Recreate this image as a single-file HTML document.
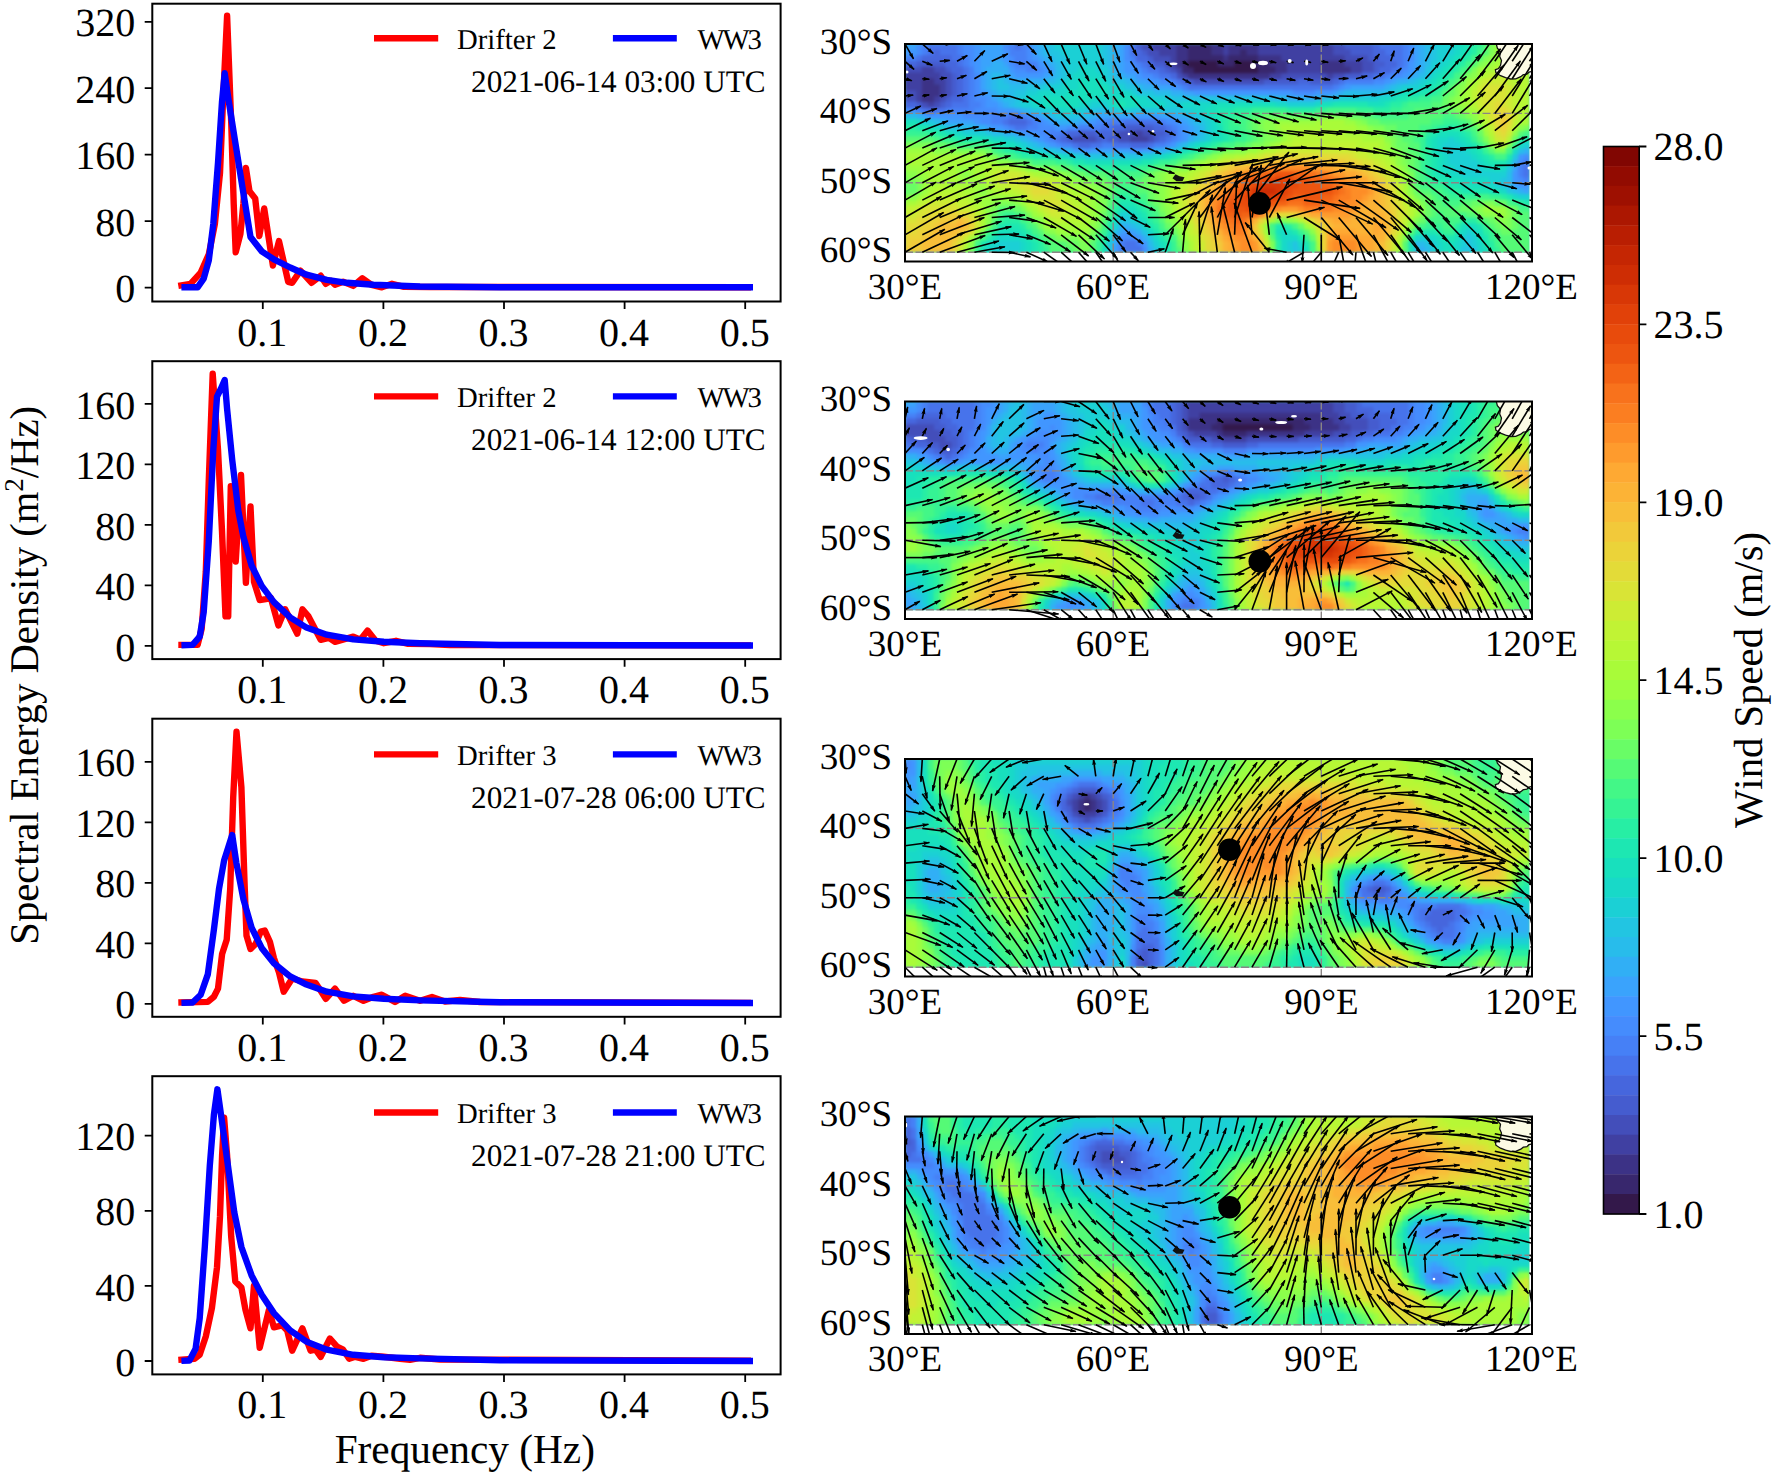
<!DOCTYPE html>
<html lang="en"><head><meta charset="utf-8"><title>Spectral energy density and wind speed</title>
<style>html,body{margin:0;padding:0;background:#fff}svg{display:block}text{font-family:"Liberation Serif", "DejaVu Serif", serif;fill:#000;font-kerning:none;text-rendering:geometricPrecision}.t40{font-size:40px}.tm{font-size:37px}.tl{font-size:28.7px}.td{font-size:31.2px}.sp{fill:none;stroke:#000;stroke-width:2}.tk{stroke:#000;stroke-width:1.8;fill:none}.r{fill:none;stroke:#f00;stroke-width:6.4;stroke-linejoin:round;stroke-linecap:butt}.b{fill:none;stroke:#00f;stroke-width:6.4;stroke-linejoin:round;stroke-linecap:butt}.q path{stroke:#000;stroke-width:1.6;fill:none;marker-end:url(#ah)}.gl{stroke:#8a8585;stroke-width:1.4;fill:none;stroke-dasharray:8 2.5}</style></head><body>
<svg width="1772" height="1475" viewBox="0 0 1772 1475">
<defs><marker id="ah" markerUnits="userSpaceOnUse" markerWidth="8" markerHeight="5" refX="6" refY="2" orient="auto"><path d="M0 0L6.8 2L0 4L0.9 2Z" fill="#000" stroke="none"/></marker>
<filter id="bl" x="-5%" y="-10%" width="110%" height="120%" color-interpolation-filters="sRGB"><feGaussianBlur stdDeviation="1.4"/></filter>
<clipPath id="cd0"><rect x="905" y="44" width="624.5" height="208.7"/></clipPath>
<clipPath id="ca0"><rect x="905" y="44" width="627" height="217.5"/></clipPath>
<clipPath id="cd1"><rect x="905" y="401.5" width="624.5" height="208.7"/></clipPath>
<clipPath id="ca1"><rect x="905" y="401.5" width="627" height="217.5"/></clipPath>
<clipPath id="cd2"><rect x="905" y="759" width="624.5" height="208.7"/></clipPath>
<clipPath id="ca2"><rect x="905" y="759" width="627" height="217.5"/></clipPath>
<clipPath id="cd3"><rect x="905" y="1116.5" width="624.5" height="208.7"/></clipPath>
<clipPath id="ca3"><rect x="905" y="1116.5" width="627" height="217.5"/></clipPath>
</defs>
<rect width="1772" height="1475" fill="#fff"/>
<g>
<clipPath id="cp0"><rect x="152.3" y="3.7" width="628.3" height="297.8"/></clipPath>
<g clip-path="url(#cp0)">
<polyline class="r" points="178.3,285.9 190.5,283.8 200.7,272.6 208.8,254.3 214.9,223.8 220,172.9 223,101.7 227.1,15.8 231.2,122 233.7,203.5 235.7,252.3 240.4,234 243.4,203.5 245.9,167.9 249.5,191.3 255.2,198.4 259.3,236 264.2,208.5 272.9,265.5 279,241.1 288.2,281.8 292.2,282.8 300.4,270.6 311.6,282.8 320.7,275.7 325.8,283.8 330.9,280.8 335,284.8 343.1,281.8 353.3,285.9 362.4,278.3 371.6,284.8 381.8,287.3 392,283.8 404,286.9 430,287 751,287.2"/>
<polyline class="b" points="181.4,287.3 197.6,287.3 203.7,278.7 208.8,260.4 213.3,223.8 218,162.8 222,101.7 224.7,73.2 228.2,97.7 235.3,142.4 243.4,193.3 250.5,237 261.7,251.3 273.9,259.4 290.2,267.5 306.5,274.7 326.8,279.8 347.2,282.8 373.6,284.8 420,286.5 500,287.2 753,287.3"/>
</g>
<rect class="sp" x="152.3" y="3.7" width="628.3" height="297.8"/>
<path class="tk" d="M262.8 301.5v7.6M383.4 301.5v7.6M504 301.5v7.6M624.6 301.5v7.6M745.2 301.5v7.6M152.3 287.6h-7.6M152.3 221.2h-7.6M152.3 154.7h-7.6M152.3 88.2h-7.6M152.3 21.8h-7.6"/>
<text class="t40" x="262.3" y="345.5" text-anchor="middle">0.1</text>
<text class="t40" x="382.9" y="345.5" text-anchor="middle">0.2</text>
<text class="t40" x="503.5" y="345.5" text-anchor="middle">0.3</text>
<text class="t40" x="624.1" y="345.5" text-anchor="middle">0.4</text>
<text class="t40" x="744.7" y="345.5" text-anchor="middle">0.5</text>
<text class="t40" x="135.3" y="302.2" text-anchor="end">0</text>
<text class="t40" x="135.3" y="235.8" text-anchor="end">80</text>
<text class="t40" x="135.3" y="169.3" text-anchor="end">160</text>
<text class="t40" x="135.3" y="102.8" text-anchor="end">240</text>
<text class="t40" x="135.3" y="36.4" text-anchor="end">320</text>
<path d="M374 38.3H438.2" stroke="#f00" stroke-width="6.4" fill="none"/>
<path d="M612.9 38.3H676.8" stroke="#00f" stroke-width="6.4" fill="none"/>
<text class="tl" x="457" y="48.9">Drifter 2</text>
<text class="tl" x="697.4" y="48.9" letter-spacing="-2">WW3</text>
<text class="td" x="765.6" y="91.5" text-anchor="end">2021-06-14 03:00 UTC</text>
</g>
<g>
<clipPath id="cp1"><rect x="152.3" y="361.2" width="628.3" height="297.9"/></clipPath>
<g clip-path="url(#cp1)">
<polyline class="r" points="178.3,644.9 197.6,644.9 201.7,628.6 205.8,571.6 208.8,480.1 212.7,373.8 218,449.6 222,531 225.5,616.4 228.2,616.4 230.8,486.2 235.7,561.5 241,475 245.9,582.8 250.5,506.5 254,581.8 259.7,600.1 265.8,599.1 270.9,598.1 278.4,625.5 285.1,609.3 297.3,633.7 302.4,609.3 308.5,616.4 320.7,639.8 328.9,637.8 335,641.8 353.3,636.7 360.4,639.8 367.5,630.6 375.7,640.8 383.8,643.2 396,640.8 408.2,643.9 430,644 450,645 751,645.4"/>
<polyline class="b" points="181.4,645.3 192.6,644.9 199.7,636.7 203.7,612.3 208.8,541.1 213.3,449.6 217,396.7 221,388.5 224.7,380 227.1,408.9 232.2,459.7 238.3,510.6 243.4,537 251.6,565.5 261.7,585.9 273.9,602.1 290.2,617.4 306.5,627.6 326.8,634.7 353.3,639.4 383.8,641.8 420,643.2 500,645 753,645.5"/>
</g>
<rect class="sp" x="152.3" y="361.2" width="628.3" height="297.9"/>
<path class="tk" d="M262.8 659.1v7.6M383.4 659.1v7.6M504 659.1v7.6M624.6 659.1v7.6M745.2 659.1v7.6M152.3 645.9h-7.6M152.3 585.4h-7.6M152.3 524.9h-7.6M152.3 464.4h-7.6M152.3 403.9h-7.6"/>
<text class="t40" x="262.3" y="703.1" text-anchor="middle">0.1</text>
<text class="t40" x="382.9" y="703.1" text-anchor="middle">0.2</text>
<text class="t40" x="503.5" y="703.1" text-anchor="middle">0.3</text>
<text class="t40" x="624.1" y="703.1" text-anchor="middle">0.4</text>
<text class="t40" x="744.7" y="703.1" text-anchor="middle">0.5</text>
<text class="t40" x="135.3" y="660.5" text-anchor="end">0</text>
<text class="t40" x="135.3" y="600" text-anchor="end">40</text>
<text class="t40" x="135.3" y="539.5" text-anchor="end">80</text>
<text class="t40" x="135.3" y="479" text-anchor="end">120</text>
<text class="t40" x="135.3" y="418.5" text-anchor="end">160</text>
<path d="M374 396.4H438.2" stroke="#f00" stroke-width="6.4" fill="none"/>
<path d="M612.9 396.4H676.8" stroke="#00f" stroke-width="6.4" fill="none"/>
<text class="tl" x="457" y="406.9">Drifter 2</text>
<text class="tl" x="697.4" y="406.9" letter-spacing="-2">WW3</text>
<text class="td" x="765.6" y="449.6" text-anchor="end">2021-06-14 12:00 UTC</text>
</g>
<g>
<clipPath id="cp2"><rect x="152.3" y="718.7" width="628.3" height="298.1"/></clipPath>
<g clip-path="url(#cp2)">
<polyline class="r" points="178.3,1002.5 207.8,1001.9 213.9,996.8 218,988.6 222.1,954 226.7,939.8 230.2,889 233.2,797.4 236.5,731.8 241.4,787.2 244.4,878.8 246.5,935.7 250.5,949 255.6,943.9 260.7,931.7 264.8,930.6 269.9,941.8 273.9,958.1 279,972.4 283.7,991.7 292.2,978.5 302.4,981.5 315.6,983 320.7,990.7 325.8,998.8 335,988.6 344.1,1000.8 353.3,995.8 363.5,1000.8 373.6,996.8 381.8,994.7 395,1001.9 405.2,995.8 420,1000.8 432,997 445,1001.5 460,1000 480,1002 751,1002.9"/>
<polyline class="b" points="181.4,1002.9 192.6,1002.5 200.7,994.7 207.8,974.4 213.9,929.6 219,888.9 224.1,860.5 232.2,835 236.3,862.5 243.4,899.1 251.6,927.6 261.7,947.9 273.9,963.2 290.2,976.4 306.5,984.6 326.8,991.7 353.3,996.4 383.8,998.8 420,1000.4 500,1002.3 753,1003"/>
</g>
<rect class="sp" x="152.3" y="718.7" width="628.3" height="298.1"/>
<path class="tk" d="M262.8 1016.8v7.6M383.4 1016.8v7.6M504 1016.8v7.6M624.6 1016.8v7.6M745.2 1016.8v7.6M152.3 1003.8h-7.6M152.3 943.3h-7.6M152.3 882.8h-7.6M152.3 822.3h-7.6M152.3 761.8h-7.6"/>
<text class="t40" x="262.3" y="1060.8" text-anchor="middle">0.1</text>
<text class="t40" x="382.9" y="1060.8" text-anchor="middle">0.2</text>
<text class="t40" x="503.5" y="1060.8" text-anchor="middle">0.3</text>
<text class="t40" x="624.1" y="1060.8" text-anchor="middle">0.4</text>
<text class="t40" x="744.7" y="1060.8" text-anchor="middle">0.5</text>
<text class="t40" x="135.3" y="1018.4" text-anchor="end">0</text>
<text class="t40" x="135.3" y="957.9" text-anchor="end">40</text>
<text class="t40" x="135.3" y="897.4" text-anchor="end">80</text>
<text class="t40" x="135.3" y="836.9" text-anchor="end">120</text>
<text class="t40" x="135.3" y="776.4" text-anchor="end">160</text>
<path d="M374 754.4H438.2" stroke="#f00" stroke-width="6.4" fill="none"/>
<path d="M612.9 754.4H676.8" stroke="#00f" stroke-width="6.4" fill="none"/>
<text class="tl" x="457" y="765">Drifter 3</text>
<text class="tl" x="697.4" y="765" letter-spacing="-2">WW3</text>
<text class="td" x="765.6" y="807.6" text-anchor="end">2021-07-28 06:00 UTC</text>
</g>
<g>
<clipPath id="cp3"><rect x="152.3" y="1076.2" width="628.3" height="298.2"/></clipPath>
<g clip-path="url(#cp3)">
<polyline class="r" points="178.3,1359.9 194.6,1358.8 199.7,1354.8 205.8,1336.5 211.9,1308 217,1267.3 220,1216.4 222.1,1155.4 224.1,1117.7 227.1,1155.4 231.2,1236.8 235.3,1281.5 241.4,1287.6 245.5,1310 250.5,1328.3 254,1285.6 259.7,1347.7 268.9,1310 273.9,1327.3 282.1,1325.3 287.2,1330.4 292.2,1350.7 302.4,1328.3 310.6,1350.7 315.6,1349.7 320.7,1356.8 329.9,1338.5 337,1346.6 343.1,1349.7 349.2,1358.8 355.3,1356.8 363.5,1358.8 371.6,1355.8 383.8,1356.8 400,1358.8 410,1359.8 420,1357.8 440,1359.5 751,1360.6"/>
<polyline class="b" points="181.4,1360.9 189.5,1360.5 195.6,1348.7 199.7,1318.2 204.8,1247 209.8,1165.6 213.9,1114.7 217.4,1089.3 221,1114.7 227.1,1159.5 234.3,1212.4 241.4,1247 251.6,1275.4 261.7,1294.8 273.9,1313.1 290.2,1330.4 306.5,1341.6 326.8,1349.7 353.3,1354.8 383.8,1357.2 420,1358.4 500,1360.3 753,1361"/>
</g>
<rect class="sp" x="152.3" y="1076.2" width="628.3" height="298.2"/>
<path class="tk" d="M262.8 1374.4v7.6M383.4 1374.4v7.6M504 1374.4v7.6M624.6 1374.4v7.6M745.2 1374.4v7.6M152.3 1361h-7.6M152.3 1285.9h-7.6M152.3 1210.8h-7.6M152.3 1135.7h-7.6"/>
<text class="t40" x="262.3" y="1418.4" text-anchor="middle">0.1</text>
<text class="t40" x="382.9" y="1418.4" text-anchor="middle">0.2</text>
<text class="t40" x="503.5" y="1418.4" text-anchor="middle">0.3</text>
<text class="t40" x="624.1" y="1418.4" text-anchor="middle">0.4</text>
<text class="t40" x="744.7" y="1418.4" text-anchor="middle">0.5</text>
<text class="t40" x="135.3" y="1375.6" text-anchor="end">0</text>
<text class="t40" x="135.3" y="1300.5" text-anchor="end">40</text>
<text class="t40" x="135.3" y="1225.4" text-anchor="end">80</text>
<text class="t40" x="135.3" y="1150.3" text-anchor="end">120</text>
<path d="M374 1112.5H438.2" stroke="#f00" stroke-width="6.4" fill="none"/>
<path d="M612.9 1112.5H676.8" stroke="#00f" stroke-width="6.4" fill="none"/>
<text class="tl" x="457" y="1123.1">Drifter 3</text>
<text class="tl" x="697.4" y="1123.1" letter-spacing="-2">WW3</text>
<text class="td" x="765.6" y="1165.7" text-anchor="end">2021-07-28 21:00 UTC</text>
</g>
<text class="t40" style="font-size:40.7px" transform="translate(37.6 675.3) rotate(-90)" text-anchor="middle">Spectral Energy Density (m<tspan font-size="27" dy="-15">2</tspan><tspan dy="15">/Hz)</tspan></text>
<text class="t40" style="font-size:41.3px" x="464.8" y="1463.3" text-anchor="middle">Frequency (Hz)</text>
<g clip-path="url(#cd0)"><g filter="url(#bl)">
<rect x="885" y="24" width="664.5" height="248.2" fill="#3fd6a8"/>
<path fill="#3aa3fc" d="M904.7 43.7h12.2v6.4h-12.2zM979.9 43.7h23.7v6.4h-23.7zM1031.9 43.7h6.4v6.4h-6.4zM1118.7 43.7h6.4v6.4h-6.4zM1413.6 43.7h6.4v6.4h-6.4zM979.9 49.5h23.7v6.4h-23.7zM1031.9 49.5h6.4v6.4h-6.4zM1118.7 49.5h6.4v6.4h-6.4zM1413.6 49.5h6.4v6.4h-6.4zM979.9 55.3h23.7v6.4h-23.7zM1037.7 55.3h6.4v6.4h-6.4zM1118.7 55.3h6.4v6.4h-6.4zM1413.6 55.3h6.4v6.4h-6.4zM979.9 61h12.2v6.4h-12.2zM1003 61h6.4v6.4h-6.4zM1043.5 61h6.4v6.4h-6.4zM1118.7 61h6.4v6.4h-6.4zM1413.6 61h6.4v6.4h-6.4zM979.9 66.8h6.4v6.4h-6.4zM1049.3 66.8h6.4v6.4h-6.4zM1118.7 66.8h6.4v6.4h-6.4zM1413.6 66.8h6.4v6.4h-6.4zM979.9 72.6h6.4v6.4h-6.4zM1008.8 72.6h6.4v6.4h-6.4zM1043.5 72.6h6.4v6.4h-6.4zM1124.4 72.6h12.2v6.4h-12.2zM1407.8 72.6h6.4v6.4h-6.4zM979.9 78.4h6.4v6.4h-6.4zM1136 78.4h12.2v6.4h-12.2zM1390.4 78.4h6.4v6.4h-6.4zM979.9 84.2h6.4v6.4h-6.4zM1153.3 84.2h17.9v6.4h-17.9zM1350 84.2h35.3v6.4h-35.3zM985.7 90h6.4v6.4h-6.4zM1182.3 90h12.2v6.4h-12.2zM1332.6 90h6.4v6.4h-6.4zM991.4 95.7h6.4v6.4h-6.4zM997.2 101.5h6.4v6.4h-6.4zM1014.6 107.3h6.4v6.4h-6.4zM922 113.1h6.4v6.4h-6.4zM1037.7 113.1h6.4v6.4h-6.4zM1095.5 113.1h41.1v6.4h-41.1zM1159.1 113.1h17.9v6.4h-17.9zM945.2 118.9h29.5v6.4h-29.5zM1049.3 118.9h6.4v6.4h-6.4zM1078.2 118.9h12.2v6.4h-12.2zM1182.3 118.9h6.4v6.4h-6.4zM985.7 124.7h6.4v6.4h-6.4zM1188 124.7h6.4v6.4h-6.4zM1014.6 130.4h6.4v6.4h-6.4zM1188 130.4h6.4v6.4h-6.4zM1031.9 136.2h6.4v6.4h-6.4zM1043.5 142h6.4v6.4h-6.4zM1072.4 147.8h12.2v6.4h-12.2zM1089.7 147.8h41.1v6.4h-41.1zM1141.8 147.8h12.2v6.4h-12.2zM1511.9 165.1h6.4v6.4h-6.4zM1511.9 182.5h6.4v6.4h-6.4zM1523.4 188.3h6.4v6.4h-6.4zM1118.7 228.7h6.4v6.4h-6.4zM1130.2 228.7h6.4v6.4h-6.4zM1112.9 240.3h6.4v6.4h-6.4z"/>
<path fill="#458cfd" d="M916.3 43.7h6.4v6.4h-6.4zM962.5 43.7h12.2v6.4h-12.2zM1003 43.7h6.4v6.4h-6.4zM1026.1 43.7h6.4v6.4h-6.4zM1124.4 43.7h6.4v6.4h-6.4zM1407.8 43.7h6.4v6.4h-6.4zM916.3 49.5h6.4v6.4h-6.4zM962.5 49.5h12.2v6.4h-12.2zM1026.1 49.5h6.4v6.4h-6.4zM1124.4 49.5h6.4v6.4h-6.4zM1407.8 49.5h6.4v6.4h-6.4zM968.3 55.3h6.4v6.4h-6.4zM1008.8 55.3h6.4v6.4h-6.4zM1026.1 55.3h6.4v6.4h-6.4zM1124.4 55.3h6.4v6.4h-6.4zM1407.8 55.3h6.4v6.4h-6.4zM968.3 61h6.4v6.4h-6.4zM1008.8 61h6.4v6.4h-6.4zM1130.2 61h6.4v6.4h-6.4zM1014.6 66.8h12.2v6.4h-12.2zM1037.7 66.8h6.4v6.4h-6.4zM1136 66.8h6.4v6.4h-6.4zM1402 66.8h6.4v6.4h-6.4zM974.1 72.6h6.4v6.4h-6.4zM1141.8 72.6h12.2v6.4h-12.2zM1390.4 72.6h12.2v6.4h-12.2zM974.1 78.4h6.4v6.4h-6.4zM1159.1 78.4h12.2v6.4h-12.2zM1373.1 78.4h12.2v6.4h-12.2zM974.1 84.2h6.4v6.4h-6.4zM1176.5 84.2h6.4v6.4h-6.4zM1338.4 84.2h6.4v6.4h-6.4zM974.1 90h6.4v6.4h-6.4zM1292.1 90h23.7v6.4h-23.7zM974.1 95.7h12.2v6.4h-12.2zM979.9 101.5h6.4v6.4h-6.4zM904.7 107.3h12.2v6.4h-12.2zM974.1 107.3h23.7v6.4h-23.7zM962.5 113.1h29.5v6.4h-29.5zM1026.1 113.1h6.4v6.4h-6.4zM979.9 118.9h12.2v6.4h-12.2zM1037.7 118.9h6.4v6.4h-6.4zM1095.5 118.9h12.2v6.4h-12.2zM1164.9 118.9h12.2v6.4h-12.2zM1003 124.7h6.4v6.4h-6.4zM1037.7 124.7h17.9v6.4h-17.9zM1066.6 124.7h12.2v6.4h-12.2zM1176.5 124.7h6.4v6.4h-6.4zM1037.7 130.4h12.2v6.4h-12.2zM1176.5 130.4h6.4v6.4h-6.4zM1043.5 136.2h6.4v6.4h-6.4zM1176.5 136.2h6.4v6.4h-6.4zM1055 142h6.4v6.4h-6.4zM1164.9 142h6.4v6.4h-6.4zM1523.4 153.6h6.4v6.4h-6.4zM1517.6 159.3h6.4v6.4h-6.4zM1517.6 176.7h6.4v6.4h-6.4zM1118.7 234.5h17.9v6.4h-17.9zM1141.8 246.1h6.4v6.4h-6.4z"/>
<path fill="#4680f6" d="M922 43.7h6.4v6.4h-6.4zM956.7 43.7h6.4v6.4h-6.4zM1008.8 43.7h6.4v6.4h-6.4zM1020.4 43.7h6.4v6.4h-6.4zM1402 43.7h6.4v6.4h-6.4zM922 49.5h6.4v6.4h-6.4zM956.7 49.5h6.4v6.4h-6.4zM1008.8 49.5h17.9v6.4h-17.9zM1402 49.5h6.4v6.4h-6.4zM904.7 55.3h12.2v6.4h-12.2zM962.5 55.3h6.4v6.4h-6.4zM1014.6 55.3h12.2v6.4h-12.2zM1130.2 55.3h6.4v6.4h-6.4zM1402 55.3h6.4v6.4h-6.4zM962.5 61h6.4v6.4h-6.4zM1014.6 61h23.7v6.4h-23.7zM1136 61h6.4v6.4h-6.4zM1402 61h6.4v6.4h-6.4zM968.3 66.8h6.4v6.4h-6.4zM1026.1 66.8h12.2v6.4h-12.2zM1141.8 66.8h6.4v6.4h-6.4zM1396.2 66.8h6.4v6.4h-6.4zM968.3 72.6h6.4v6.4h-6.4zM1153.3 72.6h6.4v6.4h-6.4zM1384.6 72.6h6.4v6.4h-6.4zM968.3 78.4h6.4v6.4h-6.4zM1170.7 78.4h6.4v6.4h-6.4zM1344.2 78.4h29.5v6.4h-29.5zM968.3 84.2h6.4v6.4h-6.4zM1182.3 84.2h6.4v6.4h-6.4zM1332.6 84.2h6.4v6.4h-6.4zM968.3 90h6.4v6.4h-6.4zM968.3 95.7h6.4v6.4h-6.4zM968.3 101.5h12.2v6.4h-12.2zM916.3 107.3h6.4v6.4h-6.4zM945.2 107.3h29.5v6.4h-29.5zM991.4 113.1h17.9v6.4h-17.9zM1020.4 113.1h6.4v6.4h-6.4zM991.4 118.9h12.2v6.4h-12.2zM1031.9 118.9h6.4v6.4h-6.4zM1107.1 118.9h17.9v6.4h-17.9zM1159.1 118.9h6.4v6.4h-6.4zM1008.8 124.7h6.4v6.4h-6.4zM1026.1 124.7h12.2v6.4h-12.2zM1078.2 124.7h23.7v6.4h-23.7zM1170.7 124.7h6.4v6.4h-6.4zM1049.3 130.4h12.2v6.4h-12.2zM1049.3 136.2h6.4v6.4h-6.4zM1170.7 136.2h6.4v6.4h-6.4zM1060.8 142h12.2v6.4h-12.2zM1101.3 142h12.2v6.4h-12.2zM1153.3 142h12.2v6.4h-12.2zM1523.4 159.3h6.4v6.4h-6.4zM1517.6 165.1h6.4v6.4h-6.4zM1517.6 170.9h6.4v6.4h-6.4zM1523.4 176.7h6.4v6.4h-6.4zM1118.7 240.3h6.4v6.4h-6.4zM1136 240.3h6.4v6.4h-6.4zM1118.7 246.1h6.4v6.4h-6.4z"/>
<path fill="#4773eb" d="M927.8 43.7h29.5v6.4h-29.5zM1014.6 43.7h6.4v6.4h-6.4zM1130.2 43.7h6.4v6.4h-6.4zM1378.9 43.7h23.7v6.4h-23.7zM927.8 49.5h6.4v6.4h-6.4zM939.4 49.5h17.9v6.4h-17.9zM1130.2 49.5h6.4v6.4h-6.4zM1384.6 49.5h17.9v6.4h-17.9zM916.3 55.3h6.4v6.4h-6.4zM951 55.3h12.2v6.4h-12.2zM1390.4 55.3h12.2v6.4h-12.2zM956.7 61h6.4v6.4h-6.4zM1141.8 61h6.4v6.4h-6.4zM1396.2 61h6.4v6.4h-6.4zM962.5 66.8h6.4v6.4h-6.4zM1147.6 66.8h12.2v6.4h-12.2zM1390.4 66.8h6.4v6.4h-6.4zM962.5 72.6h6.4v6.4h-6.4zM1159.1 72.6h12.2v6.4h-12.2zM1373.1 72.6h12.2v6.4h-12.2zM962.5 78.4h6.4v6.4h-6.4zM1176.5 78.4h6.4v6.4h-6.4zM1338.4 78.4h6.4v6.4h-6.4zM962.5 84.2h6.4v6.4h-6.4zM1188 84.2h145.2v6.4h-145.2zM962.5 90h6.4v6.4h-6.4zM962.5 95.7h6.4v6.4h-6.4zM951 101.5h17.9v6.4h-17.9zM922 107.3h6.4v6.4h-6.4zM933.6 107.3h12.2v6.4h-12.2zM1008.8 113.1h12.2v6.4h-12.2zM1003 118.9h6.4v6.4h-6.4zM1026.1 118.9h6.4v6.4h-6.4zM1124.4 118.9h35.3v6.4h-35.3zM1014.6 124.7h12.2v6.4h-12.2zM1101.3 124.7h12.2v6.4h-12.2zM1164.9 124.7h6.4v6.4h-6.4zM1060.8 130.4h6.4v6.4h-6.4zM1170.7 130.4h6.4v6.4h-6.4zM1055 136.2h6.4v6.4h-6.4zM1164.9 136.2h6.4v6.4h-6.4zM1072.4 142h6.4v6.4h-6.4zM1089.7 142h12.2v6.4h-12.2zM1112.9 142h17.9v6.4h-17.9zM1147.6 142h6.4v6.4h-6.4zM1523.4 165.1h6.4v6.4h-6.4zM1523.4 170.9h6.4v6.4h-6.4zM1124.4 240.3h12.2v6.4h-12.2zM1124.4 246.1h17.9v6.4h-17.9z"/>
<path fill="#4196ff" d="M974.1 43.7h6.4v6.4h-6.4zM904.7 49.5h12.2v6.4h-12.2zM974.1 49.5h6.4v6.4h-6.4zM1003 49.5h6.4v6.4h-6.4zM974.1 55.3h6.4v6.4h-6.4zM1003 55.3h6.4v6.4h-6.4zM1031.9 55.3h6.4v6.4h-6.4zM974.1 61h6.4v6.4h-6.4zM1037.7 61h6.4v6.4h-6.4zM1124.4 61h6.4v6.4h-6.4zM1407.8 61h6.4v6.4h-6.4zM974.1 66.8h6.4v6.4h-6.4zM1008.8 66.8h6.4v6.4h-6.4zM1043.5 66.8h6.4v6.4h-6.4zM1124.4 66.8h12.2v6.4h-12.2zM1407.8 66.8h6.4v6.4h-6.4zM1014.6 72.6h29.5v6.4h-29.5zM1136 72.6h6.4v6.4h-6.4zM1402 72.6h6.4v6.4h-6.4zM1147.6 78.4h12.2v6.4h-12.2zM1384.6 78.4h6.4v6.4h-6.4zM1170.7 84.2h6.4v6.4h-6.4zM1344.2 84.2h6.4v6.4h-6.4zM979.9 90h6.4v6.4h-6.4zM1193.8 90h98.9v6.4h-98.9zM1315.3 90h17.9v6.4h-17.9zM985.7 95.7h6.4v6.4h-6.4zM985.7 101.5h12.2v6.4h-12.2zM997.2 107.3h17.9v6.4h-17.9zM927.8 113.1h35.3v6.4h-35.3zM1031.9 113.1h6.4v6.4h-6.4zM1136 113.1h23.7v6.4h-23.7zM974.1 118.9h6.4v6.4h-6.4zM1043.5 118.9h6.4v6.4h-6.4zM1089.7 118.9h6.4v6.4h-6.4zM1176.5 118.9h6.4v6.4h-6.4zM991.4 124.7h12.2v6.4h-12.2zM1055 124.7h12.2v6.4h-12.2zM1182.3 124.7h6.4v6.4h-6.4zM1020.4 130.4h17.9v6.4h-17.9zM1182.3 130.4h6.4v6.4h-6.4zM1037.7 136.2h6.4v6.4h-6.4zM1182.3 136.2h6.4v6.4h-6.4zM1049.3 142h6.4v6.4h-6.4zM1170.7 142h6.4v6.4h-6.4zM1084 147.8h6.4v6.4h-6.4zM1130.2 147.8h12.2v6.4h-12.2zM1517.6 153.6h6.4v6.4h-6.4zM1511.9 170.9h6.4v6.4h-6.4zM1511.9 176.7h6.4v6.4h-6.4zM1517.6 182.5h12.2v6.4h-12.2zM1124.4 228.7h6.4v6.4h-6.4zM1136 234.5h6.4v6.4h-6.4zM1141.8 240.3h6.4v6.4h-6.4zM1112.9 246.1h6.4v6.4h-6.4z"/>
<path fill="#31aff5" d="M1037.7 43.7h6.4v6.4h-6.4zM1112.9 43.7h6.4v6.4h-6.4zM1419.3 43.7h6.4v6.4h-6.4zM1037.7 49.5h6.4v6.4h-6.4zM1112.9 49.5h6.4v6.4h-6.4zM1419.3 49.5h6.4v6.4h-6.4zM1043.5 55.3h6.4v6.4h-6.4zM1112.9 55.3h6.4v6.4h-6.4zM1419.3 55.3h6.4v6.4h-6.4zM991.4 61h12.2v6.4h-12.2zM1049.3 61h6.4v6.4h-6.4zM1112.9 61h6.4v6.4h-6.4zM1419.3 61h6.4v6.4h-6.4zM985.7 66.8h23.7v6.4h-23.7zM1112.9 66.8h6.4v6.4h-6.4zM1419.3 66.8h6.4v6.4h-6.4zM985.7 72.6h6.4v6.4h-6.4zM1003 72.6h6.4v6.4h-6.4zM1049.3 72.6h6.4v6.4h-6.4zM1118.7 72.6h6.4v6.4h-6.4zM1413.6 72.6h6.4v6.4h-6.4zM985.7 78.4h6.4v6.4h-6.4zM1008.8 78.4h35.3v6.4h-35.3zM1130.2 78.4h6.4v6.4h-6.4zM1396.2 78.4h12.2v6.4h-12.2zM985.7 84.2h6.4v6.4h-6.4zM1141.8 84.2h12.2v6.4h-12.2zM1384.6 84.2h6.4v6.4h-6.4zM991.4 90h6.4v6.4h-6.4zM1170.7 90h12.2v6.4h-12.2zM1338.4 90h6.4v6.4h-6.4zM997.2 95.7h6.4v6.4h-6.4zM1286.3 95.7h29.5v6.4h-29.5zM1003 101.5h6.4v6.4h-6.4zM1020.4 107.3h6.4v6.4h-6.4zM916.3 113.1h6.4v6.4h-6.4zM1043.5 113.1h6.4v6.4h-6.4zM1089.7 113.1h6.4v6.4h-6.4zM1176.5 113.1h12.2v6.4h-12.2zM939.4 118.9h6.4v6.4h-6.4zM1055 118.9h23.7v6.4h-23.7zM1188 118.9h6.4v6.4h-6.4zM974.1 124.7h12.2v6.4h-12.2zM1193.8 124.7h6.4v6.4h-6.4zM1003 130.4h12.2v6.4h-12.2zM1193.8 130.4h6.4v6.4h-6.4zM1026.1 136.2h6.4v6.4h-6.4zM1188 136.2h6.4v6.4h-6.4zM1037.7 142h6.4v6.4h-6.4zM1176.5 142h6.4v6.4h-6.4zM1060.8 147.8h12.2v6.4h-12.2zM1153.3 147.8h12.2v6.4h-12.2zM1523.4 147.8h6.4v6.4h-6.4zM1511.9 159.3h6.4v6.4h-6.4zM1517.6 188.3h6.4v6.4h-6.4zM1118.7 223h12.2v6.4h-12.2zM1136 228.7h6.4v6.4h-6.4zM1112.9 234.5h6.4v6.4h-6.4zM1141.8 234.5h6.4v6.4h-6.4zM1147.6 246.1h6.4v6.4h-6.4zM1419.3 246.1h6.4v6.4h-6.4z"/>
<path fill="#28bceb" d="M1043.5 43.7h6.4v6.4h-6.4zM1107.1 43.7h6.4v6.4h-6.4zM1425.1 43.7h6.4v6.4h-6.4zM1043.5 49.5h6.4v6.4h-6.4zM1107.1 49.5h6.4v6.4h-6.4zM1425.1 49.5h6.4v6.4h-6.4zM1049.3 55.3h6.4v6.4h-6.4zM1107.1 55.3h6.4v6.4h-6.4zM1425.1 55.3h6.4v6.4h-6.4zM1055 61h6.4v6.4h-6.4zM1107.1 61h6.4v6.4h-6.4zM1425.1 61h6.4v6.4h-6.4zM1055 66.8h6.4v6.4h-6.4zM991.4 72.6h12.2v6.4h-12.2zM1055 72.6h6.4v6.4h-6.4zM1112.9 72.6h6.4v6.4h-6.4zM1419.3 72.6h6.4v6.4h-6.4zM991.4 78.4h6.4v6.4h-6.4zM1003 78.4h6.4v6.4h-6.4zM1043.5 78.4h12.2v6.4h-12.2zM1124.4 78.4h6.4v6.4h-6.4zM1407.8 78.4h6.4v6.4h-6.4zM991.4 84.2h6.4v6.4h-6.4zM1008.8 84.2h17.9v6.4h-17.9zM1136 84.2h6.4v6.4h-6.4zM1390.4 84.2h6.4v6.4h-6.4zM997.2 90h17.9v6.4h-17.9zM1153.3 90h17.9v6.4h-17.9zM1344.2 90h41.1v6.4h-41.1zM1003 95.7h12.2v6.4h-12.2zM1269 95.7h17.9v6.4h-17.9zM1315.3 95.7h12.2v6.4h-12.2zM1008.8 101.5h6.4v6.4h-6.4zM1026.1 107.3h6.4v6.4h-6.4zM1095.5 107.3h12.2v6.4h-12.2zM904.7 113.1h12.2v6.4h-12.2zM1049.3 113.1h6.4v6.4h-6.4zM1078.2 113.1h12.2v6.4h-12.2zM1188 113.1h6.4v6.4h-6.4zM933.6 118.9h6.4v6.4h-6.4zM1193.8 118.9h6.4v6.4h-6.4zM956.7 124.7h17.9v6.4h-17.9zM1199.6 124.7h6.4v6.4h-6.4zM991.4 130.4h12.2v6.4h-12.2zM1199.6 130.4h6.4v6.4h-6.4zM1020.4 136.2h6.4v6.4h-6.4zM1193.8 136.2h6.4v6.4h-6.4zM1031.9 142h6.4v6.4h-6.4zM1182.3 142h6.4v6.4h-6.4zM1055 147.8h6.4v6.4h-6.4zM1164.9 147.8h6.4v6.4h-6.4zM1517.6 147.8h6.4v6.4h-6.4zM1506.1 170.9h6.4v6.4h-6.4zM1506.1 176.7h6.4v6.4h-6.4zM1506.1 182.5h6.4v6.4h-6.4zM1511.9 188.3h6.4v6.4h-6.4zM1130.2 223h6.4v6.4h-6.4zM1112.9 228.7h6.4v6.4h-6.4zM1147.6 240.3h6.4v6.4h-6.4zM1413.6 240.3h12.2v6.4h-12.2zM1413.6 246.1h6.4v6.4h-6.4zM1425.1 246.1h6.4v6.4h-6.4z"/>
<path fill="#22c5e2" d="M1049.3 43.7h6.4v6.4h-6.4zM1101.3 43.7h6.4v6.4h-6.4zM1430.9 43.7h6.4v6.4h-6.4zM1049.3 49.5h12.2v6.4h-12.2zM1101.3 49.5h6.4v6.4h-6.4zM1430.9 49.5h6.4v6.4h-6.4zM1055 55.3h12.2v6.4h-12.2zM1101.3 55.3h6.4v6.4h-6.4zM1430.9 55.3h6.4v6.4h-6.4zM1060.8 61h6.4v6.4h-6.4zM1101.3 61h6.4v6.4h-6.4zM1060.8 66.8h6.4v6.4h-6.4zM1107.1 66.8h6.4v6.4h-6.4zM1425.1 66.8h6.4v6.4h-6.4zM1060.8 72.6h6.4v6.4h-6.4zM1107.1 72.6h6.4v6.4h-6.4zM1425.1 72.6h6.4v6.4h-6.4zM997.2 78.4h6.4v6.4h-6.4zM1055 78.4h6.4v6.4h-6.4zM1112.9 78.4h12.2v6.4h-12.2zM1413.6 78.4h6.4v6.4h-6.4zM997.2 84.2h12.2v6.4h-12.2zM1026.1 84.2h17.9v6.4h-17.9zM1124.4 84.2h12.2v6.4h-12.2zM1396.2 84.2h6.4v6.4h-6.4zM1014.6 90h12.2v6.4h-12.2zM1136 90h17.9v6.4h-17.9zM1384.6 90h6.4v6.4h-6.4zM1014.6 95.7h6.4v6.4h-6.4zM1170.7 95.7h98.9v6.4h-98.9zM1326.8 95.7h12.2v6.4h-12.2zM1014.6 101.5h6.4v6.4h-6.4zM1031.9 107.3h12.2v6.4h-12.2zM1084 107.3h12.2v6.4h-12.2zM1107.1 107.3h12.2v6.4h-12.2zM1130.2 107.3h52.6v6.4h-52.6zM1055 113.1h23.7v6.4h-23.7zM1193.8 113.1h6.4v6.4h-6.4zM927.8 118.9h6.4v6.4h-6.4zM1199.6 118.9h6.4v6.4h-6.4zM945.2 124.7h12.2v6.4h-12.2zM985.7 130.4h6.4v6.4h-6.4zM1014.6 136.2h6.4v6.4h-6.4zM1199.6 136.2h6.4v6.4h-6.4zM1026.1 142h6.4v6.4h-6.4zM1043.5 147.8h12.2v6.4h-12.2zM1170.7 147.8h6.4v6.4h-6.4zM1084 153.6h58.4v6.4h-58.4zM1511.9 153.6h6.4v6.4h-6.4zM1506.1 165.1h6.4v6.4h-6.4zM1500.3 176.7h6.4v6.4h-6.4zM1500.3 182.5h6.4v6.4h-6.4zM1506.1 188.3h6.4v6.4h-6.4zM1118.7 217.2h12.2v6.4h-12.2zM1136 223h6.4v6.4h-6.4zM1141.8 228.7h6.4v6.4h-6.4zM1147.6 234.5h6.4v6.4h-6.4zM1465.6 234.5h6.4v6.4h-6.4zM1107.1 240.3h6.4v6.4h-6.4zM1292.1 240.3h6.4v6.4h-6.4zM1425.1 240.3h6.4v6.4h-6.4zM1465.6 240.3h6.4v6.4h-6.4zM1107.1 246.1h6.4v6.4h-6.4zM1153.3 246.1h6.4v6.4h-6.4zM1292.1 246.1h6.4v6.4h-6.4zM1459.8 246.1h17.9v6.4h-17.9z"/>
<path fill="#1bd0d5" d="M1055 43.7h46.9v6.4h-46.9zM1436.7 43.7h17.9v6.4h-17.9zM1060.8 49.5h41.1v6.4h-41.1zM1436.7 49.5h17.9v6.4h-17.9zM1066.6 55.3h35.3v6.4h-35.3zM1436.7 55.3h12.2v6.4h-12.2zM1066.6 61h35.3v6.4h-35.3zM1430.9 61h12.2v6.4h-12.2zM1066.6 66.8h12.2v6.4h-12.2zM1095.5 66.8h12.2v6.4h-12.2zM1430.9 66.8h6.4v6.4h-6.4zM1066.6 72.6h6.4v6.4h-6.4zM1101.3 72.6h6.4v6.4h-6.4zM1060.8 78.4h6.4v6.4h-6.4zM1107.1 78.4h6.4v6.4h-6.4zM1419.3 78.4h6.4v6.4h-6.4zM1043.5 84.2h17.9v6.4h-17.9zM1118.7 84.2h6.4v6.4h-6.4zM1402 84.2h17.9v6.4h-17.9zM1026.1 90h12.2v6.4h-12.2zM1130.2 90h6.4v6.4h-6.4zM1390.4 90h6.4v6.4h-6.4zM1020.4 95.7h6.4v6.4h-6.4zM1147.6 95.7h23.7v6.4h-23.7zM1338.4 95.7h41.1v6.4h-41.1zM1020.4 101.5h12.2v6.4h-12.2zM1089.7 101.5h17.9v6.4h-17.9zM1164.9 101.5h17.9v6.4h-17.9zM1286.3 101.5h29.5v6.4h-29.5zM1043.5 107.3h17.9v6.4h-17.9zM1072.4 107.3h12.2v6.4h-12.2zM1118.7 107.3h12.2v6.4h-12.2zM1182.3 107.3h12.2v6.4h-12.2zM1199.6 113.1h6.4v6.4h-6.4zM922 118.9h6.4v6.4h-6.4zM1205.4 118.9h6.4v6.4h-6.4zM939.4 124.7h6.4v6.4h-6.4zM1205.4 124.7h6.4v6.4h-6.4zM962.5 130.4h23.7v6.4h-23.7zM1205.4 130.4h6.4v6.4h-6.4zM1003 136.2h12.2v6.4h-12.2zM1205.4 136.2h6.4v6.4h-6.4zM1448.3 136.2h6.4v6.4h-6.4zM1020.4 142h6.4v6.4h-6.4zM1188 142h6.4v6.4h-6.4zM1442.5 142h17.9v6.4h-17.9zM1523.4 142h6.4v6.4h-6.4zM1031.9 147.8h12.2v6.4h-12.2zM1176.5 147.8h6.4v6.4h-6.4zM1442.5 147.8h23.7v6.4h-23.7zM1072.4 153.6h12.2v6.4h-12.2zM1141.8 153.6h12.2v6.4h-12.2zM1448.3 153.6h23.7v6.4h-23.7zM1448.3 159.3h29.5v6.4h-29.5zM1454 165.1h29.5v6.4h-29.5zM1459.8 170.9h46.9v6.4h-46.9zM1488.7 176.7h12.2v6.4h-12.2zM1494.5 182.5h6.4v6.4h-6.4zM1517.6 194h12.2v6.4h-12.2zM1118.7 211.4h12.2v6.4h-12.2zM1130.2 217.2h6.4v6.4h-6.4zM1112.9 223h6.4v6.4h-6.4zM1465.6 228.7h6.4v6.4h-6.4zM1107.1 234.5h6.4v6.4h-6.4zM1419.3 234.5h6.4v6.4h-6.4zM1459.8 234.5h6.4v6.4h-6.4zM1471.4 234.5h6.4v6.4h-6.4zM997.2 240.3h23.7v6.4h-23.7zM1153.3 240.3h6.4v6.4h-6.4zM1286.3 240.3h6.4v6.4h-6.4zM1430.9 240.3h6.4v6.4h-6.4zM1459.8 240.3h6.4v6.4h-6.4zM1471.4 240.3h6.4v6.4h-6.4zM991.4 246.1h29.5v6.4h-29.5zM1286.3 246.1h6.4v6.4h-6.4zM1297.9 246.1h6.4v6.4h-6.4zM1430.9 246.1h6.4v6.4h-6.4z"/>
<path fill="#455ccf" d="M1136 43.7h6.4v6.4h-6.4zM1344.2 43.7h29.5v6.4h-29.5zM1141.8 49.5h6.4v6.4h-6.4zM1350 49.5h23.7v6.4h-23.7zM1147.6 55.3h6.4v6.4h-6.4zM1367.3 55.3h12.2v6.4h-12.2zM916.3 61h29.5v6.4h-29.5zM1153.3 61h12.2v6.4h-12.2zM1373.1 61h12.2v6.4h-12.2zM945.2 66.8h6.4v6.4h-6.4zM1164.9 66.8h6.4v6.4h-6.4zM1373.1 66.8h6.4v6.4h-6.4zM951 72.6h6.4v6.4h-6.4zM1344.2 72.6h17.9v6.4h-17.9zM951 78.4h6.4v6.4h-6.4zM1188 78.4h6.4v6.4h-6.4zM1263.2 78.4h35.3v6.4h-35.3zM1309.5 78.4h23.7v6.4h-23.7zM951 84.2h6.4v6.4h-6.4zM951 90h6.4v6.4h-6.4zM945.2 95.7h6.4v6.4h-6.4zM916.3 101.5h6.4v6.4h-6.4zM939.4 101.5h6.4v6.4h-6.4zM1124.4 124.7h29.5v6.4h-29.5zM1078.2 130.4h17.9v6.4h-17.9zM1112.9 130.4h6.4v6.4h-6.4zM1153.3 130.4h12.2v6.4h-12.2zM1066.6 136.2h6.4v6.4h-6.4zM1095.5 136.2h6.4v6.4h-6.4zM1107.1 136.2h12.2v6.4h-12.2zM1153.3 136.2h6.4v6.4h-6.4z"/>
<path fill="#434eba" d="M1141.8 43.7h12.2v6.4h-12.2zM1332.6 43.7h12.2v6.4h-12.2zM1147.6 49.5h12.2v6.4h-12.2zM1332.6 49.5h17.9v6.4h-17.9zM1153.3 55.3h17.9v6.4h-17.9zM1344.2 55.3h23.7v6.4h-23.7zM1164.9 61h6.4v6.4h-6.4zM1361.5 61h12.2v6.4h-12.2zM904.7 66.8h17.9v6.4h-17.9zM933.6 66.8h12.2v6.4h-12.2zM1170.7 66.8h6.4v6.4h-6.4zM1361.5 66.8h12.2v6.4h-12.2zM939.4 72.6h12.2v6.4h-12.2zM1176.5 72.6h6.4v6.4h-6.4zM1280.6 72.6h46.9v6.4h-46.9zM1332.6 72.6h12.2v6.4h-12.2zM945.2 78.4h6.4v6.4h-6.4zM1193.8 78.4h70v6.4h-70zM945.2 84.2h6.4v6.4h-6.4zM904.7 90h12.2v6.4h-12.2zM945.2 90h6.4v6.4h-6.4zM904.7 95.7h12.2v6.4h-12.2zM939.4 95.7h6.4v6.4h-6.4zM922 101.5h6.4v6.4h-6.4zM933.6 101.5h6.4v6.4h-6.4zM1118.7 130.4h17.9v6.4h-17.9zM1141.8 130.4h12.2v6.4h-12.2zM1072.4 136.2h23.7v6.4h-23.7zM1118.7 136.2h12.2v6.4h-12.2zM1147.6 136.2h6.4v6.4h-6.4z"/>
<path fill="#4040a2" d="M1153.3 43.7h23.7v6.4h-23.7zM1222.7 43.7h6.4v6.4h-6.4zM1257.4 43.7h75.8v6.4h-75.8zM1159.1 49.5h17.9v6.4h-17.9zM1222.7 49.5h6.4v6.4h-6.4zM1257.4 49.5h75.8v6.4h-75.8zM1170.7 55.3h6.4v6.4h-6.4zM1280.6 55.3h64.2v6.4h-64.2zM1170.7 61h6.4v6.4h-6.4zM1286.3 61h35.3v6.4h-35.3zM1344.2 61h17.9v6.4h-17.9zM922 66.8h12.2v6.4h-12.2zM1176.5 66.8h6.4v6.4h-6.4zM1286.3 66.8h35.3v6.4h-35.3zM1350 66.8h12.2v6.4h-12.2zM904.7 72.6h35.3v6.4h-35.3zM1182.3 72.6h6.4v6.4h-6.4zM1269 72.6h12.2v6.4h-12.2zM1326.8 72.6h6.4v6.4h-6.4zM904.7 78.4h17.9v6.4h-17.9zM933.6 78.4h12.2v6.4h-12.2zM904.7 84.2h17.9v6.4h-17.9zM939.4 84.2h6.4v6.4h-6.4zM916.3 90h6.4v6.4h-6.4zM939.4 90h6.4v6.4h-6.4zM916.3 95.7h6.4v6.4h-6.4zM933.6 95.7h6.4v6.4h-6.4zM927.8 101.5h6.4v6.4h-6.4zM1136 130.4h6.4v6.4h-6.4zM1130.2 136.2h17.9v6.4h-17.9z"/>
<path fill="#3c3286" d="M1176.5 43.7h12.2v6.4h-12.2zM1211.2 43.7h12.2v6.4h-12.2zM1228.5 43.7h29.5v6.4h-29.5zM1176.5 49.5h12.2v6.4h-12.2zM1211.2 49.5h12.2v6.4h-12.2zM1228.5 49.5h12.2v6.4h-12.2zM1245.9 49.5h12.2v6.4h-12.2zM1176.5 55.3h12.2v6.4h-12.2zM1222.7 55.3h6.4v6.4h-6.4zM1257.4 55.3h23.7v6.4h-23.7zM1176.5 61h6.4v6.4h-6.4zM1269 61h17.9v6.4h-17.9zM1321 61h23.7v6.4h-23.7zM1274.8 66.8h12.2v6.4h-12.2zM1321 66.8h29.5v6.4h-29.5zM1188 72.6h81.6v6.4h-81.6zM922 78.4h12.2v6.4h-12.2zM922 84.2h17.9v6.4h-17.9zM922 90h17.9v6.4h-17.9zM922 95.7h12.2v6.4h-12.2z"/>
<path fill="#38276d" d="M1188 43.7h23.7v6.4h-23.7zM1188 49.5h23.7v6.4h-23.7zM1240.1 49.5h6.4v6.4h-6.4zM1188 55.3h35.3v6.4h-35.3zM1228.5 55.3h29.5v6.4h-29.5zM1182.3 61h6.4v6.4h-6.4zM1217 61h17.9v6.4h-17.9zM1251.7 61h17.9v6.4h-17.9zM1182.3 66.8h12.2v6.4h-12.2zM1257.4 66.8h17.9v6.4h-17.9z"/>
<path fill="#4666dd" d="M1373.1 43.7h6.4v6.4h-6.4zM933.6 49.5h6.4v6.4h-6.4zM1136 49.5h6.4v6.4h-6.4zM1373.1 49.5h12.2v6.4h-12.2zM922 55.3h29.5v6.4h-29.5zM1136 55.3h12.2v6.4h-12.2zM1378.9 55.3h12.2v6.4h-12.2zM904.7 61h12.2v6.4h-12.2zM945.2 61h12.2v6.4h-12.2zM1147.6 61h6.4v6.4h-6.4zM1384.6 61h12.2v6.4h-12.2zM951 66.8h12.2v6.4h-12.2zM1159.1 66.8h6.4v6.4h-6.4zM1378.9 66.8h12.2v6.4h-12.2zM956.7 72.6h6.4v6.4h-6.4zM1170.7 72.6h6.4v6.4h-6.4zM1361.5 72.6h12.2v6.4h-12.2zM956.7 78.4h6.4v6.4h-6.4zM1182.3 78.4h6.4v6.4h-6.4zM1297.9 78.4h12.2v6.4h-12.2zM1332.6 78.4h6.4v6.4h-6.4zM956.7 84.2h6.4v6.4h-6.4zM956.7 90h6.4v6.4h-6.4zM951 95.7h12.2v6.4h-12.2zM904.7 101.5h12.2v6.4h-12.2zM945.2 101.5h6.4v6.4h-6.4zM927.8 107.3h6.4v6.4h-6.4zM1008.8 118.9h17.9v6.4h-17.9zM1112.9 124.7h12.2v6.4h-12.2zM1153.3 124.7h12.2v6.4h-12.2zM1066.6 130.4h12.2v6.4h-12.2zM1095.5 130.4h17.9v6.4h-17.9zM1164.9 130.4h6.4v6.4h-6.4zM1060.8 136.2h6.4v6.4h-6.4zM1101.3 136.2h6.4v6.4h-6.4zM1159.1 136.2h6.4v6.4h-6.4zM1078.2 142h12.2v6.4h-12.2zM1130.2 142h17.9v6.4h-17.9z"/>
<path fill="#18d9c8" d="M1454 43.7h6.4v6.4h-6.4zM1454 49.5h6.4v6.4h-6.4zM1448.3 55.3h6.4v6.4h-6.4zM1442.5 61h6.4v6.4h-6.4zM1078.2 66.8h17.9v6.4h-17.9zM1436.7 66.8h6.4v6.4h-6.4zM1072.4 72.6h29.5v6.4h-29.5zM1430.9 72.6h6.4v6.4h-6.4zM1066.6 78.4h12.2v6.4h-12.2zM1101.3 78.4h6.4v6.4h-6.4zM1425.1 78.4h6.4v6.4h-6.4zM1060.8 84.2h17.9v6.4h-17.9zM1107.1 84.2h12.2v6.4h-12.2zM1419.3 84.2h6.4v6.4h-6.4zM1037.7 90h29.5v6.4h-29.5zM1107.1 90h23.7v6.4h-23.7zM1396.2 90h6.4v6.4h-6.4zM1026.1 95.7h17.9v6.4h-17.9zM1089.7 95.7h23.7v6.4h-23.7zM1136 95.7h12.2v6.4h-12.2zM1378.9 95.7h12.2v6.4h-12.2zM1031.9 101.5h12.2v6.4h-12.2zM1078.2 101.5h12.2v6.4h-12.2zM1107.1 101.5h6.4v6.4h-6.4zM1136 101.5h29.5v6.4h-29.5zM1182.3 101.5h29.5v6.4h-29.5zM1274.8 101.5h12.2v6.4h-12.2zM1315.3 101.5h6.4v6.4h-6.4zM1060.8 107.3h12.2v6.4h-12.2zM1193.8 107.3h12.2v6.4h-12.2zM1205.4 113.1h6.4v6.4h-6.4zM916.3 118.9h6.4v6.4h-6.4zM1211.2 118.9h6.4v6.4h-6.4zM933.6 124.7h6.4v6.4h-6.4zM1211.2 124.7h6.4v6.4h-6.4zM951 130.4h12.2v6.4h-12.2zM1211.2 130.4h6.4v6.4h-6.4zM991.4 136.2h12.2v6.4h-12.2zM1436.7 136.2h12.2v6.4h-12.2zM1454 136.2h6.4v6.4h-6.4zM1014.6 142h6.4v6.4h-6.4zM1193.8 142h6.4v6.4h-6.4zM1436.7 142h6.4v6.4h-6.4zM1459.8 142h6.4v6.4h-6.4zM1517.6 142h6.4v6.4h-6.4zM1026.1 147.8h6.4v6.4h-6.4zM1436.7 147.8h6.4v6.4h-6.4zM1465.6 147.8h6.4v6.4h-6.4zM1511.9 147.8h6.4v6.4h-6.4zM1060.8 153.6h12.2v6.4h-12.2zM1153.3 153.6h12.2v6.4h-12.2zM1442.5 153.6h6.4v6.4h-6.4zM1471.4 153.6h6.4v6.4h-6.4zM1442.5 159.3h6.4v6.4h-6.4zM1477.2 159.3h6.4v6.4h-6.4zM1506.1 159.3h6.4v6.4h-6.4zM1442.5 165.1h12.2v6.4h-12.2zM1483 165.1h12.2v6.4h-12.2zM1500.3 165.1h6.4v6.4h-6.4zM1448.3 170.9h12.2v6.4h-12.2zM1459.8 176.7h29.5v6.4h-29.5zM1483 182.5h12.2v6.4h-12.2zM1500.3 188.3h6.4v6.4h-6.4zM1511.9 194h6.4v6.4h-6.4zM1130.2 211.4h6.4v6.4h-6.4zM1112.9 217.2h6.4v6.4h-6.4zM1136 217.2h6.4v6.4h-6.4zM1141.8 223h6.4v6.4h-6.4zM1465.6 223h6.4v6.4h-6.4zM1147.6 228.7h6.4v6.4h-6.4zM1280.6 228.7h6.4v6.4h-6.4zM1459.8 228.7h6.4v6.4h-6.4zM1471.4 228.7h6.4v6.4h-6.4zM997.2 234.5h23.7v6.4h-23.7zM1153.3 234.5h6.4v6.4h-6.4zM1280.6 234.5h17.9v6.4h-17.9zM1413.6 234.5h6.4v6.4h-6.4zM1425.1 234.5h12.2v6.4h-12.2zM985.7 240.3h12.2v6.4h-12.2zM1020.4 240.3h6.4v6.4h-6.4zM1280.6 240.3h6.4v6.4h-6.4zM1297.9 240.3h6.4v6.4h-6.4zM1436.7 240.3h6.4v6.4h-6.4zM1454 240.3h6.4v6.4h-6.4zM1477.2 240.3h6.4v6.4h-6.4zM985.7 246.1h6.4v6.4h-6.4zM1020.4 246.1h6.4v6.4h-6.4zM1159.1 246.1h6.4v6.4h-6.4zM1280.6 246.1h6.4v6.4h-6.4zM1436.7 246.1h6.4v6.4h-6.4zM1454 246.1h6.4v6.4h-6.4zM1477.2 246.1h6.4v6.4h-6.4z"/>
<path fill="#18e0bd" d="M1459.8 43.7h6.4v6.4h-6.4zM1459.8 49.5h6.4v6.4h-6.4zM1454 55.3h6.4v6.4h-6.4zM1448.3 61h6.4v6.4h-6.4zM1442.5 66.8h6.4v6.4h-6.4zM1436.7 72.6h6.4v6.4h-6.4zM1078.2 78.4h23.7v6.4h-23.7zM1430.9 78.4h6.4v6.4h-6.4zM1078.2 84.2h29.5v6.4h-29.5zM1425.1 84.2h6.4v6.4h-6.4zM1066.6 90h41.1v6.4h-41.1zM1402 90h17.9v6.4h-17.9zM1043.5 95.7h46.9v6.4h-46.9zM1112.9 95.7h23.7v6.4h-23.7zM1390.4 95.7h6.4v6.4h-6.4zM1043.5 101.5h35.3v6.4h-35.3zM1112.9 101.5h6.4v6.4h-6.4zM1124.4 101.5h12.2v6.4h-12.2zM1211.2 101.5h64.2v6.4h-64.2zM1321 101.5h12.2v6.4h-12.2zM1367.3 101.5h17.9v6.4h-17.9zM1205.4 107.3h12.2v6.4h-12.2zM1211.2 113.1h6.4v6.4h-6.4zM904.7 118.9h12.2v6.4h-12.2zM927.8 124.7h6.4v6.4h-6.4zM1217 124.7h6.4v6.4h-6.4zM945.2 130.4h6.4v6.4h-6.4zM1217 130.4h6.4v6.4h-6.4zM1436.7 130.4h23.7v6.4h-23.7zM979.9 136.2h12.2v6.4h-12.2zM1211.2 136.2h12.2v6.4h-12.2zM1430.9 136.2h6.4v6.4h-6.4zM1459.8 136.2h6.4v6.4h-6.4zM1003 142h12.2v6.4h-12.2zM1199.6 142h6.4v6.4h-6.4zM1430.9 142h6.4v6.4h-6.4zM1465.6 142h6.4v6.4h-6.4zM1020.4 147.8h6.4v6.4h-6.4zM1182.3 147.8h6.4v6.4h-6.4zM1430.9 147.8h6.4v6.4h-6.4zM1471.4 147.8h6.4v6.4h-6.4zM1049.3 153.6h12.2v6.4h-12.2zM1164.9 153.6h6.4v6.4h-6.4zM1436.7 153.6h6.4v6.4h-6.4zM1477.2 153.6h6.4v6.4h-6.4zM1084 159.3h58.4v6.4h-58.4zM1436.7 159.3h6.4v6.4h-6.4zM1483 159.3h6.4v6.4h-6.4zM1436.7 165.1h6.4v6.4h-6.4zM1494.5 165.1h6.4v6.4h-6.4zM1436.7 170.9h12.2v6.4h-12.2zM1448.3 176.7h12.2v6.4h-12.2zM1459.8 182.5h23.7v6.4h-23.7zM1488.7 188.3h12.2v6.4h-12.2zM1118.7 205.6h17.9v6.4h-17.9zM1136 211.4h6.4v6.4h-6.4zM1141.8 217.2h6.4v6.4h-6.4zM1459.8 223h6.4v6.4h-6.4zM1471.4 223h6.4v6.4h-6.4zM997.2 228.7h23.7v6.4h-23.7zM1107.1 228.7h6.4v6.4h-6.4zM1274.8 228.7h6.4v6.4h-6.4zM1286.3 228.7h6.4v6.4h-6.4zM1477.2 228.7h6.4v6.4h-6.4zM991.4 234.5h6.4v6.4h-6.4zM1020.4 234.5h6.4v6.4h-6.4zM1436.7 234.5h6.4v6.4h-6.4zM1454 234.5h6.4v6.4h-6.4zM1477.2 234.5h6.4v6.4h-6.4zM1026.1 240.3h6.4v6.4h-6.4zM1159.1 240.3h6.4v6.4h-6.4zM1407.8 240.3h6.4v6.4h-6.4zM1442.5 240.3h12.2v6.4h-12.2zM979.9 246.1h6.4v6.4h-6.4zM1026.1 246.1h6.4v6.4h-6.4zM1101.3 246.1h6.4v6.4h-6.4zM1303.7 246.1h6.4v6.4h-6.4zM1407.8 246.1h6.4v6.4h-6.4zM1442.5 246.1h12.2v6.4h-12.2zM1483 246.1h6.4v6.4h-6.4z"/>
<path fill="#1de7b2" d="M1465.6 43.7h6.4v6.4h-6.4zM1465.6 49.5h6.4v6.4h-6.4zM1459.8 55.3h6.4v6.4h-6.4zM1454 61h6.4v6.4h-6.4zM1448.3 66.8h6.4v6.4h-6.4zM1442.5 72.6h6.4v6.4h-6.4zM1436.7 78.4h6.4v6.4h-6.4zM1430.9 84.2h6.4v6.4h-6.4zM1419.3 90h12.2v6.4h-12.2zM1396.2 95.7h12.2v6.4h-12.2zM1118.7 101.5h6.4v6.4h-6.4zM1332.6 101.5h35.3v6.4h-35.3zM1384.6 101.5h6.4v6.4h-6.4zM1217 107.3h17.9v6.4h-17.9zM1217 113.1h6.4v6.4h-6.4zM1217 118.9h6.4v6.4h-6.4zM916.3 124.7h12.2v6.4h-12.2zM1448.3 124.7h6.4v6.4h-6.4zM939.4 130.4h6.4v6.4h-6.4zM1222.7 130.4h6.4v6.4h-6.4zM1430.9 130.4h6.4v6.4h-6.4zM1459.8 130.4h6.4v6.4h-6.4zM956.7 136.2h23.7v6.4h-23.7zM1222.7 136.2h6.4v6.4h-6.4zM1425.1 136.2h6.4v6.4h-6.4zM1465.6 136.2h6.4v6.4h-6.4zM1523.4 136.2h6.4v6.4h-6.4zM997.2 142h6.4v6.4h-6.4zM1205.4 142h6.4v6.4h-6.4zM1425.1 142h6.4v6.4h-6.4zM1471.4 142h6.4v6.4h-6.4zM1014.6 147.8h6.4v6.4h-6.4zM1188 147.8h6.4v6.4h-6.4zM1477.2 147.8h6.4v6.4h-6.4zM1031.9 153.6h17.9v6.4h-17.9zM1170.7 153.6h6.4v6.4h-6.4zM1430.9 153.6h6.4v6.4h-6.4zM1483 153.6h6.4v6.4h-6.4zM1506.1 153.6h6.4v6.4h-6.4zM1072.4 159.3h12.2v6.4h-12.2zM1141.8 159.3h12.2v6.4h-12.2zM1430.9 159.3h6.4v6.4h-6.4zM1488.7 159.3h17.9v6.4h-17.9zM1430.9 165.1h6.4v6.4h-6.4zM1430.9 170.9h6.4v6.4h-6.4zM1436.7 176.7h12.2v6.4h-12.2zM1448.3 182.5h12.2v6.4h-12.2zM1459.8 188.3h29.5v6.4h-29.5zM1506.1 194h6.4v6.4h-6.4zM1118.7 199.8h17.9v6.4h-17.9zM1523.4 199.8h6.4v6.4h-6.4zM1136 205.6h6.4v6.4h-6.4zM1112.9 211.4h6.4v6.4h-6.4zM1141.8 211.4h6.4v6.4h-6.4zM997.2 223h23.7v6.4h-23.7zM1107.1 223h6.4v6.4h-6.4zM1147.6 223h6.4v6.4h-6.4zM1274.8 223h12.2v6.4h-12.2zM1477.2 223h6.4v6.4h-6.4zM1020.4 228.7h6.4v6.4h-6.4zM1153.3 228.7h6.4v6.4h-6.4zM1292.1 228.7h6.4v6.4h-6.4zM1419.3 228.7h17.9v6.4h-17.9zM1454 228.7h6.4v6.4h-6.4zM1026.1 234.5h6.4v6.4h-6.4zM1159.1 234.5h6.4v6.4h-6.4zM1274.8 234.5h6.4v6.4h-6.4zM1297.9 234.5h6.4v6.4h-6.4zM1442.5 234.5h12.2v6.4h-12.2zM1483 234.5h6.4v6.4h-6.4zM979.9 240.3h6.4v6.4h-6.4zM1031.9 240.3h6.4v6.4h-6.4zM1101.3 240.3h6.4v6.4h-6.4zM1164.9 240.3h6.4v6.4h-6.4zM1303.7 240.3h6.4v6.4h-6.4zM1483 240.3h6.4v6.4h-6.4zM1031.9 246.1h6.4v6.4h-6.4zM1164.9 246.1h6.4v6.4h-6.4z"/>
<path fill="#27eea4" d="M1471.4 43.7h6.4v6.4h-6.4zM1471.4 49.5h6.4v6.4h-6.4zM1465.6 55.3h6.4v6.4h-6.4zM1459.8 61h6.4v6.4h-6.4zM1454 66.8h6.4v6.4h-6.4zM1448.3 72.6h6.4v6.4h-6.4zM1442.5 78.4h6.4v6.4h-6.4zM1436.7 84.2h6.4v6.4h-6.4zM1430.9 90h6.4v6.4h-6.4zM1407.8 95.7h12.2v6.4h-12.2zM1390.4 101.5h12.2v6.4h-12.2zM1234.3 107.3h17.9v6.4h-17.9zM1286.3 107.3h29.5v6.4h-29.5zM1373.1 107.3h17.9v6.4h-17.9zM1222.7 113.1h12.2v6.4h-12.2zM1222.7 118.9h6.4v6.4h-6.4zM904.7 124.7h12.2v6.4h-12.2zM1222.7 124.7h6.4v6.4h-6.4zM1436.7 124.7h12.2v6.4h-12.2zM1454 124.7h6.4v6.4h-6.4zM927.8 130.4h12.2v6.4h-12.2zM1228.5 130.4h6.4v6.4h-6.4zM1425.1 130.4h6.4v6.4h-6.4zM1465.6 130.4h6.4v6.4h-6.4zM951 136.2h6.4v6.4h-6.4zM1228.5 136.2h6.4v6.4h-6.4zM1517.6 136.2h6.4v6.4h-6.4zM991.4 142h6.4v6.4h-6.4zM1211.2 142h6.4v6.4h-6.4zM1003 147.8h12.2v6.4h-12.2zM1193.8 147.8h6.4v6.4h-6.4zM1425.1 147.8h6.4v6.4h-6.4zM1020.4 153.6h12.2v6.4h-12.2zM1176.5 153.6h6.4v6.4h-6.4zM1425.1 153.6h6.4v6.4h-6.4zM1488.7 153.6h6.4v6.4h-6.4zM1066.6 159.3h6.4v6.4h-6.4zM1153.3 159.3h6.4v6.4h-6.4zM1425.1 159.3h6.4v6.4h-6.4zM1089.7 165.1h46.9v6.4h-46.9zM1425.1 165.1h6.4v6.4h-6.4zM1425.1 170.9h6.4v6.4h-6.4zM1430.9 176.7h6.4v6.4h-6.4zM1442.5 182.5h6.4v6.4h-6.4zM1448.3 188.3h12.2v6.4h-12.2zM1118.7 194h12.2v6.4h-12.2zM1500.3 194h6.4v6.4h-6.4zM1136 199.8h6.4v6.4h-6.4zM1517.6 199.8h6.4v6.4h-6.4zM1112.9 205.6h6.4v6.4h-6.4zM1141.8 205.6h6.4v6.4h-6.4zM1003 217.2h17.9v6.4h-17.9zM1107.1 217.2h6.4v6.4h-6.4zM1147.6 217.2h6.4v6.4h-6.4zM1459.8 217.2h17.9v6.4h-17.9zM1020.4 223h6.4v6.4h-6.4zM1153.3 223h6.4v6.4h-6.4zM1286.3 223h6.4v6.4h-6.4zM1454 223h6.4v6.4h-6.4zM991.4 228.7h6.4v6.4h-6.4zM1026.1 228.7h6.4v6.4h-6.4zM1413.6 228.7h6.4v6.4h-6.4zM1436.7 228.7h6.4v6.4h-6.4zM1483 228.7h6.4v6.4h-6.4zM985.7 234.5h6.4v6.4h-6.4zM1031.9 234.5h6.4v6.4h-6.4zM1101.3 234.5h6.4v6.4h-6.4zM1407.8 234.5h6.4v6.4h-6.4zM1037.7 240.3h6.4v6.4h-6.4zM1274.8 240.3h6.4v6.4h-6.4zM1488.7 240.3h6.4v6.4h-6.4zM1037.7 246.1h6.4v6.4h-6.4zM1274.8 246.1h6.4v6.4h-6.4zM1488.7 246.1h6.4v6.4h-6.4z"/>
<path fill="#35f394" d="M1477.2 43.7h6.4v6.4h-6.4zM1442.5 84.2h6.4v6.4h-6.4zM1436.7 90h6.4v6.4h-6.4zM1419.3 95.7h12.2v6.4h-12.2zM1402 101.5h6.4v6.4h-6.4zM1251.7 107.3h35.3v6.4h-35.3zM1315.3 107.3h12.2v6.4h-12.2zM1355.7 107.3h17.9v6.4h-17.9zM1390.4 107.3h12.2v6.4h-12.2zM1234.3 113.1h12.2v6.4h-12.2zM1228.5 118.9h6.4v6.4h-6.4zM1442.5 118.9h17.9v6.4h-17.9zM1228.5 124.7h12.2v6.4h-12.2zM1430.9 124.7h6.4v6.4h-6.4zM1459.8 124.7h6.4v6.4h-6.4zM904.7 130.4h23.7v6.4h-23.7zM1234.3 130.4h12.2v6.4h-12.2zM939.4 136.2h12.2v6.4h-12.2zM1234.3 136.2h12.2v6.4h-12.2zM1419.3 136.2h6.4v6.4h-6.4zM1471.4 136.2h6.4v6.4h-6.4zM985.7 142h6.4v6.4h-6.4zM1217 142h6.4v6.4h-6.4zM1419.3 142h6.4v6.4h-6.4zM1477.2 142h6.4v6.4h-6.4zM1511.9 142h6.4v6.4h-6.4zM997.2 147.8h6.4v6.4h-6.4zM1199.6 147.8h6.4v6.4h-6.4zM1419.3 147.8h6.4v6.4h-6.4zM1483 147.8h6.4v6.4h-6.4zM1014.6 153.6h6.4v6.4h-6.4zM1182.3 153.6h6.4v6.4h-6.4zM1419.3 153.6h6.4v6.4h-6.4zM1055 159.3h12.2v6.4h-12.2zM1159.1 159.3h12.2v6.4h-12.2zM1419.3 159.3h6.4v6.4h-6.4zM1078.2 165.1h12.2v6.4h-12.2zM1136 165.1h12.2v6.4h-12.2zM1419.3 165.1h6.4v6.4h-6.4zM1425.1 176.7h6.4v6.4h-6.4zM1430.9 182.5h12.2v6.4h-12.2zM1118.7 188.3h12.2v6.4h-12.2zM1442.5 188.3h6.4v6.4h-6.4zM1112.9 194h6.4v6.4h-6.4zM1130.2 194h6.4v6.4h-6.4zM1448.3 194h29.5v6.4h-29.5zM1488.7 194h12.2v6.4h-12.2zM1112.9 199.8h6.4v6.4h-6.4zM1141.8 199.8h6.4v6.4h-6.4zM1511.9 199.8h6.4v6.4h-6.4zM1147.6 205.6h6.4v6.4h-6.4zM1003 211.4h12.2v6.4h-12.2zM1147.6 211.4h6.4v6.4h-6.4zM997.2 217.2h6.4v6.4h-6.4zM1153.3 217.2h6.4v6.4h-6.4zM1425.1 223h17.9v6.4h-17.9zM1483 223h6.4v6.4h-6.4zM1101.3 228.7h6.4v6.4h-6.4zM1159.1 228.7h6.4v6.4h-6.4zM1297.9 228.7h6.4v6.4h-6.4zM1442.5 228.7h12.2v6.4h-12.2zM1488.7 228.7h6.4v6.4h-6.4zM1164.9 234.5h6.4v6.4h-6.4zM1303.7 234.5h6.4v6.4h-6.4zM1488.7 234.5h6.4v6.4h-6.4zM1095.5 240.3h6.4v6.4h-6.4zM1170.7 240.3h6.4v6.4h-6.4zM974.1 246.1h6.4v6.4h-6.4zM1043.5 246.1h6.4v6.4h-6.4zM1095.5 246.1h6.4v6.4h-6.4zM1170.7 246.1h6.4v6.4h-6.4zM1494.5 246.1h6.4v6.4h-6.4z"/>
<path fill="#55fa76" d="M1483 43.7h6.4v6.4h-6.4zM1483 49.5h6.4v6.4h-6.4zM1477.2 55.3h6.4v6.4h-6.4zM1471.4 61h6.4v6.4h-6.4zM1465.6 66.8h6.4v6.4h-6.4zM1459.8 72.6h6.4v6.4h-6.4zM1454 78.4h6.4v6.4h-6.4zM1448.3 84.2h6.4v6.4h-6.4zM1442.5 90h6.4v6.4h-6.4zM1430.9 101.5h12.2v6.4h-12.2zM1413.6 107.3h35.3v6.4h-35.3zM1251.7 113.1h12.2v6.4h-12.2zM1361.5 113.1h12.2v6.4h-12.2zM1407.8 113.1h35.3v6.4h-35.3zM1454 113.1h6.4v6.4h-6.4zM1245.9 118.9h6.4v6.4h-6.4zM1378.9 118.9h52.6v6.4h-52.6zM1465.6 118.9h6.4v6.4h-6.4zM1245.9 124.7h6.4v6.4h-6.4zM1396.2 124.7h23.7v6.4h-23.7zM1471.4 124.7h6.4v6.4h-6.4zM1251.7 130.4h6.4v6.4h-6.4zM1396.2 130.4h23.7v6.4h-23.7zM1517.6 130.4h6.4v6.4h-6.4zM904.7 136.2h29.5v6.4h-29.5zM1251.7 136.2h6.4v6.4h-6.4zM1402 136.2h12.2v6.4h-12.2zM1477.2 136.2h6.4v6.4h-6.4zM945.2 142h12.2v6.4h-12.2zM1234.3 142h12.2v6.4h-12.2zM1407.8 142h12.2v6.4h-12.2zM1483 142h6.4v6.4h-6.4zM1211.2 147.8h6.4v6.4h-6.4zM1407.8 147.8h12.2v6.4h-12.2zM1488.7 147.8h6.4v6.4h-6.4zM997.2 153.6h12.2v6.4h-12.2zM1193.8 153.6h6.4v6.4h-6.4zM1413.6 153.6h6.4v6.4h-6.4zM1026.1 159.3h6.4v6.4h-6.4zM1176.5 159.3h6.4v6.4h-6.4zM1413.6 159.3h6.4v6.4h-6.4zM1060.8 165.1h12.2v6.4h-12.2zM1153.3 165.1h12.2v6.4h-12.2zM1413.6 165.1h6.4v6.4h-6.4zM1084 170.9h23.7v6.4h-23.7zM1141.8 170.9h6.4v6.4h-6.4zM1413.6 170.9h6.4v6.4h-6.4zM1107.1 176.7h12.2v6.4h-12.2zM1130.2 176.7h12.2v6.4h-12.2zM1413.6 176.7h6.4v6.4h-6.4zM1136 182.5h6.4v6.4h-6.4zM1413.6 182.5h6.4v6.4h-6.4zM1136 188.3h12.2v6.4h-12.2zM1419.3 188.3h12.2v6.4h-12.2zM1107.1 194h6.4v6.4h-6.4zM1430.9 194h6.4v6.4h-6.4zM1107.1 199.8h6.4v6.4h-6.4zM1147.6 199.8h6.4v6.4h-6.4zM1430.9 199.8h12.2v6.4h-12.2zM1459.8 199.8h12.2v6.4h-12.2zM997.2 205.6h17.9v6.4h-17.9zM1153.3 205.6h6.4v6.4h-6.4zM1430.9 205.6h29.5v6.4h-29.5zM1020.4 211.4h6.4v6.4h-6.4zM1430.9 211.4h6.4v6.4h-6.4zM1442.5 211.4h17.9v6.4h-17.9zM1465.6 211.4h12.2v6.4h-12.2zM1517.6 211.4h12.2v6.4h-12.2zM991.4 217.2h6.4v6.4h-6.4zM1026.1 217.2h6.4v6.4h-6.4zM1101.3 217.2h6.4v6.4h-6.4zM1159.1 217.2h6.4v6.4h-6.4zM1483 217.2h6.4v6.4h-6.4zM1517.6 217.2h12.2v6.4h-12.2zM1031.9 223h6.4v6.4h-6.4zM1413.6 223h6.4v6.4h-6.4zM1488.7 223h6.4v6.4h-6.4zM1517.6 223h12.2v6.4h-12.2zM1037.7 228.7h6.4v6.4h-6.4zM1095.5 228.7h6.4v6.4h-6.4zM1303.7 228.7h6.4v6.4h-6.4zM1407.8 228.7h6.4v6.4h-6.4zM1494.5 228.7h6.4v6.4h-6.4zM1511.9 228.7h17.9v6.4h-17.9zM1043.5 234.5h6.4v6.4h-6.4zM1269 234.5h6.4v6.4h-6.4zM1500.3 234.5h29.5v6.4h-29.5zM1049.3 240.3h17.9v6.4h-17.9zM1089.7 240.3h6.4v6.4h-6.4zM1402 240.3h6.4v6.4h-6.4zM1500.3 240.3h29.5v6.4h-29.5zM1049.3 246.1h23.7v6.4h-23.7zM1089.7 246.1h6.4v6.4h-6.4zM1176.5 246.1h6.4v6.4h-6.4zM1402 246.1h6.4v6.4h-6.4zM1500.3 246.1h29.5v6.4h-29.5z"/>
<path fill="#7dff56" d="M1488.7 43.7h6.4v6.4h-6.4zM1488.7 49.5h6.4v6.4h-6.4zM1483 55.3h6.4v6.4h-6.4zM1477.2 61h6.4v6.4h-6.4zM1471.4 66.8h6.4v6.4h-6.4zM1465.6 72.6h6.4v6.4h-6.4zM1459.8 78.4h6.4v6.4h-6.4zM1454 84.2h6.4v6.4h-6.4zM1454 90h6.4v6.4h-6.4zM1448.3 95.7h6.4v6.4h-6.4zM1448.3 101.5h6.4v6.4h-6.4zM1454 107.3h6.4v6.4h-6.4zM1321 113.1h29.5v6.4h-29.5zM1465.6 113.1h6.4v6.4h-6.4zM1257.4 118.9h6.4v6.4h-6.4zM1361.5 118.9h6.4v6.4h-6.4zM1471.4 118.9h6.4v6.4h-6.4zM1257.4 124.7h6.4v6.4h-6.4zM1373.1 124.7h12.2v6.4h-12.2zM1477.2 124.7h6.4v6.4h-6.4zM1523.4 124.7h6.4v6.4h-6.4zM1263.2 130.4h6.4v6.4h-6.4zM1384.6 130.4h6.4v6.4h-6.4zM1263.2 136.2h12.2v6.4h-12.2zM1390.4 136.2h6.4v6.4h-6.4zM1483 136.2h6.4v6.4h-6.4zM904.7 142h29.5v6.4h-29.5zM1251.7 142h12.2v6.4h-12.2zM1390.4 142h6.4v6.4h-6.4zM1506.1 142h6.4v6.4h-6.4zM956.7 147.8h29.5v6.4h-29.5zM1222.7 147.8h12.2v6.4h-12.2zM1396.2 147.8h6.4v6.4h-6.4zM1494.5 147.8h12.2v6.4h-12.2zM991.4 153.6h6.4v6.4h-6.4zM1205.4 153.6h6.4v6.4h-6.4zM1402 153.6h6.4v6.4h-6.4zM1008.8 159.3h6.4v6.4h-6.4zM1188 159.3h6.4v6.4h-6.4zM1402 159.3h6.4v6.4h-6.4zM1031.9 165.1h23.7v6.4h-23.7zM1170.7 165.1h6.4v6.4h-6.4zM1066.6 170.9h6.4v6.4h-6.4zM1153.3 170.9h6.4v6.4h-6.4zM1407.8 170.9h6.4v6.4h-6.4zM904.7 176.7h12.2v6.4h-12.2zM1078.2 176.7h12.2v6.4h-12.2zM1147.6 176.7h12.2v6.4h-12.2zM1407.8 176.7h6.4v6.4h-6.4zM916.3 182.5h6.4v6.4h-6.4zM1095.5 182.5h12.2v6.4h-12.2zM1147.6 182.5h6.4v6.4h-6.4zM1407.8 182.5h6.4v6.4h-6.4zM916.3 188.3h6.4v6.4h-6.4zM1101.3 188.3h6.4v6.4h-6.4zM1153.3 188.3h6.4v6.4h-6.4zM1101.3 194h6.4v6.4h-6.4zM1153.3 194h6.4v6.4h-6.4zM1413.6 194h6.4v6.4h-6.4zM997.2 199.8h17.9v6.4h-17.9zM1101.3 199.8h6.4v6.4h-6.4zM1159.1 199.8h6.4v6.4h-6.4zM1419.3 199.8h6.4v6.4h-6.4zM1483 199.8h12.2v6.4h-12.2zM991.4 205.6h6.4v6.4h-6.4zM1020.4 205.6h6.4v6.4h-6.4zM1101.3 205.6h6.4v6.4h-6.4zM1159.1 205.6h6.4v6.4h-6.4zM1471.4 205.6h6.4v6.4h-6.4zM1506.1 205.6h6.4v6.4h-6.4zM1026.1 211.4h6.4v6.4h-6.4zM1419.3 211.4h6.4v6.4h-6.4zM1477.2 211.4h6.4v6.4h-6.4zM1031.9 217.2h6.4v6.4h-6.4zM1095.5 217.2h6.4v6.4h-6.4zM1164.9 217.2h6.4v6.4h-6.4zM1274.8 217.2h12.2v6.4h-12.2zM1413.6 217.2h6.4v6.4h-6.4zM1494.5 217.2h6.4v6.4h-6.4zM1506.1 217.2h6.4v6.4h-6.4zM985.7 223h6.4v6.4h-6.4zM1037.7 223h6.4v6.4h-6.4zM1095.5 223h6.4v6.4h-6.4zM1170.7 223h6.4v6.4h-6.4zM1500.3 223h12.2v6.4h-12.2zM979.9 228.7h6.4v6.4h-6.4zM1043.5 228.7h6.4v6.4h-6.4zM1089.7 228.7h6.4v6.4h-6.4zM974.1 234.5h6.4v6.4h-6.4zM1055 234.5h23.7v6.4h-23.7zM1176.5 234.5h6.4v6.4h-6.4zM1402 234.5h6.4v6.4h-6.4zM1078.2 240.3h12.2v6.4h-12.2zM1269 240.3h6.4v6.4h-6.4zM968.3 246.1h6.4v6.4h-6.4zM1078.2 246.1h12.2v6.4h-12.2zM1269 246.1h6.4v6.4h-6.4z"/>
<path fill="#9cfe40" d="M1494.5 43.7h6.4v6.4h-6.4zM1494.5 49.5h6.4v6.4h-6.4zM1494.5 55.3h6.4v6.4h-6.4zM1488.7 61h6.4v6.4h-6.4zM1477.2 66.8h6.4v6.4h-6.4zM1465.6 78.4h6.4v6.4h-6.4zM1459.8 90h6.4v6.4h-6.4zM1459.8 95.7h6.4v6.4h-6.4zM1459.8 101.5h6.4v6.4h-6.4zM1465.6 107.3h6.4v6.4h-6.4zM1274.8 118.9h41.1v6.4h-41.1zM1344.2 118.9h12.2v6.4h-12.2zM1477.2 118.9h6.4v6.4h-6.4zM1274.8 124.7h6.4v6.4h-6.4zM1355.7 124.7h12.2v6.4h-12.2zM1280.6 130.4h6.4v6.4h-6.4zM1367.3 130.4h12.2v6.4h-12.2zM1483 130.4h6.4v6.4h-6.4zM1280.6 136.2h6.4v6.4h-6.4zM1269 142h6.4v6.4h-6.4zM1384.6 142h6.4v6.4h-6.4zM904.7 147.8h29.5v6.4h-29.5zM1245.9 147.8h12.2v6.4h-12.2zM1384.6 147.8h6.4v6.4h-6.4zM962.5 153.6h6.4v6.4h-6.4zM979.9 153.6h6.4v6.4h-6.4zM1217 153.6h6.4v6.4h-6.4zM1390.4 153.6h6.4v6.4h-6.4zM904.7 159.3h6.4v6.4h-6.4zM991.4 159.3h6.4v6.4h-6.4zM1199.6 159.3h6.4v6.4h-6.4zM904.7 165.1h17.9v6.4h-17.9zM956.7 165.1h17.9v6.4h-17.9zM1020.4 165.1h6.4v6.4h-6.4zM1188 165.1h6.4v6.4h-6.4zM1396.2 165.1h6.4v6.4h-6.4zM916.3 170.9h12.2v6.4h-12.2zM956.7 170.9h6.4v6.4h-6.4zM968.3 170.9h6.4v6.4h-6.4zM1055 170.9h6.4v6.4h-6.4zM1164.9 170.9h12.2v6.4h-12.2zM1402 170.9h6.4v6.4h-6.4zM922 176.7h6.4v6.4h-6.4zM956.7 176.7h23.7v6.4h-23.7zM1066.6 176.7h6.4v6.4h-6.4zM1164.9 176.7h6.4v6.4h-6.4zM1402 176.7h6.4v6.4h-6.4zM922 182.5h6.4v6.4h-6.4zM968.3 182.5h17.9v6.4h-17.9zM1072.4 182.5h17.9v6.4h-17.9zM1164.9 182.5h6.4v6.4h-6.4zM922 188.3h6.4v6.4h-6.4zM974.1 188.3h6.4v6.4h-6.4zM985.7 188.3h6.4v6.4h-6.4zM1089.7 188.3h6.4v6.4h-6.4zM1164.9 188.3h6.4v6.4h-6.4zM916.3 194h6.4v6.4h-6.4zM974.1 194h35.3v6.4h-35.3zM1089.7 194h6.4v6.4h-6.4zM1164.9 194h6.4v6.4h-6.4zM1407.8 194h6.4v6.4h-6.4zM979.9 199.8h12.2v6.4h-12.2zM1020.4 199.8h6.4v6.4h-6.4zM1089.7 199.8h6.4v6.4h-6.4zM1164.9 199.8h6.4v6.4h-6.4zM1413.6 199.8h6.4v6.4h-6.4zM1026.1 205.6h6.4v6.4h-6.4zM1089.7 205.6h6.4v6.4h-6.4zM1483 205.6h23.7v6.4h-23.7zM1031.9 211.4h6.4v6.4h-6.4zM1089.7 211.4h6.4v6.4h-6.4zM1170.7 211.4h6.4v6.4h-6.4zM1413.6 211.4h6.4v6.4h-6.4zM1494.5 211.4h12.2v6.4h-12.2zM1089.7 217.2h6.4v6.4h-6.4zM1292.1 217.2h6.4v6.4h-6.4zM1407.8 217.2h6.4v6.4h-6.4zM1043.5 223h6.4v6.4h-6.4zM1176.5 223h6.4v6.4h-6.4zM1263.2 223h6.4v6.4h-6.4zM1303.7 223h6.4v6.4h-6.4zM1055 228.7h35.3v6.4h-35.3zM1263.2 228.7h6.4v6.4h-6.4zM1402 228.7h6.4v6.4h-6.4zM1182.3 234.5h6.4v6.4h-6.4zM1315.3 246.1h6.4v6.4h-6.4z"/>
<path fill="#a9fb39" d="M1500.3 43.7h17.9v6.4h-17.9zM1500.3 49.5h17.9v6.4h-17.9zM1500.3 55.3h17.9v6.4h-17.9zM1494.5 61h12.2v6.4h-12.2zM1483 66.8h12.2v6.4h-12.2zM1477.2 72.6h6.4v6.4h-6.4zM1471.4 78.4h6.4v6.4h-6.4zM1465.6 84.2h6.4v6.4h-6.4zM1465.6 90h6.4v6.4h-6.4zM1465.6 95.7h6.4v6.4h-6.4zM1465.6 101.5h6.4v6.4h-6.4zM1471.4 107.3h6.4v6.4h-6.4zM1477.2 113.1h6.4v6.4h-6.4zM1523.4 113.1h6.4v6.4h-6.4zM1315.3 118.9h29.5v6.4h-29.5zM1517.6 118.9h12.2v6.4h-12.2zM1280.6 124.7h75.8v6.4h-75.8zM1483 124.7h6.4v6.4h-6.4zM1286.3 130.4h12.2v6.4h-12.2zM1344.2 130.4h23.7v6.4h-23.7zM1286.3 136.2h6.4v6.4h-6.4zM1361.5 136.2h23.7v6.4h-23.7zM1488.7 136.2h6.4v6.4h-6.4zM1274.8 142h6.4v6.4h-6.4zM1378.9 142h6.4v6.4h-6.4zM1494.5 142h6.4v6.4h-6.4zM1257.4 147.8h6.4v6.4h-6.4zM1378.9 147.8h6.4v6.4h-6.4zM904.7 153.6h58.4v6.4h-58.4zM968.3 153.6h12.2v6.4h-12.2zM1222.7 153.6h12.2v6.4h-12.2zM1384.6 153.6h6.4v6.4h-6.4zM910.5 159.3h81.6v6.4h-81.6zM1205.4 159.3h6.4v6.4h-6.4zM1390.4 159.3h6.4v6.4h-6.4zM922 165.1h35.3v6.4h-35.3zM974.1 165.1h12.2v6.4h-12.2zM1014.6 165.1h6.4v6.4h-6.4zM1193.8 165.1h6.4v6.4h-6.4zM927.8 170.9h29.5v6.4h-29.5zM974.1 170.9h12.2v6.4h-12.2zM1031.9 170.9h23.7v6.4h-23.7zM1176.5 170.9h12.2v6.4h-12.2zM1396.2 170.9h6.4v6.4h-6.4zM927.8 176.7h29.5v6.4h-29.5zM979.9 176.7h6.4v6.4h-6.4zM1060.8 176.7h6.4v6.4h-6.4zM1170.7 176.7h6.4v6.4h-6.4zM927.8 182.5h12.2v6.4h-12.2zM945.2 182.5h23.7v6.4h-23.7zM985.7 182.5h6.4v6.4h-6.4zM1066.6 182.5h6.4v6.4h-6.4zM1170.7 182.5h6.4v6.4h-6.4zM1402 182.5h6.4v6.4h-6.4zM927.8 188.3h6.4v6.4h-6.4zM962.5 188.3h12.2v6.4h-12.2zM991.4 188.3h12.2v6.4h-12.2zM1072.4 188.3h17.9v6.4h-17.9zM1402 188.3h6.4v6.4h-6.4zM922 194h6.4v6.4h-6.4zM968.3 194h6.4v6.4h-6.4zM1008.8 194h12.2v6.4h-12.2zM1084 194h6.4v6.4h-6.4zM904.7 199.8h12.2v6.4h-12.2zM974.1 199.8h6.4v6.4h-6.4zM1084 199.8h6.4v6.4h-6.4zM1170.7 199.8h6.4v6.4h-6.4zM1407.8 199.8h6.4v6.4h-6.4zM979.9 205.6h6.4v6.4h-6.4zM1031.9 205.6h6.4v6.4h-6.4zM1084 205.6h6.4v6.4h-6.4zM1170.7 205.6h6.4v6.4h-6.4zM1413.6 205.6h6.4v6.4h-6.4zM979.9 211.4h6.4v6.4h-6.4zM1037.7 211.4h6.4v6.4h-6.4zM1084 211.4h6.4v6.4h-6.4zM979.9 217.2h6.4v6.4h-6.4zM1043.5 217.2h6.4v6.4h-6.4zM1084 217.2h6.4v6.4h-6.4zM1176.5 217.2h6.4v6.4h-6.4zM1269 217.2h6.4v6.4h-6.4zM979.9 223h6.4v6.4h-6.4zM1049.3 223h41.1v6.4h-41.1zM974.1 228.7h6.4v6.4h-6.4zM1182.3 228.7h6.4v6.4h-6.4zM968.3 234.5h6.4v6.4h-6.4zM1188 240.3h6.4v6.4h-6.4zM1315.3 240.3h6.4v6.4h-6.4zM1396.2 240.3h6.4v6.4h-6.4zM962.5 246.1h6.4v6.4h-6.4zM1188 246.1h6.4v6.4h-6.4zM1396.2 246.1h6.4v6.4h-6.4z"/>
<path fill="#b7f735" d="M1517.6 43.7h12.2v6.4h-12.2zM1517.6 49.5h12.2v6.4h-12.2zM1517.6 55.3h12.2v6.4h-12.2zM1506.1 61h23.7v6.4h-23.7zM1494.5 66.8h35.3v6.4h-35.3zM1483 72.6h6.4v6.4h-6.4zM1506.1 72.6h23.7v6.4h-23.7zM1511.9 78.4h17.9v6.4h-17.9zM1471.4 84.2h6.4v6.4h-6.4zM1517.6 84.2h12.2v6.4h-12.2zM1517.6 90h12.2v6.4h-12.2zM1517.6 95.7h12.2v6.4h-12.2zM1471.4 101.5h6.4v6.4h-6.4zM1517.6 101.5h12.2v6.4h-12.2zM1517.6 107.3h12.2v6.4h-12.2zM1517.6 113.1h6.4v6.4h-6.4zM1483 118.9h6.4v6.4h-6.4zM1511.9 124.7h6.4v6.4h-6.4zM1297.9 130.4h46.9v6.4h-46.9zM1488.7 130.4h6.4v6.4h-6.4zM1292.1 136.2h70v6.4h-70zM1506.1 136.2h6.4v6.4h-6.4zM1280.6 142h12.2v6.4h-12.2zM1355.7 142h23.7v6.4h-23.7zM1500.3 142h6.4v6.4h-6.4zM1263.2 147.8h12.2v6.4h-12.2zM1367.3 147.8h12.2v6.4h-12.2zM1234.3 153.6h12.2v6.4h-12.2zM1373.1 153.6h12.2v6.4h-12.2zM1211.2 159.3h6.4v6.4h-6.4zM1384.6 159.3h6.4v6.4h-6.4zM985.7 165.1h29.5v6.4h-29.5zM1199.6 165.1h6.4v6.4h-6.4zM1390.4 165.1h6.4v6.4h-6.4zM985.7 170.9h6.4v6.4h-6.4zM1026.1 170.9h6.4v6.4h-6.4zM1188 170.9h6.4v6.4h-6.4zM985.7 176.7h6.4v6.4h-6.4zM1055 176.7h6.4v6.4h-6.4zM1176.5 176.7h12.2v6.4h-12.2zM1396.2 176.7h6.4v6.4h-6.4zM939.4 182.5h6.4v6.4h-6.4zM991.4 182.5h6.4v6.4h-6.4zM1060.8 182.5h6.4v6.4h-6.4zM1176.5 182.5h6.4v6.4h-6.4zM933.6 188.3h29.5v6.4h-29.5zM1003 188.3h12.2v6.4h-12.2zM1066.6 188.3h6.4v6.4h-6.4zM1170.7 188.3h6.4v6.4h-6.4zM927.8 194h6.4v6.4h-6.4zM956.7 194h12.2v6.4h-12.2zM1020.4 194h6.4v6.4h-6.4zM1066.6 194h17.9v6.4h-17.9zM1170.7 194h6.4v6.4h-6.4zM1402 194h6.4v6.4h-6.4zM916.3 199.8h6.4v6.4h-6.4zM968.3 199.8h6.4v6.4h-6.4zM1026.1 199.8h6.4v6.4h-6.4zM1072.4 199.8h12.2v6.4h-12.2zM974.1 205.6h6.4v6.4h-6.4zM1078.2 205.6h6.4v6.4h-6.4zM1407.8 205.6h6.4v6.4h-6.4zM1072.4 211.4h12.2v6.4h-12.2zM1176.5 211.4h6.4v6.4h-6.4zM1407.8 211.4h6.4v6.4h-6.4zM1049.3 217.2h6.4v6.4h-6.4zM1060.8 217.2h23.7v6.4h-23.7zM1297.9 217.2h6.4v6.4h-6.4zM1182.3 223h6.4v6.4h-6.4zM1309.5 223h6.4v6.4h-6.4zM1402 223h6.4v6.4h-6.4zM1188 234.5h6.4v6.4h-6.4zM1263.2 234.5h6.4v6.4h-6.4zM1315.3 234.5h6.4v6.4h-6.4zM1396.2 234.5h6.4v6.4h-6.4zM962.5 240.3h6.4v6.4h-6.4z"/>
<path fill="#43f787" d="M1477.2 49.5h6.4v6.4h-6.4zM1471.4 55.3h6.4v6.4h-6.4zM1465.6 61h6.4v6.4h-6.4zM1459.8 66.8h6.4v6.4h-6.4zM1454 72.6h6.4v6.4h-6.4zM1448.3 78.4h6.4v6.4h-6.4zM1430.9 95.7h12.2v6.4h-12.2zM1407.8 101.5h23.7v6.4h-23.7zM1326.8 107.3h29.5v6.4h-29.5zM1402 107.3h12.2v6.4h-12.2zM1245.9 113.1h6.4v6.4h-6.4zM1373.1 113.1h35.3v6.4h-35.3zM1442.5 113.1h12.2v6.4h-12.2zM1234.3 118.9h12.2v6.4h-12.2zM1430.9 118.9h12.2v6.4h-12.2zM1459.8 118.9h6.4v6.4h-6.4zM1240.1 124.7h6.4v6.4h-6.4zM1419.3 124.7h12.2v6.4h-12.2zM1465.6 124.7h6.4v6.4h-6.4zM1245.9 130.4h6.4v6.4h-6.4zM1419.3 130.4h6.4v6.4h-6.4zM1471.4 130.4h6.4v6.4h-6.4zM1523.4 130.4h6.4v6.4h-6.4zM933.6 136.2h6.4v6.4h-6.4zM1245.9 136.2h6.4v6.4h-6.4zM1413.6 136.2h6.4v6.4h-6.4zM956.7 142h29.5v6.4h-29.5zM1222.7 142h12.2v6.4h-12.2zM991.4 147.8h6.4v6.4h-6.4zM1205.4 147.8h6.4v6.4h-6.4zM1506.1 147.8h6.4v6.4h-6.4zM1008.8 153.6h6.4v6.4h-6.4zM1188 153.6h6.4v6.4h-6.4zM1494.5 153.6h12.2v6.4h-12.2zM1031.9 159.3h23.7v6.4h-23.7zM1170.7 159.3h6.4v6.4h-6.4zM1072.4 165.1h6.4v6.4h-6.4zM1147.6 165.1h6.4v6.4h-6.4zM1107.1 170.9h35.3v6.4h-35.3zM1419.3 170.9h6.4v6.4h-6.4zM1118.7 176.7h12.2v6.4h-12.2zM1419.3 176.7h6.4v6.4h-6.4zM1112.9 182.5h23.7v6.4h-23.7zM1419.3 182.5h12.2v6.4h-12.2zM1112.9 188.3h6.4v6.4h-6.4zM1130.2 188.3h6.4v6.4h-6.4zM1430.9 188.3h12.2v6.4h-12.2zM1136 194h12.2v6.4h-12.2zM1436.7 194h12.2v6.4h-12.2zM1477.2 194h12.2v6.4h-12.2zM1442.5 199.8h17.9v6.4h-17.9zM1506.1 199.8h6.4v6.4h-6.4zM1107.1 205.6h6.4v6.4h-6.4zM1517.6 205.6h12.2v6.4h-12.2zM997.2 211.4h6.4v6.4h-6.4zM1014.6 211.4h6.4v6.4h-6.4zM1107.1 211.4h6.4v6.4h-6.4zM1153.3 211.4h6.4v6.4h-6.4zM1436.7 211.4h6.4v6.4h-6.4zM1459.8 211.4h6.4v6.4h-6.4zM1020.4 217.2h6.4v6.4h-6.4zM1425.1 217.2h35.3v6.4h-35.3zM1477.2 217.2h6.4v6.4h-6.4zM991.4 223h6.4v6.4h-6.4zM1026.1 223h6.4v6.4h-6.4zM1101.3 223h6.4v6.4h-6.4zM1159.1 223h6.4v6.4h-6.4zM1269 223h6.4v6.4h-6.4zM1292.1 223h6.4v6.4h-6.4zM1419.3 223h6.4v6.4h-6.4zM1442.5 223h12.2v6.4h-12.2zM985.7 228.7h6.4v6.4h-6.4zM1031.9 228.7h6.4v6.4h-6.4zM1164.9 228.7h6.4v6.4h-6.4zM1269 228.7h6.4v6.4h-6.4zM979.9 234.5h6.4v6.4h-6.4zM1037.7 234.5h6.4v6.4h-6.4zM1095.5 234.5h6.4v6.4h-6.4zM1170.7 234.5h6.4v6.4h-6.4zM1494.5 234.5h6.4v6.4h-6.4zM974.1 240.3h6.4v6.4h-6.4zM1043.5 240.3h6.4v6.4h-6.4zM1309.5 240.3h6.4v6.4h-6.4zM1494.5 240.3h6.4v6.4h-6.4zM1309.5 246.1h6.4v6.4h-6.4z"/>
<path fill="#8bff4b" d="M1488.7 55.3h6.4v6.4h-6.4zM1483 61h6.4v6.4h-6.4zM1471.4 72.6h6.4v6.4h-6.4zM1459.8 84.2h6.4v6.4h-6.4zM1454 95.7h6.4v6.4h-6.4zM1454 101.5h6.4v6.4h-6.4zM1459.8 107.3h6.4v6.4h-6.4zM1471.4 113.1h6.4v6.4h-6.4zM1263.2 118.9h12.2v6.4h-12.2zM1355.7 118.9h6.4v6.4h-6.4zM1263.2 124.7h12.2v6.4h-12.2zM1367.3 124.7h6.4v6.4h-6.4zM1517.6 124.7h6.4v6.4h-6.4zM1269 130.4h12.2v6.4h-12.2zM1378.9 130.4h6.4v6.4h-6.4zM1511.9 130.4h6.4v6.4h-6.4zM1274.8 136.2h6.4v6.4h-6.4zM1384.6 136.2h6.4v6.4h-6.4zM1263.2 142h6.4v6.4h-6.4zM1488.7 142h6.4v6.4h-6.4zM933.6 147.8h23.7v6.4h-23.7zM1234.3 147.8h12.2v6.4h-12.2zM1390.4 147.8h6.4v6.4h-6.4zM985.7 153.6h6.4v6.4h-6.4zM1211.2 153.6h6.4v6.4h-6.4zM1396.2 153.6h6.4v6.4h-6.4zM997.2 159.3h12.2v6.4h-12.2zM1193.8 159.3h6.4v6.4h-6.4zM1396.2 159.3h6.4v6.4h-6.4zM1026.1 165.1h6.4v6.4h-6.4zM1176.5 165.1h12.2v6.4h-12.2zM1402 165.1h6.4v6.4h-6.4zM904.7 170.9h12.2v6.4h-12.2zM962.5 170.9h6.4v6.4h-6.4zM1060.8 170.9h6.4v6.4h-6.4zM1159.1 170.9h6.4v6.4h-6.4zM916.3 176.7h6.4v6.4h-6.4zM1072.4 176.7h6.4v6.4h-6.4zM1159.1 176.7h6.4v6.4h-6.4zM1089.7 182.5h6.4v6.4h-6.4zM1153.3 182.5h12.2v6.4h-12.2zM979.9 188.3h6.4v6.4h-6.4zM1095.5 188.3h6.4v6.4h-6.4zM1159.1 188.3h6.4v6.4h-6.4zM1407.8 188.3h6.4v6.4h-6.4zM904.7 194h12.2v6.4h-12.2zM1095.5 194h6.4v6.4h-6.4zM1159.1 194h6.4v6.4h-6.4zM991.4 199.8h6.4v6.4h-6.4zM1014.6 199.8h6.4v6.4h-6.4zM1095.5 199.8h6.4v6.4h-6.4zM985.7 205.6h6.4v6.4h-6.4zM1095.5 205.6h6.4v6.4h-6.4zM1164.9 205.6h6.4v6.4h-6.4zM1419.3 205.6h6.4v6.4h-6.4zM1477.2 205.6h6.4v6.4h-6.4zM985.7 211.4h6.4v6.4h-6.4zM1095.5 211.4h6.4v6.4h-6.4zM1164.9 211.4h6.4v6.4h-6.4zM1483 211.4h12.2v6.4h-12.2zM1506.1 211.4h6.4v6.4h-6.4zM985.7 217.2h6.4v6.4h-6.4zM1037.7 217.2h6.4v6.4h-6.4zM1170.7 217.2h6.4v6.4h-6.4zM1286.3 217.2h6.4v6.4h-6.4zM1500.3 217.2h6.4v6.4h-6.4zM1089.7 223h6.4v6.4h-6.4zM1407.8 223h6.4v6.4h-6.4zM1049.3 228.7h6.4v6.4h-6.4zM1176.5 228.7h6.4v6.4h-6.4zM1309.5 228.7h6.4v6.4h-6.4zM1078.2 234.5h12.2v6.4h-12.2zM968.3 240.3h6.4v6.4h-6.4zM1182.3 240.3h6.4v6.4h-6.4zM1182.3 246.1h6.4v6.4h-6.4z"/>
<path fill="#33184a" d="M1188 61h29.5v6.4h-29.5zM1234.3 61h17.9v6.4h-17.9zM1193.8 66.8h64.2v6.4h-64.2z"/>
<path fill="#c1f334" d="M1488.7 72.6h17.9v6.4h-17.9zM1477.2 78.4h6.4v6.4h-6.4zM1506.1 78.4h6.4v6.4h-6.4zM1511.9 84.2h6.4v6.4h-6.4zM1471.4 90h6.4v6.4h-6.4zM1511.9 90h6.4v6.4h-6.4zM1471.4 95.7h6.4v6.4h-6.4zM1511.9 95.7h6.4v6.4h-6.4zM1511.9 101.5h6.4v6.4h-6.4zM1477.2 107.3h6.4v6.4h-6.4zM1511.9 107.3h6.4v6.4h-6.4zM1483 113.1h6.4v6.4h-6.4zM1511.9 118.9h6.4v6.4h-6.4zM1488.7 124.7h6.4v6.4h-6.4zM1292.1 142h64.2v6.4h-64.2zM1274.8 147.8h6.4v6.4h-6.4zM1355.7 147.8h12.2v6.4h-12.2zM1245.9 153.6h12.2v6.4h-12.2zM1367.3 153.6h6.4v6.4h-6.4zM1217 159.3h6.4v6.4h-6.4zM1378.9 159.3h6.4v6.4h-6.4zM1205.4 165.1h6.4v6.4h-6.4zM1384.6 165.1h6.4v6.4h-6.4zM991.4 170.9h6.4v6.4h-6.4zM1020.4 170.9h6.4v6.4h-6.4zM1193.8 170.9h6.4v6.4h-6.4zM1390.4 170.9h6.4v6.4h-6.4zM991.4 176.7h6.4v6.4h-6.4zM1037.7 176.7h17.9v6.4h-17.9zM1188 176.7h6.4v6.4h-6.4zM997.2 182.5h12.2v6.4h-12.2zM1055 182.5h6.4v6.4h-6.4zM1182.3 182.5h6.4v6.4h-6.4zM1396.2 182.5h6.4v6.4h-6.4zM1014.6 188.3h6.4v6.4h-6.4zM1060.8 188.3h6.4v6.4h-6.4zM1176.5 188.3h6.4v6.4h-6.4zM1396.2 188.3h6.4v6.4h-6.4zM933.6 194h23.7v6.4h-23.7zM1060.8 194h6.4v6.4h-6.4zM1176.5 194h6.4v6.4h-6.4zM922 199.8h6.4v6.4h-6.4zM956.7 199.8h12.2v6.4h-12.2zM1031.9 199.8h6.4v6.4h-6.4zM1066.6 199.8h6.4v6.4h-6.4zM1176.5 199.8h6.4v6.4h-6.4zM1402 199.8h6.4v6.4h-6.4zM904.7 205.6h12.2v6.4h-12.2zM968.3 205.6h6.4v6.4h-6.4zM1037.7 205.6h6.4v6.4h-6.4zM1066.6 205.6h12.2v6.4h-12.2zM1176.5 205.6h6.4v6.4h-6.4zM974.1 211.4h6.4v6.4h-6.4zM1043.5 211.4h6.4v6.4h-6.4zM1060.8 211.4h12.2v6.4h-12.2zM1182.3 211.4h6.4v6.4h-6.4zM1055 217.2h6.4v6.4h-6.4zM1182.3 217.2h6.4v6.4h-6.4zM1402 217.2h6.4v6.4h-6.4zM1188 223h6.4v6.4h-6.4zM1188 228.7h6.4v6.4h-6.4zM1315.3 228.7h6.4v6.4h-6.4zM1193.8 234.5h6.4v6.4h-6.4zM1193.8 240.3h6.4v6.4h-6.4zM1193.8 246.1h6.4v6.4h-6.4z"/>
<path fill="#cdec34" d="M1483 78.4h23.7v6.4h-23.7zM1477.2 84.2h6.4v6.4h-6.4zM1506.1 84.2h6.4v6.4h-6.4zM1477.2 90h6.4v6.4h-6.4zM1506.1 90h6.4v6.4h-6.4zM1477.2 95.7h6.4v6.4h-6.4zM1506.1 95.7h6.4v6.4h-6.4zM1477.2 101.5h6.4v6.4h-6.4zM1506.1 101.5h6.4v6.4h-6.4zM1483 107.3h6.4v6.4h-6.4zM1511.9 113.1h6.4v6.4h-6.4zM1488.7 118.9h6.4v6.4h-6.4zM1506.1 130.4h6.4v6.4h-6.4zM1494.5 136.2h6.4v6.4h-6.4zM1280.6 147.8h75.8v6.4h-75.8zM1257.4 153.6h6.4v6.4h-6.4zM1355.7 153.6h12.2v6.4h-12.2zM1222.7 159.3h6.4v6.4h-6.4zM1373.1 159.3h6.4v6.4h-6.4zM1211.2 165.1h6.4v6.4h-6.4zM1378.9 165.1h6.4v6.4h-6.4zM997.2 170.9h23.7v6.4h-23.7zM1199.6 170.9h6.4v6.4h-6.4zM1384.6 170.9h6.4v6.4h-6.4zM997.2 176.7h12.2v6.4h-12.2zM1020.4 176.7h17.9v6.4h-17.9zM1193.8 176.7h6.4v6.4h-6.4zM1390.4 176.7h6.4v6.4h-6.4zM1008.8 182.5h12.2v6.4h-12.2zM1049.3 182.5h6.4v6.4h-6.4zM1188 182.5h6.4v6.4h-6.4zM1020.4 188.3h6.4v6.4h-6.4zM1055 188.3h6.4v6.4h-6.4zM1182.3 188.3h6.4v6.4h-6.4zM1026.1 194h6.4v6.4h-6.4zM1055 194h6.4v6.4h-6.4zM1182.3 194h6.4v6.4h-6.4zM1396.2 194h6.4v6.4h-6.4zM927.8 199.8h29.5v6.4h-29.5zM1037.7 199.8h6.4v6.4h-6.4zM1060.8 199.8h6.4v6.4h-6.4zM1182.3 199.8h6.4v6.4h-6.4zM916.3 205.6h6.4v6.4h-6.4zM956.7 205.6h12.2v6.4h-12.2zM1043.5 205.6h6.4v6.4h-6.4zM1055 205.6h12.2v6.4h-12.2zM1182.3 205.6h6.4v6.4h-6.4zM1402 205.6h6.4v6.4h-6.4zM904.7 211.4h12.2v6.4h-12.2zM1049.3 211.4h12.2v6.4h-12.2zM1402 211.4h6.4v6.4h-6.4zM974.1 217.2h6.4v6.4h-6.4zM1188 217.2h6.4v6.4h-6.4zM1263.2 217.2h6.4v6.4h-6.4zM1303.7 217.2h6.4v6.4h-6.4zM974.1 223h6.4v6.4h-6.4zM1257.4 223h6.4v6.4h-6.4zM1193.8 228.7h6.4v6.4h-6.4zM1396.2 228.7h6.4v6.4h-6.4zM962.5 234.5h6.4v6.4h-6.4zM1199.6 240.3h6.4v6.4h-6.4zM1263.2 240.3h6.4v6.4h-6.4zM1390.4 240.3h6.4v6.4h-6.4zM956.7 246.1h6.4v6.4h-6.4zM1199.6 246.1h6.4v6.4h-6.4zM1390.4 246.1h6.4v6.4h-6.4z"/>
<path fill="#d9e436" d="M1483 84.2h23.7v6.4h-23.7zM1483 90h23.7v6.4h-23.7zM1483 95.7h23.7v6.4h-23.7zM1483 101.5h12.2v6.4h-12.2zM1500.3 101.5h6.4v6.4h-6.4zM1488.7 107.3h6.4v6.4h-6.4zM1506.1 107.3h6.4v6.4h-6.4zM1488.7 113.1h6.4v6.4h-6.4zM1506.1 124.7h6.4v6.4h-6.4zM1494.5 130.4h6.4v6.4h-6.4zM1500.3 136.2h6.4v6.4h-6.4zM1263.2 153.6h12.2v6.4h-12.2zM1350 153.6h6.4v6.4h-6.4zM1228.5 159.3h12.2v6.4h-12.2zM1361.5 159.3h12.2v6.4h-12.2zM1373.1 165.1h6.4v6.4h-6.4zM1205.4 170.9h6.4v6.4h-6.4zM1378.9 170.9h6.4v6.4h-6.4zM1008.8 176.7h12.2v6.4h-12.2zM1199.6 176.7h6.4v6.4h-6.4zM1384.6 176.7h6.4v6.4h-6.4zM1020.4 182.5h29.5v6.4h-29.5zM1193.8 182.5h6.4v6.4h-6.4zM1390.4 182.5h6.4v6.4h-6.4zM1026.1 188.3h6.4v6.4h-6.4zM1049.3 188.3h6.4v6.4h-6.4zM1188 188.3h6.4v6.4h-6.4zM1390.4 188.3h6.4v6.4h-6.4zM1031.9 194h23.7v6.4h-23.7zM1043.5 199.8h17.9v6.4h-17.9zM1396.2 199.8h6.4v6.4h-6.4zM922 205.6h35.3v6.4h-35.3zM1049.3 205.6h6.4v6.4h-6.4zM1188 205.6h6.4v6.4h-6.4zM1396.2 205.6h6.4v6.4h-6.4zM916.3 211.4h12.2v6.4h-12.2zM968.3 211.4h6.4v6.4h-6.4zM1188 211.4h6.4v6.4h-6.4zM1396.2 211.4h6.4v6.4h-6.4zM904.7 217.2h12.2v6.4h-12.2zM1396.2 217.2h6.4v6.4h-6.4zM1193.8 223h6.4v6.4h-6.4zM1315.3 223h6.4v6.4h-6.4zM1396.2 223h6.4v6.4h-6.4zM968.3 228.7h6.4v6.4h-6.4zM1257.4 228.7h6.4v6.4h-6.4zM1199.6 234.5h6.4v6.4h-6.4zM1390.4 234.5h6.4v6.4h-6.4zM956.7 240.3h6.4v6.4h-6.4zM1263.2 246.1h6.4v6.4h-6.4z"/>
<path fill="#69fd66" d="M1448.3 90h6.4v6.4h-6.4zM1442.5 95.7h6.4v6.4h-6.4zM1442.5 101.5h6.4v6.4h-6.4zM1448.3 107.3h6.4v6.4h-6.4zM1263.2 113.1h58.4v6.4h-58.4zM1350 113.1h12.2v6.4h-12.2zM1459.8 113.1h6.4v6.4h-6.4zM1251.7 118.9h6.4v6.4h-6.4zM1367.3 118.9h12.2v6.4h-12.2zM1251.7 124.7h6.4v6.4h-6.4zM1384.6 124.7h12.2v6.4h-12.2zM1257.4 130.4h6.4v6.4h-6.4zM1390.4 130.4h6.4v6.4h-6.4zM1477.2 130.4h6.4v6.4h-6.4zM1257.4 136.2h6.4v6.4h-6.4zM1396.2 136.2h6.4v6.4h-6.4zM1511.9 136.2h6.4v6.4h-6.4zM933.6 142h12.2v6.4h-12.2zM1245.9 142h6.4v6.4h-6.4zM1396.2 142h12.2v6.4h-12.2zM985.7 147.8h6.4v6.4h-6.4zM1217 147.8h6.4v6.4h-6.4zM1402 147.8h6.4v6.4h-6.4zM1199.6 153.6h6.4v6.4h-6.4zM1407.8 153.6h6.4v6.4h-6.4zM1014.6 159.3h12.2v6.4h-12.2zM1182.3 159.3h6.4v6.4h-6.4zM1407.8 159.3h6.4v6.4h-6.4zM1055 165.1h6.4v6.4h-6.4zM1164.9 165.1h6.4v6.4h-6.4zM1407.8 165.1h6.4v6.4h-6.4zM1072.4 170.9h12.2v6.4h-12.2zM1147.6 170.9h6.4v6.4h-6.4zM1089.7 176.7h17.9v6.4h-17.9zM1141.8 176.7h6.4v6.4h-6.4zM904.7 182.5h12.2v6.4h-12.2zM1107.1 182.5h6.4v6.4h-6.4zM1141.8 182.5h6.4v6.4h-6.4zM904.7 188.3h12.2v6.4h-12.2zM1107.1 188.3h6.4v6.4h-6.4zM1147.6 188.3h6.4v6.4h-6.4zM1413.6 188.3h6.4v6.4h-6.4zM1147.6 194h6.4v6.4h-6.4zM1419.3 194h12.2v6.4h-12.2zM1153.3 199.8h6.4v6.4h-6.4zM1425.1 199.8h6.4v6.4h-6.4zM1471.4 199.8h12.2v6.4h-12.2zM1494.5 199.8h12.2v6.4h-12.2zM1014.6 205.6h6.4v6.4h-6.4zM1425.1 205.6h6.4v6.4h-6.4zM1459.8 205.6h12.2v6.4h-12.2zM1511.9 205.6h6.4v6.4h-6.4zM991.4 211.4h6.4v6.4h-6.4zM1101.3 211.4h6.4v6.4h-6.4zM1159.1 211.4h6.4v6.4h-6.4zM1425.1 211.4h6.4v6.4h-6.4zM1511.9 211.4h6.4v6.4h-6.4zM1419.3 217.2h6.4v6.4h-6.4zM1488.7 217.2h6.4v6.4h-6.4zM1511.9 217.2h6.4v6.4h-6.4zM1164.9 223h6.4v6.4h-6.4zM1297.9 223h6.4v6.4h-6.4zM1494.5 223h6.4v6.4h-6.4zM1511.9 223h6.4v6.4h-6.4zM1170.7 228.7h6.4v6.4h-6.4zM1500.3 228.7h12.2v6.4h-12.2zM1049.3 234.5h6.4v6.4h-6.4zM1089.7 234.5h6.4v6.4h-6.4zM1309.5 234.5h6.4v6.4h-6.4zM1066.6 240.3h12.2v6.4h-12.2zM1176.5 240.3h6.4v6.4h-6.4zM1072.4 246.1h6.4v6.4h-6.4z"/>
<path fill="#e3db38" d="M1494.5 101.5h6.4v6.4h-6.4zM1494.5 107.3h12.2v6.4h-12.2zM1494.5 113.1h6.4v6.4h-6.4zM1506.1 113.1h6.4v6.4h-6.4zM1494.5 118.9h6.4v6.4h-6.4zM1506.1 118.9h6.4v6.4h-6.4zM1494.5 124.7h6.4v6.4h-6.4zM1500.3 130.4h6.4v6.4h-6.4zM1274.8 153.6h75.8v6.4h-75.8zM1240.1 159.3h12.2v6.4h-12.2zM1355.7 159.3h6.4v6.4h-6.4zM1217 165.1h6.4v6.4h-6.4zM1367.3 165.1h6.4v6.4h-6.4zM1384.6 182.5h6.4v6.4h-6.4zM1031.9 188.3h17.9v6.4h-17.9zM1188 194h6.4v6.4h-6.4zM1390.4 194h6.4v6.4h-6.4zM1188 199.8h6.4v6.4h-6.4zM1390.4 199.8h6.4v6.4h-6.4zM927.8 211.4h12.2v6.4h-12.2zM956.7 211.4h12.2v6.4h-12.2zM1274.8 211.4h17.9v6.4h-17.9zM916.3 217.2h12.2v6.4h-12.2zM968.3 217.2h6.4v6.4h-6.4zM1193.8 217.2h6.4v6.4h-6.4zM1309.5 217.2h6.4v6.4h-6.4zM904.7 223h17.9v6.4h-17.9zM1199.6 223h6.4v6.4h-6.4zM904.7 228.7h12.2v6.4h-12.2zM1199.6 228.7h6.4v6.4h-6.4zM1390.4 228.7h6.4v6.4h-6.4zM956.7 234.5h6.4v6.4h-6.4zM1205.4 234.5h6.4v6.4h-6.4zM1205.4 240.3h6.4v6.4h-6.4zM1205.4 246.1h6.4v6.4h-6.4z"/>
<path fill="#ebd339" d="M1500.3 113.1h6.4v6.4h-6.4zM1500.3 124.7h6.4v6.4h-6.4zM1251.7 159.3h6.4v6.4h-6.4zM1344.2 159.3h12.2v6.4h-12.2zM1222.7 165.1h6.4v6.4h-6.4zM1361.5 165.1h6.4v6.4h-6.4zM1211.2 170.9h6.4v6.4h-6.4zM1373.1 170.9h6.4v6.4h-6.4zM1205.4 176.7h6.4v6.4h-6.4zM1378.9 176.7h6.4v6.4h-6.4zM1199.6 182.5h6.4v6.4h-6.4zM1193.8 188.3h6.4v6.4h-6.4zM1384.6 188.3h6.4v6.4h-6.4zM1193.8 194h6.4v6.4h-6.4zM1193.8 199.8h6.4v6.4h-6.4zM1193.8 205.6h6.4v6.4h-6.4zM1390.4 205.6h6.4v6.4h-6.4zM939.4 211.4h17.9v6.4h-17.9zM1193.8 211.4h6.4v6.4h-6.4zM1292.1 211.4h6.4v6.4h-6.4zM1390.4 211.4h6.4v6.4h-6.4zM927.8 217.2h12.2v6.4h-12.2zM1199.6 217.2h6.4v6.4h-6.4zM1257.4 217.2h6.4v6.4h-6.4zM1390.4 217.2h6.4v6.4h-6.4zM922 223h12.2v6.4h-12.2zM968.3 223h6.4v6.4h-6.4zM1321 223h6.4v6.4h-6.4zM1390.4 223h6.4v6.4h-6.4zM916.3 228.7h12.2v6.4h-12.2zM962.5 228.7h6.4v6.4h-6.4zM1205.4 228.7h6.4v6.4h-6.4zM1321 228.7h6.4v6.4h-6.4zM904.7 234.5h17.9v6.4h-17.9zM1257.4 234.5h6.4v6.4h-6.4zM1321 234.5h6.4v6.4h-6.4zM904.7 240.3h6.4v6.4h-6.4zM951 240.3h6.4v6.4h-6.4zM1211.2 240.3h6.4v6.4h-6.4zM1321 240.3h6.4v6.4h-6.4zM1384.6 240.3h6.4v6.4h-6.4zM951 246.1h6.4v6.4h-6.4zM1211.2 246.1h6.4v6.4h-6.4zM1321 246.1h6.4v6.4h-6.4zM1384.6 246.1h6.4v6.4h-6.4z"/>
<path fill="#f2c93a" d="M1500.3 118.9h6.4v6.4h-6.4zM1257.4 159.3h12.2v6.4h-12.2zM1321 159.3h23.7v6.4h-23.7zM1228.5 165.1h6.4v6.4h-6.4zM1355.7 165.1h6.4v6.4h-6.4zM1217 170.9h6.4v6.4h-6.4zM1367.3 170.9h6.4v6.4h-6.4zM1211.2 176.7h6.4v6.4h-6.4zM1373.1 176.7h6.4v6.4h-6.4zM1205.4 182.5h6.4v6.4h-6.4zM1378.9 182.5h6.4v6.4h-6.4zM1199.6 188.3h6.4v6.4h-6.4zM1384.6 194h6.4v6.4h-6.4zM1384.6 199.8h6.4v6.4h-6.4zM1384.6 205.6h6.4v6.4h-6.4zM1199.6 211.4h6.4v6.4h-6.4zM1269 211.4h6.4v6.4h-6.4zM1297.9 211.4h6.4v6.4h-6.4zM939.4 217.2h17.9v6.4h-17.9zM962.5 217.2h6.4v6.4h-6.4zM1315.3 217.2h6.4v6.4h-6.4zM933.6 223h6.4v6.4h-6.4zM1205.4 223h6.4v6.4h-6.4zM1251.7 223h6.4v6.4h-6.4zM927.8 228.7h6.4v6.4h-6.4zM956.7 228.7h6.4v6.4h-6.4zM1251.7 228.7h6.4v6.4h-6.4zM922 234.5h6.4v6.4h-6.4zM951 234.5h6.4v6.4h-6.4zM1211.2 234.5h6.4v6.4h-6.4zM1384.6 234.5h6.4v6.4h-6.4zM910.5 240.3h12.2v6.4h-12.2zM1217 240.3h6.4v6.4h-6.4zM904.7 246.1h17.9v6.4h-17.9zM1217 246.1h6.4v6.4h-6.4z"/>
<path fill="#f8be39" d="M1269 159.3h12.2v6.4h-12.2zM1292.1 159.3h29.5v6.4h-29.5zM1234.3 165.1h12.2v6.4h-12.2zM1344.2 165.1h12.2v6.4h-12.2zM1222.7 170.9h6.4v6.4h-6.4zM1361.5 170.9h6.4v6.4h-6.4zM1217 176.7h6.4v6.4h-6.4zM1367.3 176.7h6.4v6.4h-6.4zM1211.2 182.5h6.4v6.4h-6.4zM1373.1 182.5h6.4v6.4h-6.4zM1205.4 188.3h6.4v6.4h-6.4zM1378.9 188.3h6.4v6.4h-6.4zM1199.6 194h6.4v6.4h-6.4zM1378.9 194h6.4v6.4h-6.4zM1199.6 199.8h6.4v6.4h-6.4zM1378.9 199.8h6.4v6.4h-6.4zM1199.6 205.6h6.4v6.4h-6.4zM1378.9 205.6h6.4v6.4h-6.4zM1303.7 211.4h6.4v6.4h-6.4zM1384.6 211.4h6.4v6.4h-6.4zM956.7 217.2h6.4v6.4h-6.4zM1205.4 217.2h6.4v6.4h-6.4zM1321 217.2h6.4v6.4h-6.4zM1384.6 217.2h6.4v6.4h-6.4zM939.4 223h17.9v6.4h-17.9zM962.5 223h6.4v6.4h-6.4zM1326.8 223h6.4v6.4h-6.4zM1384.6 223h6.4v6.4h-6.4zM933.6 228.7h23.7v6.4h-23.7zM1211.2 228.7h6.4v6.4h-6.4zM1384.6 228.7h6.4v6.4h-6.4zM927.8 234.5h23.7v6.4h-23.7zM1217 234.5h6.4v6.4h-6.4zM922 240.3h29.5v6.4h-29.5zM1257.4 240.3h6.4v6.4h-6.4zM1378.9 240.3h6.4v6.4h-6.4zM922 246.1h29.5v6.4h-29.5zM1378.9 246.1h6.4v6.4h-6.4z"/>
<path fill="#fcb336" d="M1280.6 159.3h12.2v6.4h-12.2zM1245.9 165.1h6.4v6.4h-6.4zM1332.6 165.1h12.2v6.4h-12.2zM1228.5 170.9h6.4v6.4h-6.4zM1355.7 170.9h6.4v6.4h-6.4zM1373.1 188.3h6.4v6.4h-6.4zM1205.4 194h6.4v6.4h-6.4zM1373.1 194h6.4v6.4h-6.4zM1367.3 199.8h12.2v6.4h-12.2zM1361.5 205.6h17.9v6.4h-17.9zM1205.4 211.4h6.4v6.4h-6.4zM1355.7 211.4h29.5v6.4h-29.5zM1251.7 217.2h6.4v6.4h-6.4zM1326.8 217.2h6.4v6.4h-6.4zM1350 217.2h35.3v6.4h-35.3zM956.7 223h6.4v6.4h-6.4zM1211.2 223h6.4v6.4h-6.4zM1332.6 223h41.1v6.4h-41.1zM1217 228.7h6.4v6.4h-6.4zM1326.8 228.7h6.4v6.4h-6.4zM1355.7 228.7h17.9v6.4h-17.9zM1378.9 228.7h6.4v6.4h-6.4zM1251.7 234.5h6.4v6.4h-6.4zM1373.1 234.5h12.2v6.4h-12.2zM1222.7 240.3h6.4v6.4h-6.4zM1373.1 240.3h6.4v6.4h-6.4zM1222.7 246.1h6.4v6.4h-6.4zM1257.4 246.1h6.4v6.4h-6.4zM1373.1 246.1h6.4v6.4h-6.4z"/>
<path fill="#fea933" d="M1251.7 165.1h12.2v6.4h-12.2zM1321 165.1h12.2v6.4h-12.2zM1344.2 170.9h12.2v6.4h-12.2zM1222.7 176.7h6.4v6.4h-6.4zM1355.7 176.7h12.2v6.4h-12.2zM1217 182.5h6.4v6.4h-6.4zM1367.3 182.5h6.4v6.4h-6.4zM1211.2 188.3h6.4v6.4h-6.4zM1367.3 194h6.4v6.4h-6.4zM1205.4 199.8h6.4v6.4h-6.4zM1361.5 199.8h6.4v6.4h-6.4zM1205.4 205.6h6.4v6.4h-6.4zM1355.7 205.6h6.4v6.4h-6.4zM1263.2 211.4h6.4v6.4h-6.4zM1309.5 211.4h12.2v6.4h-12.2zM1350 211.4h6.4v6.4h-6.4zM1211.2 217.2h6.4v6.4h-6.4zM1332.6 217.2h17.9v6.4h-17.9zM1373.1 223h12.2v6.4h-12.2zM1245.9 228.7h6.4v6.4h-6.4zM1332.6 228.7h23.7v6.4h-23.7zM1373.1 228.7h6.4v6.4h-6.4zM1222.7 234.5h6.4v6.4h-6.4zM1326.8 234.5h6.4v6.4h-6.4zM1355.7 234.5h17.9v6.4h-17.9zM1228.5 240.3h6.4v6.4h-6.4zM1361.5 240.3h12.2v6.4h-12.2zM1228.5 246.1h6.4v6.4h-6.4zM1361.5 246.1h12.2v6.4h-12.2z"/>
<path fill="#fe9b2d" d="M1263.2 165.1h6.4v6.4h-6.4zM1309.5 165.1h12.2v6.4h-12.2zM1234.3 170.9h6.4v6.4h-6.4zM1332.6 170.9h12.2v6.4h-12.2zM1228.5 176.7h6.4v6.4h-6.4zM1344.2 176.7h12.2v6.4h-12.2zM1222.7 182.5h6.4v6.4h-6.4zM1355.7 182.5h12.2v6.4h-12.2zM1217 188.3h6.4v6.4h-6.4zM1367.3 188.3h6.4v6.4h-6.4zM1211.2 194h6.4v6.4h-6.4zM1361.5 194h6.4v6.4h-6.4zM1355.7 199.8h6.4v6.4h-6.4zM1280.6 205.6h17.9v6.4h-17.9zM1350 205.6h6.4v6.4h-6.4zM1211.2 211.4h6.4v6.4h-6.4zM1321 211.4h29.5v6.4h-29.5zM1217 223h6.4v6.4h-6.4zM1245.9 223h6.4v6.4h-6.4zM1222.7 228.7h6.4v6.4h-6.4zM1228.5 234.5h6.4v6.4h-6.4zM1245.9 234.5h6.4v6.4h-6.4zM1332.6 234.5h23.7v6.4h-23.7zM1234.3 240.3h6.4v6.4h-6.4zM1251.7 240.3h6.4v6.4h-6.4zM1326.8 240.3h6.4v6.4h-6.4zM1355.7 240.3h6.4v6.4h-6.4zM1234.3 246.1h6.4v6.4h-6.4zM1251.7 246.1h6.4v6.4h-6.4zM1326.8 246.1h6.4v6.4h-6.4zM1355.7 246.1h6.4v6.4h-6.4z"/>
<path fill="#fd8d27" d="M1269 165.1h41.1v6.4h-41.1zM1240.1 170.9h6.4v6.4h-6.4zM1326.8 170.9h6.4v6.4h-6.4zM1234.3 176.7h6.4v6.4h-6.4zM1338.4 176.7h6.4v6.4h-6.4zM1228.5 182.5h6.4v6.4h-6.4zM1344.2 182.5h12.2v6.4h-12.2zM1222.7 188.3h6.4v6.4h-6.4zM1350 188.3h17.9v6.4h-17.9zM1217 194h6.4v6.4h-6.4zM1350 194h12.2v6.4h-12.2zM1211.2 199.8h6.4v6.4h-6.4zM1344.2 199.8h12.2v6.4h-12.2zM1211.2 205.6h6.4v6.4h-6.4zM1274.8 205.6h6.4v6.4h-6.4zM1297.9 205.6h6.4v6.4h-6.4zM1332.6 205.6h17.9v6.4h-17.9zM1257.4 211.4h6.4v6.4h-6.4zM1217 217.2h6.4v6.4h-6.4zM1245.9 217.2h6.4v6.4h-6.4zM1222.7 223h6.4v6.4h-6.4zM1228.5 228.7h6.4v6.4h-6.4zM1234.3 234.5h12.2v6.4h-12.2zM1240.1 240.3h12.2v6.4h-12.2zM1332.6 240.3h23.7v6.4h-23.7zM1240.1 246.1h12.2v6.4h-12.2zM1332.6 246.1h23.7v6.4h-23.7z"/>
<path fill="#fb7e21" d="M1245.9 170.9h12.2v6.4h-12.2zM1315.3 170.9h12.2v6.4h-12.2zM1332.6 176.7h6.4v6.4h-6.4zM1338.4 182.5h6.4v6.4h-6.4zM1344.2 188.3h6.4v6.4h-6.4zM1338.4 194h12.2v6.4h-12.2zM1217 199.8h6.4v6.4h-6.4zM1332.6 199.8h12.2v6.4h-12.2zM1269 205.6h6.4v6.4h-6.4zM1303.7 205.6h29.5v6.4h-29.5zM1217 211.4h6.4v6.4h-6.4zM1222.7 217.2h6.4v6.4h-6.4zM1228.5 223h6.4v6.4h-6.4zM1240.1 223h6.4v6.4h-6.4zM1234.3 228.7h12.2v6.4h-12.2z"/>
<path fill="#f8721c" d="M1257.4 170.9h6.4v6.4h-6.4zM1303.7 170.9h12.2v6.4h-12.2zM1240.1 176.7h6.4v6.4h-6.4zM1321 176.7h12.2v6.4h-12.2zM1234.3 182.5h6.4v6.4h-6.4zM1332.6 182.5h6.4v6.4h-6.4zM1228.5 188.3h6.4v6.4h-6.4zM1338.4 188.3h6.4v6.4h-6.4zM1222.7 194h6.4v6.4h-6.4zM1332.6 194h6.4v6.4h-6.4zM1286.3 199.8h17.9v6.4h-17.9zM1321 199.8h12.2v6.4h-12.2zM1217 205.6h6.4v6.4h-6.4zM1251.7 211.4h6.4v6.4h-6.4zM1228.5 217.2h6.4v6.4h-6.4zM1240.1 217.2h6.4v6.4h-6.4zM1234.3 223h6.4v6.4h-6.4z"/>
<path fill="#f36315" d="M1263.2 170.9h12.2v6.4h-12.2zM1292.1 170.9h12.2v6.4h-12.2zM1245.9 176.7h6.4v6.4h-6.4zM1309.5 176.7h12.2v6.4h-12.2zM1240.1 182.5h6.4v6.4h-6.4zM1321 182.5h12.2v6.4h-12.2zM1234.3 188.3h6.4v6.4h-6.4zM1332.6 188.3h6.4v6.4h-6.4zM1228.5 194h6.4v6.4h-6.4zM1292.1 194h12.2v6.4h-12.2zM1321 194h12.2v6.4h-12.2zM1222.7 199.8h6.4v6.4h-6.4zM1274.8 199.8h12.2v6.4h-12.2zM1303.7 199.8h17.9v6.4h-17.9zM1222.7 205.6h6.4v6.4h-6.4zM1263.2 205.6h6.4v6.4h-6.4zM1222.7 211.4h12.2v6.4h-12.2zM1240.1 211.4h12.2v6.4h-12.2zM1234.3 217.2h6.4v6.4h-6.4z"/>
<path fill="#ed5510" d="M1274.8 170.9h17.9v6.4h-17.9zM1251.7 176.7h12.2v6.4h-12.2zM1292.1 176.7h17.9v6.4h-17.9zM1245.9 182.5h6.4v6.4h-6.4zM1297.9 182.5h23.7v6.4h-23.7zM1240.1 188.3h6.4v6.4h-6.4zM1292.1 188.3h41.1v6.4h-41.1zM1234.3 194h6.4v6.4h-6.4zM1286.3 194h6.4v6.4h-6.4zM1303.7 194h17.9v6.4h-17.9zM1228.5 199.8h12.2v6.4h-12.2zM1269 199.8h6.4v6.4h-6.4zM1228.5 205.6h17.9v6.4h-17.9zM1234.3 211.4h6.4v6.4h-6.4z"/>
<path fill="#e84b0c" d="M1263.2 176.7h12.2v6.4h-12.2zM1280.6 176.7h12.2v6.4h-12.2zM1251.7 182.5h6.4v6.4h-6.4zM1286.3 182.5h12.2v6.4h-12.2zM1245.9 188.3h6.4v6.4h-6.4zM1286.3 188.3h6.4v6.4h-6.4zM1240.1 194h6.4v6.4h-6.4zM1280.6 194h6.4v6.4h-6.4zM1240.1 199.8h12.2v6.4h-12.2zM1245.9 205.6h17.9v6.4h-17.9z"/>
<path fill="#e14109" d="M1274.8 176.7h6.4v6.4h-6.4zM1257.4 182.5h6.4v6.4h-6.4zM1280.6 182.5h6.4v6.4h-6.4zM1280.6 188.3h6.4v6.4h-6.4zM1245.9 194h6.4v6.4h-6.4zM1269 194h12.2v6.4h-12.2zM1251.7 199.8h6.4v6.4h-6.4zM1263.2 199.8h6.4v6.4h-6.4z"/>
<path fill="#d83706" d="M1263.2 182.5h17.9v6.4h-17.9zM1251.7 188.3h6.4v6.4h-6.4zM1274.8 188.3h6.4v6.4h-6.4zM1251.7 194h17.9v6.4h-17.9zM1257.4 199.8h6.4v6.4h-6.4z"/>
<path fill="#ce2d04" d="M1257.4 188.3h17.9v6.4h-17.9z"/>
</g></g>
<path class="gl" d="M905 113.4H1532M905 182.8H1532M905 252.2H1532M1113.2 44V261.5M1321.3 44V261.5"/>
<g clip-path="url(#ca0)"><polygon points="1496.4,44 1496.4,44.5 1497.4,48.3 1500.5,51.8 1499.7,56.4 1501.5,60.5 1500.5,65.6 1498.4,68.6 1495.4,69.6 1495.9,72.7 1500.5,75.7 1505.6,77.7 1510.6,79 1515.7,78.8 1520.8,76.7 1523.3,74.7 1526.9,74.2 1528.9,72.2 1531.2,71.6 1540,71.6 1540,39 1496.4,39" fill="#fcfbe5" stroke="#111" stroke-width="1.3"/></g>
<g class="q" clip-path="url(#ca0)">
<path d="M905 44l8.5 14.8"/>
<path d="M922.3 44l10.9 9.4"/>
<path d="M939.7 44l11.7 -0"/>
<path d="M957 44l9.8 -8.5"/>
<path d="M974.4 44l7.8 -13.6"/>
<path d="M991.7 44l12.8 -11.3"/>
<path d="M1009.1 44l14.4 0.6"/>
<path d="M1026.4 44l9.9 10.4"/>
<path d="M1043.8 44l8.2 17.7"/>
<path d="M1061.1 44l8.8 20.1"/>
<path d="M1078.5 44l8.4 20.3"/>
<path d="M1095.8 44l7.9 20.4"/>
<path d="M1113.2 44l6.7 18.3"/>
<path d="M1130.5 44l6.3 11.6"/>
<path d="M1147.9 44l5 6.6"/>
<path d="M1165.2 44l5.2 4.9"/>
<path d="M1182.6 44l5.7 4"/>
<path d="M1199.9 44l6.1 3.4"/>
<path d="M1217.3 44l6.5 2.7"/>
<path d="M1234.6 44l6.7 1.9"/>
<path d="M1252 44l6.9 1.2"/>
<path d="M1269.3 44l7 1.2"/>
<path d="M1286.6 44l7 1.2"/>
<path d="M1304 44l7 1.2"/>
<path d="M1321.3 44l7 1.2"/>
<path d="M1338.7 44l8.2 -1.3"/>
<path d="M1356 44l7.2 -6.1"/>
<path d="M1373.4 44l3.5 -10"/>
<path d="M1390.7 44l0 -11.7"/>
<path d="M1408.1 44l1.8 -14.3"/>
<path d="M1425.4 44l5 -18.8"/>
<path d="M1442.8 44l8.4 -20.2"/>
<path d="M1460.1 44l11.9 -20.5"/>
<path d="M1477.5 44l14.7 -24.2"/>
<path d="M1494.8 44l18.6 -29.2"/>
<path d="M1512.2 44l21.3 -31.8"/>
<path d="M1529.5 44l21.9 -31.3"/>
<path d="M905 61.3l9 8.1"/>
<path d="M922.3 61.3l10 4"/>
<path d="M939.7 61.3l10 -0.9"/>
<path d="M957 61.3l10.3 -5.8"/>
<path d="M974.4 61.3l10.4 -10.8"/>
<path d="M991.7 61.3l16.1 -7.5"/>
<path d="M1009.1 61.3l15.5 2.6"/>
<path d="M1026.4 61.3l10.3 9"/>
<path d="M1043.8 61.3l8.8 14.5"/>
<path d="M1061.1 61.3l10.2 18"/>
<path d="M1078.5 61.3l10.5 19.7"/>
<path d="M1095.8 61.3l10 20"/>
<path d="M1113.2 61.3l8.2 17.7"/>
<path d="M1130.5 61.3l7.9 12.1"/>
<path d="M1147.9 61.3l7 8"/>
<path d="M1165.2 61.3l6.3 5.4"/>
<path d="M1182.6 61.3l5.9 3.8"/>
<path d="M1199.9 61.3l6.2 3.2"/>
<path d="M1217.3 61.3l6.5 2.7"/>
<path d="M1234.6 61.3l6.7 2.1"/>
<path d="M1252 61.3l6.8 1.5"/>
<path d="M1269.3 61.3l6.9 1.4"/>
<path d="M1286.6 61.3l6.9 1.3"/>
<path d="M1304 61.3l7 1.2"/>
<path d="M1321.3 61.3l6.9 1.1"/>
<path d="M1338.7 61.3l7 -0.6"/>
<path d="M1356 61.3l6.9 -3.4"/>
<path d="M1373.4 61.3l6 -7.3"/>
<path d="M1390.7 61.3l3.5 -10.6"/>
<path d="M1408.1 61.3l5.7 -13.2"/>
<path d="M1425.4 61.3l9 -17.3"/>
<path d="M1442.8 61.3l11.9 -19.5"/>
<path d="M1460.1 61.3l14.9 -21.3"/>
<path d="M1477.5 61.3l17.8 -26"/>
<path d="M1494.8 61.3l20.2 -30.3"/>
<path d="M1512.2 61.3l20.9 -32"/>
<path d="M1529.5 61.3l20.6 -32.3"/>
<path d="M905 78.7l6.8 2.1"/>
<path d="M922.3 78.7l7 0.6"/>
<path d="M939.7 78.7l7.1 -1"/>
<path d="M957 78.7l9.4 -3.4"/>
<path d="M974.4 78.7l12.5 -7.2"/>
<path d="M991.7 78.7l18.6 -3.4"/>
<path d="M1009.1 78.7l18.3 4.6"/>
<path d="M1026.4 78.7l13.5 10.1"/>
<path d="M1043.8 78.7l11.1 14.4"/>
<path d="M1061.1 78.7l12.3 17.2"/>
<path d="M1078.5 78.7l13.2 19.7"/>
<path d="M1095.8 78.7l12.8 20.5"/>
<path d="M1113.2 78.7l10.8 18.7"/>
<path d="M1130.5 78.7l11.1 14.5"/>
<path d="M1147.9 78.7l11.1 11.1"/>
<path d="M1165.2 78.7l10.5 8"/>
<path d="M1182.6 78.7l8.3 4.8"/>
<path d="M1199.9 78.7l6.4 3.2"/>
<path d="M1217.3 78.7l6.6 2.7"/>
<path d="M1234.6 78.7l6.8 2.3"/>
<path d="M1252 78.7l6.9 1.8"/>
<path d="M1269.3 78.7l7.5 1.8"/>
<path d="M1286.6 78.7l8.7 1.7"/>
<path d="M1304 78.7l9.3 1.5"/>
<path d="M1321.3 78.7l8.8 1.2"/>
<path d="M1338.7 78.7l9.6 -0.3"/>
<path d="M1356 78.7l11.2 -2.8"/>
<path d="M1373.4 78.7l11.1 -6.1"/>
<path d="M1390.7 78.7l10.6 -10.6"/>
<path d="M1408.1 78.7l12.5 -13.2"/>
<path d="M1425.4 78.7l14.5 -16"/>
<path d="M1442.8 78.7l17.1 -19.6"/>
<path d="M1460.1 78.7l20.2 -24.1"/>
<path d="M1477.5 78.7l23 -29.9"/>
<path d="M1494.8 78.7l23.4 -33.4"/>
<path d="M1512.2 78.7l21.2 -33.3"/>
<path d="M1529.5 78.7l19.1 -33.1"/>
<path d="M905 96l8.2 -1"/>
<path d="M922.3 96l6.9 -1.1"/>
<path d="M939.7 96l7 -1.3"/>
<path d="M957 96l10.3 -2.3"/>
<path d="M974.4 96l13.3 -3.3"/>
<path d="M991.7 96l17.6 0.3"/>
<path d="M1009.1 96l19.2 6.1"/>
<path d="M1026.4 96l18.6 12.2"/>
<path d="M1043.8 96l16.4 17.1"/>
<path d="M1061.1 96l16 18.1"/>
<path d="M1078.5 96l15.6 19"/>
<path d="M1095.8 96l14.6 19.2"/>
<path d="M1113.2 96l14 19.9"/>
<path d="M1130.5 96l15.9 17.7"/>
<path d="M1147.9 96l16.5 14.4"/>
<path d="M1165.2 96l17.2 11.7"/>
<path d="M1182.6 96l17.3 9"/>
<path d="M1199.9 96l16.9 7.9"/>
<path d="M1217.3 96l17.2 7.1"/>
<path d="M1234.6 96l17.5 6.4"/>
<path d="M1252 96l17.8 5.6"/>
<path d="M1269.3 96l17.6 4.6"/>
<path d="M1286.6 96l16.9 3.6"/>
<path d="M1304 96l16.6 2.6"/>
<path d="M1321.3 96l17.6 1.9"/>
<path d="M1338.7 96l19.9 0.4"/>
<path d="M1356 96l21.2 -1.7"/>
<path d="M1373.4 96l20.9 -4.1"/>
<path d="M1390.7 96l22 -7.3"/>
<path d="M1408.1 96l23.1 -11.4"/>
<path d="M1425.4 96l22.9 -15"/>
<path d="M1442.8 96l23.6 -19.4"/>
<path d="M1460.1 96l25.1 -25.1"/>
<path d="M1477.5 96l26.6 -31"/>
<path d="M1494.8 96l25.6 -35"/>
<path d="M1512.2 96l21.5 -34.7"/>
<path d="M1529.5 96l17.7 -33.9"/>
<path d="M905 113.4l15.8 -7.4"/>
<path d="M922.3 113.4l14.6 -5"/>
<path d="M939.7 113.4l13.6 -3"/>
<path d="M957 113.4l14.3 -1.5"/>
<path d="M974.4 113.4l14.3 -0"/>
<path d="M991.7 113.4l14.1 2.4"/>
<path d="M1009.1 113.4l13.6 4.9"/>
<path d="M1026.4 113.4l14.3 8.4"/>
<path d="M1043.8 113.4l15.3 12.8"/>
<path d="M1061.1 113.4l16.2 14.8"/>
<path d="M1078.5 113.4l15.2 15.2"/>
<path d="M1095.8 113.4l13 14.2"/>
<path d="M1113.2 113.4l12.2 14.6"/>
<path d="M1130.5 113.4l13.9 13.3"/>
<path d="M1147.9 113.4l14.8 11.3"/>
<path d="M1165.2 113.4l16.1 9.7"/>
<path d="M1182.6 113.4l18.3 8.5"/>
<path d="M1199.9 113.4l20.6 9.1"/>
<path d="M1217.3 113.4l23.3 9.7"/>
<path d="M1234.6 113.4l25.7 10"/>
<path d="M1252 113.4l27.4 10"/>
<path d="M1269.3 113.4l29.3 8.5"/>
<path d="M1286.6 113.4l29.8 6.6"/>
<path d="M1304 113.4l29.7 4.6"/>
<path d="M1321.3 113.4l30.9 2.7"/>
<path d="M1338.7 113.4l31.8 2.1"/>
<path d="M1356 113.4l30.9 1.3"/>
<path d="M1373.4 113.4l29.1 0.6"/>
<path d="M1390.7 113.4l28.9 -0"/>
<path d="M1408.1 113.4l29.9 -5.1"/>
<path d="M1425.4 113.4l29.2 -10.6"/>
<path d="M1442.8 113.4l26.9 -15.7"/>
<path d="M1460.1 113.4l25.2 -21.2"/>
<path d="M1477.5 113.4l26.1 -27.2"/>
<path d="M1494.8 113.4l26.4 -34.4"/>
<path d="M1512.2 113.4l21.8 -36"/>
<path d="M1529.5 113.4l16.2 -34.7"/>
<path d="M905 130.7l25.4 -12.5"/>
<path d="M922.3 130.7l25.6 -9.8"/>
<path d="M939.7 130.7l23.6 -6.6"/>
<path d="M957 130.7l21.6 -3.9"/>
<path d="M974.4 130.7l20.5 -1.8"/>
<path d="M991.7 130.7l18.7 1.7"/>
<path d="M1009.1 130.7l15.5 4.4"/>
<path d="M1026.4 130.7l13 6.4"/>
<path d="M1043.8 130.7l11.6 8.5"/>
<path d="M1061.1 130.7l10.9 8.6"/>
<path d="M1078.5 130.7l9.2 7.9"/>
<path d="M1095.8 130.7l8.4 7.8"/>
<path d="M1113.2 130.7l7.5 7.5"/>
<path d="M1130.5 130.7l7 5.5"/>
<path d="M1147.9 130.7l7.6 4.6"/>
<path d="M1165.2 130.7l10.3 4.5"/>
<path d="M1182.6 130.7l14.4 4.3"/>
<path d="M1199.9 130.7l18.9 4.9"/>
<path d="M1217.3 130.7l23.7 5.4"/>
<path d="M1234.6 130.7l27.7 5.4"/>
<path d="M1252 130.7l30.8 5"/>
<path d="M1269.3 130.7l34.2 4.7"/>
<path d="M1286.6 130.7l37.1 4.2"/>
<path d="M1304 130.7l38.1 3.4"/>
<path d="M1321.3 130.7l38.2 2.5"/>
<path d="M1338.7 130.7l38.1 3.5"/>
<path d="M1356 130.7l37 4.3"/>
<path d="M1373.4 130.7l35.1 5"/>
<path d="M1390.7 130.7l32.4 5.5"/>
<path d="M1408.1 130.7l31.1 1.2"/>
<path d="M1425.4 130.7l29.1 -3"/>
<path d="M1442.8 130.7l25.4 -6.6"/>
<path d="M1460.1 130.7l24.4 -10.6"/>
<path d="M1477.5 130.7l27.8 -16.5"/>
<path d="M1494.8 130.7l33 -25.5"/>
<path d="M1512.2 130.7l28.1 -27.8"/>
<path d="M1529.5 130.7l20 -24.8"/>
<path d="M905 148.1l30.8 -16"/>
<path d="M922.3 148.1l31.9 -13.7"/>
<path d="M939.7 148.1l32.1 -10.9"/>
<path d="M957 148.1l31.5 -8.1"/>
<path d="M974.4 148.1l31.4 -5.5"/>
<path d="M991.7 148.1l29.6 0.2"/>
<path d="M1009.1 148.1l25.7 5.1"/>
<path d="M1026.4 148.1l21.4 8.8"/>
<path d="M1043.8 148.1l16.8 10.7"/>
<path d="M1061.1 148.1l14.1 9.6"/>
<path d="M1078.5 148.1l11.6 8.5"/>
<path d="M1095.8 148.1l11.4 9"/>
<path d="M1113.2 148.1l11.6 9.7"/>
<path d="M1130.5 148.1l11.8 7.4"/>
<path d="M1147.9 148.1l13.2 5.9"/>
<path d="M1165.2 148.1l16.4 4.6"/>
<path d="M1182.6 148.1l21.2 2.8"/>
<path d="M1199.9 148.1l26 2.3"/>
<path d="M1217.3 148.1l30 1.4"/>
<path d="M1234.6 148.1l32.5 0"/>
<path d="M1252 148.1l34.5 -1.5"/>
<path d="M1269.3 148.1l37.4 -0.8"/>
<path d="M1286.6 148.1l39.8 0.1"/>
<path d="M1304 148.1l40.8 0.9"/>
<path d="M1321.3 148.1l40.8 1.8"/>
<path d="M1338.7 148.1l40.5 4.7"/>
<path d="M1356 148.1l39.4 7.6"/>
<path d="M1373.4 148.1l37.5 10.4"/>
<path d="M1390.7 148.1l33.4 12.1"/>
<path d="M1408.1 148.1l30.8 8.3"/>
<path d="M1425.4 148.1l27.5 4.7"/>
<path d="M1442.8 148.1l23.2 1.5"/>
<path d="M1460.1 148.1l22.8 -1"/>
<path d="M1477.5 148.1l26.3 -5.1"/>
<path d="M1494.8 148.1l32.3 -11.4"/>
<path d="M1512.2 148.1l25.9 -13.5"/>
<path d="M1529.5 148.1l16.3 -11.4"/>
<path d="M905 165.4l31.9 -17.5"/>
<path d="M922.3 165.4l33.7 -16"/>
<path d="M939.7 165.4l35.5 -14.3"/>
<path d="M957 165.4l35.4 -11.8"/>
<path d="M974.4 165.4l36 -9.7"/>
<path d="M991.7 165.4l37.6 -2.9"/>
<path d="M1009.1 165.4l36.2 4.4"/>
<path d="M1026.4 165.4l32.1 10.6"/>
<path d="M1043.8 165.4l27.9 15.3"/>
<path d="M1061.1 165.4l26.3 15.4"/>
<path d="M1078.5 165.4l23.6 14.7"/>
<path d="M1095.8 165.4l22.1 14.6"/>
<path d="M1113.2 165.4l21.7 15.2"/>
<path d="M1130.5 165.4l23.8 11.7"/>
<path d="M1147.9 165.4l26.6 8.1"/>
<path d="M1165.2 165.4l30.2 4"/>
<path d="M1182.6 165.4l33.3 -0.8"/>
<path d="M1199.9 165.4l36.7 -2.9"/>
<path d="M1217.3 165.4l40.7 -5.5"/>
<path d="M1234.6 165.4l43.8 -8.5"/>
<path d="M1252 165.4l45.7 -11.6"/>
<path d="M1269.3 165.4l48.9 -8.8"/>
<path d="M1286.6 165.4l50.7 -5.6"/>
<path d="M1304 165.4l50.3 -2.1"/>
<path d="M1321.3 165.4l49.1 1.1"/>
<path d="M1338.7 165.4l47.3 6.8"/>
<path d="M1356 165.4l44.2 12.2"/>
<path d="M1373.4 165.4l39.3 16.6"/>
<path d="M1390.7 165.4l33.3 19.5"/>
<path d="M1408.1 165.4l29.9 15.6"/>
<path d="M1425.4 165.4l25.7 11.8"/>
<path d="M1442.8 165.4l22.4 8.9"/>
<path d="M1460.1 165.4l21.2 7.1"/>
<path d="M1477.5 165.4l22.5 3.6"/>
<path d="M1494.8 165.4l25.1 -0.3"/>
<path d="M1512.2 165.4l19.4 -3.5"/>
<path d="M1529.5 165.4l12.3 -4.2"/>
<path d="M905 182.8l28.4 -16.4"/>
<path d="M922.3 182.8l31.5 -16.4"/>
<path d="M939.7 182.8l34.7 -16.2"/>
<path d="M957 182.8l34.5 -14.3"/>
<path d="M974.4 182.8l34.1 -12.4"/>
<path d="M991.7 182.8l38.1 -6.2"/>
<path d="M1009.1 182.8l41.4 1.8"/>
<path d="M1026.4 182.8l40.8 10.3"/>
<path d="M1043.8 182.8l37.6 17.5"/>
<path d="M1061.1 182.8l34.6 17.1"/>
<path d="M1078.5 182.8l31.5 16.4"/>
<path d="M1095.8 182.8l29.6 16.2"/>
<path d="M1113.2 182.8l27 15.6"/>
<path d="M1130.5 182.8l28.5 10.5"/>
<path d="M1147.9 182.8l32.3 5.7"/>
<path d="M1165.2 182.8l36.3 -0.2"/>
<path d="M1182.6 182.8l38.9 -6.9"/>
<path d="M1199.9 182.8l42.1 -10.3"/>
<path d="M1217.3 182.8l46.2 -14.6"/>
<path d="M1234.6 182.8l49.9 -19.4"/>
<path d="M1252 182.8l52.6 -24.5"/>
<path d="M1269.3 182.8l57.3 -19.5"/>
<path d="M1286.6 182.8l58.5 -13"/>
<path d="M1304 182.8l57.7 -6.2"/>
<path d="M1321.3 182.8l56.7 -0"/>
<path d="M1338.7 182.8l53.4 9.1"/>
<path d="M1356 182.8l48.5 17.7"/>
<path d="M1373.4 182.8l41.8 24.5"/>
<path d="M1390.7 182.8l32.7 27.5"/>
<path d="M1408.1 182.8l27.5 22.1"/>
<path d="M1425.4 182.8l23.6 18.1"/>
<path d="M1442.8 182.8l21.8 16"/>
<path d="M1460.1 182.8l20.3 14.2"/>
<path d="M1477.5 182.8l21.4 10.1"/>
<path d="M1494.8 182.8l22 5.9"/>
<path d="M1512.2 182.8l18.1 1.5"/>
<path d="M1529.5 182.8l14.4 -1.3"/>
<path d="M905 200.1l31.1 -18"/>
<path d="M922.3 200.1l34.2 -17.4"/>
<path d="M939.7 200.1l37.3 -16.4"/>
<path d="M957 200.1l37.6 -14.1"/>
<path d="M974.4 200.1l36.2 -11.4"/>
<path d="M991.7 200.1l35.3 -4.1"/>
<path d="M1009.1 200.1l35.2 3.1"/>
<path d="M1026.4 200.1l37.4 11.2"/>
<path d="M1043.8 200.1l37.9 19.7"/>
<path d="M1061.1 200.1l35.9 20.7"/>
<path d="M1078.5 200.1l32.8 20.9"/>
<path d="M1095.8 200.1l29.8 20.8"/>
<path d="M1113.2 200.1l23.9 18.4"/>
<path d="M1130.5 200.1l24.9 10.6"/>
<path d="M1147.9 200.1l30.4 3"/>
<path d="M1165.2 200.1l34.7 -7.5"/>
<path d="M1182.6 200.1l36.2 -18.8"/>
<path d="M1199.9 200.1l38.9 -25.6"/>
<path d="M1217.3 200.1l40.8 -33.7"/>
<path d="M1234.6 200.1l39.9 -41.3"/>
<path d="M1252 200.1l36.9 -48"/>
<path d="M1269.3 200.1l49.4 -35"/>
<path d="M1286.6 200.1l55.8 -13.2"/>
<path d="M1304 200.1l56.1 8.3"/>
<path d="M1321.3 200.1l51.4 24"/>
<path d="M1338.7 200.1l47.3 27.7"/>
<path d="M1356 200.1l42.6 30.3"/>
<path d="M1373.4 200.1l37.9 32.2"/>
<path d="M1390.7 200.1l32 32"/>
<path d="M1408.1 200.1l27.7 26.5"/>
<path d="M1425.4 200.1l24.3 22.2"/>
<path d="M1442.8 200.1l22.8 20"/>
<path d="M1460.1 200.1l22.8 19.1"/>
<path d="M1477.5 200.1l25.6 17.3"/>
<path d="M1494.8 200.1l27.4 14.5"/>
<path d="M1512.2 200.1l25.2 9.9"/>
<path d="M1529.5 200.1l23.3 6.2"/>
<path d="M905 217.5l36.4 -21"/>
<path d="M922.3 217.5l38.9 -19.2"/>
<path d="M939.7 217.5l41.8 -17.3"/>
<path d="M957 217.5l43.5 -14.7"/>
<path d="M974.4 217.5l40.6 -10.9"/>
<path d="M991.7 217.5l33.2 -2.4"/>
<path d="M1009.1 217.5l28.1 3.7"/>
<path d="M1026.4 217.5l29.7 10.4"/>
<path d="M1043.8 217.5l32.7 18.9"/>
<path d="M1061.1 217.5l33.4 22.3"/>
<path d="M1078.5 217.5l30.9 23.7"/>
<path d="M1095.8 217.5l26.7 23.4"/>
<path d="M1113.2 217.5l18.8 18.8"/>
<path d="M1130.5 217.5l19.7 9.9"/>
<path d="M1147.9 217.5l26.6 -0"/>
<path d="M1165.2 217.5l29.5 -14.7"/>
<path d="M1182.6 217.5l27.7 -27.7"/>
<path d="M1199.9 217.5l26.9 -36.4"/>
<path d="M1217.3 217.5l24.1 -46.4"/>
<path d="M1234.6 217.5l18 -53.8"/>
<path d="M1252 217.5l9.3 -52.7"/>
<path d="M1269.3 217.5l20.5 -38.6"/>
<path d="M1286.6 217.5l37.9 -10.2"/>
<path d="M1304 217.5l37.3 23.3"/>
<path d="M1321.3 217.5l31.6 37.6"/>
<path d="M1338.7 217.5l32.8 39.1"/>
<path d="M1356 217.5l32 38.1"/>
<path d="M1373.4 217.5l31.6 37.6"/>
<path d="M1390.7 217.5l29.9 35.6"/>
<path d="M1408.1 217.5l25.7 29.3"/>
<path d="M1425.4 217.5l21.7 23.7"/>
<path d="M1442.8 217.5l21 21.9"/>
<path d="M1460.1 217.5l21 21"/>
<path d="M1477.5 217.5l22.6 20.7"/>
<path d="M1494.8 217.5l26.6 22.3"/>
<path d="M1512.2 217.5l26.8 20.5"/>
<path d="M1529.5 217.5l25.5 17.8"/>
<path d="M905 234.8l38.6 -22.3"/>
<path d="M922.3 234.8l41.4 -19.9"/>
<path d="M939.7 234.8l44.6 -17.3"/>
<path d="M957 234.8l44.5 -13.5"/>
<path d="M974.4 234.8l36.9 -8.2"/>
<path d="M991.7 234.8l27.3 -0.8"/>
<path d="M1009.1 234.8l23.4 4.1"/>
<path d="M1026.4 234.8l24.2 9.6"/>
<path d="M1043.8 234.8l26.6 16.9"/>
<path d="M1061.1 234.8l27.5 21.2"/>
<path d="M1078.5 234.8l26 24.2"/>
<path d="M1095.8 234.8l21.5 24.1"/>
<path d="M1113.2 234.8l12.7 17.2"/>
<path d="M1130.5 234.8l12.7 9"/>
<path d="M1147.9 234.8l20.9 -1.2"/>
<path d="M1165.2 234.8l20 -19.8"/>
<path d="M1182.6 234.8l15 -32.1"/>
<path d="M1199.9 234.8l12.6 -40.1"/>
<path d="M1217.3 234.8l8.1 -47.1"/>
<path d="M1234.6 234.8l2 -52.9"/>
<path d="M1252 234.8l-4.3 -49.5"/>
<path d="M1269.3 234.8l-4 -33.9"/>
<path d="M1286.6 234.8l-9.4 -21.9"/>
<path d="M1304 234.8l-1.8 28.4"/>
<path d="M1321.3 234.8l0 42.1"/>
<path d="M1338.7 234.8l9.2 50.2"/>
<path d="M1356 234.8l17.1 47.4"/>
<path d="M1373.4 234.8l23.4 43.9"/>
<path d="M1390.7 234.8l26 37.1"/>
<path d="M1408.1 234.8l19.2 26.2"/>
<path d="M1425.4 234.8l14.9 19.5"/>
<path d="M1442.8 234.8l16.7 20.8"/>
<path d="M1460.1 234.8l15.8 18.8"/>
<path d="M1477.5 234.8l15.3 18.2"/>
<path d="M1494.8 234.8l19.1 22.8"/>
<path d="M1512.2 234.8l20.5 24.5"/>
<path d="M1529.5 234.8l20 23.8"/>
<path d="M905 252.2l39.8 -22.9"/>
<path d="M922.3 252.2l42.7 -20"/>
<path d="M939.7 252.2l45.5 -16.6"/>
<path d="M957 252.2l41.9 -11.2"/>
<path d="M974.4 252.2l30.5 -5.4"/>
<path d="M991.7 252.2l22.8 0.3"/>
<path d="M1009.1 252.2l21.4 4.7"/>
<path d="M1026.4 252.2l21.6 9.7"/>
<path d="M1043.8 252.2l23.2 16.2"/>
<path d="M1061.1 252.2l23.2 20.7"/>
<path d="M1078.5 252.2l21.7 24.5"/>
<path d="M1095.8 252.2l17 24.6"/>
<path d="M1113.2 252.2l8.7 16.4"/>
<path d="M1130.5 252.2l7.9 8.7"/>
<path d="M1147.9 252.2l16.5 -3.4"/>
<path d="M1165.2 252.2l8.2 -23.6"/>
<path d="M1182.6 252.2l2.9 -33"/>
<path d="M1199.9 252.2l-0.8 -40.8"/>
<path d="M1217.3 252.2l-6 -45.5"/>
<path d="M1234.6 252.2l-12.2 -49.5"/>
<path d="M1252 252.2l-17.9 -49.1"/>
<path d="M1269.3 252.2l-24.1 -29.7"/>
<path d="M1286.6 252.2l-22.2 -3.9"/>
<path d="M1304 252.2l-20.5 12.2"/>
<path d="M1321.3 252.2l-26.2 31.3"/>
<path d="M1338.7 252.2l-22 48.8"/>
<path d="M1356 252.2l-4.6 52.1"/>
<path d="M1373.4 252.2l12.3 48.2"/>
<path d="M1390.7 252.2l21.7 37.5"/>
<path d="M1408.1 252.2l14.4 23.7"/>
<path d="M1425.4 252.2l10.5 16.5"/>
<path d="M1442.8 252.2l13.2 19.7"/>
<path d="M1460.1 252.2l12.9 18.5"/>
<path d="M1477.5 252.2l12.1 19"/>
<path d="M1494.8 252.2l14.2 24.5"/>
<path d="M1512.2 252.2l14.4 27.6"/>
<path d="M1529.5 252.2l13.1 28.2"/>
</g>
<ellipse cx="1173.5" cy="63.8" rx="4" ry="1.2" fill="#fff"/>
<ellipse cx="1253" cy="66" rx="3" ry="3" fill="#fff"/>
<ellipse cx="1263" cy="63" rx="5" ry="2.2" fill="#fff"/>
<ellipse cx="1289.7" cy="61" rx="2" ry="2" fill="#fff"/>
<ellipse cx="1306.7" cy="62.4" rx="1.5" ry="3" fill="#fff"/>
<ellipse cx="1128.9" cy="134" rx="1.3" ry="1.3" fill="#fff"/>
<ellipse cx="1153" cy="131.2" rx="1.3" ry="1.3" fill="#fff"/>
<ellipse cx="907" cy="72" rx="1.5" ry="1.5" fill="#fff"/>
<ellipse cx="1529" cy="168" rx="1.5" ry="1.5" fill="#fff"/>
<path d="M1172.5 178.3l3 -4l4 2l5 1l-2 4l-6 0z" fill="#111"/>
<circle cx="1259.5" cy="203.4" r="11.3" fill="#000"/>
<rect class="sp" x="905" y="44" width="627" height="217.5"/>
<text class="tm" x="892.2" y="53.8" text-anchor="end">30°S</text>
<text class="tm" x="892.2" y="123.2" text-anchor="end">40°S</text>
<text class="tm" x="892.2" y="192.6" text-anchor="end">50°S</text>
<text class="tm" x="892.2" y="262" text-anchor="end">60°S</text>
<text class="tm" x="905" y="298.6" text-anchor="middle">30°E</text>
<text class="tm" x="1113" y="298.6" text-anchor="middle">60°E</text>
<text class="tm" x="1321.5" y="298.6" text-anchor="middle">90°E</text>
<text class="tm" x="1531.5" y="298.6" text-anchor="middle">120°E</text>
<g clip-path="url(#cd1)"><g filter="url(#bl)">
<rect x="885" y="381.5" width="664.5" height="248.2" fill="#3fd6a8"/>
<path fill="#3aa3fc" d="M904.7 401.2h12.2v6.4h-12.2zM997.2 401.2h6.4v6.4h-6.4zM1031.9 401.2h23.7v6.4h-23.7zM1118.7 401.2h23.7v6.4h-23.7zM1430.9 401.2h6.4v6.4h-6.4zM997.2 407h6.4v6.4h-6.4zM1031.9 407h23.7v6.4h-23.7zM1118.7 407h23.7v6.4h-23.7zM1430.9 407h6.4v6.4h-6.4zM991.4 412.8h6.4v6.4h-6.4zM1031.9 412.8h12.2v6.4h-12.2zM1055 412.8h6.4v6.4h-6.4zM1130.2 412.8h12.2v6.4h-12.2zM1430.9 412.8h6.4v6.4h-6.4zM1031.9 418.5h6.4v6.4h-6.4zM1060.8 418.5h6.4v6.4h-6.4zM1136 418.5h6.4v6.4h-6.4zM1430.9 418.5h6.4v6.4h-6.4zM985.7 424.3h6.4v6.4h-6.4zM1031.9 424.3h6.4v6.4h-6.4zM1060.8 424.3h6.4v6.4h-6.4zM1136 424.3h6.4v6.4h-6.4zM1425.1 424.3h12.2v6.4h-12.2zM985.7 430.1h6.4v6.4h-6.4zM1026.1 430.1h6.4v6.4h-6.4zM1060.8 430.1h6.4v6.4h-6.4zM1141.8 430.1h6.4v6.4h-6.4zM1413.6 430.1h12.2v6.4h-12.2zM1014.6 435.9h6.4v6.4h-6.4zM1055 435.9h6.4v6.4h-6.4zM1147.6 435.9h6.4v6.4h-6.4zM1402 435.9h6.4v6.4h-6.4zM979.9 441.7h6.4v6.4h-6.4zM1008.8 441.7h6.4v6.4h-6.4zM1049.3 441.7h6.4v6.4h-6.4zM1159.1 441.7h17.9v6.4h-17.9zM1367.3 441.7h35.3v6.4h-35.3zM985.7 447.5h6.4v6.4h-6.4zM1008.8 447.5h6.4v6.4h-6.4zM1344.2 447.5h12.2v6.4h-12.2zM916.3 453.2h6.4v6.4h-6.4zM997.2 453.2h12.2v6.4h-12.2zM1055 453.2h6.4v6.4h-6.4zM1222.7 453.2h23.7v6.4h-23.7zM927.8 459h6.4v6.4h-6.4zM962.5 459h12.2v6.4h-12.2zM1003 459h29.5v6.4h-29.5zM1055 459h6.4v6.4h-6.4zM1026.1 464.8h6.4v6.4h-6.4zM1217 464.8h17.9v6.4h-17.9zM1026.1 470.6h6.4v6.4h-6.4zM1060.8 470.6h6.4v6.4h-6.4zM1193.8 470.6h6.4v6.4h-6.4zM1257.4 470.6h12.2v6.4h-12.2zM1066.6 476.4h6.4v6.4h-6.4zM1188 476.4h6.4v6.4h-6.4zM1263.2 476.4h12.2v6.4h-12.2zM1037.7 482.2h6.4v6.4h-6.4zM1072.4 482.2h12.2v6.4h-12.2zM1251.7 482.2h6.4v6.4h-6.4zM1055 487.9h6.4v6.4h-6.4zM1130.2 487.9h6.4v6.4h-6.4zM1164.9 487.9h6.4v6.4h-6.4zM1234.3 487.9h6.4v6.4h-6.4zM1060.8 493.7h6.4v6.4h-6.4zM1222.7 493.7h6.4v6.4h-6.4zM1072.4 499.5h12.2v6.4h-12.2zM1211.2 499.5h6.4v6.4h-6.4zM1477.2 499.5h12.2v6.4h-12.2zM1101.3 505.3h12.2v6.4h-12.2zM1199.6 505.3h6.4v6.4h-6.4zM1477.2 505.3h6.4v6.4h-6.4zM1488.7 505.3h6.4v6.4h-6.4zM1118.7 511.1h6.4v6.4h-6.4zM1170.7 511.1h23.7v6.4h-23.7zM1477.2 511.1h6.4v6.4h-6.4zM1494.5 511.1h6.4v6.4h-6.4zM1147.6 516.9h12.2v6.4h-12.2zM1483 516.9h23.7v6.4h-23.7zM1500.3 522.6h12.2v6.4h-12.2zM1500.3 528.4h6.4v6.4h-6.4zM1511.9 534.2h6.4v6.4h-6.4zM1188 580.5h6.4v6.4h-6.4zM1182.3 586.2h6.4v6.4h-6.4zM1193.8 586.2h6.4v6.4h-6.4zM1170.7 592h6.4v6.4h-6.4zM1199.6 592h6.4v6.4h-6.4zM904.7 597.8h6.4v6.4h-6.4zM1060.8 597.8h6.4v6.4h-6.4zM1078.2 597.8h6.4v6.4h-6.4zM904.7 603.6h12.2v6.4h-12.2zM1084 603.6h6.4v6.4h-6.4zM1205.4 603.6h6.4v6.4h-6.4z"/>
<path fill="#458cfd" d="M916.3 401.2h6.4v6.4h-6.4zM979.9 401.2h12.2v6.4h-12.2zM1141.8 401.2h6.4v6.4h-6.4zM1413.6 401.2h12.2v6.4h-12.2zM916.3 407h6.4v6.4h-6.4zM979.9 407h6.4v6.4h-6.4zM1413.6 407h12.2v6.4h-12.2zM979.9 412.8h6.4v6.4h-6.4zM1147.6 412.8h6.4v6.4h-6.4zM1413.6 412.8h12.2v6.4h-12.2zM979.9 418.5h6.4v6.4h-6.4zM1147.6 418.5h6.4v6.4h-6.4zM1413.6 418.5h12.2v6.4h-12.2zM979.9 424.3h6.4v6.4h-6.4zM1049.3 424.3h6.4v6.4h-6.4zM1153.3 424.3h6.4v6.4h-6.4zM1413.6 424.3h6.4v6.4h-6.4zM974.1 430.1h6.4v6.4h-6.4zM1037.7 430.1h12.2v6.4h-12.2zM1159.1 430.1h12.2v6.4h-12.2zM1402 430.1h6.4v6.4h-6.4zM974.1 435.9h6.4v6.4h-6.4zM1026.1 435.9h23.7v6.4h-23.7zM1170.7 435.9h6.4v6.4h-6.4zM1373.1 435.9h23.7v6.4h-23.7zM974.1 441.7h6.4v6.4h-6.4zM1020.4 441.7h6.4v6.4h-6.4zM1043.5 441.7h6.4v6.4h-6.4zM904.7 447.5h17.9v6.4h-17.9zM968.3 447.5h12.2v6.4h-12.2zM1020.4 447.5h12.2v6.4h-12.2zM1037.7 447.5h12.2v6.4h-12.2zM1193.8 447.5h29.5v6.4h-29.5zM1245.9 447.5h70v6.4h-70zM927.8 453.2h6.4v6.4h-6.4zM962.5 453.2h6.4v6.4h-6.4zM1037.7 453.2h12.2v6.4h-12.2zM939.4 459h6.4v6.4h-6.4zM951 459h6.4v6.4h-6.4zM1043.5 459h12.2v6.4h-12.2zM1037.7 464.8h17.9v6.4h-17.9zM1037.7 470.6h6.4v6.4h-6.4zM1055 470.6h6.4v6.4h-6.4zM1205.4 470.6h12.2v6.4h-12.2zM1234.3 470.6h12.2v6.4h-12.2zM1037.7 476.4h6.4v6.4h-6.4zM1055 476.4h6.4v6.4h-6.4zM1245.9 476.4h12.2v6.4h-12.2zM1188 482.2h6.4v6.4h-6.4zM1240.1 482.2h6.4v6.4h-6.4zM1072.4 487.9h46.9v6.4h-46.9zM1176.5 487.9h6.4v6.4h-6.4zM1072.4 493.7h12.2v6.4h-12.2zM1211.2 493.7h6.4v6.4h-6.4zM1089.7 499.5h12.2v6.4h-12.2zM1205.4 499.5h6.4v6.4h-6.4zM1124.4 505.3h12.2v6.4h-12.2zM1159.1 505.3h35.3v6.4h-35.3zM1136 511.1h23.7v6.4h-23.7zM1511.9 528.4h6.4v6.4h-6.4zM1523.4 534.2h6.4v6.4h-6.4zM1182.3 592h12.2v6.4h-12.2zM1176.5 597.8h6.4v6.4h-6.4zM1066.6 603.6h6.4v6.4h-6.4zM1170.7 603.6h6.4v6.4h-6.4z"/>
<path fill="#4680f6" d="M922 401.2h6.4v6.4h-6.4zM974.1 401.2h6.4v6.4h-6.4zM1147.6 401.2h6.4v6.4h-6.4zM1407.8 401.2h6.4v6.4h-6.4zM922 407h6.4v6.4h-6.4zM974.1 407h6.4v6.4h-6.4zM1147.6 407h6.4v6.4h-6.4zM1407.8 407h6.4v6.4h-6.4zM904.7 412.8h12.2v6.4h-12.2zM974.1 412.8h6.4v6.4h-6.4zM1153.3 412.8h6.4v6.4h-6.4zM1407.8 412.8h6.4v6.4h-6.4zM974.1 418.5h6.4v6.4h-6.4zM1153.3 418.5h12.2v6.4h-12.2zM1407.8 418.5h6.4v6.4h-6.4zM974.1 424.3h6.4v6.4h-6.4zM1159.1 424.3h12.2v6.4h-12.2zM1402 424.3h12.2v6.4h-12.2zM968.3 430.1h6.4v6.4h-6.4zM1170.7 430.1h6.4v6.4h-6.4zM1390.4 430.1h12.2v6.4h-12.2zM968.3 435.9h6.4v6.4h-6.4zM1176.5 435.9h6.4v6.4h-6.4zM1361.5 435.9h12.2v6.4h-12.2zM968.3 441.7h6.4v6.4h-6.4zM1026.1 441.7h17.9v6.4h-17.9zM1182.3 441.7h6.4v6.4h-6.4zM1344.2 441.7h12.2v6.4h-12.2zM922 447.5h6.4v6.4h-6.4zM962.5 447.5h6.4v6.4h-6.4zM1031.9 447.5h6.4v6.4h-6.4zM1222.7 447.5h23.7v6.4h-23.7zM933.6 453.2h6.4v6.4h-6.4zM956.7 453.2h6.4v6.4h-6.4zM945.2 459h6.4v6.4h-6.4zM1043.5 470.6h12.2v6.4h-12.2zM1217 470.6h6.4v6.4h-6.4zM1228.5 470.6h6.4v6.4h-6.4zM1043.5 476.4h12.2v6.4h-12.2zM1199.6 476.4h6.4v6.4h-6.4zM1240.1 476.4h6.4v6.4h-6.4zM1193.8 482.2h6.4v6.4h-6.4zM1234.3 482.2h6.4v6.4h-6.4zM1217 487.9h12.2v6.4h-12.2zM1084 493.7h12.2v6.4h-12.2zM1118.7 493.7h58.4v6.4h-58.4zM1101.3 499.5h41.1v6.4h-41.1zM1153.3 499.5h23.7v6.4h-23.7zM1199.6 499.5h6.4v6.4h-6.4zM1136 505.3h23.7v6.4h-23.7zM1517.6 528.4h12.2v6.4h-12.2zM1182.3 597.8h17.9v6.4h-17.9zM1176.5 603.6h6.4v6.4h-6.4zM1193.8 603.6h6.4v6.4h-6.4z"/>
<path fill="#4773eb" d="M927.8 401.2h46.9v6.4h-46.9zM1153.3 401.2h17.9v6.4h-17.9zM1361.5 401.2h46.9v6.4h-46.9zM927.8 407h46.9v6.4h-46.9zM1153.3 407h17.9v6.4h-17.9zM1373.1 407h35.3v6.4h-35.3zM916.3 412.8h6.4v6.4h-6.4zM945.2 412.8h29.5v6.4h-29.5zM1159.1 412.8h12.2v6.4h-12.2zM1390.4 412.8h17.9v6.4h-17.9zM951 418.5h23.7v6.4h-23.7zM1164.9 418.5h6.4v6.4h-6.4zM1396.2 418.5h12.2v6.4h-12.2zM956.7 424.3h17.9v6.4h-17.9zM1170.7 424.3h6.4v6.4h-6.4zM1390.4 424.3h12.2v6.4h-12.2zM962.5 430.1h6.4v6.4h-6.4zM1373.1 430.1h17.9v6.4h-17.9zM962.5 435.9h6.4v6.4h-6.4zM1355.7 435.9h6.4v6.4h-6.4zM904.7 441.7h12.2v6.4h-12.2zM962.5 441.7h6.4v6.4h-6.4zM1188 441.7h23.7v6.4h-23.7zM1257.4 441.7h87.3v6.4h-87.3zM927.8 447.5h6.4v6.4h-6.4zM956.7 447.5h6.4v6.4h-6.4zM939.4 453.2h6.4v6.4h-6.4zM951 453.2h6.4v6.4h-6.4zM1222.7 470.6h6.4v6.4h-6.4zM1205.4 476.4h6.4v6.4h-6.4zM1234.3 476.4h6.4v6.4h-6.4zM1199.6 482.2h12.2v6.4h-12.2zM1228.5 482.2h6.4v6.4h-6.4zM1182.3 487.9h6.4v6.4h-6.4zM1205.4 487.9h12.2v6.4h-12.2zM1095.5 493.7h23.7v6.4h-23.7zM1176.5 493.7h6.4v6.4h-6.4zM1205.4 493.7h6.4v6.4h-6.4zM1141.8 499.5h12.2v6.4h-12.2zM1176.5 499.5h12.2v6.4h-12.2zM1193.8 499.5h6.4v6.4h-6.4zM1182.3 603.6h12.2v6.4h-12.2z"/>
<path fill="#4196ff" d="M991.4 401.2h6.4v6.4h-6.4zM1425.1 401.2h6.4v6.4h-6.4zM904.7 407h12.2v6.4h-12.2zM985.7 407h12.2v6.4h-12.2zM1141.8 407h6.4v6.4h-6.4zM1425.1 407h6.4v6.4h-6.4zM985.7 412.8h6.4v6.4h-6.4zM1043.5 412.8h12.2v6.4h-12.2zM1141.8 412.8h6.4v6.4h-6.4zM1425.1 412.8h6.4v6.4h-6.4zM985.7 418.5h6.4v6.4h-6.4zM1037.7 418.5h23.7v6.4h-23.7zM1141.8 418.5h6.4v6.4h-6.4zM1425.1 418.5h6.4v6.4h-6.4zM1037.7 424.3h12.2v6.4h-12.2zM1055 424.3h6.4v6.4h-6.4zM1141.8 424.3h12.2v6.4h-12.2zM1419.3 424.3h6.4v6.4h-6.4zM979.9 430.1h6.4v6.4h-6.4zM1031.9 430.1h6.4v6.4h-6.4zM1049.3 430.1h12.2v6.4h-12.2zM1147.6 430.1h12.2v6.4h-12.2zM1407.8 430.1h6.4v6.4h-6.4zM979.9 435.9h6.4v6.4h-6.4zM1020.4 435.9h6.4v6.4h-6.4zM1049.3 435.9h6.4v6.4h-6.4zM1153.3 435.9h17.9v6.4h-17.9zM1396.2 435.9h6.4v6.4h-6.4zM1014.6 441.7h6.4v6.4h-6.4zM1176.5 441.7h6.4v6.4h-6.4zM1355.7 441.7h12.2v6.4h-12.2zM979.9 447.5h6.4v6.4h-6.4zM1014.6 447.5h6.4v6.4h-6.4zM1049.3 447.5h6.4v6.4h-6.4zM1182.3 447.5h12.2v6.4h-12.2zM1315.3 447.5h29.5v6.4h-29.5zM922 453.2h6.4v6.4h-6.4zM968.3 453.2h29.5v6.4h-29.5zM1008.8 453.2h29.5v6.4h-29.5zM1049.3 453.2h6.4v6.4h-6.4zM933.6 459h6.4v6.4h-6.4zM956.7 459h6.4v6.4h-6.4zM974.1 459h29.5v6.4h-29.5zM1031.9 459h12.2v6.4h-12.2zM1031.9 464.8h6.4v6.4h-6.4zM1055 464.8h6.4v6.4h-6.4zM1031.9 470.6h6.4v6.4h-6.4zM1199.6 470.6h6.4v6.4h-6.4zM1245.9 470.6h12.2v6.4h-12.2zM1031.9 476.4h6.4v6.4h-6.4zM1060.8 476.4h6.4v6.4h-6.4zM1193.8 476.4h6.4v6.4h-6.4zM1257.4 476.4h6.4v6.4h-6.4zM1043.5 482.2h29.5v6.4h-29.5zM1182.3 482.2h6.4v6.4h-6.4zM1245.9 482.2h6.4v6.4h-6.4zM1060.8 487.9h12.2v6.4h-12.2zM1118.7 487.9h12.2v6.4h-12.2zM1170.7 487.9h6.4v6.4h-6.4zM1228.5 487.9h6.4v6.4h-6.4zM1066.6 493.7h6.4v6.4h-6.4zM1217 493.7h6.4v6.4h-6.4zM1084 499.5h6.4v6.4h-6.4zM1112.9 505.3h12.2v6.4h-12.2zM1193.8 505.3h6.4v6.4h-6.4zM1483 505.3h6.4v6.4h-6.4zM1124.4 511.1h12.2v6.4h-12.2zM1159.1 511.1h12.2v6.4h-12.2zM1483 511.1h12.2v6.4h-12.2zM1511.9 522.6h17.9v6.4h-17.9zM1506.1 528.4h6.4v6.4h-6.4zM1517.6 534.2h6.4v6.4h-6.4zM1188 586.2h6.4v6.4h-6.4zM1176.5 592h6.4v6.4h-6.4zM1193.8 592h6.4v6.4h-6.4zM1066.6 597.8h12.2v6.4h-12.2zM1170.7 597.8h6.4v6.4h-6.4zM1199.6 597.8h6.4v6.4h-6.4zM1055 603.6h12.2v6.4h-12.2zM1072.4 603.6h12.2v6.4h-12.2zM1199.6 603.6h6.4v6.4h-6.4z"/>
<path fill="#31aff5" d="M1003 401.2h6.4v6.4h-6.4zM1026.1 401.2h6.4v6.4h-6.4zM1055 401.2h6.4v6.4h-6.4zM1112.9 401.2h6.4v6.4h-6.4zM1436.7 401.2h6.4v6.4h-6.4zM1003 407h6.4v6.4h-6.4zM1026.1 407h6.4v6.4h-6.4zM1055 407h6.4v6.4h-6.4zM1112.9 407h6.4v6.4h-6.4zM1436.7 407h6.4v6.4h-6.4zM997.2 412.8h6.4v6.4h-6.4zM1026.1 412.8h6.4v6.4h-6.4zM1060.8 412.8h6.4v6.4h-6.4zM1118.7 412.8h12.2v6.4h-12.2zM1436.7 412.8h6.4v6.4h-6.4zM991.4 418.5h6.4v6.4h-6.4zM1026.1 418.5h6.4v6.4h-6.4zM1066.6 418.5h6.4v6.4h-6.4zM1130.2 418.5h6.4v6.4h-6.4zM1436.7 418.5h6.4v6.4h-6.4zM1026.1 424.3h6.4v6.4h-6.4zM1066.6 424.3h6.4v6.4h-6.4zM1130.2 424.3h6.4v6.4h-6.4zM1436.7 424.3h6.4v6.4h-6.4zM1020.4 430.1h6.4v6.4h-6.4zM1066.6 430.1h6.4v6.4h-6.4zM1136 430.1h6.4v6.4h-6.4zM1425.1 430.1h12.2v6.4h-12.2zM985.7 435.9h6.4v6.4h-6.4zM1008.8 435.9h6.4v6.4h-6.4zM1060.8 435.9h6.4v6.4h-6.4zM1141.8 435.9h6.4v6.4h-6.4zM1407.8 435.9h12.2v6.4h-12.2zM985.7 441.7h6.4v6.4h-6.4zM1055 441.7h6.4v6.4h-6.4zM1153.3 441.7h6.4v6.4h-6.4zM1402 441.7h6.4v6.4h-6.4zM991.4 447.5h17.9v6.4h-17.9zM1055 447.5h6.4v6.4h-6.4zM1170.7 447.5h12.2v6.4h-12.2zM1355.7 447.5h12.2v6.4h-12.2zM904.7 453.2h12.2v6.4h-12.2zM1188 453.2h35.3v6.4h-35.3zM1245.9 453.2h70v6.4h-70zM922 459h6.4v6.4h-6.4zM1060.8 459h6.4v6.4h-6.4zM945.2 464.8h6.4v6.4h-6.4zM1020.4 464.8h6.4v6.4h-6.4zM1060.8 464.8h6.4v6.4h-6.4zM1199.6 464.8h17.9v6.4h-17.9zM1234.3 464.8h23.7v6.4h-23.7zM1066.6 470.6h6.4v6.4h-6.4zM1188 470.6h6.4v6.4h-6.4zM1269 470.6h12.2v6.4h-12.2zM1026.1 476.4h6.4v6.4h-6.4zM1072.4 476.4h6.4v6.4h-6.4zM1274.8 476.4h6.4v6.4h-6.4zM1031.9 482.2h6.4v6.4h-6.4zM1084 482.2h41.1v6.4h-41.1zM1176.5 482.2h6.4v6.4h-6.4zM1257.4 482.2h12.2v6.4h-12.2zM1049.3 487.9h6.4v6.4h-6.4zM1136 487.9h29.5v6.4h-29.5zM1240.1 487.9h6.4v6.4h-6.4zM1228.5 493.7h6.4v6.4h-6.4zM1465.6 493.7h23.7v6.4h-23.7zM1066.6 499.5h6.4v6.4h-6.4zM1217 499.5h6.4v6.4h-6.4zM1465.6 499.5h12.2v6.4h-12.2zM1089.7 505.3h12.2v6.4h-12.2zM1205.4 505.3h6.4v6.4h-6.4zM1471.4 505.3h6.4v6.4h-6.4zM1112.9 511.1h6.4v6.4h-6.4zM1193.8 511.1h6.4v6.4h-6.4zM1500.3 511.1h6.4v6.4h-6.4zM1130.2 516.9h17.9v6.4h-17.9zM1159.1 516.9h35.3v6.4h-35.3zM1477.2 516.9h6.4v6.4h-6.4zM1506.1 516.9h12.2v6.4h-12.2zM1488.7 522.6h12.2v6.4h-12.2zM1494.5 528.4h6.4v6.4h-6.4zM1506.1 534.2h6.4v6.4h-6.4zM1517.6 540h12.2v6.4h-12.2zM1182.3 580.5h6.4v6.4h-6.4zM1193.8 580.5h6.4v6.4h-6.4zM1176.5 586.2h6.4v6.4h-6.4zM1199.6 586.2h6.4v6.4h-6.4zM904.7 592h6.4v6.4h-6.4zM910.5 597.8h6.4v6.4h-6.4zM1055 597.8h6.4v6.4h-6.4zM1084 597.8h6.4v6.4h-6.4zM1164.9 597.8h6.4v6.4h-6.4zM1205.4 597.8h6.4v6.4h-6.4zM1049.3 603.6h6.4v6.4h-6.4zM1089.7 603.6h6.4v6.4h-6.4zM1164.9 603.6h6.4v6.4h-6.4z"/>
<path fill="#28bceb" d="M1008.8 401.2h6.4v6.4h-6.4zM1020.4 401.2h6.4v6.4h-6.4zM1060.8 401.2h6.4v6.4h-6.4zM1107.1 401.2h6.4v6.4h-6.4zM1442.5 401.2h6.4v6.4h-6.4zM1020.4 407h6.4v6.4h-6.4zM1060.8 407h6.4v6.4h-6.4zM1442.5 407h6.4v6.4h-6.4zM1003 412.8h6.4v6.4h-6.4zM1020.4 412.8h6.4v6.4h-6.4zM1066.6 412.8h6.4v6.4h-6.4zM1112.9 412.8h6.4v6.4h-6.4zM1442.5 412.8h6.4v6.4h-6.4zM997.2 418.5h6.4v6.4h-6.4zM1020.4 418.5h6.4v6.4h-6.4zM1072.4 418.5h6.4v6.4h-6.4zM1118.7 418.5h12.2v6.4h-12.2zM1442.5 418.5h6.4v6.4h-6.4zM991.4 424.3h6.4v6.4h-6.4zM1020.4 424.3h6.4v6.4h-6.4zM1072.4 424.3h6.4v6.4h-6.4zM1124.4 424.3h6.4v6.4h-6.4zM991.4 430.1h6.4v6.4h-6.4zM1008.8 430.1h12.2v6.4h-12.2zM1072.4 430.1h6.4v6.4h-6.4zM1130.2 430.1h6.4v6.4h-6.4zM1436.7 430.1h6.4v6.4h-6.4zM991.4 435.9h6.4v6.4h-6.4zM1003 435.9h6.4v6.4h-6.4zM1066.6 435.9h6.4v6.4h-6.4zM1136 435.9h6.4v6.4h-6.4zM1419.3 435.9h12.2v6.4h-12.2zM991.4 441.7h17.9v6.4h-17.9zM1060.8 441.7h6.4v6.4h-6.4zM1147.6 441.7h6.4v6.4h-6.4zM1407.8 441.7h6.4v6.4h-6.4zM1060.8 447.5h6.4v6.4h-6.4zM1159.1 447.5h12.2v6.4h-12.2zM1367.3 447.5h35.3v6.4h-35.3zM1060.8 453.2h6.4v6.4h-6.4zM1182.3 453.2h6.4v6.4h-6.4zM1315.3 453.2h12.2v6.4h-12.2zM916.3 459h6.4v6.4h-6.4zM1199.6 459h58.4v6.4h-58.4zM933.6 464.8h12.2v6.4h-12.2zM951 464.8h6.4v6.4h-6.4zM979.9 464.8h41.1v6.4h-41.1zM1066.6 464.8h6.4v6.4h-6.4zM1193.8 464.8h6.4v6.4h-6.4zM1257.4 464.8h23.7v6.4h-23.7zM1020.4 470.6h6.4v6.4h-6.4zM1280.6 470.6h6.4v6.4h-6.4zM1078.2 476.4h6.4v6.4h-6.4zM1182.3 476.4h6.4v6.4h-6.4zM1280.6 476.4h6.4v6.4h-6.4zM1269 482.2h6.4v6.4h-6.4zM1043.5 487.9h6.4v6.4h-6.4zM1245.9 487.9h6.4v6.4h-6.4zM1465.6 487.9h12.2v6.4h-12.2zM1055 493.7h6.4v6.4h-6.4zM1234.3 493.7h6.4v6.4h-6.4zM1459.8 493.7h6.4v6.4h-6.4zM1222.7 499.5h6.4v6.4h-6.4zM1488.7 499.5h6.4v6.4h-6.4zM1084 505.3h6.4v6.4h-6.4zM1211.2 505.3h6.4v6.4h-6.4zM1465.6 505.3h6.4v6.4h-6.4zM1494.5 505.3h6.4v6.4h-6.4zM1107.1 511.1h6.4v6.4h-6.4zM1199.6 511.1h6.4v6.4h-6.4zM1471.4 511.1h6.4v6.4h-6.4zM1506.1 511.1h6.4v6.4h-6.4zM1118.7 516.9h12.2v6.4h-12.2zM1193.8 516.9h6.4v6.4h-6.4zM1517.6 516.9h12.2v6.4h-12.2zM1164.9 522.6h23.7v6.4h-23.7zM1483 522.6h6.4v6.4h-6.4zM1500.3 534.2h6.4v6.4h-6.4zM1511.9 540h6.4v6.4h-6.4zM1182.3 574.7h17.9v6.4h-17.9zM1176.5 580.5h6.4v6.4h-6.4zM1199.6 580.5h6.4v6.4h-6.4zM904.7 586.2h6.4v6.4h-6.4zM1170.7 586.2h6.4v6.4h-6.4zM910.5 592h6.4v6.4h-6.4zM1205.4 592h6.4v6.4h-6.4zM916.3 597.8h6.4v6.4h-6.4zM1049.3 597.8h6.4v6.4h-6.4zM1089.7 597.8h6.4v6.4h-6.4zM916.3 603.6h6.4v6.4h-6.4z"/>
<path fill="#22c5e2" d="M1014.6 401.2h6.4v6.4h-6.4zM1066.6 401.2h6.4v6.4h-6.4zM1101.3 401.2h6.4v6.4h-6.4zM1008.8 407h12.2v6.4h-12.2zM1066.6 407h12.2v6.4h-12.2zM1107.1 407h6.4v6.4h-6.4zM1008.8 412.8h12.2v6.4h-12.2zM1072.4 412.8h12.2v6.4h-12.2zM1107.1 412.8h6.4v6.4h-6.4zM1003 418.5h17.9v6.4h-17.9zM1078.2 418.5h6.4v6.4h-6.4zM1112.9 418.5h6.4v6.4h-6.4zM997.2 424.3h23.7v6.4h-23.7zM1078.2 424.3h6.4v6.4h-6.4zM1442.5 424.3h6.4v6.4h-6.4zM997.2 430.1h12.2v6.4h-12.2zM1078.2 430.1h6.4v6.4h-6.4zM1124.4 430.1h6.4v6.4h-6.4zM1442.5 430.1h6.4v6.4h-6.4zM997.2 435.9h6.4v6.4h-6.4zM1072.4 435.9h6.4v6.4h-6.4zM1130.2 435.9h6.4v6.4h-6.4zM1430.9 435.9h12.2v6.4h-12.2zM1066.6 441.7h6.4v6.4h-6.4zM1141.8 441.7h6.4v6.4h-6.4zM1413.6 441.7h6.4v6.4h-6.4zM1153.3 447.5h6.4v6.4h-6.4zM1402 447.5h6.4v6.4h-6.4zM1170.7 453.2h12.2v6.4h-12.2zM1326.8 453.2h58.4v6.4h-58.4zM904.7 459h12.2v6.4h-12.2zM1066.6 459h6.4v6.4h-6.4zM1182.3 459h17.9v6.4h-17.9zM1257.4 459h58.4v6.4h-58.4zM922 464.8h12.2v6.4h-12.2zM956.7 464.8h23.7v6.4h-23.7zM1182.3 464.8h12.2v6.4h-12.2zM1280.6 464.8h12.2v6.4h-12.2zM1072.4 470.6h6.4v6.4h-6.4zM1182.3 470.6h6.4v6.4h-6.4zM1286.3 470.6h6.4v6.4h-6.4zM1084 476.4h6.4v6.4h-6.4zM1286.3 476.4h6.4v6.4h-6.4zM1026.1 482.2h6.4v6.4h-6.4zM1124.4 482.2h6.4v6.4h-6.4zM1170.7 482.2h6.4v6.4h-6.4zM1274.8 482.2h6.4v6.4h-6.4zM1465.6 482.2h6.4v6.4h-6.4zM1037.7 487.9h6.4v6.4h-6.4zM1251.7 487.9h6.4v6.4h-6.4zM1459.8 487.9h6.4v6.4h-6.4zM1477.2 487.9h6.4v6.4h-6.4zM1049.3 493.7h6.4v6.4h-6.4zM1060.8 499.5h6.4v6.4h-6.4zM1228.5 499.5h6.4v6.4h-6.4zM1459.8 499.5h6.4v6.4h-6.4zM1072.4 505.3h12.2v6.4h-12.2zM1217 505.3h6.4v6.4h-6.4zM1101.3 511.1h6.4v6.4h-6.4zM1205.4 511.1h6.4v6.4h-6.4zM1465.6 511.1h6.4v6.4h-6.4zM1112.9 516.9h6.4v6.4h-6.4zM1199.6 516.9h6.4v6.4h-6.4zM1471.4 516.9h6.4v6.4h-6.4zM1141.8 522.6h23.7v6.4h-23.7zM1188 522.6h12.2v6.4h-12.2zM1477.2 522.6h6.4v6.4h-6.4zM1182.3 528.4h6.4v6.4h-6.4zM1488.7 528.4h6.4v6.4h-6.4zM1494.5 534.2h6.4v6.4h-6.4zM1500.3 540h12.2v6.4h-12.2zM1517.6 545.8h12.2v6.4h-12.2zM1182.3 568.9h17.9v6.4h-17.9zM1176.5 574.7h6.4v6.4h-6.4zM1199.6 574.7h6.4v6.4h-6.4zM910.5 586.2h6.4v6.4h-6.4zM1205.4 586.2h6.4v6.4h-6.4zM916.3 592h6.4v6.4h-6.4zM1066.6 592h17.9v6.4h-17.9zM1164.9 592h6.4v6.4h-6.4zM1095.5 597.8h6.4v6.4h-6.4zM1211.2 597.8h6.4v6.4h-6.4zM922 603.6h6.4v6.4h-6.4zM1095.5 603.6h6.4v6.4h-6.4zM1211.2 603.6h6.4v6.4h-6.4z"/>
<path fill="#1bd0d5" d="M1072.4 401.2h29.5v6.4h-29.5zM1448.3 401.2h6.4v6.4h-6.4zM1078.2 407h29.5v6.4h-29.5zM1448.3 407h6.4v6.4h-6.4zM1084 412.8h23.7v6.4h-23.7zM1448.3 412.8h6.4v6.4h-6.4zM1084 418.5h12.2v6.4h-12.2zM1107.1 418.5h6.4v6.4h-6.4zM1448.3 418.5h6.4v6.4h-6.4zM1084 424.3h6.4v6.4h-6.4zM1112.9 424.3h12.2v6.4h-12.2zM1448.3 424.3h6.4v6.4h-6.4zM1118.7 430.1h6.4v6.4h-6.4zM1072.4 441.7h6.4v6.4h-6.4zM1136 441.7h6.4v6.4h-6.4zM1419.3 441.7h17.9v6.4h-17.9zM1066.6 447.5h6.4v6.4h-6.4zM1147.6 447.5h6.4v6.4h-6.4zM1407.8 447.5h12.2v6.4h-12.2zM1066.6 453.2h6.4v6.4h-6.4zM1164.9 453.2h6.4v6.4h-6.4zM1384.6 453.2h17.9v6.4h-17.9zM1176.5 459h6.4v6.4h-6.4zM1315.3 459h6.4v6.4h-6.4zM910.5 464.8h12.2v6.4h-12.2zM1072.4 464.8h6.4v6.4h-6.4zM1176.5 464.8h6.4v6.4h-6.4zM1292.1 464.8h17.9v6.4h-17.9zM1014.6 470.6h6.4v6.4h-6.4zM1078.2 470.6h6.4v6.4h-6.4zM1176.5 470.6h6.4v6.4h-6.4zM1292.1 470.6h12.2v6.4h-12.2zM1020.4 476.4h6.4v6.4h-6.4zM1089.7 476.4h35.3v6.4h-35.3zM1176.5 476.4h6.4v6.4h-6.4zM1292.1 476.4h6.4v6.4h-6.4zM1130.2 482.2h6.4v6.4h-6.4zM1164.9 482.2h6.4v6.4h-6.4zM1280.6 482.2h6.4v6.4h-6.4zM1459.8 482.2h6.4v6.4h-6.4zM1471.4 482.2h6.4v6.4h-6.4zM1031.9 487.9h6.4v6.4h-6.4zM1257.4 487.9h12.2v6.4h-12.2zM1454 487.9h6.4v6.4h-6.4zM1483 487.9h6.4v6.4h-6.4zM1240.1 493.7h6.4v6.4h-6.4zM1454 493.7h6.4v6.4h-6.4zM1488.7 493.7h6.4v6.4h-6.4zM1055 499.5h6.4v6.4h-6.4zM1454 499.5h6.4v6.4h-6.4zM1066.6 505.3h6.4v6.4h-6.4zM1222.7 505.3h6.4v6.4h-6.4zM1459.8 505.3h6.4v6.4h-6.4zM1500.3 505.3h6.4v6.4h-6.4zM1095.5 511.1h6.4v6.4h-6.4zM1211.2 511.1h6.4v6.4h-6.4zM1511.9 511.1h6.4v6.4h-6.4zM1205.4 516.9h6.4v6.4h-6.4zM1465.6 516.9h6.4v6.4h-6.4zM1124.4 522.6h17.9v6.4h-17.9zM1199.6 522.6h6.4v6.4h-6.4zM1471.4 522.6h6.4v6.4h-6.4zM1159.1 528.4h23.7v6.4h-23.7zM1188 528.4h12.2v6.4h-12.2zM1483 528.4h6.4v6.4h-6.4zM1176.5 534.2h23.7v6.4h-23.7zM1488.7 534.2h6.4v6.4h-6.4zM1182.3 540h17.9v6.4h-17.9zM1188 545.8h6.4v6.4h-6.4zM1506.1 545.8h12.2v6.4h-12.2zM1188 551.5h12.2v6.4h-12.2zM1188 557.3h12.2v6.4h-12.2zM1182.3 563.1h17.9v6.4h-17.9zM1199.6 568.9h6.4v6.4h-6.4zM1205.4 574.7h6.4v6.4h-6.4zM904.7 580.5h12.2v6.4h-12.2zM1170.7 580.5h6.4v6.4h-6.4zM1205.4 580.5h6.4v6.4h-6.4zM916.3 586.2h6.4v6.4h-6.4zM1164.9 586.2h6.4v6.4h-6.4zM922 592h6.4v6.4h-6.4zM1060.8 592h6.4v6.4h-6.4zM1084 592h6.4v6.4h-6.4zM1211.2 592h6.4v6.4h-6.4zM922 597.8h6.4v6.4h-6.4zM1159.1 597.8h6.4v6.4h-6.4zM1043.5 603.6h6.4v6.4h-6.4zM1159.1 603.6h6.4v6.4h-6.4z"/>
<path fill="#4666dd" d="M1170.7 401.2h6.4v6.4h-6.4zM1355.7 401.2h6.4v6.4h-6.4zM1170.7 407h6.4v6.4h-6.4zM1355.7 407h17.9v6.4h-17.9zM922 412.8h23.7v6.4h-23.7zM1170.7 412.8h6.4v6.4h-6.4zM1367.3 412.8h23.7v6.4h-23.7zM904.7 418.5h12.2v6.4h-12.2zM939.4 418.5h12.2v6.4h-12.2zM1170.7 418.5h6.4v6.4h-6.4zM1378.9 418.5h17.9v6.4h-17.9zM945.2 424.3h12.2v6.4h-12.2zM1378.9 424.3h12.2v6.4h-12.2zM951 430.1h12.2v6.4h-12.2zM1176.5 430.1h6.4v6.4h-6.4zM1361.5 430.1h12.2v6.4h-12.2zM904.7 435.9h6.4v6.4h-6.4zM956.7 435.9h6.4v6.4h-6.4zM1182.3 435.9h6.4v6.4h-6.4zM1344.2 435.9h12.2v6.4h-12.2zM916.3 441.7h12.2v6.4h-12.2zM956.7 441.7h6.4v6.4h-6.4zM1211.2 441.7h12.2v6.4h-12.2zM1245.9 441.7h12.2v6.4h-12.2zM933.6 447.5h6.4v6.4h-6.4zM951 447.5h6.4v6.4h-6.4zM945.2 453.2h6.4v6.4h-6.4zM1211.2 476.4h12.2v6.4h-12.2zM1228.5 476.4h6.4v6.4h-6.4zM1211.2 482.2h17.9v6.4h-17.9zM1188 487.9h17.9v6.4h-17.9zM1182.3 493.7h6.4v6.4h-6.4zM1199.6 493.7h6.4v6.4h-6.4zM1188 499.5h6.4v6.4h-6.4z"/>
<path fill="#455ccf" d="M1176.5 401.2h6.4v6.4h-6.4zM1344.2 401.2h12.2v6.4h-12.2zM1176.5 407h6.4v6.4h-6.4zM1344.2 407h12.2v6.4h-12.2zM1176.5 412.8h6.4v6.4h-6.4zM1350 412.8h17.9v6.4h-17.9zM916.3 418.5h23.7v6.4h-23.7zM1176.5 418.5h6.4v6.4h-6.4zM1367.3 418.5h12.2v6.4h-12.2zM933.6 424.3h12.2v6.4h-12.2zM1176.5 424.3h6.4v6.4h-6.4zM1367.3 424.3h12.2v6.4h-12.2zM939.4 430.1h12.2v6.4h-12.2zM1182.3 430.1h6.4v6.4h-6.4zM1350 430.1h12.2v6.4h-12.2zM910.5 435.9h17.9v6.4h-17.9zM945.2 435.9h12.2v6.4h-12.2zM1188 435.9h23.7v6.4h-23.7zM1297.9 435.9h46.9v6.4h-46.9zM927.8 441.7h12.2v6.4h-12.2zM951 441.7h6.4v6.4h-6.4zM1222.7 441.7h23.7v6.4h-23.7zM939.4 447.5h12.2v6.4h-12.2zM1222.7 476.4h6.4v6.4h-6.4zM1188 493.7h12.2v6.4h-12.2z"/>
<path fill="#434eba" d="M1182.3 401.2h6.4v6.4h-6.4zM1332.6 401.2h12.2v6.4h-12.2zM1182.3 407h6.4v6.4h-6.4zM1332.6 407h12.2v6.4h-12.2zM1182.3 412.8h6.4v6.4h-6.4zM1338.4 412.8h12.2v6.4h-12.2zM1182.3 418.5h6.4v6.4h-6.4zM1344.2 418.5h23.7v6.4h-23.7zM904.7 424.3h29.5v6.4h-29.5zM1182.3 424.3h6.4v6.4h-6.4zM1350 424.3h17.9v6.4h-17.9zM904.7 430.1h35.3v6.4h-35.3zM1188 430.1h6.4v6.4h-6.4zM1332.6 430.1h17.9v6.4h-17.9zM927.8 435.9h17.9v6.4h-17.9zM1211.2 435.9h12.2v6.4h-12.2zM1245.9 435.9h52.6v6.4h-52.6zM939.4 441.7h12.2v6.4h-12.2z"/>
<path fill="#4040a2" d="M1188 401.2h145.2v6.4h-145.2zM1188 407h145.2v6.4h-145.2zM1188 412.8h12.2v6.4h-12.2zM1321 412.8h17.9v6.4h-17.9zM1332.6 418.5h12.2v6.4h-12.2zM1338.4 424.3h12.2v6.4h-12.2zM1193.8 430.1h23.7v6.4h-23.7zM1303.7 430.1h29.5v6.4h-29.5zM1222.7 435.9h23.7v6.4h-23.7z"/>
<path fill="#18d9c8" d="M1454 401.2h6.4v6.4h-6.4zM1454 407h6.4v6.4h-6.4zM1454 412.8h6.4v6.4h-6.4zM1095.5 418.5h12.2v6.4h-12.2zM1454 418.5h6.4v6.4h-6.4zM1089.7 424.3h12.2v6.4h-12.2zM1107.1 424.3h6.4v6.4h-6.4zM1454 424.3h6.4v6.4h-6.4zM1084 430.1h12.2v6.4h-12.2zM1112.9 430.1h6.4v6.4h-6.4zM1448.3 430.1h12.2v6.4h-12.2zM1078.2 435.9h12.2v6.4h-12.2zM1118.7 435.9h12.2v6.4h-12.2zM1442.5 435.9h12.2v6.4h-12.2zM1078.2 441.7h6.4v6.4h-6.4zM1130.2 441.7h6.4v6.4h-6.4zM1436.7 441.7h6.4v6.4h-6.4zM1072.4 447.5h6.4v6.4h-6.4zM1141.8 447.5h6.4v6.4h-6.4zM1419.3 447.5h17.9v6.4h-17.9zM1072.4 453.2h6.4v6.4h-6.4zM1159.1 453.2h6.4v6.4h-6.4zM1402 453.2h12.2v6.4h-12.2zM1072.4 459h6.4v6.4h-6.4zM1170.7 459h6.4v6.4h-6.4zM1321 459h6.4v6.4h-6.4zM1355.7 459h29.5v6.4h-29.5zM904.7 464.8h6.4v6.4h-6.4zM1078.2 464.8h6.4v6.4h-6.4zM1309.5 464.8h12.2v6.4h-12.2zM1008.8 470.6h6.4v6.4h-6.4zM1084 470.6h6.4v6.4h-6.4zM1303.7 470.6h6.4v6.4h-6.4zM1297.9 476.4h6.4v6.4h-6.4zM1459.8 476.4h12.2v6.4h-12.2zM1286.3 482.2h6.4v6.4h-6.4zM1454 482.2h6.4v6.4h-6.4zM1269 487.9h6.4v6.4h-6.4zM1448.3 487.9h6.4v6.4h-6.4zM1043.5 493.7h6.4v6.4h-6.4zM1245.9 493.7h6.4v6.4h-6.4zM1448.3 493.7h6.4v6.4h-6.4zM1234.3 499.5h6.4v6.4h-6.4zM1448.3 499.5h6.4v6.4h-6.4zM1494.5 499.5h6.4v6.4h-6.4zM1060.8 505.3h6.4v6.4h-6.4zM1454 505.3h6.4v6.4h-6.4zM1506.1 505.3h6.4v6.4h-6.4zM1084 511.1h12.2v6.4h-12.2zM1217 511.1h6.4v6.4h-6.4zM1454 511.1h12.2v6.4h-12.2zM1517.6 511.1h12.2v6.4h-12.2zM1107.1 516.9h6.4v6.4h-6.4zM1211.2 516.9h6.4v6.4h-6.4zM1459.8 516.9h6.4v6.4h-6.4zM945.2 522.6h12.2v6.4h-12.2zM1118.7 522.6h6.4v6.4h-6.4zM1205.4 522.6h6.4v6.4h-6.4zM1465.6 522.6h6.4v6.4h-6.4zM945.2 528.4h12.2v6.4h-12.2zM1147.6 528.4h12.2v6.4h-12.2zM1199.6 528.4h12.2v6.4h-12.2zM1477.2 528.4h6.4v6.4h-6.4zM1164.9 534.2h12.2v6.4h-12.2zM1199.6 534.2h6.4v6.4h-6.4zM1483 534.2h6.4v6.4h-6.4zM1176.5 540h6.4v6.4h-6.4zM1199.6 540h6.4v6.4h-6.4zM1494.5 540h6.4v6.4h-6.4zM1176.5 545.8h12.2v6.4h-12.2zM1193.8 545.8h12.2v6.4h-12.2zM1500.3 545.8h6.4v6.4h-6.4zM1182.3 551.5h6.4v6.4h-6.4zM1199.6 551.5h6.4v6.4h-6.4zM1511.9 551.5h17.9v6.4h-17.9zM1182.3 557.3h6.4v6.4h-6.4zM1199.6 557.3h6.4v6.4h-6.4zM1176.5 563.1h6.4v6.4h-6.4zM1199.6 563.1h12.2v6.4h-12.2zM1176.5 568.9h6.4v6.4h-6.4zM1205.4 568.9h6.4v6.4h-6.4zM904.7 574.7h17.9v6.4h-17.9zM1170.7 574.7h6.4v6.4h-6.4zM916.3 580.5h6.4v6.4h-6.4zM922 586.2h6.4v6.4h-6.4zM1211.2 586.2h6.4v6.4h-6.4zM1055 592h6.4v6.4h-6.4zM1089.7 592h6.4v6.4h-6.4zM1159.1 592h6.4v6.4h-6.4zM1043.5 597.8h6.4v6.4h-6.4zM1101.3 603.6h6.4v6.4h-6.4z"/>
<path fill="#18e0bd" d="M1459.8 401.2h12.2v6.4h-12.2zM1459.8 407h12.2v6.4h-12.2zM1459.8 412.8h6.4v6.4h-6.4zM1459.8 418.5h6.4v6.4h-6.4zM1101.3 424.3h6.4v6.4h-6.4zM1459.8 424.3h6.4v6.4h-6.4zM1095.5 430.1h17.9v6.4h-17.9zM1459.8 430.1h6.4v6.4h-6.4zM1089.7 435.9h29.5v6.4h-29.5zM1454 435.9h6.4v6.4h-6.4zM1084 441.7h6.4v6.4h-6.4zM1118.7 441.7h12.2v6.4h-12.2zM1442.5 441.7h12.2v6.4h-12.2zM1078.2 447.5h6.4v6.4h-6.4zM1136 447.5h6.4v6.4h-6.4zM1436.7 447.5h6.4v6.4h-6.4zM1078.2 453.2h6.4v6.4h-6.4zM1153.3 453.2h6.4v6.4h-6.4zM1413.6 453.2h17.9v6.4h-17.9zM1078.2 459h6.4v6.4h-6.4zM1164.9 459h6.4v6.4h-6.4zM1326.8 459h29.5v6.4h-29.5zM1384.6 459h29.5v6.4h-29.5zM1170.7 464.8h6.4v6.4h-6.4zM1321 464.8h6.4v6.4h-6.4zM904.7 470.6h52.6v6.4h-52.6zM985.7 470.6h23.7v6.4h-23.7zM1089.7 470.6h12.2v6.4h-12.2zM1112.9 470.6h6.4v6.4h-6.4zM1170.7 470.6h6.4v6.4h-6.4zM1309.5 470.6h12.2v6.4h-12.2zM904.7 476.4h12.2v6.4h-12.2zM1014.6 476.4h6.4v6.4h-6.4zM1124.4 476.4h6.4v6.4h-6.4zM1170.7 476.4h6.4v6.4h-6.4zM1303.7 476.4h6.4v6.4h-6.4zM1448.3 476.4h12.2v6.4h-12.2zM1471.4 476.4h6.4v6.4h-6.4zM904.7 482.2h6.4v6.4h-6.4zM1020.4 482.2h6.4v6.4h-6.4zM1136 482.2h12.2v6.4h-12.2zM1159.1 482.2h6.4v6.4h-6.4zM1292.1 482.2h6.4v6.4h-6.4zM1448.3 482.2h6.4v6.4h-6.4zM1477.2 482.2h6.4v6.4h-6.4zM1026.1 487.9h6.4v6.4h-6.4zM1274.8 487.9h6.4v6.4h-6.4zM1442.5 487.9h6.4v6.4h-6.4zM1037.7 493.7h6.4v6.4h-6.4zM1251.7 493.7h6.4v6.4h-6.4zM1436.7 493.7h12.2v6.4h-12.2zM1049.3 499.5h6.4v6.4h-6.4zM1240.1 499.5h6.4v6.4h-6.4zM1436.7 499.5h12.2v6.4h-12.2zM1228.5 505.3h6.4v6.4h-6.4zM1436.7 505.3h17.9v6.4h-17.9zM1072.4 511.1h12.2v6.4h-12.2zM1222.7 511.1h6.4v6.4h-6.4zM1442.5 511.1h12.2v6.4h-12.2zM945.2 516.9h17.9v6.4h-17.9zM1101.3 516.9h6.4v6.4h-6.4zM1217 516.9h6.4v6.4h-6.4zM1448.3 516.9h12.2v6.4h-12.2zM939.4 522.6h6.4v6.4h-6.4zM956.7 522.6h6.4v6.4h-6.4zM1112.9 522.6h6.4v6.4h-6.4zM1211.2 522.6h6.4v6.4h-6.4zM1454 522.6h12.2v6.4h-12.2zM933.6 528.4h12.2v6.4h-12.2zM956.7 528.4h6.4v6.4h-6.4zM1130.2 528.4h17.9v6.4h-17.9zM1211.2 528.4h6.4v6.4h-6.4zM1465.6 528.4h12.2v6.4h-12.2zM1153.3 534.2h12.2v6.4h-12.2zM1205.4 534.2h6.4v6.4h-6.4zM1477.2 534.2h6.4v6.4h-6.4zM1164.9 540h12.2v6.4h-12.2zM1205.4 540h6.4v6.4h-6.4zM1488.7 540h6.4v6.4h-6.4zM1170.7 545.8h6.4v6.4h-6.4zM1205.4 545.8h6.4v6.4h-6.4zM1494.5 545.8h6.4v6.4h-6.4zM1170.7 551.5h12.2v6.4h-12.2zM1205.4 551.5h6.4v6.4h-6.4zM1500.3 551.5h12.2v6.4h-12.2zM1176.5 557.3h6.4v6.4h-6.4zM1205.4 557.3h6.4v6.4h-6.4zM1511.9 557.3h17.9v6.4h-17.9zM1170.7 563.1h6.4v6.4h-6.4zM904.7 568.9h17.9v6.4h-17.9zM1170.7 568.9h6.4v6.4h-6.4zM922 574.7h6.4v6.4h-6.4zM1211.2 574.7h6.4v6.4h-6.4zM922 580.5h6.4v6.4h-6.4zM1164.9 580.5h6.4v6.4h-6.4zM1211.2 580.5h6.4v6.4h-6.4zM927.8 586.2h6.4v6.4h-6.4zM927.8 592h6.4v6.4h-6.4zM927.8 597.8h6.4v6.4h-6.4zM1101.3 597.8h6.4v6.4h-6.4zM1217 597.8h6.4v6.4h-6.4zM927.8 603.6h6.4v6.4h-6.4zM1217 603.6h6.4v6.4h-6.4z"/>
<path fill="#1de7b2" d="M1471.4 401.2h6.4v6.4h-6.4zM1471.4 407h6.4v6.4h-6.4zM1465.6 412.8h12.2v6.4h-12.2zM1465.6 418.5h6.4v6.4h-6.4zM1465.6 424.3h6.4v6.4h-6.4zM1465.6 430.1h6.4v6.4h-6.4zM1459.8 435.9h6.4v6.4h-6.4zM1089.7 441.7h29.5v6.4h-29.5zM1454 441.7h6.4v6.4h-6.4zM1084 447.5h12.2v6.4h-12.2zM1124.4 447.5h12.2v6.4h-12.2zM1442.5 447.5h12.2v6.4h-12.2zM1147.6 453.2h6.4v6.4h-6.4zM1430.9 453.2h12.2v6.4h-12.2zM1159.1 459h6.4v6.4h-6.4zM1413.6 459h12.2v6.4h-12.2zM1084 464.8h6.4v6.4h-6.4zM1164.9 464.8h6.4v6.4h-6.4zM1326.8 464.8h12.2v6.4h-12.2zM1355.7 464.8h35.3v6.4h-35.3zM1407.8 464.8h12.2v6.4h-12.2zM956.7 470.6h29.5v6.4h-29.5zM1101.3 470.6h12.2v6.4h-12.2zM1118.7 470.6h6.4v6.4h-6.4zM1321 470.6h6.4v6.4h-6.4zM1448.3 470.6h23.7v6.4h-23.7zM916.3 476.4h12.2v6.4h-12.2zM1309.5 476.4h12.2v6.4h-12.2zM1442.5 476.4h6.4v6.4h-6.4zM910.5 482.2h12.2v6.4h-12.2zM1147.6 482.2h12.2v6.4h-12.2zM1297.9 482.2h6.4v6.4h-6.4zM1436.7 482.2h12.2v6.4h-12.2zM904.7 487.9h17.9v6.4h-17.9zM1020.4 487.9h6.4v6.4h-6.4zM1280.6 487.9h6.4v6.4h-6.4zM1430.9 487.9h12.2v6.4h-12.2zM1488.7 487.9h6.4v6.4h-6.4zM904.7 493.7h17.9v6.4h-17.9zM1031.9 493.7h6.4v6.4h-6.4zM1257.4 493.7h12.2v6.4h-12.2zM1430.9 493.7h6.4v6.4h-6.4zM1494.5 493.7h6.4v6.4h-6.4zM1043.5 499.5h6.4v6.4h-6.4zM1245.9 499.5h6.4v6.4h-6.4zM1430.9 499.5h6.4v6.4h-6.4zM1500.3 499.5h6.4v6.4h-6.4zM1055 505.3h6.4v6.4h-6.4zM1234.3 505.3h6.4v6.4h-6.4zM1430.9 505.3h6.4v6.4h-6.4zM1511.9 505.3h6.4v6.4h-6.4zM945.2 511.1h23.7v6.4h-23.7zM1066.6 511.1h6.4v6.4h-6.4zM1430.9 511.1h12.2v6.4h-12.2zM939.4 516.9h6.4v6.4h-6.4zM962.5 516.9h6.4v6.4h-6.4zM1095.5 516.9h6.4v6.4h-6.4zM1222.7 516.9h6.4v6.4h-6.4zM1430.9 516.9h17.9v6.4h-17.9zM933.6 522.6h6.4v6.4h-6.4zM962.5 522.6h12.2v6.4h-12.2zM1107.1 522.6h6.4v6.4h-6.4zM1217 522.6h6.4v6.4h-6.4zM1436.7 522.6h17.9v6.4h-17.9zM962.5 528.4h6.4v6.4h-6.4zM1118.7 528.4h12.2v6.4h-12.2zM1217 528.4h6.4v6.4h-6.4zM1448.3 528.4h17.9v6.4h-17.9zM939.4 534.2h23.7v6.4h-23.7zM1141.8 534.2h12.2v6.4h-12.2zM1211.2 534.2h6.4v6.4h-6.4zM1471.4 534.2h6.4v6.4h-6.4zM1153.3 540h12.2v6.4h-12.2zM1211.2 540h6.4v6.4h-6.4zM1483 540h6.4v6.4h-6.4zM1164.9 545.8h6.4v6.4h-6.4zM1488.7 545.8h6.4v6.4h-6.4zM1164.9 551.5h6.4v6.4h-6.4zM1494.5 551.5h6.4v6.4h-6.4zM1170.7 557.3h6.4v6.4h-6.4zM1211.2 557.3h6.4v6.4h-6.4zM1500.3 557.3h12.2v6.4h-12.2zM904.7 563.1h12.2v6.4h-12.2zM1211.2 563.1h6.4v6.4h-6.4zM1511.9 563.1h17.9v6.4h-17.9zM922 568.9h6.4v6.4h-6.4zM1164.9 568.9h6.4v6.4h-6.4zM1211.2 568.9h6.4v6.4h-6.4zM927.8 574.7h6.4v6.4h-6.4zM1164.9 574.7h6.4v6.4h-6.4zM927.8 580.5h6.4v6.4h-6.4zM1344.2 580.5h6.4v6.4h-6.4zM1066.6 586.2h17.9v6.4h-17.9zM1159.1 586.2h6.4v6.4h-6.4zM1049.3 592h6.4v6.4h-6.4zM1095.5 592h6.4v6.4h-6.4zM1217 592h6.4v6.4h-6.4zM1153.3 597.8h6.4v6.4h-6.4zM1037.7 603.6h6.4v6.4h-6.4zM1153.3 603.6h6.4v6.4h-6.4z"/>
<path fill="#27eea4" d="M1477.2 401.2h6.4v6.4h-6.4zM1477.2 407h6.4v6.4h-6.4zM1477.2 412.8h6.4v6.4h-6.4zM1471.4 418.5h6.4v6.4h-6.4zM1471.4 424.3h6.4v6.4h-6.4zM1471.4 430.1h6.4v6.4h-6.4zM1465.6 435.9h6.4v6.4h-6.4zM1459.8 441.7h6.4v6.4h-6.4zM1095.5 447.5h29.5v6.4h-29.5zM1454 447.5h6.4v6.4h-6.4zM1084 453.2h12.2v6.4h-12.2zM1136 453.2h12.2v6.4h-12.2zM1442.5 453.2h12.2v6.4h-12.2zM1084 459h6.4v6.4h-6.4zM1153.3 459h6.4v6.4h-6.4zM1425.1 459h29.5v6.4h-29.5zM1089.7 464.8h12.2v6.4h-12.2zM1338.4 464.8h17.9v6.4h-17.9zM1390.4 464.8h17.9v6.4h-17.9zM1419.3 464.8h46.9v6.4h-46.9zM1124.4 470.6h6.4v6.4h-6.4zM1164.9 470.6h6.4v6.4h-6.4zM1326.8 470.6h12.2v6.4h-12.2zM1407.8 470.6h41.1v6.4h-41.1zM1471.4 470.6h6.4v6.4h-6.4zM927.8 476.4h12.2v6.4h-12.2zM1008.8 476.4h6.4v6.4h-6.4zM1130.2 476.4h6.4v6.4h-6.4zM1164.9 476.4h6.4v6.4h-6.4zM1321 476.4h6.4v6.4h-6.4zM1419.3 476.4h23.7v6.4h-23.7zM1477.2 476.4h6.4v6.4h-6.4zM922 482.2h12.2v6.4h-12.2zM1014.6 482.2h6.4v6.4h-6.4zM1303.7 482.2h6.4v6.4h-6.4zM1425.1 482.2h12.2v6.4h-12.2zM1483 482.2h6.4v6.4h-6.4zM922 487.9h6.4v6.4h-6.4zM1286.3 487.9h12.2v6.4h-12.2zM1425.1 487.9h6.4v6.4h-6.4zM922 493.7h6.4v6.4h-6.4zM1026.1 493.7h6.4v6.4h-6.4zM1269 493.7h6.4v6.4h-6.4zM1425.1 493.7h6.4v6.4h-6.4zM904.7 499.5h17.9v6.4h-17.9zM1425.1 499.5h6.4v6.4h-6.4zM945.2 505.3h12.2v6.4h-12.2zM1049.3 505.3h6.4v6.4h-6.4zM1425.1 505.3h6.4v6.4h-6.4zM1517.6 505.3h6.4v6.4h-6.4zM939.4 511.1h6.4v6.4h-6.4zM968.3 511.1h6.4v6.4h-6.4zM1060.8 511.1h6.4v6.4h-6.4zM1228.5 511.1h6.4v6.4h-6.4zM1425.1 511.1h6.4v6.4h-6.4zM933.6 516.9h6.4v6.4h-6.4zM968.3 516.9h6.4v6.4h-6.4zM1089.7 516.9h6.4v6.4h-6.4zM1425.1 516.9h6.4v6.4h-6.4zM927.8 522.6h6.4v6.4h-6.4zM974.1 522.6h6.4v6.4h-6.4zM1101.3 522.6h6.4v6.4h-6.4zM1222.7 522.6h6.4v6.4h-6.4zM1430.9 522.6h6.4v6.4h-6.4zM927.8 528.4h6.4v6.4h-6.4zM968.3 528.4h12.2v6.4h-12.2zM1112.9 528.4h6.4v6.4h-6.4zM1436.7 528.4h12.2v6.4h-12.2zM933.6 534.2h6.4v6.4h-6.4zM962.5 534.2h6.4v6.4h-6.4zM1136 534.2h6.4v6.4h-6.4zM1217 534.2h6.4v6.4h-6.4zM1465.6 534.2h6.4v6.4h-6.4zM1147.6 540h6.4v6.4h-6.4zM1477.2 540h6.4v6.4h-6.4zM1153.3 545.8h12.2v6.4h-12.2zM1211.2 545.8h6.4v6.4h-6.4zM1483 545.8h6.4v6.4h-6.4zM1159.1 551.5h6.4v6.4h-6.4zM1211.2 551.5h6.4v6.4h-6.4zM1488.7 551.5h6.4v6.4h-6.4zM1164.9 557.3h6.4v6.4h-6.4zM1494.5 557.3h6.4v6.4h-6.4zM916.3 563.1h12.2v6.4h-12.2zM1164.9 563.1h6.4v6.4h-6.4zM1500.3 563.1h12.2v6.4h-12.2zM927.8 568.9h6.4v6.4h-6.4zM1511.9 568.9h17.9v6.4h-17.9zM933.6 574.7h6.4v6.4h-6.4zM933.6 580.5h6.4v6.4h-6.4zM1159.1 580.5h6.4v6.4h-6.4zM1217 580.5h6.4v6.4h-6.4zM933.6 586.2h6.4v6.4h-6.4zM1084 586.2h6.4v6.4h-6.4zM1217 586.2h6.4v6.4h-6.4zM1101.3 592h6.4v6.4h-6.4zM1153.3 592h6.4v6.4h-6.4zM1037.7 597.8h6.4v6.4h-6.4zM1222.7 603.6h6.4v6.4h-6.4z"/>
<path fill="#35f394" d="M1483 401.2h12.2v6.4h-12.2zM1483 407h6.4v6.4h-6.4zM1483 412.8h6.4v6.4h-6.4zM1477.2 418.5h6.4v6.4h-6.4zM1477.2 424.3h6.4v6.4h-6.4zM1471.4 435.9h6.4v6.4h-6.4zM1465.6 441.7h12.2v6.4h-12.2zM1459.8 447.5h12.2v6.4h-12.2zM1095.5 453.2h41.1v6.4h-41.1zM1454 453.2h12.2v6.4h-12.2zM1089.7 459h12.2v6.4h-12.2zM1147.6 459h6.4v6.4h-6.4zM1454 459h12.2v6.4h-12.2zM1101.3 464.8h29.5v6.4h-29.5zM1159.1 464.8h6.4v6.4h-6.4zM1465.6 464.8h6.4v6.4h-6.4zM1130.2 470.6h6.4v6.4h-6.4zM1338.4 470.6h70v6.4h-70zM939.4 476.4h6.4v6.4h-6.4zM1003 476.4h6.4v6.4h-6.4zM1136 476.4h6.4v6.4h-6.4zM1326.8 476.4h12.2v6.4h-12.2zM1407.8 476.4h12.2v6.4h-12.2zM933.6 482.2h6.4v6.4h-6.4zM1008.8 482.2h6.4v6.4h-6.4zM1309.5 482.2h23.7v6.4h-23.7zM1413.6 482.2h12.2v6.4h-12.2zM927.8 487.9h12.2v6.4h-12.2zM1014.6 487.9h6.4v6.4h-6.4zM1297.9 487.9h6.4v6.4h-6.4zM1419.3 487.9h6.4v6.4h-6.4zM927.8 493.7h12.2v6.4h-12.2zM1020.4 493.7h6.4v6.4h-6.4zM1274.8 493.7h12.2v6.4h-12.2zM1419.3 493.7h6.4v6.4h-6.4zM922 499.5h23.7v6.4h-23.7zM1037.7 499.5h6.4v6.4h-6.4zM1251.7 499.5h6.4v6.4h-6.4zM1419.3 499.5h6.4v6.4h-6.4zM1506.1 499.5h6.4v6.4h-6.4zM904.7 505.3h12.2v6.4h-12.2zM933.6 505.3h12.2v6.4h-12.2zM956.7 505.3h12.2v6.4h-12.2zM1240.1 505.3h6.4v6.4h-6.4zM1419.3 505.3h6.4v6.4h-6.4zM1523.4 505.3h6.4v6.4h-6.4zM933.6 511.1h6.4v6.4h-6.4zM1055 511.1h6.4v6.4h-6.4zM1234.3 511.1h6.4v6.4h-6.4zM1419.3 511.1h6.4v6.4h-6.4zM927.8 516.9h6.4v6.4h-6.4zM974.1 516.9h6.4v6.4h-6.4zM1078.2 516.9h12.2v6.4h-12.2zM1228.5 516.9h6.4v6.4h-6.4zM979.9 522.6h6.4v6.4h-6.4zM1425.1 522.6h6.4v6.4h-6.4zM922 528.4h6.4v6.4h-6.4zM979.9 528.4h6.4v6.4h-6.4zM1222.7 528.4h6.4v6.4h-6.4zM1430.9 528.4h6.4v6.4h-6.4zM927.8 534.2h6.4v6.4h-6.4zM968.3 534.2h12.2v6.4h-12.2zM1124.4 534.2h12.2v6.4h-12.2zM1454 534.2h12.2v6.4h-12.2zM939.4 540h23.7v6.4h-23.7zM1141.8 540h6.4v6.4h-6.4zM1217 540h6.4v6.4h-6.4zM1471.4 540h6.4v6.4h-6.4zM1147.6 545.8h6.4v6.4h-6.4zM1217 545.8h6.4v6.4h-6.4zM1477.2 545.8h6.4v6.4h-6.4zM1153.3 551.5h6.4v6.4h-6.4zM1217 551.5h6.4v6.4h-6.4zM1483 551.5h6.4v6.4h-6.4zM1159.1 557.3h6.4v6.4h-6.4zM1217 557.3h6.4v6.4h-6.4zM1488.7 557.3h6.4v6.4h-6.4zM927.8 563.1h12.2v6.4h-12.2zM1159.1 563.1h6.4v6.4h-6.4zM1217 563.1h6.4v6.4h-6.4zM1494.5 563.1h6.4v6.4h-6.4zM933.6 568.9h6.4v6.4h-6.4zM1159.1 568.9h6.4v6.4h-6.4zM1217 568.9h6.4v6.4h-6.4zM1500.3 568.9h12.2v6.4h-12.2zM1159.1 574.7h6.4v6.4h-6.4zM1217 574.7h6.4v6.4h-6.4zM1517.6 574.7h12.2v6.4h-12.2zM1338.4 580.5h6.4v6.4h-6.4zM1060.8 586.2h6.4v6.4h-6.4zM1089.7 586.2h6.4v6.4h-6.4zM1153.3 586.2h6.4v6.4h-6.4zM933.6 592h6.4v6.4h-6.4zM1222.7 592h6.4v6.4h-6.4zM933.6 597.8h6.4v6.4h-6.4zM1107.1 597.8h6.4v6.4h-6.4zM1222.7 597.8h6.4v6.4h-6.4zM933.6 603.6h6.4v6.4h-6.4zM1107.1 603.6h6.4v6.4h-6.4z"/>
<path fill="#43f787" d="M1494.5 401.2h6.4v6.4h-6.4zM1488.7 407h12.2v6.4h-12.2zM1488.7 412.8h6.4v6.4h-6.4zM1483 418.5h6.4v6.4h-6.4zM1477.2 430.1h6.4v6.4h-6.4zM1477.2 435.9h6.4v6.4h-6.4zM1477.2 441.7h6.4v6.4h-6.4zM1471.4 447.5h6.4v6.4h-6.4zM1465.6 453.2h6.4v6.4h-6.4zM1101.3 459h46.9v6.4h-46.9zM1465.6 459h6.4v6.4h-6.4zM1130.2 464.8h6.4v6.4h-6.4zM1147.6 464.8h12.2v6.4h-12.2zM1471.4 464.8h6.4v6.4h-6.4zM1159.1 470.6h6.4v6.4h-6.4zM1477.2 470.6h6.4v6.4h-6.4zM945.2 476.4h58.4v6.4h-58.4zM1141.8 476.4h6.4v6.4h-6.4zM1159.1 476.4h6.4v6.4h-6.4zM1338.4 476.4h6.4v6.4h-6.4zM1402 476.4h6.4v6.4h-6.4zM1483 476.4h6.4v6.4h-6.4zM939.4 482.2h6.4v6.4h-6.4zM1003 482.2h6.4v6.4h-6.4zM1332.6 482.2h6.4v6.4h-6.4zM1407.8 482.2h6.4v6.4h-6.4zM939.4 487.9h6.4v6.4h-6.4zM1008.8 487.9h6.4v6.4h-6.4zM1303.7 487.9h6.4v6.4h-6.4zM1326.8 487.9h6.4v6.4h-6.4zM1413.6 487.9h6.4v6.4h-6.4zM939.4 493.7h6.4v6.4h-6.4zM1286.3 493.7h6.4v6.4h-6.4zM1500.3 493.7h6.4v6.4h-6.4zM945.2 499.5h12.2v6.4h-12.2zM1026.1 499.5h12.2v6.4h-12.2zM1257.4 499.5h12.2v6.4h-12.2zM916.3 505.3h17.9v6.4h-17.9zM968.3 505.3h6.4v6.4h-6.4zM1043.5 505.3h6.4v6.4h-6.4zM1245.9 505.3h6.4v6.4h-6.4zM922 511.1h12.2v6.4h-12.2zM974.1 511.1h6.4v6.4h-6.4zM922 516.9h6.4v6.4h-6.4zM979.9 516.9h6.4v6.4h-6.4zM1066.6 516.9h12.2v6.4h-12.2zM1419.3 516.9h6.4v6.4h-6.4zM922 522.6h6.4v6.4h-6.4zM1095.5 522.6h6.4v6.4h-6.4zM1228.5 522.6h6.4v6.4h-6.4zM1419.3 522.6h6.4v6.4h-6.4zM985.7 528.4h6.4v6.4h-6.4zM1008.8 528.4h12.2v6.4h-12.2zM1107.1 528.4h6.4v6.4h-6.4zM1425.1 528.4h6.4v6.4h-6.4zM979.9 534.2h6.4v6.4h-6.4zM1118.7 534.2h6.4v6.4h-6.4zM1222.7 534.2h6.4v6.4h-6.4zM1442.5 534.2h12.2v6.4h-12.2zM933.6 540h6.4v6.4h-6.4zM962.5 540h12.2v6.4h-12.2zM1136 540h6.4v6.4h-6.4zM1222.7 540h6.4v6.4h-6.4zM1465.6 540h6.4v6.4h-6.4zM1141.8 545.8h6.4v6.4h-6.4zM1471.4 545.8h6.4v6.4h-6.4zM1147.6 551.5h6.4v6.4h-6.4zM1477.2 551.5h6.4v6.4h-6.4zM904.7 557.3h35.3v6.4h-35.3zM1153.3 557.3h6.4v6.4h-6.4zM1483 557.3h6.4v6.4h-6.4zM939.4 563.1h6.4v6.4h-6.4zM1488.7 563.1h6.4v6.4h-6.4zM939.4 568.9h6.4v6.4h-6.4zM1494.5 568.9h6.4v6.4h-6.4zM939.4 574.7h6.4v6.4h-6.4zM1500.3 574.7h17.9v6.4h-17.9zM939.4 580.5h6.4v6.4h-6.4zM1072.4 580.5h6.4v6.4h-6.4zM1153.3 580.5h6.4v6.4h-6.4zM1350 580.5h6.4v6.4h-6.4zM1222.7 586.2h6.4v6.4h-6.4zM1344.2 586.2h6.4v6.4h-6.4zM1043.5 592h6.4v6.4h-6.4zM1147.6 597.8h6.4v6.4h-6.4zM1147.6 603.6h6.4v6.4h-6.4z"/>
<path fill="#55fa76" d="M1500.3 401.2h29.5v6.4h-29.5zM1500.3 407h29.5v6.4h-29.5zM1494.5 412.8h6.4v6.4h-6.4zM1506.1 412.8h23.7v6.4h-23.7zM1488.7 418.5h6.4v6.4h-6.4zM1517.6 418.5h12.2v6.4h-12.2zM1483 424.3h6.4v6.4h-6.4zM1523.4 424.3h6.4v6.4h-6.4zM1483 430.1h6.4v6.4h-6.4zM1483 435.9h6.4v6.4h-6.4zM1483 441.7h6.4v6.4h-6.4zM1477.2 447.5h6.4v6.4h-6.4zM1471.4 453.2h6.4v6.4h-6.4zM1471.4 459h6.4v6.4h-6.4zM1136 464.8h12.2v6.4h-12.2zM1477.2 464.8h6.4v6.4h-6.4zM1136 470.6h23.7v6.4h-23.7zM1147.6 476.4h12.2v6.4h-12.2zM1344.2 476.4h58.4v6.4h-58.4zM945.2 482.2h17.9v6.4h-17.9zM997.2 482.2h6.4v6.4h-6.4zM1338.4 482.2h6.4v6.4h-6.4zM1402 482.2h6.4v6.4h-6.4zM1488.7 482.2h6.4v6.4h-6.4zM945.2 487.9h12.2v6.4h-12.2zM1309.5 487.9h17.9v6.4h-17.9zM1332.6 487.9h6.4v6.4h-6.4zM1407.8 487.9h6.4v6.4h-6.4zM1494.5 487.9h6.4v6.4h-6.4zM945.2 493.7h12.2v6.4h-12.2zM1014.6 493.7h6.4v6.4h-6.4zM1292.1 493.7h6.4v6.4h-6.4zM1407.8 493.7h12.2v6.4h-12.2zM956.7 499.5h12.2v6.4h-12.2zM1020.4 499.5h6.4v6.4h-6.4zM1269 499.5h6.4v6.4h-6.4zM1407.8 499.5h12.2v6.4h-12.2zM1511.9 499.5h6.4v6.4h-6.4zM974.1 505.3h6.4v6.4h-6.4zM1407.8 505.3h12.2v6.4h-12.2zM904.7 511.1h17.9v6.4h-17.9zM979.9 511.1h6.4v6.4h-6.4zM1049.3 511.1h6.4v6.4h-6.4zM1240.1 511.1h6.4v6.4h-6.4zM1402 511.1h17.9v6.4h-17.9zM916.3 516.9h6.4v6.4h-6.4zM1060.8 516.9h6.4v6.4h-6.4zM1234.3 516.9h6.4v6.4h-6.4zM1413.6 516.9h6.4v6.4h-6.4zM916.3 522.6h6.4v6.4h-6.4zM985.7 522.6h6.4v6.4h-6.4zM1008.8 522.6h12.2v6.4h-12.2zM1089.7 522.6h6.4v6.4h-6.4zM1413.6 522.6h6.4v6.4h-6.4zM916.3 528.4h6.4v6.4h-6.4zM991.4 528.4h17.9v6.4h-17.9zM1101.3 528.4h6.4v6.4h-6.4zM1228.5 528.4h6.4v6.4h-6.4zM1419.3 528.4h6.4v6.4h-6.4zM922 534.2h6.4v6.4h-6.4zM985.7 534.2h6.4v6.4h-6.4zM1008.8 534.2h12.2v6.4h-12.2zM1112.9 534.2h6.4v6.4h-6.4zM1430.9 534.2h12.2v6.4h-12.2zM927.8 540h6.4v6.4h-6.4zM974.1 540h6.4v6.4h-6.4zM1130.2 540h6.4v6.4h-6.4zM1459.8 540h6.4v6.4h-6.4zM939.4 545.8h29.5v6.4h-29.5zM1136 545.8h6.4v6.4h-6.4zM1222.7 545.8h6.4v6.4h-6.4zM1465.6 545.8h6.4v6.4h-6.4zM933.6 551.5h17.9v6.4h-17.9zM1222.7 551.5h6.4v6.4h-6.4zM939.4 557.3h12.2v6.4h-12.2zM1222.7 557.3h6.4v6.4h-6.4zM945.2 563.1h6.4v6.4h-6.4zM1153.3 563.1h6.4v6.4h-6.4zM1222.7 563.1h6.4v6.4h-6.4zM1483 563.1h6.4v6.4h-6.4zM945.2 568.9h6.4v6.4h-6.4zM1153.3 568.9h6.4v6.4h-6.4zM1222.7 568.9h6.4v6.4h-6.4zM945.2 574.7h6.4v6.4h-6.4zM1153.3 574.7h6.4v6.4h-6.4zM1222.7 574.7h6.4v6.4h-6.4zM1066.6 580.5h6.4v6.4h-6.4zM1078.2 580.5h12.2v6.4h-12.2zM1222.7 580.5h6.4v6.4h-6.4zM1332.6 580.5h6.4v6.4h-6.4zM1500.3 580.5h29.5v6.4h-29.5zM939.4 586.2h6.4v6.4h-6.4zM1055 586.2h6.4v6.4h-6.4zM1095.5 586.2h6.4v6.4h-6.4zM1338.4 586.2h6.4v6.4h-6.4zM1350 586.2h6.4v6.4h-6.4zM1506.1 586.2h23.7v6.4h-23.7zM1107.1 592h6.4v6.4h-6.4zM1147.6 592h6.4v6.4h-6.4zM1511.9 592h17.9v6.4h-17.9zM1228.5 597.8h6.4v6.4h-6.4zM1517.6 597.8h12.2v6.4h-12.2zM1031.9 603.6h6.4v6.4h-6.4zM1228.5 603.6h6.4v6.4h-6.4zM1517.6 603.6h12.2v6.4h-12.2z"/>
<path fill="#3c3286" d="M1199.6 412.8h122v6.4h-122zM1188 418.5h29.5v6.4h-29.5zM1303.7 418.5h29.5v6.4h-29.5zM1188 424.3h23.7v6.4h-23.7zM1309.5 424.3h29.5v6.4h-29.5zM1217 430.1h6.4v6.4h-6.4zM1245.9 430.1h58.4v6.4h-58.4z"/>
<path fill="#69fd66" d="M1500.3 412.8h6.4v6.4h-6.4zM1494.5 418.5h23.7v6.4h-23.7zM1488.7 424.3h6.4v6.4h-6.4zM1511.9 424.3h12.2v6.4h-12.2zM1488.7 430.1h6.4v6.4h-6.4zM1488.7 435.9h6.4v6.4h-6.4zM1483 447.5h6.4v6.4h-6.4zM1477.2 453.2h6.4v6.4h-6.4zM1477.2 459h6.4v6.4h-6.4zM1483 470.6h6.4v6.4h-6.4zM962.5 482.2h17.9v6.4h-17.9zM985.7 482.2h12.2v6.4h-12.2zM1344.2 482.2h17.9v6.4h-17.9zM1384.6 482.2h17.9v6.4h-17.9zM956.7 487.9h6.4v6.4h-6.4zM1003 487.9h6.4v6.4h-6.4zM1338.4 487.9h6.4v6.4h-6.4zM1402 487.9h6.4v6.4h-6.4zM956.7 493.7h6.4v6.4h-6.4zM1008.8 493.7h6.4v6.4h-6.4zM1297.9 493.7h6.4v6.4h-6.4zM1326.8 493.7h6.4v6.4h-6.4zM1402 493.7h6.4v6.4h-6.4zM968.3 499.5h6.4v6.4h-6.4zM1014.6 499.5h6.4v6.4h-6.4zM1274.8 499.5h6.4v6.4h-6.4zM1402 499.5h6.4v6.4h-6.4zM1517.6 499.5h6.4v6.4h-6.4zM1037.7 505.3h6.4v6.4h-6.4zM1251.7 505.3h6.4v6.4h-6.4zM1396.2 505.3h12.2v6.4h-12.2zM1396.2 511.1h6.4v6.4h-6.4zM904.7 516.9h12.2v6.4h-12.2zM985.7 516.9h6.4v6.4h-6.4zM1014.6 516.9h6.4v6.4h-6.4zM1055 516.9h6.4v6.4h-6.4zM1402 516.9h12.2v6.4h-12.2zM910.5 522.6h6.4v6.4h-6.4zM991.4 522.6h17.9v6.4h-17.9zM1020.4 522.6h6.4v6.4h-6.4zM1084 522.6h6.4v6.4h-6.4zM1234.3 522.6h6.4v6.4h-6.4zM1407.8 522.6h6.4v6.4h-6.4zM1020.4 528.4h6.4v6.4h-6.4zM1413.6 528.4h6.4v6.4h-6.4zM991.4 534.2h17.9v6.4h-17.9zM1020.4 534.2h6.4v6.4h-6.4zM1107.1 534.2h6.4v6.4h-6.4zM1228.5 534.2h6.4v6.4h-6.4zM1425.1 534.2h6.4v6.4h-6.4zM979.9 540h6.4v6.4h-6.4zM1014.6 540h12.2v6.4h-12.2zM1124.4 540h6.4v6.4h-6.4zM1454 540h6.4v6.4h-6.4zM933.6 545.8h6.4v6.4h-6.4zM968.3 545.8h6.4v6.4h-6.4zM1026.1 545.8h12.2v6.4h-12.2zM922 551.5h12.2v6.4h-12.2zM951 551.5h12.2v6.4h-12.2zM1141.8 551.5h6.4v6.4h-6.4zM1471.4 551.5h6.4v6.4h-6.4zM951 557.3h6.4v6.4h-6.4zM1147.6 557.3h6.4v6.4h-6.4zM1477.2 557.3h6.4v6.4h-6.4zM1147.6 563.1h6.4v6.4h-6.4zM1488.7 568.9h6.4v6.4h-6.4zM1494.5 574.7h6.4v6.4h-6.4zM945.2 580.5h6.4v6.4h-6.4zM1089.7 580.5h6.4v6.4h-6.4zM1101.3 586.2h6.4v6.4h-6.4zM1147.6 586.2h6.4v6.4h-6.4zM1500.3 586.2h6.4v6.4h-6.4zM939.4 592h6.4v6.4h-6.4zM1037.7 592h6.4v6.4h-6.4zM1228.5 592h6.4v6.4h-6.4zM1506.1 592h6.4v6.4h-6.4zM939.4 597.8h6.4v6.4h-6.4zM1031.9 597.8h6.4v6.4h-6.4zM1506.1 597.8h12.2v6.4h-12.2zM1511.9 603.6h6.4v6.4h-6.4z"/>
<path fill="#38276d" d="M1217 418.5h87.3v6.4h-87.3zM1211.2 424.3h12.2v6.4h-12.2zM1292.1 424.3h17.9v6.4h-17.9zM1222.7 430.1h23.7v6.4h-23.7z"/>
<path fill="#33184a" d="M1222.7 424.3h70v6.4h-70z"/>
<path fill="#7dff56" d="M1494.5 424.3h17.9v6.4h-17.9zM1494.5 430.1h6.4v6.4h-6.4zM1511.9 430.1h17.9v6.4h-17.9zM1488.7 441.7h6.4v6.4h-6.4zM1483 453.2h6.4v6.4h-6.4zM1483 459h6.4v6.4h-6.4zM1483 464.8h6.4v6.4h-6.4zM1488.7 476.4h6.4v6.4h-6.4zM979.9 482.2h6.4v6.4h-6.4zM1361.5 482.2h23.7v6.4h-23.7zM962.5 487.9h12.2v6.4h-12.2zM991.4 487.9h12.2v6.4h-12.2zM1344.2 487.9h12.2v6.4h-12.2zM1390.4 487.9h12.2v6.4h-12.2zM962.5 493.7h6.4v6.4h-6.4zM997.2 493.7h12.2v6.4h-12.2zM1303.7 493.7h23.7v6.4h-23.7zM1332.6 493.7h12.2v6.4h-12.2zM1396.2 493.7h6.4v6.4h-6.4zM1506.1 493.7h6.4v6.4h-6.4zM974.1 499.5h6.4v6.4h-6.4zM1008.8 499.5h6.4v6.4h-6.4zM1280.6 499.5h12.2v6.4h-12.2zM1396.2 499.5h6.4v6.4h-6.4zM1523.4 499.5h6.4v6.4h-6.4zM979.9 505.3h6.4v6.4h-6.4zM1014.6 505.3h23.7v6.4h-23.7zM1257.4 505.3h6.4v6.4h-6.4zM1390.4 505.3h6.4v6.4h-6.4zM985.7 511.1h6.4v6.4h-6.4zM1014.6 511.1h6.4v6.4h-6.4zM1043.5 511.1h6.4v6.4h-6.4zM1245.9 511.1h6.4v6.4h-6.4zM1390.4 511.1h6.4v6.4h-6.4zM991.4 516.9h6.4v6.4h-6.4zM1008.8 516.9h6.4v6.4h-6.4zM1020.4 516.9h6.4v6.4h-6.4zM1049.3 516.9h6.4v6.4h-6.4zM1240.1 516.9h6.4v6.4h-6.4zM1396.2 516.9h6.4v6.4h-6.4zM904.7 522.6h6.4v6.4h-6.4zM1066.6 522.6h17.9v6.4h-17.9zM1402 522.6h6.4v6.4h-6.4zM910.5 528.4h6.4v6.4h-6.4zM1095.5 528.4h6.4v6.4h-6.4zM1407.8 528.4h6.4v6.4h-6.4zM916.3 534.2h6.4v6.4h-6.4zM1026.1 534.2h6.4v6.4h-6.4zM1101.3 534.2h6.4v6.4h-6.4zM1419.3 534.2h6.4v6.4h-6.4zM922 540h6.4v6.4h-6.4zM985.7 540h6.4v6.4h-6.4zM1008.8 540h6.4v6.4h-6.4zM1026.1 540h12.2v6.4h-12.2zM1118.7 540h6.4v6.4h-6.4zM1228.5 540h6.4v6.4h-6.4zM1442.5 540h12.2v6.4h-12.2zM922 545.8h12.2v6.4h-12.2zM974.1 545.8h6.4v6.4h-6.4zM1020.4 545.8h6.4v6.4h-6.4zM1037.7 545.8h6.4v6.4h-6.4zM1130.2 545.8h6.4v6.4h-6.4zM1228.5 545.8h6.4v6.4h-6.4zM1459.8 545.8h6.4v6.4h-6.4zM904.7 551.5h17.9v6.4h-17.9zM962.5 551.5h6.4v6.4h-6.4zM1031.9 551.5h6.4v6.4h-6.4zM1136 551.5h6.4v6.4h-6.4zM1228.5 551.5h6.4v6.4h-6.4zM1465.6 551.5h6.4v6.4h-6.4zM956.7 557.3h6.4v6.4h-6.4zM1141.8 557.3h6.4v6.4h-6.4zM1228.5 557.3h6.4v6.4h-6.4zM1471.4 557.3h6.4v6.4h-6.4zM951 563.1h6.4v6.4h-6.4zM1228.5 563.1h6.4v6.4h-6.4zM1477.2 563.1h6.4v6.4h-6.4zM951 568.9h6.4v6.4h-6.4zM1147.6 568.9h6.4v6.4h-6.4zM1228.5 568.9h6.4v6.4h-6.4zM1483 568.9h6.4v6.4h-6.4zM951 574.7h6.4v6.4h-6.4zM1066.6 574.7h17.9v6.4h-17.9zM1147.6 574.7h6.4v6.4h-6.4zM1228.5 574.7h6.4v6.4h-6.4zM1344.2 574.7h6.4v6.4h-6.4zM1488.7 574.7h6.4v6.4h-6.4zM1060.8 580.5h6.4v6.4h-6.4zM1147.6 580.5h6.4v6.4h-6.4zM1228.5 580.5h6.4v6.4h-6.4zM1494.5 580.5h6.4v6.4h-6.4zM945.2 586.2h6.4v6.4h-6.4zM1049.3 586.2h6.4v6.4h-6.4zM1107.1 586.2h6.4v6.4h-6.4zM1228.5 586.2h6.4v6.4h-6.4zM1494.5 586.2h6.4v6.4h-6.4zM1500.3 592h6.4v6.4h-6.4zM1141.8 597.8h6.4v6.4h-6.4zM1500.3 597.8h6.4v6.4h-6.4zM939.4 603.6h6.4v6.4h-6.4zM1112.9 603.6h6.4v6.4h-6.4zM1141.8 603.6h6.4v6.4h-6.4zM1506.1 603.6h6.4v6.4h-6.4z"/>
<path fill="#8bff4b" d="M1500.3 430.1h12.2v6.4h-12.2zM1494.5 435.9h6.4v6.4h-6.4zM1488.7 447.5h6.4v6.4h-6.4zM1494.5 482.2h6.4v6.4h-6.4zM974.1 487.9h17.9v6.4h-17.9zM1355.7 487.9h12.2v6.4h-12.2zM1378.9 487.9h12.2v6.4h-12.2zM1500.3 487.9h6.4v6.4h-6.4zM968.3 493.7h6.4v6.4h-6.4zM991.4 493.7h6.4v6.4h-6.4zM1344.2 493.7h6.4v6.4h-6.4zM1390.4 493.7h6.4v6.4h-6.4zM1511.9 493.7h6.4v6.4h-6.4zM979.9 499.5h6.4v6.4h-6.4zM997.2 499.5h12.2v6.4h-12.2zM1292.1 499.5h6.4v6.4h-6.4zM1390.4 499.5h6.4v6.4h-6.4zM985.7 505.3h6.4v6.4h-6.4zM1003 505.3h12.2v6.4h-12.2zM1263.2 505.3h12.2v6.4h-12.2zM991.4 511.1h6.4v6.4h-6.4zM1008.8 511.1h6.4v6.4h-6.4zM1020.4 511.1h6.4v6.4h-6.4zM1037.7 511.1h6.4v6.4h-6.4zM1251.7 511.1h6.4v6.4h-6.4zM997.2 516.9h12.2v6.4h-12.2zM1043.5 516.9h6.4v6.4h-6.4zM1245.9 516.9h6.4v6.4h-6.4zM1026.1 522.6h6.4v6.4h-6.4zM1060.8 522.6h6.4v6.4h-6.4zM1240.1 522.6h6.4v6.4h-6.4zM904.7 528.4h6.4v6.4h-6.4zM1026.1 528.4h6.4v6.4h-6.4zM1089.7 528.4h6.4v6.4h-6.4zM1234.3 528.4h6.4v6.4h-6.4zM904.7 534.2h12.2v6.4h-12.2zM1413.6 534.2h6.4v6.4h-6.4zM916.3 540h6.4v6.4h-6.4zM991.4 540h17.9v6.4h-17.9zM1037.7 540h6.4v6.4h-6.4zM1112.9 540h6.4v6.4h-6.4zM1430.9 540h12.2v6.4h-12.2zM916.3 545.8h6.4v6.4h-6.4zM979.9 545.8h12.2v6.4h-12.2zM1008.8 545.8h12.2v6.4h-12.2zM1124.4 545.8h6.4v6.4h-6.4zM1454 545.8h6.4v6.4h-6.4zM968.3 551.5h12.2v6.4h-12.2zM1020.4 551.5h12.2v6.4h-12.2zM1037.7 551.5h6.4v6.4h-6.4zM1130.2 551.5h6.4v6.4h-6.4zM1459.8 551.5h6.4v6.4h-6.4zM962.5 557.3h6.4v6.4h-6.4zM1136 557.3h6.4v6.4h-6.4zM956.7 563.1h6.4v6.4h-6.4zM1141.8 563.1h6.4v6.4h-6.4zM1477.2 568.9h6.4v6.4h-6.4zM1084 574.7h6.4v6.4h-6.4zM1338.4 574.7h6.4v6.4h-6.4zM951 580.5h6.4v6.4h-6.4zM1095.5 580.5h6.4v6.4h-6.4zM1118.7 580.5h6.4v6.4h-6.4zM1141.8 580.5h6.4v6.4h-6.4zM1326.8 580.5h6.4v6.4h-6.4zM1355.7 580.5h6.4v6.4h-6.4zM1488.7 580.5h6.4v6.4h-6.4zM1112.9 586.2h6.4v6.4h-6.4zM1141.8 586.2h6.4v6.4h-6.4zM1332.6 586.2h6.4v6.4h-6.4zM1355.7 586.2h6.4v6.4h-6.4zM945.2 592h6.4v6.4h-6.4zM1112.9 592h6.4v6.4h-6.4zM1141.8 592h6.4v6.4h-6.4zM1494.5 592h6.4v6.4h-6.4zM1112.9 597.8h6.4v6.4h-6.4zM1234.3 597.8h6.4v6.4h-6.4zM1494.5 597.8h6.4v6.4h-6.4zM1234.3 603.6h6.4v6.4h-6.4zM1494.5 603.6h12.2v6.4h-12.2z"/>
<path fill="#9cfe40" d="M1500.3 435.9h29.5v6.4h-29.5zM1494.5 441.7h6.4v6.4h-6.4zM1488.7 453.2h6.4v6.4h-6.4zM1488.7 459h6.4v6.4h-6.4zM1488.7 464.8h6.4v6.4h-6.4zM1488.7 470.6h6.4v6.4h-6.4zM1367.3 487.9h12.2v6.4h-12.2zM974.1 493.7h17.9v6.4h-17.9zM1350 493.7h12.2v6.4h-12.2zM1384.6 493.7h6.4v6.4h-6.4zM985.7 499.5h12.2v6.4h-12.2zM1297.9 499.5h6.4v6.4h-6.4zM1384.6 499.5h6.4v6.4h-6.4zM991.4 505.3h12.2v6.4h-12.2zM1274.8 505.3h6.4v6.4h-6.4zM1384.6 505.3h6.4v6.4h-6.4zM997.2 511.1h12.2v6.4h-12.2zM1026.1 511.1h12.2v6.4h-12.2zM1384.6 511.1h6.4v6.4h-6.4zM1026.1 516.9h6.4v6.4h-6.4zM1037.7 516.9h6.4v6.4h-6.4zM1390.4 516.9h6.4v6.4h-6.4zM1055 522.6h6.4v6.4h-6.4zM1396.2 522.6h6.4v6.4h-6.4zM1084 528.4h6.4v6.4h-6.4zM1402 528.4h6.4v6.4h-6.4zM1031.9 534.2h6.4v6.4h-6.4zM1095.5 534.2h6.4v6.4h-6.4zM1234.3 534.2h6.4v6.4h-6.4zM1407.8 534.2h6.4v6.4h-6.4zM904.7 540h12.2v6.4h-12.2zM1107.1 540h6.4v6.4h-6.4zM1234.3 540h6.4v6.4h-6.4zM1419.3 540h12.2v6.4h-12.2zM904.7 545.8h12.2v6.4h-12.2zM991.4 545.8h6.4v6.4h-6.4zM1003 545.8h6.4v6.4h-6.4zM1043.5 545.8h6.4v6.4h-6.4zM1118.7 545.8h6.4v6.4h-6.4zM979.9 551.5h6.4v6.4h-6.4zM1014.6 551.5h6.4v6.4h-6.4zM1043.5 551.5h6.4v6.4h-6.4zM1124.4 551.5h6.4v6.4h-6.4zM968.3 557.3h6.4v6.4h-6.4zM1026.1 557.3h17.9v6.4h-17.9zM1130.2 557.3h6.4v6.4h-6.4zM1465.6 557.3h6.4v6.4h-6.4zM1471.4 563.1h6.4v6.4h-6.4zM956.7 568.9h6.4v6.4h-6.4zM1066.6 568.9h12.2v6.4h-12.2zM1141.8 568.9h6.4v6.4h-6.4zM1060.8 574.7h6.4v6.4h-6.4zM1089.7 574.7h6.4v6.4h-6.4zM1118.7 574.7h12.2v6.4h-12.2zM1141.8 574.7h6.4v6.4h-6.4zM1350 574.7h6.4v6.4h-6.4zM1483 574.7h6.4v6.4h-6.4zM1101.3 580.5h17.9v6.4h-17.9zM1124.4 580.5h6.4v6.4h-6.4zM951 586.2h6.4v6.4h-6.4zM1043.5 586.2h6.4v6.4h-6.4zM1118.7 586.2h6.4v6.4h-6.4zM1234.3 586.2h6.4v6.4h-6.4zM1488.7 586.2h6.4v6.4h-6.4zM1031.9 592h6.4v6.4h-6.4zM1234.3 592h6.4v6.4h-6.4zM1344.2 592h12.2v6.4h-12.2zM1488.7 592h6.4v6.4h-6.4zM945.2 597.8h6.4v6.4h-6.4zM1488.7 597.8h6.4v6.4h-6.4zM1026.1 603.6h6.4v6.4h-6.4z"/>
<path fill="#a9fb39" d="M1500.3 441.7h6.4v6.4h-6.4zM1494.5 447.5h6.4v6.4h-6.4zM1506.1 487.9h6.4v6.4h-6.4zM1361.5 493.7h23.7v6.4h-23.7zM1517.6 493.7h12.2v6.4h-12.2zM1303.7 499.5h6.4v6.4h-6.4zM1321 499.5h64.2v6.4h-64.2zM1280.6 505.3h6.4v6.4h-6.4zM1378.9 505.3h6.4v6.4h-6.4zM1257.4 511.1h6.4v6.4h-6.4zM1378.9 511.1h6.4v6.4h-6.4zM1031.9 516.9h6.4v6.4h-6.4zM1251.7 516.9h6.4v6.4h-6.4zM1384.6 516.9h6.4v6.4h-6.4zM1031.9 522.6h23.7v6.4h-23.7zM1245.9 522.6h6.4v6.4h-6.4zM1390.4 522.6h6.4v6.4h-6.4zM1031.9 528.4h6.4v6.4h-6.4zM1060.8 528.4h23.7v6.4h-23.7zM1240.1 528.4h6.4v6.4h-6.4zM1037.7 534.2h6.4v6.4h-6.4zM1089.7 534.2h6.4v6.4h-6.4zM1043.5 540h6.4v6.4h-6.4zM1101.3 540h6.4v6.4h-6.4zM1413.6 540h6.4v6.4h-6.4zM997.2 545.8h6.4v6.4h-6.4zM1049.3 545.8h6.4v6.4h-6.4zM1112.9 545.8h6.4v6.4h-6.4zM1234.3 545.8h6.4v6.4h-6.4zM1430.9 545.8h23.7v6.4h-23.7zM985.7 551.5h6.4v6.4h-6.4zM1008.8 551.5h6.4v6.4h-6.4zM1049.3 551.5h6.4v6.4h-6.4zM1118.7 551.5h6.4v6.4h-6.4zM1234.3 551.5h6.4v6.4h-6.4zM1454 551.5h6.4v6.4h-6.4zM974.1 557.3h6.4v6.4h-6.4zM1020.4 557.3h6.4v6.4h-6.4zM1043.5 557.3h12.2v6.4h-12.2zM1124.4 557.3h6.4v6.4h-6.4zM1234.3 557.3h6.4v6.4h-6.4zM1459.8 557.3h6.4v6.4h-6.4zM962.5 563.1h6.4v6.4h-6.4zM1060.8 563.1h12.2v6.4h-12.2zM1124.4 563.1h17.9v6.4h-17.9zM1234.3 563.1h6.4v6.4h-6.4zM1465.6 563.1h6.4v6.4h-6.4zM1060.8 568.9h6.4v6.4h-6.4zM1078.2 568.9h12.2v6.4h-12.2zM1118.7 568.9h23.7v6.4h-23.7zM1234.3 568.9h6.4v6.4h-6.4zM1471.4 568.9h6.4v6.4h-6.4zM956.7 574.7h6.4v6.4h-6.4zM1095.5 574.7h6.4v6.4h-6.4zM1112.9 574.7h6.4v6.4h-6.4zM1130.2 574.7h12.2v6.4h-12.2zM1234.3 574.7h6.4v6.4h-6.4zM1332.6 574.7h6.4v6.4h-6.4zM1477.2 574.7h6.4v6.4h-6.4zM956.7 580.5h6.4v6.4h-6.4zM1055 580.5h6.4v6.4h-6.4zM1130.2 580.5h12.2v6.4h-12.2zM1234.3 580.5h6.4v6.4h-6.4zM1483 580.5h6.4v6.4h-6.4zM1124.4 586.2h17.9v6.4h-17.9zM1361.5 586.2h6.4v6.4h-6.4zM1483 586.2h6.4v6.4h-6.4zM951 592h6.4v6.4h-6.4zM1118.7 592h6.4v6.4h-6.4zM1136 592h6.4v6.4h-6.4zM1355.7 592h12.2v6.4h-12.2zM1026.1 597.8h6.4v6.4h-6.4zM1136 597.8h6.4v6.4h-6.4zM1240.1 597.8h6.4v6.4h-6.4zM945.2 603.6h6.4v6.4h-6.4zM1136 603.6h6.4v6.4h-6.4zM1240.1 603.6h6.4v6.4h-6.4zM1488.7 603.6h6.4v6.4h-6.4z"/>
<path fill="#b7f735" d="M1506.1 441.7h23.7v6.4h-23.7zM1500.3 447.5h6.4v6.4h-6.4zM1494.5 453.2h6.4v6.4h-6.4zM1494.5 476.4h6.4v6.4h-6.4zM1500.3 482.2h6.4v6.4h-6.4zM1511.9 487.9h6.4v6.4h-6.4zM1309.5 499.5h12.2v6.4h-12.2zM1286.3 505.3h12.2v6.4h-12.2zM1355.7 505.3h23.7v6.4h-23.7zM1263.2 511.1h12.2v6.4h-12.2zM1361.5 511.1h17.9v6.4h-17.9zM1037.7 528.4h23.7v6.4h-23.7zM1396.2 528.4h6.4v6.4h-6.4zM1043.5 534.2h12.2v6.4h-12.2zM1060.8 534.2h17.9v6.4h-17.9zM1084 534.2h6.4v6.4h-6.4zM1240.1 534.2h6.4v6.4h-6.4zM1402 534.2h6.4v6.4h-6.4zM1049.3 540h12.2v6.4h-12.2zM1095.5 540h6.4v6.4h-6.4zM1055 545.8h6.4v6.4h-6.4zM1107.1 545.8h6.4v6.4h-6.4zM1419.3 545.8h12.2v6.4h-12.2zM991.4 551.5h17.9v6.4h-17.9zM1055 551.5h12.2v6.4h-12.2zM1112.9 551.5h6.4v6.4h-6.4zM1448.3 551.5h6.4v6.4h-6.4zM979.9 557.3h6.4v6.4h-6.4zM1014.6 557.3h6.4v6.4h-6.4zM1055 557.3h17.9v6.4h-17.9zM1118.7 557.3h6.4v6.4h-6.4zM968.3 563.1h6.4v6.4h-6.4zM1026.1 563.1h35.3v6.4h-35.3zM1072.4 563.1h12.2v6.4h-12.2zM1118.7 563.1h6.4v6.4h-6.4zM962.5 568.9h6.4v6.4h-6.4zM1055 568.9h6.4v6.4h-6.4zM1089.7 568.9h6.4v6.4h-6.4zM1112.9 568.9h6.4v6.4h-6.4zM1055 574.7h6.4v6.4h-6.4zM1101.3 574.7h12.2v6.4h-12.2zM1321 580.5h6.4v6.4h-6.4zM1361.5 580.5h6.4v6.4h-6.4zM1477.2 580.5h6.4v6.4h-6.4zM956.7 586.2h6.4v6.4h-6.4zM1037.7 586.2h6.4v6.4h-6.4zM1326.8 586.2h6.4v6.4h-6.4zM1367.3 586.2h6.4v6.4h-6.4zM1124.4 592h12.2v6.4h-12.2zM1240.1 592h6.4v6.4h-6.4zM1338.4 592h6.4v6.4h-6.4zM1367.3 592h12.2v6.4h-12.2zM1483 592h6.4v6.4h-6.4zM951 597.8h6.4v6.4h-6.4zM1118.7 597.8h17.9v6.4h-17.9zM1355.7 597.8h46.9v6.4h-46.9zM1483 597.8h6.4v6.4h-6.4zM1118.7 603.6h6.4v6.4h-6.4zM1130.2 603.6h6.4v6.4h-6.4zM1361.5 603.6h41.1v6.4h-41.1zM1483 603.6h6.4v6.4h-6.4z"/>
<path fill="#c1f334" d="M1506.1 447.5h23.7v6.4h-23.7zM1494.5 459h6.4v6.4h-6.4zM1494.5 464.8h6.4v6.4h-6.4zM1494.5 470.6h6.4v6.4h-6.4zM1297.9 505.3h6.4v6.4h-6.4zM1344.2 505.3h12.2v6.4h-12.2zM1274.8 511.1h6.4v6.4h-6.4zM1355.7 511.1h6.4v6.4h-6.4zM1257.4 516.9h6.4v6.4h-6.4zM1373.1 516.9h12.2v6.4h-12.2zM1251.7 522.6h6.4v6.4h-6.4zM1384.6 522.6h6.4v6.4h-6.4zM1245.9 528.4h6.4v6.4h-6.4zM1390.4 528.4h6.4v6.4h-6.4zM1055 534.2h6.4v6.4h-6.4zM1078.2 534.2h6.4v6.4h-6.4zM1060.8 540h17.9v6.4h-17.9zM1089.7 540h6.4v6.4h-6.4zM1240.1 540h6.4v6.4h-6.4zM1407.8 540h6.4v6.4h-6.4zM1060.8 545.8h12.2v6.4h-12.2zM1101.3 545.8h6.4v6.4h-6.4zM1240.1 545.8h6.4v6.4h-6.4zM1413.6 545.8h6.4v6.4h-6.4zM1066.6 551.5h12.2v6.4h-12.2zM1107.1 551.5h6.4v6.4h-6.4zM1240.1 551.5h6.4v6.4h-6.4zM1425.1 551.5h23.7v6.4h-23.7zM985.7 557.3h12.2v6.4h-12.2zM1003 557.3h12.2v6.4h-12.2zM1072.4 557.3h12.2v6.4h-12.2zM1112.9 557.3h6.4v6.4h-6.4zM1240.1 557.3h6.4v6.4h-6.4zM1454 557.3h6.4v6.4h-6.4zM974.1 563.1h12.2v6.4h-12.2zM1020.4 563.1h6.4v6.4h-6.4zM1084 563.1h6.4v6.4h-6.4zM1112.9 563.1h6.4v6.4h-6.4zM1240.1 563.1h6.4v6.4h-6.4zM1459.8 563.1h6.4v6.4h-6.4zM968.3 568.9h6.4v6.4h-6.4zM1037.7 568.9h17.9v6.4h-17.9zM1095.5 568.9h6.4v6.4h-6.4zM1107.1 568.9h6.4v6.4h-6.4zM1240.1 568.9h6.4v6.4h-6.4zM1465.6 568.9h6.4v6.4h-6.4zM962.5 574.7h6.4v6.4h-6.4zM1240.1 574.7h6.4v6.4h-6.4zM1326.8 574.7h6.4v6.4h-6.4zM1355.7 574.7h6.4v6.4h-6.4zM1471.4 574.7h6.4v6.4h-6.4zM962.5 580.5h6.4v6.4h-6.4zM1049.3 580.5h6.4v6.4h-6.4zM1240.1 580.5h6.4v6.4h-6.4zM1240.1 586.2h6.4v6.4h-6.4zM1373.1 586.2h6.4v6.4h-6.4zM1477.2 586.2h6.4v6.4h-6.4zM956.7 592h6.4v6.4h-6.4zM1026.1 592h6.4v6.4h-6.4zM1245.9 592h6.4v6.4h-6.4zM1378.9 592h23.7v6.4h-23.7zM1477.2 592h6.4v6.4h-6.4zM1245.9 597.8h6.4v6.4h-6.4zM1350 597.8h6.4v6.4h-6.4zM1402 597.8h6.4v6.4h-6.4zM1477.2 597.8h6.4v6.4h-6.4zM951 603.6h6.4v6.4h-6.4zM1124.4 603.6h6.4v6.4h-6.4zM1245.9 603.6h6.4v6.4h-6.4zM1355.7 603.6h6.4v6.4h-6.4zM1402 603.6h6.4v6.4h-6.4zM1477.2 603.6h6.4v6.4h-6.4z"/>
<path fill="#cdec34" d="M1500.3 453.2h6.4v6.4h-6.4zM1500.3 476.4h6.4v6.4h-6.4zM1506.1 482.2h6.4v6.4h-6.4zM1517.6 487.9h12.2v6.4h-12.2zM1332.6 505.3h12.2v6.4h-12.2zM1280.6 511.1h6.4v6.4h-6.4zM1350 511.1h6.4v6.4h-6.4zM1263.2 516.9h6.4v6.4h-6.4zM1361.5 516.9h12.2v6.4h-12.2zM1257.4 522.6h6.4v6.4h-6.4zM1378.9 522.6h6.4v6.4h-6.4zM1251.7 528.4h6.4v6.4h-6.4zM1384.6 528.4h6.4v6.4h-6.4zM1245.9 534.2h6.4v6.4h-6.4zM1396.2 534.2h6.4v6.4h-6.4zM1078.2 540h12.2v6.4h-12.2zM1072.4 545.8h12.2v6.4h-12.2zM1089.7 545.8h12.2v6.4h-12.2zM1078.2 551.5h6.4v6.4h-6.4zM1095.5 551.5h12.2v6.4h-12.2zM1413.6 551.5h12.2v6.4h-12.2zM997.2 557.3h6.4v6.4h-6.4zM1084 557.3h12.2v6.4h-12.2zM1101.3 557.3h12.2v6.4h-12.2zM1425.1 557.3h29.5v6.4h-29.5zM985.7 563.1h6.4v6.4h-6.4zM1008.8 563.1h12.2v6.4h-12.2zM1089.7 563.1h12.2v6.4h-12.2zM1107.1 563.1h6.4v6.4h-6.4zM1454 563.1h6.4v6.4h-6.4zM974.1 568.9h6.4v6.4h-6.4zM1026.1 568.9h12.2v6.4h-12.2zM1101.3 568.9h6.4v6.4h-6.4zM1459.8 568.9h6.4v6.4h-6.4zM968.3 574.7h6.4v6.4h-6.4zM1043.5 574.7h12.2v6.4h-12.2zM1465.6 574.7h6.4v6.4h-6.4zM1043.5 580.5h6.4v6.4h-6.4zM1315.3 580.5h6.4v6.4h-6.4zM1367.3 580.5h6.4v6.4h-6.4zM1471.4 580.5h6.4v6.4h-6.4zM962.5 586.2h6.4v6.4h-6.4zM1031.9 586.2h6.4v6.4h-6.4zM1245.9 586.2h6.4v6.4h-6.4zM1321 586.2h6.4v6.4h-6.4zM1378.9 586.2h23.7v6.4h-23.7zM1471.4 586.2h6.4v6.4h-6.4zM1402 592h6.4v6.4h-6.4zM1471.4 592h6.4v6.4h-6.4zM956.7 597.8h6.4v6.4h-6.4zM1251.7 597.8h6.4v6.4h-6.4zM1344.2 597.8h6.4v6.4h-6.4zM1407.8 597.8h6.4v6.4h-6.4zM1471.4 597.8h6.4v6.4h-6.4zM956.7 603.6h6.4v6.4h-6.4zM1251.7 603.6h6.4v6.4h-6.4zM1350 603.6h6.4v6.4h-6.4zM1407.8 603.6h6.4v6.4h-6.4zM1471.4 603.6h6.4v6.4h-6.4z"/>
<path fill="#d9e436" d="M1506.1 453.2h23.7v6.4h-23.7zM1500.3 459h6.4v6.4h-6.4zM1500.3 464.8h6.4v6.4h-6.4zM1500.3 470.6h6.4v6.4h-6.4zM1511.9 482.2h6.4v6.4h-6.4zM1303.7 505.3h12.2v6.4h-12.2zM1321 505.3h12.2v6.4h-12.2zM1286.3 511.1h6.4v6.4h-6.4zM1269 516.9h12.2v6.4h-12.2zM1263.2 522.6h6.4v6.4h-6.4zM1373.1 522.6h6.4v6.4h-6.4zM1257.4 528.4h6.4v6.4h-6.4zM1251.7 534.2h6.4v6.4h-6.4zM1245.9 540h6.4v6.4h-6.4zM1402 540h6.4v6.4h-6.4zM1084 545.8h6.4v6.4h-6.4zM1245.9 545.8h6.4v6.4h-6.4zM1407.8 545.8h6.4v6.4h-6.4zM1084 551.5h12.2v6.4h-12.2zM1245.9 551.5h6.4v6.4h-6.4zM1095.5 557.3h6.4v6.4h-6.4zM1245.9 557.3h6.4v6.4h-6.4zM1413.6 557.3h12.2v6.4h-12.2zM991.4 563.1h17.9v6.4h-17.9zM1101.3 563.1h6.4v6.4h-6.4zM1245.9 563.1h6.4v6.4h-6.4zM1419.3 563.1h35.3v6.4h-35.3zM979.9 568.9h12.2v6.4h-12.2zM1014.6 568.9h12.2v6.4h-12.2zM1245.9 568.9h6.4v6.4h-6.4zM1454 568.9h6.4v6.4h-6.4zM974.1 574.7h6.4v6.4h-6.4zM1031.9 574.7h12.2v6.4h-12.2zM1245.9 574.7h6.4v6.4h-6.4zM1321 574.7h6.4v6.4h-6.4zM1361.5 574.7h6.4v6.4h-6.4zM1459.8 574.7h6.4v6.4h-6.4zM968.3 580.5h6.4v6.4h-6.4zM1037.7 580.5h6.4v6.4h-6.4zM1245.9 580.5h6.4v6.4h-6.4zM1373.1 580.5h6.4v6.4h-6.4zM1465.6 580.5h6.4v6.4h-6.4zM968.3 586.2h6.4v6.4h-6.4zM1251.7 586.2h6.4v6.4h-6.4zM1402 586.2h17.9v6.4h-17.9zM1465.6 586.2h6.4v6.4h-6.4zM962.5 592h6.4v6.4h-6.4zM1251.7 592h6.4v6.4h-6.4zM1332.6 592h6.4v6.4h-6.4zM1407.8 592h12.2v6.4h-12.2zM1465.6 592h6.4v6.4h-6.4zM962.5 597.8h6.4v6.4h-6.4zM1020.4 597.8h6.4v6.4h-6.4zM1413.6 597.8h6.4v6.4h-6.4zM1465.6 597.8h6.4v6.4h-6.4zM962.5 603.6h6.4v6.4h-6.4zM1020.4 603.6h6.4v6.4h-6.4zM1257.4 603.6h6.4v6.4h-6.4zM1413.6 603.6h12.2v6.4h-12.2zM1465.6 603.6h6.4v6.4h-6.4z"/>
<path fill="#e3db38" d="M1506.1 459h12.2v6.4h-12.2zM1506.1 464.8h6.4v6.4h-6.4zM1506.1 476.4h6.4v6.4h-6.4zM1517.6 482.2h6.4v6.4h-6.4zM1315.3 505.3h6.4v6.4h-6.4zM1292.1 511.1h6.4v6.4h-6.4zM1344.2 511.1h6.4v6.4h-6.4zM1280.6 516.9h6.4v6.4h-6.4zM1355.7 516.9h6.4v6.4h-6.4zM1269 522.6h6.4v6.4h-6.4zM1367.3 522.6h6.4v6.4h-6.4zM1378.9 528.4h6.4v6.4h-6.4zM1390.4 534.2h6.4v6.4h-6.4zM1251.7 540h6.4v6.4h-6.4zM1407.8 551.5h6.4v6.4h-6.4zM1407.8 557.3h6.4v6.4h-6.4zM1413.6 563.1h6.4v6.4h-6.4zM991.4 568.9h6.4v6.4h-6.4zM1003 568.9h12.2v6.4h-12.2zM1407.8 568.9h35.3v6.4h-35.3zM1448.3 568.9h6.4v6.4h-6.4zM979.9 574.7h6.4v6.4h-6.4zM1026.1 574.7h6.4v6.4h-6.4zM1367.3 574.7h6.4v6.4h-6.4zM1402 574.7h29.5v6.4h-29.5zM974.1 580.5h6.4v6.4h-6.4zM1031.9 580.5h6.4v6.4h-6.4zM1251.7 580.5h6.4v6.4h-6.4zM1309.5 580.5h6.4v6.4h-6.4zM1378.9 580.5h46.9v6.4h-46.9zM1459.8 580.5h6.4v6.4h-6.4zM1026.1 586.2h6.4v6.4h-6.4zM1315.3 586.2h6.4v6.4h-6.4zM1419.3 586.2h12.2v6.4h-12.2zM968.3 592h6.4v6.4h-6.4zM1020.4 592h6.4v6.4h-6.4zM1257.4 592h6.4v6.4h-6.4zM1419.3 592h17.9v6.4h-17.9zM1459.8 592h6.4v6.4h-6.4zM1257.4 597.8h12.2v6.4h-12.2zM1419.3 597.8h23.7v6.4h-23.7zM1459.8 597.8h6.4v6.4h-6.4zM1263.2 603.6h6.4v6.4h-6.4zM1344.2 603.6h6.4v6.4h-6.4zM1425.1 603.6h17.9v6.4h-17.9zM1459.8 603.6h6.4v6.4h-6.4z"/>
<path fill="#ebd339" d="M1517.6 459h12.2v6.4h-12.2zM1511.9 464.8h6.4v6.4h-6.4zM1506.1 470.6h6.4v6.4h-6.4zM1511.9 476.4h6.4v6.4h-6.4zM1523.4 482.2h6.4v6.4h-6.4zM1297.9 511.1h6.4v6.4h-6.4zM1338.4 511.1h6.4v6.4h-6.4zM1286.3 516.9h6.4v6.4h-6.4zM1350 516.9h6.4v6.4h-6.4zM1274.8 522.6h6.4v6.4h-6.4zM1361.5 522.6h6.4v6.4h-6.4zM1263.2 528.4h6.4v6.4h-6.4zM1373.1 528.4h6.4v6.4h-6.4zM1257.4 534.2h6.4v6.4h-6.4zM1384.6 534.2h6.4v6.4h-6.4zM1396.2 540h6.4v6.4h-6.4zM1251.7 545.8h6.4v6.4h-6.4zM1402 545.8h6.4v6.4h-6.4zM1251.7 551.5h6.4v6.4h-6.4zM1251.7 557.3h6.4v6.4h-6.4zM1251.7 563.1h6.4v6.4h-6.4zM1407.8 563.1h6.4v6.4h-6.4zM997.2 568.9h6.4v6.4h-6.4zM1251.7 568.9h6.4v6.4h-6.4zM1338.4 568.9h17.9v6.4h-17.9zM1402 568.9h6.4v6.4h-6.4zM1442.5 568.9h6.4v6.4h-6.4zM985.7 574.7h12.2v6.4h-12.2zM1014.6 574.7h12.2v6.4h-12.2zM1251.7 574.7h6.4v6.4h-6.4zM1315.3 574.7h6.4v6.4h-6.4zM1373.1 574.7h6.4v6.4h-6.4zM1390.4 574.7h12.2v6.4h-12.2zM1430.9 574.7h12.2v6.4h-12.2zM1454 574.7h6.4v6.4h-6.4zM979.9 580.5h6.4v6.4h-6.4zM1026.1 580.5h6.4v6.4h-6.4zM1257.4 580.5h6.4v6.4h-6.4zM1425.1 580.5h12.2v6.4h-12.2zM974.1 586.2h6.4v6.4h-6.4zM1020.4 586.2h6.4v6.4h-6.4zM1257.4 586.2h12.2v6.4h-12.2zM1309.5 586.2h6.4v6.4h-6.4zM1430.9 586.2h12.2v6.4h-12.2zM1459.8 586.2h6.4v6.4h-6.4zM974.1 592h6.4v6.4h-6.4zM1263.2 592h6.4v6.4h-6.4zM1326.8 592h6.4v6.4h-6.4zM1436.7 592h12.2v6.4h-12.2zM1454 592h6.4v6.4h-6.4zM968.3 597.8h6.4v6.4h-6.4zM1269 597.8h6.4v6.4h-6.4zM1338.4 597.8h6.4v6.4h-6.4zM1442.5 597.8h17.9v6.4h-17.9zM968.3 603.6h6.4v6.4h-6.4zM1269 603.6h6.4v6.4h-6.4zM1442.5 603.6h17.9v6.4h-17.9z"/>
<path fill="#f2c93a" d="M1517.6 464.8h12.2v6.4h-12.2zM1511.9 470.6h6.4v6.4h-6.4zM1517.6 476.4h6.4v6.4h-6.4zM1303.7 511.1h6.4v6.4h-6.4zM1332.6 511.1h6.4v6.4h-6.4zM1292.1 516.9h6.4v6.4h-6.4zM1344.2 516.9h6.4v6.4h-6.4zM1355.7 522.6h6.4v6.4h-6.4zM1269 528.4h6.4v6.4h-6.4zM1367.3 528.4h6.4v6.4h-6.4zM1263.2 534.2h6.4v6.4h-6.4zM1378.9 534.2h6.4v6.4h-6.4zM1257.4 540h6.4v6.4h-6.4zM1390.4 540h6.4v6.4h-6.4zM1402 551.5h6.4v6.4h-6.4zM1402 557.3h6.4v6.4h-6.4zM1402 563.1h6.4v6.4h-6.4zM1355.7 568.9h6.4v6.4h-6.4zM1396.2 568.9h6.4v6.4h-6.4zM997.2 574.7h17.9v6.4h-17.9zM1257.4 574.7h6.4v6.4h-6.4zM1309.5 574.7h6.4v6.4h-6.4zM1378.9 574.7h12.2v6.4h-12.2zM1442.5 574.7h12.2v6.4h-12.2zM985.7 580.5h6.4v6.4h-6.4zM1020.4 580.5h6.4v6.4h-6.4zM1263.2 580.5h6.4v6.4h-6.4zM1303.7 580.5h6.4v6.4h-6.4zM1436.7 580.5h12.2v6.4h-12.2zM1454 580.5h6.4v6.4h-6.4zM979.9 586.2h6.4v6.4h-6.4zM1269 586.2h6.4v6.4h-6.4zM1303.7 586.2h6.4v6.4h-6.4zM1442.5 586.2h17.9v6.4h-17.9zM1269 592h12.2v6.4h-12.2zM1321 592h6.4v6.4h-6.4zM1448.3 592h6.4v6.4h-6.4zM974.1 597.8h6.4v6.4h-6.4zM1274.8 597.8h12.2v6.4h-12.2zM974.1 603.6h6.4v6.4h-6.4zM1274.8 603.6h12.2v6.4h-12.2zM1338.4 603.6h6.4v6.4h-6.4z"/>
<path fill="#f8be39" d="M1517.6 470.6h12.2v6.4h-12.2zM1523.4 476.4h6.4v6.4h-6.4zM1309.5 511.1h23.7v6.4h-23.7zM1297.9 516.9h6.4v6.4h-6.4zM1338.4 516.9h6.4v6.4h-6.4zM1280.6 522.6h6.4v6.4h-6.4zM1350 522.6h6.4v6.4h-6.4zM1274.8 528.4h6.4v6.4h-6.4zM1384.6 540h6.4v6.4h-6.4zM1257.4 545.8h6.4v6.4h-6.4zM1396.2 545.8h6.4v6.4h-6.4zM1257.4 551.5h6.4v6.4h-6.4zM1396.2 551.5h6.4v6.4h-6.4zM1257.4 557.3h6.4v6.4h-6.4zM1396.2 557.3h6.4v6.4h-6.4zM1257.4 563.1h6.4v6.4h-6.4zM1396.2 563.1h6.4v6.4h-6.4zM1257.4 568.9h6.4v6.4h-6.4zM1332.6 568.9h6.4v6.4h-6.4zM1361.5 568.9h6.4v6.4h-6.4zM1390.4 568.9h6.4v6.4h-6.4zM1263.2 574.7h6.4v6.4h-6.4zM991.4 580.5h29.5v6.4h-29.5zM1269 580.5h6.4v6.4h-6.4zM1297.9 580.5h6.4v6.4h-6.4zM1448.3 580.5h6.4v6.4h-6.4zM985.7 586.2h12.2v6.4h-12.2zM1014.6 586.2h6.4v6.4h-6.4zM1274.8 586.2h29.5v6.4h-29.5zM979.9 592h12.2v6.4h-12.2zM1014.6 592h6.4v6.4h-6.4zM1280.6 592h41.1v6.4h-41.1zM979.9 597.8h6.4v6.4h-6.4zM1014.6 597.8h6.4v6.4h-6.4zM1286.3 597.8h12.2v6.4h-12.2zM1332.6 597.8h6.4v6.4h-6.4zM979.9 603.6h6.4v6.4h-6.4zM1014.6 603.6h6.4v6.4h-6.4zM1286.3 603.6h12.2v6.4h-12.2z"/>
<path fill="#fea933" d="M1303.7 516.9h6.4v6.4h-6.4zM1332.6 516.9h6.4v6.4h-6.4zM1292.1 522.6h6.4v6.4h-6.4zM1344.2 522.6h6.4v6.4h-6.4zM1280.6 528.4h6.4v6.4h-6.4zM1355.7 528.4h6.4v6.4h-6.4zM1274.8 534.2h6.4v6.4h-6.4zM1367.3 534.2h6.4v6.4h-6.4zM1378.9 540h6.4v6.4h-6.4zM1263.2 545.8h6.4v6.4h-6.4zM1384.6 545.8h6.4v6.4h-6.4zM1263.2 551.5h6.4v6.4h-6.4zM1390.4 551.5h6.4v6.4h-6.4zM1263.2 557.3h6.4v6.4h-6.4zM1390.4 557.3h6.4v6.4h-6.4zM1263.2 563.1h6.4v6.4h-6.4zM1269 568.9h6.4v6.4h-6.4zM1309.5 568.9h12.2v6.4h-12.2zM1274.8 574.7h12.2v6.4h-12.2zM1297.9 574.7h6.4v6.4h-6.4zM997.2 592h6.4v6.4h-6.4zM991.4 597.8h17.9v6.4h-17.9zM1309.5 597.8h12.2v6.4h-12.2zM1326.8 597.8h6.4v6.4h-6.4zM991.4 603.6h17.9v6.4h-17.9zM1303.7 603.6h12.2v6.4h-12.2zM1332.6 603.6h6.4v6.4h-6.4z"/>
<path fill="#fe9b2d" d="M1309.5 516.9h23.7v6.4h-23.7zM1297.9 522.6h6.4v6.4h-6.4zM1338.4 522.6h6.4v6.4h-6.4zM1286.3 528.4h6.4v6.4h-6.4zM1350 528.4h6.4v6.4h-6.4zM1361.5 534.2h6.4v6.4h-6.4zM1269 540h6.4v6.4h-6.4zM1373.1 540h6.4v6.4h-6.4zM1384.6 551.5h6.4v6.4h-6.4zM1384.6 557.3h6.4v6.4h-6.4zM1269 563.1h6.4v6.4h-6.4zM1384.6 563.1h6.4v6.4h-6.4zM1274.8 568.9h6.4v6.4h-6.4zM1303.7 568.9h6.4v6.4h-6.4zM1286.3 574.7h12.2v6.4h-12.2zM1321 597.8h6.4v6.4h-6.4zM1315.3 603.6h6.4v6.4h-6.4z"/>
<path fill="#fcb336" d="M1286.3 522.6h6.4v6.4h-6.4zM1361.5 528.4h6.4v6.4h-6.4zM1269 534.2h6.4v6.4h-6.4zM1373.1 534.2h6.4v6.4h-6.4zM1263.2 540h6.4v6.4h-6.4zM1390.4 545.8h6.4v6.4h-6.4zM1390.4 563.1h6.4v6.4h-6.4zM1263.2 568.9h6.4v6.4h-6.4zM1321 568.9h12.2v6.4h-12.2zM1367.3 568.9h23.7v6.4h-23.7zM1269 574.7h6.4v6.4h-6.4zM1303.7 574.7h6.4v6.4h-6.4zM1274.8 580.5h23.7v6.4h-23.7zM997.2 586.2h17.9v6.4h-17.9zM991.4 592h6.4v6.4h-6.4zM1003 592h12.2v6.4h-12.2zM985.7 597.8h6.4v6.4h-6.4zM1008.8 597.8h6.4v6.4h-6.4zM1297.9 597.8h12.2v6.4h-12.2zM985.7 603.6h6.4v6.4h-6.4zM1008.8 603.6h6.4v6.4h-6.4zM1297.9 603.6h6.4v6.4h-6.4z"/>
<path fill="#fd8d27" d="M1303.7 522.6h6.4v6.4h-6.4zM1332.6 522.6h6.4v6.4h-6.4zM1292.1 528.4h6.4v6.4h-6.4zM1344.2 528.4h6.4v6.4h-6.4zM1280.6 534.2h6.4v6.4h-6.4zM1355.7 534.2h6.4v6.4h-6.4zM1274.8 540h6.4v6.4h-6.4zM1367.3 540h6.4v6.4h-6.4zM1269 545.8h6.4v6.4h-6.4zM1378.9 545.8h6.4v6.4h-6.4zM1269 551.5h6.4v6.4h-6.4zM1378.9 551.5h6.4v6.4h-6.4zM1269 557.3h6.4v6.4h-6.4zM1378.9 557.3h6.4v6.4h-6.4zM1274.8 563.1h6.4v6.4h-6.4zM1350 563.1h35.3v6.4h-35.3zM1280.6 568.9h6.4v6.4h-6.4zM1297.9 568.9h6.4v6.4h-6.4zM1321 603.6h12.2v6.4h-12.2z"/>
<path fill="#fb7e21" d="M1309.5 522.6h6.4v6.4h-6.4zM1326.8 522.6h6.4v6.4h-6.4zM1286.3 534.2h6.4v6.4h-6.4zM1350 534.2h6.4v6.4h-6.4zM1373.1 545.8h6.4v6.4h-6.4zM1373.1 551.5h6.4v6.4h-6.4zM1274.8 557.3h6.4v6.4h-6.4zM1367.3 557.3h12.2v6.4h-12.2zM1309.5 563.1h12.2v6.4h-12.2zM1338.4 563.1h12.2v6.4h-12.2zM1286.3 568.9h12.2v6.4h-12.2z"/>
<path fill="#f8721c" d="M1315.3 522.6h12.2v6.4h-12.2zM1297.9 528.4h6.4v6.4h-6.4zM1338.4 528.4h6.4v6.4h-6.4zM1292.1 534.2h6.4v6.4h-6.4zM1344.2 534.2h6.4v6.4h-6.4zM1280.6 540h6.4v6.4h-6.4zM1361.5 540h6.4v6.4h-6.4zM1274.8 545.8h6.4v6.4h-6.4zM1367.3 545.8h6.4v6.4h-6.4zM1274.8 551.5h6.4v6.4h-6.4zM1367.3 551.5h6.4v6.4h-6.4zM1280.6 557.3h6.4v6.4h-6.4zM1355.7 557.3h12.2v6.4h-12.2zM1280.6 563.1h6.4v6.4h-6.4zM1303.7 563.1h6.4v6.4h-6.4zM1321 563.1h6.4v6.4h-6.4zM1332.6 563.1h6.4v6.4h-6.4z"/>
<path fill="#f36315" d="M1303.7 528.4h6.4v6.4h-6.4zM1332.6 528.4h6.4v6.4h-6.4zM1286.3 540h6.4v6.4h-6.4zM1355.7 540h6.4v6.4h-6.4zM1280.6 545.8h6.4v6.4h-6.4zM1361.5 545.8h6.4v6.4h-6.4zM1280.6 551.5h6.4v6.4h-6.4zM1361.5 551.5h6.4v6.4h-6.4zM1350 557.3h6.4v6.4h-6.4zM1286.3 563.1h17.9v6.4h-17.9zM1326.8 563.1h6.4v6.4h-6.4z"/>
<path fill="#ed5510" d="M1309.5 528.4h23.7v6.4h-23.7zM1297.9 534.2h6.4v6.4h-6.4zM1338.4 534.2h6.4v6.4h-6.4zM1292.1 540h6.4v6.4h-6.4zM1344.2 540h12.2v6.4h-12.2zM1286.3 545.8h6.4v6.4h-6.4zM1355.7 545.8h6.4v6.4h-6.4zM1286.3 551.5h6.4v6.4h-6.4zM1350 551.5h12.2v6.4h-12.2zM1286.3 557.3h6.4v6.4h-6.4zM1297.9 557.3h23.7v6.4h-23.7zM1338.4 557.3h12.2v6.4h-12.2z"/>
<path fill="#e84b0c" d="M1303.7 534.2h6.4v6.4h-6.4zM1332.6 534.2h6.4v6.4h-6.4zM1297.9 540h6.4v6.4h-6.4zM1338.4 540h6.4v6.4h-6.4zM1350 545.8h6.4v6.4h-6.4zM1292.1 551.5h6.4v6.4h-6.4zM1344.2 551.5h6.4v6.4h-6.4zM1292.1 557.3h6.4v6.4h-6.4zM1321 557.3h17.9v6.4h-17.9z"/>
<path fill="#e14109" d="M1309.5 534.2h23.7v6.4h-23.7zM1303.7 540h6.4v6.4h-6.4zM1332.6 540h6.4v6.4h-6.4zM1292.1 545.8h12.2v6.4h-12.2zM1338.4 545.8h12.2v6.4h-12.2zM1297.9 551.5h23.7v6.4h-23.7zM1332.6 551.5h12.2v6.4h-12.2z"/>
<path fill="#d83706" d="M1309.5 540h23.7v6.4h-23.7zM1303.7 545.8h12.2v6.4h-12.2zM1332.6 545.8h6.4v6.4h-6.4zM1321 551.5h12.2v6.4h-12.2z"/>
<path fill="#ce2d04" d="M1315.3 545.8h17.9v6.4h-17.9z"/>
</g></g>
<path class="gl" d="M905 470.9H1532M905 540.3H1532M905 609.7H1532M1113.2 401.5V619M1321.3 401.5V619"/>
<g clip-path="url(#ca1)"><polygon points="1496.4,401.5 1496.4,402 1497.4,405.8 1500.5,409.3 1499.7,413.9 1501.5,418 1500.5,423.1 1498.4,426.1 1495.4,427.1 1495.9,430.2 1500.5,433.2 1505.6,435.2 1510.6,436.5 1515.7,436.3 1520.8,434.2 1523.3,432.2 1526.9,431.7 1528.9,429.7 1531.2,429.1 1540,429.1 1540,396.5 1496.4,396.5" fill="#fcfbe5" stroke="#111" stroke-width="1.3"/></g>
<g class="q" clip-path="url(#ca1)">
<path d="M905 401.5l0 -17.1"/>
<path d="M922.3 401.5l-0.3 -14.4"/>
<path d="M939.7 401.5l-0.5 -11.7"/>
<path d="M957 401.5l-0.8 -11.7"/>
<path d="M974.4 401.5l-1.1 -13"/>
<path d="M991.7 401.5l3.8 -15.2"/>
<path d="M1009.1 401.5l13.2 -14.4"/>
<path d="M1026.4 401.5l18.5 -6.3"/>
<path d="M1043.8 401.5l17.1 -0"/>
<path d="M1061.1 401.5l18.8 5.2"/>
<path d="M1078.5 401.5l18.2 12.3"/>
<path d="M1095.8 401.5l13.3 17.4"/>
<path d="M1113.2 401.5l7.3 18.1"/>
<path d="M1130.5 401.5l7.6 15.3"/>
<path d="M1147.9 401.5l7.4 12.3"/>
<path d="M1165.2 401.5l6.8 9.5"/>
<path d="M1182.6 401.5l6.1 7.2"/>
<path d="M1199.9 401.5l5.3 4.8"/>
<path d="M1217.3 401.5l5.8 4.1"/>
<path d="M1234.6 401.5l6.3 3.3"/>
<path d="M1252 401.5l6.7 2.4"/>
<path d="M1269.3 401.5l6.9 2"/>
<path d="M1286.6 401.5l7 1.5"/>
<path d="M1304 401.5l7.1 1.1"/>
<path d="M1321.3 401.5l7.1 0.6"/>
<path d="M1338.7 401.5l8 -2"/>
<path d="M1356 401.5l7.8 -7.1"/>
<path d="M1373.4 401.5l3.8 -11.1"/>
<path d="M1390.7 401.5l0 -11.7"/>
<path d="M1408.1 401.5l1.1 -13"/>
<path d="M1425.4 401.5l2.7 -15.4"/>
<path d="M1442.8 401.5l5.1 -18.8"/>
<path d="M1460.1 401.5l8.1 -22.3"/>
<path d="M1477.5 401.5l10.2 -24.7"/>
<path d="M1494.8 401.5l12.5 -26.8"/>
<path d="M1512.2 401.5l14.4 -27.6"/>
<path d="M1529.5 401.5l15.6 -26.9"/>
<path d="M905 418.8l2.7 -11.8"/>
<path d="M922.3 418.8l2.3 -10.5"/>
<path d="M939.7 418.8l2.1 -10.4"/>
<path d="M957 418.8l2.2 -11.5"/>
<path d="M974.4 418.8l2.2 -12.8"/>
<path d="M991.7 418.8l7.5 -15.1"/>
<path d="M1009.1 418.8l14.8 -14.4"/>
<path d="M1026.4 418.8l17.6 -8.4"/>
<path d="M1043.8 418.8l16.1 -3.1"/>
<path d="M1061.1 418.8l17.5 1.9"/>
<path d="M1078.5 418.8l18.4 9.5"/>
<path d="M1095.8 418.8l15.3 16.9"/>
<path d="M1113.2 418.8l9.6 19.3"/>
<path d="M1130.5 418.8l9.1 15.9"/>
<path d="M1147.9 418.8l8.3 12.6"/>
<path d="M1165.2 418.8l7.4 9.9"/>
<path d="M1182.6 418.8l5.7 6.8"/>
<path d="M1199.9 418.8l5.3 4.6"/>
<path d="M1217.3 418.8l5.9 3.7"/>
<path d="M1234.6 418.8l6.5 2.7"/>
<path d="M1252 418.8l6.8 1.7"/>
<path d="M1269.3 418.8l6.9 1.3"/>
<path d="M1286.6 418.8l6.9 0.8"/>
<path d="M1304 418.8l7 0.4"/>
<path d="M1321.3 418.8l7 0"/>
<path d="M1338.7 418.8l6.9 -1.7"/>
<path d="M1356 418.8l7.5 -4.7"/>
<path d="M1373.4 418.8l6 -8"/>
<path d="M1390.7 418.8l3.4 -10.6"/>
<path d="M1408.1 418.8l4.8 -12.1"/>
<path d="M1425.4 418.8l6.6 -14.2"/>
<path d="M1442.8 418.8l9.1 -17.2"/>
<path d="M1460.1 418.8l12.1 -20.4"/>
<path d="M1477.5 418.8l13.9 -23.8"/>
<path d="M1494.8 418.8l15.5 -27.1"/>
<path d="M1512.2 418.8l15.6 -27.9"/>
<path d="M1529.5 418.8l15 -27.3"/>
<path d="M905 436.2l4.4 -8.4"/>
<path d="M922.3 436.2l4.1 -7.9"/>
<path d="M939.7 436.2l4.1 -7.9"/>
<path d="M957 436.2l4.9 -9.4"/>
<path d="M974.4 436.2l6.3 -12.2"/>
<path d="M991.7 436.2l11.6 -14.8"/>
<path d="M1009.1 436.2l15 -13.3"/>
<path d="M1026.4 436.2l13.9 -8.5"/>
<path d="M1043.8 436.2l13.9 -5.8"/>
<path d="M1061.1 436.2l17.6 -1.2"/>
<path d="M1078.5 436.2l20.3 7.4"/>
<path d="M1095.8 436.2l18.1 16.6"/>
<path d="M1113.2 436.2l12.7 21.1"/>
<path d="M1130.5 436.2l11.9 18.1"/>
<path d="M1147.9 436.2l10.2 14.3"/>
<path d="M1165.2 436.2l9.2 11.9"/>
<path d="M1182.6 436.2l7.3 8.7"/>
<path d="M1199.9 436.2l6.4 5.3"/>
<path d="M1217.3 436.2l6.2 3.5"/>
<path d="M1234.6 436.2l6.7 2.2"/>
<path d="M1252 436.2l6.9 0.9"/>
<path d="M1269.3 436.2l7.1 0.5"/>
<path d="M1286.6 436.2l7.1 0.2"/>
<path d="M1304 436.2l7.7 -0.3"/>
<path d="M1321.3 436.2l8.3 -0.7"/>
<path d="M1338.7 436.2l8.6 -2"/>
<path d="M1356 436.2l9.9 -4.2"/>
<path d="M1373.4 436.2l10.4 -7.2"/>
<path d="M1390.7 436.2l9.3 -10.2"/>
<path d="M1408.1 436.2l11 -12"/>
<path d="M1425.4 436.2l12.7 -13.9"/>
<path d="M1442.8 436.2l14.6 -15.9"/>
<path d="M1460.1 436.2l17.1 -18.6"/>
<path d="M1477.5 436.2l18 -22.6"/>
<path d="M1494.8 436.2l19.2 -27.7"/>
<path d="M1512.2 436.2l18.3 -30.4"/>
<path d="M1529.5 436.2l16 -30.8"/>
<path d="M905 453.5l11.3 -12.5"/>
<path d="M922.3 453.5l10.2 -11"/>
<path d="M939.7 453.5l7.8 -8.2"/>
<path d="M957 453.5l8.3 -8.5"/>
<path d="M974.4 453.5l10.7 -10.6"/>
<path d="M991.7 453.5l12.5 -11.3"/>
<path d="M1009.1 453.5l13.1 -10.7"/>
<path d="M1026.4 453.5l12.1 -9"/>
<path d="M1043.8 453.5l12.4 -8.5"/>
<path d="M1061.1 453.5l18.2 -4.9"/>
<path d="M1078.5 453.5l23.9 4.9"/>
<path d="M1095.8 453.5l22 16.6"/>
<path d="M1113.2 453.5l16.4 23"/>
<path d="M1130.5 453.5l16.4 22"/>
<path d="M1147.9 453.5l15 19.4"/>
<path d="M1165.2 453.5l13.5 16.7"/>
<path d="M1182.6 453.5l12 14.3"/>
<path d="M1199.9 453.5l13.2 10.5"/>
<path d="M1217.3 453.5l14.6 7.1"/>
<path d="M1234.6 453.5l15.3 3.5"/>
<path d="M1252 453.5l16.3 0.3"/>
<path d="M1269.3 453.5l16.8 -0.5"/>
<path d="M1286.6 453.5l16.8 -1.3"/>
<path d="M1304 453.5l16.7 -2.1"/>
<path d="M1321.3 453.5l17.5 -3.1"/>
<path d="M1338.7 453.5l18.2 -4.1"/>
<path d="M1356 453.5l18.8 -5.3"/>
<path d="M1373.4 453.5l19.3 -6.7"/>
<path d="M1390.7 453.5l19.2 -8.1"/>
<path d="M1408.1 453.5l20.1 -10"/>
<path d="M1425.4 453.5l21.1 -12.1"/>
<path d="M1442.8 453.5l21.7 -14.1"/>
<path d="M1460.1 453.5l22.9 -16.5"/>
<path d="M1477.5 453.5l22.8 -21.3"/>
<path d="M1494.8 453.5l23.6 -28.3"/>
<path d="M1512.2 453.5l22.5 -34.8"/>
<path d="M1529.5 453.5l18.6 -37.7"/>
<path d="M905 470.9l19.4 -13.6"/>
<path d="M922.3 470.9l19.2 -12.9"/>
<path d="M939.7 470.9l18.5 -11.8"/>
<path d="M957 470.9l19.5 -11.8"/>
<path d="M974.4 470.9l20.3 -11.7"/>
<path d="M991.7 470.9l18.9 -12.6"/>
<path d="M1009.1 470.9l17.4 -13.4"/>
<path d="M1026.4 470.9l13.9 -12.2"/>
<path d="M1043.8 470.9l10.1 -10.1"/>
<path d="M1061.1 470.9l14.6 -7.2"/>
<path d="M1078.5 470.9l22.2 1"/>
<path d="M1095.8 470.9l22.4 13.5"/>
<path d="M1113.2 470.9l17.3 20.7"/>
<path d="M1130.5 470.9l18.5 22.1"/>
<path d="M1147.9 470.9l20 23.9"/>
<path d="M1165.2 470.9l17.9 21.4"/>
<path d="M1182.6 470.9l14.2 16.9"/>
<path d="M1199.9 470.9l14.5 11"/>
<path d="M1217.3 470.9l14.5 6"/>
<path d="M1234.6 470.9l15.5 2.2"/>
<path d="M1252 470.9l17.4 -1.5"/>
<path d="M1269.3 470.9l18.6 -2.5"/>
<path d="M1286.6 470.9l20.4 -3.6"/>
<path d="M1304 470.9l22.3 -4.9"/>
<path d="M1321.3 470.9l24.4 -6.5"/>
<path d="M1338.7 470.9l26.9 -6"/>
<path d="M1356 470.9l27.4 -4.8"/>
<path d="M1373.4 470.9l27.2 -3.6"/>
<path d="M1390.7 470.9l27.8 -2.4"/>
<path d="M1408.1 470.9l27.1 -4.8"/>
<path d="M1425.4 470.9l26.5 -7.1"/>
<path d="M1442.8 470.9l25.8 -9.4"/>
<path d="M1460.1 470.9l24.2 -11.3"/>
<path d="M1477.5 470.9l24.4 -16.9"/>
<path d="M1494.8 470.9l26.9 -26.9"/>
<path d="M1512.2 470.9l25.8 -37.2"/>
<path d="M1529.5 470.9l19.9 -42.8"/>
<path d="M905 488.2l23.3 -10.5"/>
<path d="M922.3 488.2l24.2 -11.5"/>
<path d="M939.7 488.2l26.5 -13.2"/>
<path d="M957 488.2l28.3 -14.8"/>
<path d="M974.4 488.2l29.6 -16.2"/>
<path d="M991.7 488.2l29.1 -17.1"/>
<path d="M1009.1 488.2l25.8 -16.3"/>
<path d="M1026.4 488.2l19.9 -13.5"/>
<path d="M1043.8 488.2l14.9 -10.8"/>
<path d="M1061.1 488.2l15.5 -5"/>
<path d="M1078.5 488.2l16.2 1.6"/>
<path d="M1095.8 488.2l14.7 8"/>
<path d="M1113.2 488.2l11.7 11.9"/>
<path d="M1130.5 488.2l13.5 13.5"/>
<path d="M1147.9 488.2l15.8 15.6"/>
<path d="M1165.2 488.2l14.9 14.5"/>
<path d="M1182.6 488.2l11.1 10.6"/>
<path d="M1199.9 488.2l10.2 6.2"/>
<path d="M1217.3 488.2l11.4 3.6"/>
<path d="M1234.6 488.2l14.4 0.9"/>
<path d="M1252 488.2l18.1 -2.8"/>
<path d="M1269.3 488.2l20.9 -3.7"/>
<path d="M1286.6 488.2l24.1 -4.8"/>
<path d="M1304 488.2l27.6 -6.1"/>
<path d="M1321.3 488.2l28.9 -7.1"/>
<path d="M1338.7 488.2l30.6 -5.8"/>
<path d="M1356 488.2l33.4 -4.4"/>
<path d="M1373.4 488.2l34.6 -2.7"/>
<path d="M1390.7 488.2l33.7 -0.7"/>
<path d="M1408.1 488.2l31.1 -1.7"/>
<path d="M1425.4 488.2l28.1 -2.5"/>
<path d="M1442.8 488.2l25.5 -3.2"/>
<path d="M1460.1 488.2l21.8 -3.6"/>
<path d="M1477.5 488.2l20.9 -6.3"/>
<path d="M1494.8 488.2l27.7 -13.2"/>
<path d="M1512.2 488.2l32.9 -23.2"/>
<path d="M1529.5 488.2l30.4 -30.9"/>
<path d="M905 505.6l27.6 -6.1"/>
<path d="M922.3 505.6l27.8 -8.2"/>
<path d="M939.7 505.6l27.1 -10"/>
<path d="M957 505.6l26.6 -11.8"/>
<path d="M974.4 505.6l28.7 -14.9"/>
<path d="M991.7 505.6l31.6 -16.3"/>
<path d="M1009.1 505.6l30.8 -15.7"/>
<path d="M1026.4 505.6l28.9 -14.6"/>
<path d="M1043.8 505.6l26.1 -13"/>
<path d="M1061.1 505.6l22.8 -4.3"/>
<path d="M1078.5 505.6l18.6 2.6"/>
<path d="M1095.8 505.6l15 7.4"/>
<path d="M1113.2 505.6l11.4 9.9"/>
<path d="M1130.5 505.6l10.5 8.8"/>
<path d="M1147.9 505.6l10.1 8.2"/>
<path d="M1165.2 505.6l10.7 8.5"/>
<path d="M1182.6 505.6l10.5 8.1"/>
<path d="M1199.9 505.6l13.1 6.2"/>
<path d="M1217.3 505.6l18.6 4.1"/>
<path d="M1234.6 505.6l23.9 -0.3"/>
<path d="M1252 505.6l28.5 -6.3"/>
<path d="M1269.3 505.6l32.4 -7.2"/>
<path d="M1286.6 505.6l35 -7.8"/>
<path d="M1304 505.6l38.4 -8.5"/>
<path d="M1321.3 505.6l39.6 -8.8"/>
<path d="M1338.7 505.6l38.9 -6"/>
<path d="M1356 505.6l38.4 -3.4"/>
<path d="M1373.4 505.6l38.2 -0.8"/>
<path d="M1390.7 505.6l35.5 1.5"/>
<path d="M1408.1 505.6l31.9 2.3"/>
<path d="M1425.4 505.6l28.2 2.9"/>
<path d="M1442.8 505.6l24.8 3.4"/>
<path d="M1460.1 505.6l21.7 3.8"/>
<path d="M1477.5 505.6l17.5 1.9"/>
<path d="M1494.8 505.6l19.9 0.6"/>
<path d="M1512.2 505.6l27.5 -1.7"/>
<path d="M1529.5 505.6l30.5 -5.4"/>
<path d="M905 522.9l32.8 -0.5"/>
<path d="M922.3 522.9l30.3 -3.9"/>
<path d="M939.7 522.9l25.2 -6.2"/>
<path d="M957 522.9l23.1 -8.5"/>
<path d="M974.4 522.9l24.7 -12.2"/>
<path d="M991.7 522.9l29.4 -13.1"/>
<path d="M1009.1 522.9l30.6 -12.2"/>
<path d="M1026.4 522.9l32.8 -11.5"/>
<path d="M1043.8 522.9l35.5 -10.8"/>
<path d="M1061.1 522.9l33.8 -2.4"/>
<path d="M1078.5 522.9l30.9 5.5"/>
<path d="M1095.8 522.9l26.2 11.8"/>
<path d="M1113.2 522.9l19.2 14.2"/>
<path d="M1130.5 522.9l16.8 11.9"/>
<path d="M1147.9 522.9l16.2 10.8"/>
<path d="M1165.2 522.9l16.2 10.3"/>
<path d="M1182.6 522.9l16.7 10.1"/>
<path d="M1199.9 522.9l19.9 7.1"/>
<path d="M1217.3 522.9l24.6 3.2"/>
<path d="M1234.6 522.9l30.6 -2.7"/>
<path d="M1252 522.9l36.2 -10.6"/>
<path d="M1269.3 522.9l41.3 -11.1"/>
<path d="M1286.6 522.9l45.2 -11.1"/>
<path d="M1304 522.9l49.8 -11"/>
<path d="M1321.3 522.9l52.5 -10.4"/>
<path d="M1338.7 522.9l50.6 -6.1"/>
<path d="M1356 522.9l45.9 -2"/>
<path d="M1373.4 522.9l42.1 1.4"/>
<path d="M1390.7 522.9l37.5 4.1"/>
<path d="M1408.1 522.9l32.2 6.5"/>
<path d="M1425.4 522.9l27.7 8.5"/>
<path d="M1442.8 522.9l24.1 10.2"/>
<path d="M1460.1 522.9l21.5 12"/>
<path d="M1477.5 522.9l18.4 10"/>
<path d="M1494.8 522.9l15.6 8.2"/>
<path d="M1512.2 522.9l15.6 7.8"/>
<path d="M1529.5 522.9l16 7.6"/>
<path d="M905 540.3l35.8 6.3"/>
<path d="M922.3 540.3l33.1 0.8"/>
<path d="M939.7 540.3l28 -3.7"/>
<path d="M957 540.3l26.3 -7.8"/>
<path d="M974.4 540.3l27 -12.6"/>
<path d="M991.7 540.3l30.8 -11.7"/>
<path d="M1009.1 540.3l31.6 -9.4"/>
<path d="M1026.4 540.3l32.2 -7"/>
<path d="M1043.8 540.3l36.7 -5.2"/>
<path d="M1061.1 540.3l39.5 1.2"/>
<path d="M1078.5 540.3l39.3 8.4"/>
<path d="M1095.8 540.3l35.5 14.6"/>
<path d="M1113.2 540.3l28.8 18"/>
<path d="M1130.5 540.3l26 15.2"/>
<path d="M1147.9 540.3l23.8 12.9"/>
<path d="M1165.2 540.3l22.1 11.2"/>
<path d="M1182.6 540.3l20.7 9.6"/>
<path d="M1199.9 540.3l22.6 5.7"/>
<path d="M1217.3 540.3l27.1 1.2"/>
<path d="M1234.6 540.3l34.1 -5.5"/>
<path d="M1252 540.3l40.1 -14.6"/>
<path d="M1269.3 540.3l46.8 -14.8"/>
<path d="M1286.6 540.3l53 -14.2"/>
<path d="M1304 540.3l57.9 -12.8"/>
<path d="M1321.3 540.3l60.3 -10.6"/>
<path d="M1338.7 540.3l59.1 -5.2"/>
<path d="M1356 540.3l55.5 -0"/>
<path d="M1373.4 540.3l50.8 4.5"/>
<path d="M1390.7 540.3l45.2 8"/>
<path d="M1408.1 540.3l37.6 12.6"/>
<path d="M1425.4 540.3l30.6 16"/>
<path d="M1442.8 540.3l26.1 19.3"/>
<path d="M1460.1 540.3l21.3 21.3"/>
<path d="M1477.5 540.3l18.8 18.8"/>
<path d="M1494.8 540.3l16 16"/>
<path d="M1512.2 540.3l13.2 13.2"/>
<path d="M1529.5 540.3l11.9 11.9"/>
<path d="M905 557.6l31.9 -0"/>
<path d="M922.3 557.6l31.4 -3.2"/>
<path d="M939.7 557.6l30.5 -6.4"/>
<path d="M957 557.6l31.3 -10"/>
<path d="M974.4 557.6l33.1 -14.4"/>
<path d="M991.7 557.6l37.4 -11.8"/>
<path d="M1009.1 557.6l38.4 -7.7"/>
<path d="M1026.4 557.6l36 -3.2"/>
<path d="M1043.8 557.6l36.5 0.6"/>
<path d="M1061.1 557.6l38.2 7.2"/>
<path d="M1078.5 557.6l38.1 14.6"/>
<path d="M1095.8 557.6l35.9 21.9"/>
<path d="M1113.2 557.6l30.3 26.3"/>
<path d="M1130.5 557.6l28.4 22.9"/>
<path d="M1147.9 557.6l25.7 19.2"/>
<path d="M1165.2 557.6l22.7 15.6"/>
<path d="M1182.6 557.6l20 12.7"/>
<path d="M1199.9 557.6l22.1 7.1"/>
<path d="M1217.3 557.6l27.9 0.1"/>
<path d="M1234.6 557.6l34.3 -10.8"/>
<path d="M1252 557.6l37.6 -24"/>
<path d="M1269.3 557.6l41.7 -30.4"/>
<path d="M1286.6 557.6l43.8 -37"/>
<path d="M1304 557.6l42.1 -41.8"/>
<path d="M1321.3 557.6l38.5 -45.9"/>
<path d="M1338.7 557.6l52.2 -29.4"/>
<path d="M1356 557.6l57.1 -5.1"/>
<path d="M1373.4 557.6l52.8 14.8"/>
<path d="M1390.7 557.6l44.2 25.5"/>
<path d="M1408.1 557.6l36.7 26.5"/>
<path d="M1425.4 557.6l31 27.5"/>
<path d="M1442.8 557.6l27.7 29.9"/>
<path d="M1460.1 557.6l23 29.9"/>
<path d="M1477.5 557.6l19.8 25.3"/>
<path d="M1494.8 557.6l17.4 21.6"/>
<path d="M1512.2 557.6l15.7 19.2"/>
<path d="M1529.5 557.6l15.2 18.2"/>
<path d="M905 575l23.4 -4.1"/>
<path d="M922.3 575l24.6 -5.7"/>
<path d="M939.7 575l27.8 -8"/>
<path d="M957 575l33.4 -11.5"/>
<path d="M974.4 575l38.4 -15.5"/>
<path d="M991.7 575l43.3 -10.9"/>
<path d="M1009.1 575l45 -4.7"/>
<path d="M1026.4 575l43.3 1.6"/>
<path d="M1043.8 575l40.8 7.2"/>
<path d="M1061.1 575l35.5 12.7"/>
<path d="M1078.5 575l30.6 17.7"/>
<path d="M1095.8 575l29.3 24.8"/>
<path d="M1113.2 575l24.8 29.5"/>
<path d="M1130.5 575l25.2 27.5"/>
<path d="M1147.9 575l24.5 24.5"/>
<path d="M1165.2 575l20.2 18.5"/>
<path d="M1182.6 575l16.6 13.9"/>
<path d="M1199.9 575l19.6 8"/>
<path d="M1217.3 575l26.9 -1.2"/>
<path d="M1234.6 575l32 -16.4"/>
<path d="M1252 575l31.1 -31.1"/>
<path d="M1269.3 575l27.6 -40.6"/>
<path d="M1286.6 575l20 -48.3"/>
<path d="M1304 575l9.6 -50.1"/>
<path d="M1321.3 575l0 -46.7"/>
<path d="M1338.7 575l11.4 -39.8"/>
<path d="M1356 575l39.4 -14.3"/>
<path d="M1373.4 575l39.1 26.3"/>
<path d="M1390.7 575l30.3 36.1"/>
<path d="M1408.1 575l27.2 35.4"/>
<path d="M1425.4 575l25.2 36"/>
<path d="M1442.8 575l24.3 38.2"/>
<path d="M1460.1 575l21.7 37.5"/>
<path d="M1477.5 575l19.6 32.3"/>
<path d="M1494.8 575l17.3 27.1"/>
<path d="M1512.2 575l16.1 24.1"/>
<path d="M1529.5 575l16.2 23.2"/>
<path d="M905 592.3l18.3 -6.7"/>
<path d="M922.3 592.3l20.7 -7.6"/>
<path d="M939.7 592.3l27.8 -10.4"/>
<path d="M957 592.3l35.9 -13.6"/>
<path d="M974.4 592.3l41.7 -16"/>
<path d="M991.7 592.3l47.5 -9.4"/>
<path d="M1009.1 592.3l49.1 -0.6"/>
<path d="M1026.4 592.3l42.8 7.5"/>
<path d="M1043.8 592.3l32.3 11.8"/>
<path d="M1061.1 592.3l23.1 12.9"/>
<path d="M1078.5 592.3l18.2 14.7"/>
<path d="M1095.8 592.3l18 20.3"/>
<path d="M1113.2 592.3l18.2 28.5"/>
<path d="M1130.5 592.3l22.1 30.8"/>
<path d="M1147.9 592.3l20.8 25.9"/>
<path d="M1165.2 592.3l15.5 17.3"/>
<path d="M1182.6 592.3l11.5 11.5"/>
<path d="M1199.9 592.3l15.2 7.4"/>
<path d="M1217.3 592.3l24.4 -2.4"/>
<path d="M1234.6 592.3l27.3 -21.2"/>
<path d="M1252 592.3l22.6 -35.5"/>
<path d="M1269.3 592.3l17.3 -42.5"/>
<path d="M1286.6 592.3l9.2 -46.9"/>
<path d="M1304 592.3l0.1 -47.8"/>
<path d="M1321.3 592.3l-7.8 -44.1"/>
<path d="M1338.7 592.3l1.7 -36.9"/>
<path d="M1356 592.3l32.3 -13.1"/>
<path d="M1373.4 592.3l30.1 25.6"/>
<path d="M1390.7 592.3l24.8 32.4"/>
<path d="M1408.1 592.3l23.4 35"/>
<path d="M1425.4 592.3l22 38.1"/>
<path d="M1442.8 592.3l20.3 41.2"/>
<path d="M1460.1 592.3l17.3 41.8"/>
<path d="M1477.5 592.3l16.8 37.2"/>
<path d="M1494.8 592.3l15.7 31.8"/>
<path d="M1512.2 592.3l15.1 28.2"/>
<path d="M1529.5 592.3l15.6 26.9"/>
<path d="M905 609.7l14.8 -8.5"/>
<path d="M922.3 609.7l18.1 -9.4"/>
<path d="M939.7 609.7l28.1 -13.1"/>
<path d="M957 609.7l37.7 -15.6"/>
<path d="M974.4 609.7l43.1 -15.7"/>
<path d="M991.7 609.7l49.2 -7"/>
<path d="M1009.1 609.7l49.5 4.3"/>
<path d="M1026.4 609.7l37.8 12.4"/>
<path d="M1043.8 609.7l20.9 12"/>
<path d="M1061.1 609.7l12.3 9.8"/>
<path d="M1078.5 609.7l10.6 11.6"/>
<path d="M1095.8 609.7l10.8 16.3"/>
<path d="M1113.2 609.7l13.3 28.4"/>
<path d="M1130.5 609.7l19 34.7"/>
<path d="M1147.9 609.7l17.1 26.9"/>
<path d="M1165.2 609.7l11.8 16"/>
<path d="M1182.6 609.7l8.4 10"/>
<path d="M1199.9 609.7l12.4 7.4"/>
<path d="M1217.3 609.7l22.2 -3.9"/>
<path d="M1234.6 609.7l20.9 -25.7"/>
<path d="M1252 609.7l14 -38.3"/>
<path d="M1269.3 609.7l8 -43.9"/>
<path d="M1286.6 609.7l0 -47.2"/>
<path d="M1304 609.7l-8.9 -48.9"/>
<path d="M1321.3 609.7l-17.9 -49.1"/>
<path d="M1338.7 609.7l-10.7 -47.3"/>
<path d="M1356 609.7l36.2 -18.8"/>
<path d="M1373.4 609.7l25.7 28.3"/>
<path d="M1390.7 609.7l21.9 31.3"/>
<path d="M1408.1 609.7l20.4 35.3"/>
<path d="M1425.4 609.7l18.3 39.3"/>
<path d="M1442.8 609.7l15.2 41.9"/>
<path d="M1460.1 609.7l11.5 43.1"/>
<path d="M1477.5 609.7l12.3 38.9"/>
<path d="M1494.8 609.7l12.4 34.1"/>
<path d="M1512.2 609.7l12.5 30.3"/>
<path d="M1529.5 609.7l13.1 28.2"/>
</g>
<ellipse cx="920.6" cy="438.1" rx="7" ry="1.8" fill="#fff"/>
<ellipse cx="948.2" cy="449.5" rx="1.8" ry="1.8" fill="#fff"/>
<ellipse cx="1281.2" cy="422.5" rx="6" ry="1.6" fill="#fff"/>
<ellipse cx="1294" cy="416.2" rx="3" ry="1.3" fill="#fff"/>
<ellipse cx="1261.4" cy="428.9" rx="2" ry="1.5" fill="#fff"/>
<ellipse cx="1240.1" cy="479.9" rx="2" ry="1.5" fill="#fff"/>
<path d="M1172.5 535.8l3 -4l4 2l5 1l-2 4l-6 0z" fill="#111"/>
<circle cx="1259.8" cy="561.2" r="11.3" fill="#000"/>
<rect class="sp" x="905" y="401.5" width="627" height="217.5"/>
<text class="tm" x="892.2" y="411.3" text-anchor="end">30°S</text>
<text class="tm" x="892.2" y="480.7" text-anchor="end">40°S</text>
<text class="tm" x="892.2" y="550.1" text-anchor="end">50°S</text>
<text class="tm" x="892.2" y="619.5" text-anchor="end">60°S</text>
<text class="tm" x="905" y="656.1" text-anchor="middle">30°E</text>
<text class="tm" x="1113" y="656.1" text-anchor="middle">60°E</text>
<text class="tm" x="1321.5" y="656.1" text-anchor="middle">90°E</text>
<text class="tm" x="1531.5" y="656.1" text-anchor="middle">120°E</text>
<g clip-path="url(#cd2)"><g filter="url(#bl)">
<rect x="885" y="739" width="664.5" height="248.2" fill="#3fd6a8"/>
<path fill="#458cfd" d="M904.7 758.7h6.4v6.4h-6.4zM904.7 764.5h6.4v6.4h-6.4zM1066.6 781.8h6.4v6.4h-6.4zM1101.3 781.8h6.4v6.4h-6.4zM1055 787.6h6.4v6.4h-6.4zM1112.9 787.6h6.4v6.4h-6.4zM1049.3 793.4h6.4v6.4h-6.4zM1049.3 799.2h6.4v6.4h-6.4zM1118.7 799.2h6.4v6.4h-6.4zM1118.7 805h6.4v6.4h-6.4zM1118.7 810.7h6.4v6.4h-6.4zM1060.8 816.5h6.4v6.4h-6.4zM1112.9 816.5h6.4v6.4h-6.4zM1101.3 822.3h6.4v6.4h-6.4zM1118.7 862.8h12.2v6.4h-12.2zM1130.2 868.6h6.4v6.4h-6.4zM1136 874.4h6.4v6.4h-6.4zM1118.7 880.1h6.4v6.4h-6.4zM1130.2 880.1h12.2v6.4h-12.2zM1361.5 880.1h6.4v6.4h-6.4zM1118.7 885.9h23.7v6.4h-23.7zM1130.2 891.7h12.2v6.4h-12.2zM1355.7 891.7h6.4v6.4h-6.4zM1396.2 891.7h6.4v6.4h-6.4zM1136 897.5h6.4v6.4h-6.4zM1361.5 897.5h17.9v6.4h-17.9zM1390.4 897.5h17.9v6.4h-17.9zM1136 903.3h12.2v6.4h-12.2zM1396.2 903.3h12.2v6.4h-12.2zM1465.6 903.3h6.4v6.4h-6.4zM1136 909h17.9v6.4h-17.9zM1407.8 909h6.4v6.4h-6.4zM1471.4 909h12.2v6.4h-12.2zM1147.6 914.8h6.4v6.4h-6.4zM1465.6 914.8h6.4v6.4h-6.4zM1153.3 920.6h6.4v6.4h-6.4zM1413.6 920.6h6.4v6.4h-6.4zM1459.8 920.6h6.4v6.4h-6.4zM1153.3 926.4h6.4v6.4h-6.4zM1419.3 926.4h6.4v6.4h-6.4zM1459.8 926.4h6.4v6.4h-6.4zM1425.1 932.2h6.4v6.4h-6.4zM1436.7 938h6.4v6.4h-6.4zM1454 938h6.4v6.4h-6.4zM1130.2 943.7h6.4v6.4h-6.4zM1159.1 943.7h6.4v6.4h-6.4zM1130.2 949.5h6.4v6.4h-6.4zM1159.1 949.5h6.4v6.4h-6.4zM1159.1 955.3h6.4v6.4h-6.4zM1159.1 961.1h6.4v6.4h-6.4z"/>
<path fill="#4196ff" d="M910.5 758.7h6.4v6.4h-6.4zM910.5 764.5h6.4v6.4h-6.4zM904.7 770.3h12.2v6.4h-12.2zM904.7 776h6.4v6.4h-6.4zM1072.4 776h29.5v6.4h-29.5zM1055 781.8h12.2v6.4h-12.2zM1107.1 781.8h12.2v6.4h-12.2zM1049.3 787.6h6.4v6.4h-6.4zM1118.7 787.6h6.4v6.4h-6.4zM1118.7 793.4h6.4v6.4h-6.4zM1049.3 805h6.4v6.4h-6.4zM1055 810.7h6.4v6.4h-6.4zM1118.7 816.5h6.4v6.4h-6.4zM1066.6 822.3h6.4v6.4h-6.4zM1107.1 822.3h6.4v6.4h-6.4zM1078.2 828.1h17.9v6.4h-17.9zM1130.2 862.8h6.4v6.4h-6.4zM1136 868.6h6.4v6.4h-6.4zM1373.1 874.4h12.2v6.4h-12.2zM1355.7 880.1h6.4v6.4h-6.4zM1390.4 880.1h6.4v6.4h-6.4zM1350 885.9h6.4v6.4h-6.4zM1396.2 885.9h6.4v6.4h-6.4zM1124.4 891.7h6.4v6.4h-6.4zM1141.8 891.7h6.4v6.4h-6.4zM1402 891.7h6.4v6.4h-6.4zM1130.2 897.5h6.4v6.4h-6.4zM1141.8 897.5h6.4v6.4h-6.4zM1355.7 897.5h6.4v6.4h-6.4zM1407.8 897.5h12.2v6.4h-12.2zM1130.2 903.3h6.4v6.4h-6.4zM1147.6 903.3h6.4v6.4h-6.4zM1384.6 903.3h12.2v6.4h-12.2zM1471.4 903.3h12.2v6.4h-12.2zM1130.2 909h6.4v6.4h-6.4zM1402 909h6.4v6.4h-6.4zM1483 909h12.2v6.4h-12.2zM1130.2 914.8h6.4v6.4h-6.4zM1153.3 914.8h6.4v6.4h-6.4zM1407.8 914.8h6.4v6.4h-6.4zM1471.4 914.8h23.7v6.4h-23.7zM1130.2 920.6h6.4v6.4h-6.4zM1465.6 920.6h6.4v6.4h-6.4zM1130.2 926.4h6.4v6.4h-6.4zM1130.2 932.2h6.4v6.4h-6.4zM1159.1 932.2h6.4v6.4h-6.4zM1459.8 932.2h6.4v6.4h-6.4zM1130.2 938h6.4v6.4h-6.4zM1159.1 938h6.4v6.4h-6.4zM1430.9 938h6.4v6.4h-6.4zM1459.8 938h6.4v6.4h-6.4zM1095.5 949.5h12.2v6.4h-12.2zM1089.7 955.3h17.9v6.4h-17.9zM1089.7 961.1h17.9v6.4h-17.9z"/>
<path fill="#28bceb" d="M916.3 758.7h6.4v6.4h-6.4zM916.3 764.5h6.4v6.4h-6.4zM916.3 770.3h6.4v6.4h-6.4zM1037.7 770.3h35.3v6.4h-35.3zM1101.3 770.3h23.7v6.4h-23.7zM1026.1 776h6.4v6.4h-6.4zM1124.4 776h6.4v6.4h-6.4zM1026.1 781.8h6.4v6.4h-6.4zM1130.2 781.8h6.4v6.4h-6.4zM916.3 787.6h6.4v6.4h-6.4zM1026.1 787.6h6.4v6.4h-6.4zM1130.2 787.6h6.4v6.4h-6.4zM916.3 793.4h6.4v6.4h-6.4zM1031.9 793.4h6.4v6.4h-6.4zM1130.2 793.4h6.4v6.4h-6.4zM916.3 799.2h6.4v6.4h-6.4zM1037.7 799.2h6.4v6.4h-6.4zM1130.2 799.2h6.4v6.4h-6.4zM910.5 805h6.4v6.4h-6.4zM1130.2 805h6.4v6.4h-6.4zM904.7 810.7h6.4v6.4h-6.4zM1043.5 810.7h6.4v6.4h-6.4zM1130.2 810.7h6.4v6.4h-6.4zM1049.3 816.5h6.4v6.4h-6.4zM1055 822.3h6.4v6.4h-6.4zM1060.8 828.1h6.4v6.4h-6.4zM1107.1 828.1h6.4v6.4h-6.4zM1078.2 833.9h17.9v6.4h-17.9zM1130.2 851.2h6.4v6.4h-6.4zM1112.9 857h6.4v6.4h-6.4zM1136 857h6.4v6.4h-6.4zM927.8 862.8h12.2v6.4h-12.2zM1141.8 862.8h6.4v6.4h-6.4zM922 868.6h6.4v6.4h-6.4zM1147.6 868.6h6.4v6.4h-6.4zM922 874.4h6.4v6.4h-6.4zM939.4 874.4h6.4v6.4h-6.4zM1107.1 874.4h6.4v6.4h-6.4zM1147.6 874.4h6.4v6.4h-6.4zM1355.7 874.4h6.4v6.4h-6.4zM1390.4 874.4h6.4v6.4h-6.4zM922 880.1h6.4v6.4h-6.4zM939.4 880.1h6.4v6.4h-6.4zM1107.1 880.1h6.4v6.4h-6.4zM1147.6 880.1h6.4v6.4h-6.4zM922 885.9h6.4v6.4h-6.4zM939.4 885.9h12.2v6.4h-12.2zM1107.1 885.9h6.4v6.4h-6.4zM1344.2 885.9h6.4v6.4h-6.4zM927.8 891.7h17.9v6.4h-17.9zM1101.3 891.7h12.2v6.4h-12.2zM1153.3 891.7h6.4v6.4h-6.4zM1344.2 891.7h6.4v6.4h-6.4zM1095.5 897.5h6.4v6.4h-6.4zM1454 897.5h12.2v6.4h-12.2zM1112.9 903.3h12.2v6.4h-12.2zM1159.1 903.3h6.4v6.4h-6.4zM1500.3 903.3h12.2v6.4h-12.2zM1089.7 909h6.4v6.4h-6.4zM1112.9 909h6.4v6.4h-6.4zM1361.5 909h23.7v6.4h-23.7zM1511.9 909h17.9v6.4h-17.9zM1089.7 914.8h6.4v6.4h-6.4zM1112.9 914.8h6.4v6.4h-6.4zM1396.2 914.8h6.4v6.4h-6.4zM1089.7 920.6h6.4v6.4h-6.4zM1112.9 920.6h6.4v6.4h-6.4zM1402 920.6h6.4v6.4h-6.4zM1089.7 926.4h6.4v6.4h-6.4zM1164.9 926.4h6.4v6.4h-6.4zM1407.8 926.4h6.4v6.4h-6.4zM1089.7 932.2h6.4v6.4h-6.4zM1107.1 932.2h6.4v6.4h-6.4zM1124.4 932.2h6.4v6.4h-6.4zM1164.9 932.2h6.4v6.4h-6.4zM1413.6 932.2h6.4v6.4h-6.4zM1477.2 932.2h52.6v6.4h-52.6zM1089.7 938h6.4v6.4h-6.4zM1107.1 938h6.4v6.4h-6.4zM1124.4 938h6.4v6.4h-6.4zM1419.3 938h6.4v6.4h-6.4zM1471.4 938h6.4v6.4h-6.4zM1084 943.7h6.4v6.4h-6.4zM1124.4 943.7h6.4v6.4h-6.4zM1430.9 943.7h6.4v6.4h-6.4zM1459.8 943.7h6.4v6.4h-6.4zM1124.4 949.5h6.4v6.4h-6.4zM1078.2 955.3h6.4v6.4h-6.4zM1124.4 955.3h6.4v6.4h-6.4zM1078.2 961.1h6.4v6.4h-6.4zM1124.4 961.1h6.4v6.4h-6.4z"/>
<path fill="#18e0bd" d="M922 758.7h6.4v6.4h-6.4zM991.4 758.7h17.9v6.4h-17.9zM1147.6 758.7h17.9v6.4h-17.9zM922 764.5h6.4v6.4h-6.4zM997.2 764.5h12.2v6.4h-12.2zM1147.6 764.5h12.2v6.4h-12.2zM922 770.3h6.4v6.4h-6.4zM997.2 770.3h12.2v6.4h-12.2zM1147.6 770.3h12.2v6.4h-12.2zM922 776h6.4v6.4h-6.4zM997.2 776h12.2v6.4h-12.2zM1147.6 776h12.2v6.4h-12.2zM922 781.8h6.4v6.4h-6.4zM1003 781.8h6.4v6.4h-6.4zM1147.6 781.8h12.2v6.4h-12.2zM1003 787.6h6.4v6.4h-6.4zM1147.6 787.6h6.4v6.4h-6.4zM927.8 793.4h6.4v6.4h-6.4zM1008.8 793.4h6.4v6.4h-6.4zM1147.6 793.4h6.4v6.4h-6.4zM927.8 799.2h6.4v6.4h-6.4zM1014.6 799.2h6.4v6.4h-6.4zM1147.6 799.2h6.4v6.4h-6.4zM927.8 805h6.4v6.4h-6.4zM1020.4 805h6.4v6.4h-6.4zM927.8 810.7h6.4v6.4h-6.4zM1026.1 810.7h6.4v6.4h-6.4zM1141.8 810.7h6.4v6.4h-6.4zM927.8 816.5h6.4v6.4h-6.4zM1031.9 816.5h6.4v6.4h-6.4zM922 822.3h6.4v6.4h-6.4zM1037.7 822.3h6.4v6.4h-6.4zM1136 822.3h6.4v6.4h-6.4zM904.7 828.1h23.7v6.4h-23.7zM1043.5 828.1h6.4v6.4h-6.4zM1130.2 828.1h6.4v6.4h-6.4zM904.7 833.9h35.3v6.4h-35.3zM1049.3 833.9h6.4v6.4h-6.4zM1124.4 833.9h6.4v6.4h-6.4zM904.7 839.7h41.1v6.4h-41.1zM1049.3 839.7h12.2v6.4h-12.2zM1130.2 839.7h6.4v6.4h-6.4zM904.7 845.4h12.2v6.4h-12.2zM945.2 845.4h6.4v6.4h-6.4zM1055 845.4h17.9v6.4h-17.9zM1089.7 845.4h17.9v6.4h-17.9zM1060.8 851.2h29.5v6.4h-29.5zM904.7 857h6.4v6.4h-6.4zM951 857h6.4v6.4h-6.4zM1072.4 857h12.2v6.4h-12.2zM904.7 862.8h12.2v6.4h-12.2zM951 862.8h6.4v6.4h-6.4zM1078.2 862.8h6.4v6.4h-6.4zM1101.3 862.8h6.4v6.4h-6.4zM904.7 868.6h12.2v6.4h-12.2zM1072.4 868.6h35.3v6.4h-35.3zM1159.1 868.6h6.4v6.4h-6.4zM1350 868.6h6.4v6.4h-6.4zM904.7 874.4h12.2v6.4h-12.2zM956.7 874.4h6.4v6.4h-6.4zM1072.4 874.4h29.5v6.4h-29.5zM1159.1 874.4h6.4v6.4h-6.4zM904.7 880.1h12.2v6.4h-12.2zM956.7 880.1h6.4v6.4h-6.4zM1072.4 880.1h17.9v6.4h-17.9zM1159.1 880.1h6.4v6.4h-6.4zM1338.4 880.1h6.4v6.4h-6.4zM910.5 885.9h6.4v6.4h-6.4zM1072.4 885.9h12.2v6.4h-12.2zM1338.4 885.9h6.4v6.4h-6.4zM1072.4 891.7h6.4v6.4h-6.4zM1164.9 891.7h6.4v6.4h-6.4zM1338.4 891.7h6.4v6.4h-6.4zM1430.9 891.7h12.2v6.4h-12.2zM1517.6 891.7h12.2v6.4h-12.2zM916.3 897.5h6.4v6.4h-6.4zM1066.6 897.5h12.2v6.4h-12.2zM1338.4 897.5h6.4v6.4h-6.4zM1488.7 897.5h12.2v6.4h-12.2zM1506.1 897.5h6.4v6.4h-6.4zM922 903.3h6.4v6.4h-6.4zM956.7 903.3h6.4v6.4h-6.4zM1066.6 903.3h12.2v6.4h-12.2zM1170.7 903.3h6.4v6.4h-6.4zM1338.4 903.3h6.4v6.4h-6.4zM927.8 909h6.4v6.4h-6.4zM956.7 909h6.4v6.4h-6.4zM1066.6 909h12.2v6.4h-12.2zM1170.7 909h6.4v6.4h-6.4zM1344.2 909h6.4v6.4h-6.4zM933.6 914.8h29.5v6.4h-29.5zM1066.6 914.8h12.2v6.4h-12.2zM1350 914.8h6.4v6.4h-6.4zM945.2 920.6h17.9v6.4h-17.9zM1066.6 920.6h12.2v6.4h-12.2zM1384.6 920.6h6.4v6.4h-6.4zM1066.6 926.4h12.2v6.4h-12.2zM1176.5 926.4h6.4v6.4h-6.4zM1066.6 932.2h12.2v6.4h-12.2zM1176.5 932.2h6.4v6.4h-6.4zM1066.6 938h6.4v6.4h-6.4zM1407.8 938h6.4v6.4h-6.4zM1066.6 943.7h6.4v6.4h-6.4zM1182.3 943.7h6.4v6.4h-6.4zM1419.3 943.7h6.4v6.4h-6.4zM1477.2 943.7h6.4v6.4h-6.4zM1494.5 943.7h35.3v6.4h-35.3zM1066.6 949.5h6.4v6.4h-6.4zM1182.3 949.5h6.4v6.4h-6.4zM1436.7 949.5h6.4v6.4h-6.4zM1459.8 949.5h6.4v6.4h-6.4zM1066.6 955.3h6.4v6.4h-6.4zM1182.3 955.3h6.4v6.4h-6.4zM1297.9 955.3h17.9v6.4h-17.9zM1060.8 961.1h12.2v6.4h-12.2zM1182.3 961.1h12.2v6.4h-12.2zM1297.9 961.1h17.9v6.4h-17.9z"/>
<path fill="#43f787" d="M927.8 758.7h6.4v6.4h-6.4zM1199.6 758.7h6.4v6.4h-6.4zM1471.4 758.7h6.4v6.4h-6.4zM1494.5 758.7h6.4v6.4h-6.4zM927.8 764.5h6.4v6.4h-6.4zM968.3 764.5h6.4v6.4h-6.4zM1199.6 764.5h6.4v6.4h-6.4zM1471.4 764.5h12.2v6.4h-12.2zM1494.5 764.5h6.4v6.4h-6.4zM968.3 770.3h6.4v6.4h-6.4zM1193.8 770.3h12.2v6.4h-12.2zM1477.2 770.3h23.7v6.4h-23.7zM1188 776h12.2v6.4h-12.2zM1483 776h12.2v6.4h-12.2zM974.1 781.8h6.4v6.4h-6.4zM1182.3 781.8h6.4v6.4h-6.4zM933.6 787.6h6.4v6.4h-6.4zM979.9 787.6h6.4v6.4h-6.4zM1176.5 787.6h12.2v6.4h-12.2zM1511.9 787.6h17.9v6.4h-17.9zM979.9 793.4h6.4v6.4h-6.4zM1170.7 793.4h12.2v6.4h-12.2zM1506.1 793.4h12.2v6.4h-12.2zM985.7 799.2h6.4v6.4h-6.4zM1170.7 799.2h6.4v6.4h-6.4zM1511.9 799.2h6.4v6.4h-6.4zM991.4 805h6.4v6.4h-6.4zM1164.9 805h6.4v6.4h-6.4zM1511.9 805h12.2v6.4h-12.2zM997.2 810.7h6.4v6.4h-6.4zM1159.1 810.7h12.2v6.4h-12.2zM1517.6 810.7h12.2v6.4h-12.2zM1003 816.5h6.4v6.4h-6.4zM1153.3 816.5h6.4v6.4h-6.4zM945.2 822.3h6.4v6.4h-6.4zM1008.8 822.3h6.4v6.4h-6.4zM1014.6 828.1h6.4v6.4h-6.4zM1147.6 828.1h6.4v6.4h-6.4zM951 833.9h6.4v6.4h-6.4zM1020.4 833.9h6.4v6.4h-6.4zM1147.6 833.9h6.4v6.4h-6.4zM1020.4 839.7h6.4v6.4h-6.4zM1153.3 839.7h6.4v6.4h-6.4zM956.7 845.4h6.4v6.4h-6.4zM1020.4 845.4h6.4v6.4h-6.4zM1020.4 851.2h12.2v6.4h-12.2zM1159.1 851.2h6.4v6.4h-6.4zM962.5 857h6.4v6.4h-6.4zM1026.1 857h6.4v6.4h-6.4zM1031.9 862.8h6.4v6.4h-6.4zM1164.9 862.8h6.4v6.4h-6.4zM1350 862.8h12.2v6.4h-12.2zM1037.7 868.6h6.4v6.4h-6.4zM968.3 874.4h6.4v6.4h-6.4zM1037.7 874.4h6.4v6.4h-6.4zM1170.7 874.4h6.4v6.4h-6.4zM1332.6 874.4h6.4v6.4h-6.4zM1517.6 874.4h12.2v6.4h-12.2zM1037.7 880.1h6.4v6.4h-6.4zM1332.6 880.1h6.4v6.4h-6.4zM974.1 885.9h6.4v6.4h-6.4zM1037.7 885.9h6.4v6.4h-6.4zM1430.9 885.9h6.4v6.4h-6.4zM1037.7 891.7h6.4v6.4h-6.4zM1176.5 891.7h6.4v6.4h-6.4zM1332.6 891.7h6.4v6.4h-6.4zM1037.7 897.5h6.4v6.4h-6.4zM1037.7 903.3h6.4v6.4h-6.4zM1182.3 903.3h6.4v6.4h-6.4zM979.9 909h6.4v6.4h-6.4zM1037.7 909h6.4v6.4h-6.4zM1332.6 909h6.4v6.4h-6.4zM985.7 914.8h6.4v6.4h-6.4zM1037.7 914.8h6.4v6.4h-6.4zM991.4 920.6h6.4v6.4h-6.4zM1037.7 920.6h6.4v6.4h-6.4zM1338.4 920.6h6.4v6.4h-6.4zM927.8 926.4h6.4v6.4h-6.4zM991.4 926.4h6.4v6.4h-6.4zM1037.7 926.4h6.4v6.4h-6.4zM1188 926.4h6.4v6.4h-6.4zM1373.1 926.4h12.2v6.4h-12.2zM927.8 932.2h6.4v6.4h-6.4zM991.4 932.2h6.4v6.4h-6.4zM1037.7 932.2h6.4v6.4h-6.4zM1193.8 932.2h6.4v6.4h-6.4zM1303.7 932.2h12.2v6.4h-12.2zM933.6 938h6.4v6.4h-6.4zM997.2 938h6.4v6.4h-6.4zM1037.7 938h6.4v6.4h-6.4zM1199.6 938h6.4v6.4h-6.4zM1297.9 938h6.4v6.4h-6.4zM1315.3 938h6.4v6.4h-6.4zM933.6 943.7h6.4v6.4h-6.4zM997.2 943.7h12.2v6.4h-12.2zM1026.1 943.7h12.2v6.4h-12.2zM1205.4 943.7h6.4v6.4h-6.4zM1286.3 943.7h6.4v6.4h-6.4zM1407.8 943.7h6.4v6.4h-6.4zM1003 949.5h12.2v6.4h-12.2zM1020.4 949.5h12.2v6.4h-12.2zM1211.2 949.5h6.4v6.4h-6.4zM1274.8 949.5h6.4v6.4h-6.4zM1321 949.5h6.4v6.4h-6.4zM1419.3 949.5h6.4v6.4h-6.4zM1483 949.5h12.2v6.4h-12.2zM939.4 955.3h6.4v6.4h-6.4zM1008.8 955.3h6.4v6.4h-6.4zM1020.4 955.3h6.4v6.4h-6.4zM1211.2 955.3h12.2v6.4h-12.2zM1269 955.3h6.4v6.4h-6.4zM1430.9 955.3h6.4v6.4h-6.4zM1465.6 955.3h6.4v6.4h-6.4zM1500.3 955.3h29.5v6.4h-29.5zM939.4 961.1h6.4v6.4h-6.4zM1008.8 961.1h6.4v6.4h-6.4zM1020.4 961.1h6.4v6.4h-6.4zM1217 961.1h6.4v6.4h-6.4zM1263.2 961.1h6.4v6.4h-6.4zM1436.7 961.1h6.4v6.4h-6.4zM1459.8 961.1h6.4v6.4h-6.4z"/>
<path fill="#69fd66" d="M933.6 758.7h6.4v6.4h-6.4zM956.7 758.7h6.4v6.4h-6.4zM1228.5 758.7h6.4v6.4h-6.4zM1442.5 758.7h6.4v6.4h-6.4zM933.6 764.5h6.4v6.4h-6.4zM956.7 764.5h6.4v6.4h-6.4zM1228.5 764.5h6.4v6.4h-6.4zM1442.5 764.5h12.2v6.4h-12.2zM933.6 770.3h6.4v6.4h-6.4zM962.5 770.3h6.4v6.4h-6.4zM1222.7 770.3h6.4v6.4h-6.4zM1454 770.3h17.9v6.4h-17.9zM962.5 776h6.4v6.4h-6.4zM1217 776h6.4v6.4h-6.4zM1471.4 776h6.4v6.4h-6.4zM968.3 781.8h6.4v6.4h-6.4zM1211.2 781.8h6.4v6.4h-6.4zM1477.2 781.8h6.4v6.4h-6.4zM939.4 787.6h6.4v6.4h-6.4zM1205.4 787.6h6.4v6.4h-6.4zM1488.7 787.6h12.2v6.4h-12.2zM945.2 793.4h6.4v6.4h-6.4zM974.1 793.4h6.4v6.4h-6.4zM1193.8 793.4h12.2v6.4h-12.2zM1494.5 793.4h6.4v6.4h-6.4zM1193.8 799.2h6.4v6.4h-6.4zM1500.3 799.2h6.4v6.4h-6.4zM985.7 805h6.4v6.4h-6.4zM1176.5 805h12.2v6.4h-12.2zM1506.1 805h6.4v6.4h-6.4zM991.4 810.7h6.4v6.4h-6.4zM1176.5 810.7h6.4v6.4h-6.4zM1511.9 810.7h6.4v6.4h-6.4zM1170.7 816.5h6.4v6.4h-6.4zM1517.6 816.5h6.4v6.4h-6.4zM951 822.3h6.4v6.4h-6.4zM997.2 822.3h6.4v6.4h-6.4zM1159.1 822.3h12.2v6.4h-12.2zM1003 828.1h6.4v6.4h-6.4zM1159.1 828.1h6.4v6.4h-6.4zM1008.8 833.9h6.4v6.4h-6.4zM1159.1 833.9h6.4v6.4h-6.4zM956.7 839.7h6.4v6.4h-6.4zM1008.8 839.7h6.4v6.4h-6.4zM1159.1 839.7h6.4v6.4h-6.4zM962.5 845.4h6.4v6.4h-6.4zM1008.8 845.4h6.4v6.4h-6.4zM1164.9 851.2h6.4v6.4h-6.4zM968.3 857h6.4v6.4h-6.4zM1014.6 857h6.4v6.4h-6.4zM1170.7 857h6.4v6.4h-6.4zM1373.1 857h17.9v6.4h-17.9zM968.3 862.8h6.4v6.4h-6.4zM1020.4 862.8h6.4v6.4h-6.4zM1170.7 862.8h6.4v6.4h-6.4zM1026.1 868.6h6.4v6.4h-6.4zM1517.6 868.6h6.4v6.4h-6.4zM974.1 874.4h6.4v6.4h-6.4zM1026.1 874.4h6.4v6.4h-6.4zM1176.5 874.4h6.4v6.4h-6.4zM1407.8 874.4h6.4v6.4h-6.4zM1026.1 880.1h6.4v6.4h-6.4zM1176.5 880.1h6.4v6.4h-6.4zM1511.9 880.1h6.4v6.4h-6.4zM1442.5 885.9h12.2v6.4h-12.2zM985.7 891.7h6.4v6.4h-6.4zM1182.3 891.7h6.4v6.4h-6.4zM1477.2 891.7h6.4v6.4h-6.4zM985.7 897.5h6.4v6.4h-6.4zM1326.8 897.5h6.4v6.4h-6.4zM985.7 903.3h6.4v6.4h-6.4zM1309.5 903.3h6.4v6.4h-6.4zM991.4 909h6.4v6.4h-6.4zM1026.1 909h6.4v6.4h-6.4zM1303.7 909h6.4v6.4h-6.4zM997.2 914.8h6.4v6.4h-6.4zM1026.1 914.8h6.4v6.4h-6.4zM1303.7 914.8h6.4v6.4h-6.4zM1321 914.8h12.2v6.4h-12.2zM1003 920.6h6.4v6.4h-6.4zM1026.1 920.6h6.4v6.4h-6.4zM1193.8 920.6h6.4v6.4h-6.4zM1303.7 920.6h6.4v6.4h-6.4zM1315.3 920.6h12.2v6.4h-12.2zM1332.6 920.6h6.4v6.4h-6.4zM922 926.4h6.4v6.4h-6.4zM1008.8 926.4h17.9v6.4h-17.9zM1193.8 926.4h6.4v6.4h-6.4zM1297.9 926.4h6.4v6.4h-6.4zM1321 926.4h6.4v6.4h-6.4zM1338.4 926.4h6.4v6.4h-6.4zM922 932.2h6.4v6.4h-6.4zM1014.6 932.2h6.4v6.4h-6.4zM1199.6 932.2h6.4v6.4h-6.4zM1292.1 932.2h6.4v6.4h-6.4zM1321 932.2h6.4v6.4h-6.4zM1211.2 938h6.4v6.4h-6.4zM1280.6 938h12.2v6.4h-12.2zM1321 938h6.4v6.4h-6.4zM1390.4 938h6.4v6.4h-6.4zM927.8 943.7h6.4v6.4h-6.4zM1217 943.7h6.4v6.4h-6.4zM1274.8 943.7h6.4v6.4h-6.4zM1326.8 943.7h6.4v6.4h-6.4zM1222.7 949.5h17.9v6.4h-17.9zM1263.2 949.5h6.4v6.4h-6.4zM1326.8 949.5h6.4v6.4h-6.4zM1413.6 949.5h6.4v6.4h-6.4zM933.6 955.3h6.4v6.4h-6.4zM1332.6 955.3h6.4v6.4h-6.4zM1425.1 955.3h6.4v6.4h-6.4zM1477.2 955.3h17.9v6.4h-17.9zM933.6 961.1h6.4v6.4h-6.4zM1332.6 961.1h6.4v6.4h-6.4zM1471.4 961.1h6.4v6.4h-6.4zM1494.5 961.1h6.4v6.4h-6.4z"/>
<path fill="#7dff56" d="M939.4 758.7h17.9v6.4h-17.9zM1234.3 758.7h6.4v6.4h-6.4zM1436.7 758.7h6.4v6.4h-6.4zM939.4 764.5h17.9v6.4h-17.9zM1234.3 764.5h6.4v6.4h-6.4zM1436.7 764.5h6.4v6.4h-6.4zM939.4 770.3h6.4v6.4h-6.4zM956.7 770.3h6.4v6.4h-6.4zM1228.5 770.3h6.4v6.4h-6.4zM1442.5 770.3h12.2v6.4h-12.2zM939.4 776h6.4v6.4h-6.4zM1222.7 776h6.4v6.4h-6.4zM1459.8 776h12.2v6.4h-12.2zM939.4 781.8h6.4v6.4h-6.4zM962.5 781.8h6.4v6.4h-6.4zM1217 781.8h6.4v6.4h-6.4zM1471.4 781.8h6.4v6.4h-6.4zM968.3 787.6h6.4v6.4h-6.4zM1211.2 787.6h6.4v6.4h-6.4zM1477.2 787.6h12.2v6.4h-12.2zM1205.4 793.4h6.4v6.4h-6.4zM1488.7 793.4h6.4v6.4h-6.4zM951 799.2h6.4v6.4h-6.4zM974.1 799.2h6.4v6.4h-6.4zM1199.6 799.2h6.4v6.4h-6.4zM1494.5 799.2h6.4v6.4h-6.4zM951 805h6.4v6.4h-6.4zM979.9 805h6.4v6.4h-6.4zM1188 805h12.2v6.4h-12.2zM1500.3 805h6.4v6.4h-6.4zM951 810.7h6.4v6.4h-6.4zM985.7 810.7h6.4v6.4h-6.4zM1182.3 810.7h6.4v6.4h-6.4zM1506.1 810.7h6.4v6.4h-6.4zM951 816.5h6.4v6.4h-6.4zM991.4 816.5h6.4v6.4h-6.4zM1176.5 816.5h6.4v6.4h-6.4zM1511.9 816.5h6.4v6.4h-6.4zM991.4 822.3h6.4v6.4h-6.4zM1170.7 822.3h6.4v6.4h-6.4zM1517.6 822.3h12.2v6.4h-12.2zM997.2 828.1h6.4v6.4h-6.4zM1164.9 828.1h6.4v6.4h-6.4zM956.7 833.9h6.4v6.4h-6.4zM1003 833.9h6.4v6.4h-6.4zM1003 839.7h6.4v6.4h-6.4zM1164.9 845.4h6.4v6.4h-6.4zM968.3 851.2h6.4v6.4h-6.4zM1008.8 851.2h6.4v6.4h-6.4zM1170.7 851.2h6.4v6.4h-6.4zM1008.8 857h6.4v6.4h-6.4zM1367.3 857h6.4v6.4h-6.4zM1390.4 857h6.4v6.4h-6.4zM1014.6 862.8h6.4v6.4h-6.4zM1176.5 862.8h6.4v6.4h-6.4zM1338.4 862.8h6.4v6.4h-6.4zM1523.4 862.8h6.4v6.4h-6.4zM974.1 868.6h6.4v6.4h-6.4zM1020.4 868.6h6.4v6.4h-6.4zM1176.5 868.6h6.4v6.4h-6.4zM1326.8 868.6h6.4v6.4h-6.4zM1020.4 874.4h6.4v6.4h-6.4zM1326.8 874.4h6.4v6.4h-6.4zM979.9 880.1h6.4v6.4h-6.4zM1419.3 880.1h12.2v6.4h-12.2zM985.7 885.9h6.4v6.4h-6.4zM1026.1 885.9h6.4v6.4h-6.4zM1026.1 891.7h6.4v6.4h-6.4zM1326.8 891.7h6.4v6.4h-6.4zM1483 891.7h23.7v6.4h-23.7zM991.4 897.5h6.4v6.4h-6.4zM1026.1 897.5h6.4v6.4h-6.4zM1188 897.5h6.4v6.4h-6.4zM1309.5 897.5h17.9v6.4h-17.9zM991.4 903.3h6.4v6.4h-6.4zM1026.1 903.3h6.4v6.4h-6.4zM1193.8 903.3h6.4v6.4h-6.4zM1303.7 903.3h6.4v6.4h-6.4zM997.2 909h6.4v6.4h-6.4zM1193.8 909h6.4v6.4h-6.4zM910.5 914.8h6.4v6.4h-6.4zM1003 914.8h6.4v6.4h-6.4zM1020.4 914.8h6.4v6.4h-6.4zM1193.8 914.8h6.4v6.4h-6.4zM1297.9 914.8h6.4v6.4h-6.4zM916.3 920.6h6.4v6.4h-6.4zM1008.8 920.6h17.9v6.4h-17.9zM1297.9 920.6h6.4v6.4h-6.4zM1326.8 920.6h6.4v6.4h-6.4zM1199.6 926.4h6.4v6.4h-6.4zM1292.1 926.4h6.4v6.4h-6.4zM1326.8 926.4h12.2v6.4h-12.2zM1205.4 932.2h12.2v6.4h-12.2zM1286.3 932.2h6.4v6.4h-6.4zM1326.8 932.2h6.4v6.4h-6.4zM1378.9 932.2h6.4v6.4h-6.4zM922 938h6.4v6.4h-6.4zM1217 938h6.4v6.4h-6.4zM1274.8 938h6.4v6.4h-6.4zM1326.8 938h6.4v6.4h-6.4zM922 943.7h6.4v6.4h-6.4zM1222.7 943.7h12.2v6.4h-12.2zM1269 943.7h6.4v6.4h-6.4zM1396.2 943.7h6.4v6.4h-6.4zM927.8 949.5h6.4v6.4h-6.4zM1240.1 949.5h23.7v6.4h-23.7zM1332.6 949.5h6.4v6.4h-6.4zM927.8 955.3h6.4v6.4h-6.4zM1338.4 955.3h6.4v6.4h-6.4zM927.8 961.1h6.4v6.4h-6.4zM1338.4 961.1h6.4v6.4h-6.4zM1425.1 961.1h6.4v6.4h-6.4zM1477.2 961.1h17.9v6.4h-17.9z"/>
<path fill="#55fa76" d="M962.5 758.7h6.4v6.4h-6.4zM1205.4 758.7h23.7v6.4h-23.7zM1448.3 758.7h23.7v6.4h-23.7zM1500.3 758.7h29.5v6.4h-29.5zM962.5 764.5h6.4v6.4h-6.4zM1205.4 764.5h23.7v6.4h-23.7zM1454 764.5h17.9v6.4h-17.9zM1500.3 764.5h29.5v6.4h-29.5zM1205.4 770.3h17.9v6.4h-17.9zM1471.4 770.3h6.4v6.4h-6.4zM1500.3 770.3h29.5v6.4h-29.5zM933.6 776h6.4v6.4h-6.4zM968.3 776h6.4v6.4h-6.4zM1199.6 776h17.9v6.4h-17.9zM1477.2 776h6.4v6.4h-6.4zM1494.5 776h35.3v6.4h-35.3zM933.6 781.8h6.4v6.4h-6.4zM1188 781.8h23.7v6.4h-23.7zM1483 781.8h46.9v6.4h-46.9zM974.1 787.6h6.4v6.4h-6.4zM1188 787.6h17.9v6.4h-17.9zM1500.3 787.6h12.2v6.4h-12.2zM939.4 793.4h6.4v6.4h-6.4zM1182.3 793.4h12.2v6.4h-12.2zM1500.3 793.4h6.4v6.4h-6.4zM945.2 799.2h6.4v6.4h-6.4zM979.9 799.2h6.4v6.4h-6.4zM1176.5 799.2h17.9v6.4h-17.9zM1506.1 799.2h6.4v6.4h-6.4zM945.2 805h6.4v6.4h-6.4zM1170.7 805h6.4v6.4h-6.4zM945.2 810.7h6.4v6.4h-6.4zM1170.7 810.7h6.4v6.4h-6.4zM945.2 816.5h6.4v6.4h-6.4zM997.2 816.5h6.4v6.4h-6.4zM1159.1 816.5h12.2v6.4h-12.2zM1523.4 816.5h6.4v6.4h-6.4zM1003 822.3h6.4v6.4h-6.4zM1153.3 822.3h6.4v6.4h-6.4zM951 828.1h6.4v6.4h-6.4zM1008.8 828.1h6.4v6.4h-6.4zM1153.3 828.1h6.4v6.4h-6.4zM1014.6 833.9h6.4v6.4h-6.4zM1153.3 833.9h6.4v6.4h-6.4zM1014.6 839.7h6.4v6.4h-6.4zM1014.6 845.4h6.4v6.4h-6.4zM1159.1 845.4h6.4v6.4h-6.4zM962.5 851.2h6.4v6.4h-6.4zM1014.6 851.2h6.4v6.4h-6.4zM1020.4 857h6.4v6.4h-6.4zM1164.9 857h6.4v6.4h-6.4zM1026.1 862.8h6.4v6.4h-6.4zM1344.2 862.8h6.4v6.4h-6.4zM1396.2 862.8h6.4v6.4h-6.4zM968.3 868.6h6.4v6.4h-6.4zM1031.9 868.6h6.4v6.4h-6.4zM1170.7 868.6h6.4v6.4h-6.4zM1332.6 868.6h6.4v6.4h-6.4zM1402 868.6h6.4v6.4h-6.4zM1523.4 868.6h6.4v6.4h-6.4zM1031.9 874.4h6.4v6.4h-6.4zM974.1 880.1h6.4v6.4h-6.4zM1031.9 880.1h6.4v6.4h-6.4zM1413.6 880.1h6.4v6.4h-6.4zM979.9 885.9h6.4v6.4h-6.4zM1031.9 885.9h6.4v6.4h-6.4zM1176.5 885.9h6.4v6.4h-6.4zM1332.6 885.9h6.4v6.4h-6.4zM1436.7 885.9h6.4v6.4h-6.4zM1511.9 885.9h6.4v6.4h-6.4zM979.9 891.7h6.4v6.4h-6.4zM1031.9 891.7h6.4v6.4h-6.4zM1465.6 891.7h12.2v6.4h-12.2zM1506.1 891.7h6.4v6.4h-6.4zM979.9 897.5h6.4v6.4h-6.4zM1031.9 897.5h6.4v6.4h-6.4zM1182.3 897.5h6.4v6.4h-6.4zM979.9 903.3h6.4v6.4h-6.4zM1031.9 903.3h6.4v6.4h-6.4zM1188 903.3h6.4v6.4h-6.4zM1315.3 903.3h17.9v6.4h-17.9zM904.7 909h12.2v6.4h-12.2zM985.7 909h6.4v6.4h-6.4zM1031.9 909h6.4v6.4h-6.4zM1188 909h6.4v6.4h-6.4zM1309.5 909h23.7v6.4h-23.7zM916.3 914.8h6.4v6.4h-6.4zM991.4 914.8h6.4v6.4h-6.4zM1031.9 914.8h6.4v6.4h-6.4zM1188 914.8h6.4v6.4h-6.4zM1309.5 914.8h12.2v6.4h-12.2zM1332.6 914.8h6.4v6.4h-6.4zM922 920.6h6.4v6.4h-6.4zM997.2 920.6h6.4v6.4h-6.4zM1031.9 920.6h6.4v6.4h-6.4zM1188 920.6h6.4v6.4h-6.4zM1309.5 920.6h6.4v6.4h-6.4zM997.2 926.4h12.2v6.4h-12.2zM1026.1 926.4h12.2v6.4h-12.2zM1303.7 926.4h17.9v6.4h-17.9zM1344.2 926.4h29.5v6.4h-29.5zM997.2 932.2h17.9v6.4h-17.9zM1020.4 932.2h17.9v6.4h-17.9zM1297.9 932.2h6.4v6.4h-6.4zM1315.3 932.2h6.4v6.4h-6.4zM1384.6 932.2h6.4v6.4h-6.4zM927.8 938h6.4v6.4h-6.4zM1003 938h35.3v6.4h-35.3zM1205.4 938h6.4v6.4h-6.4zM1292.1 938h6.4v6.4h-6.4zM1008.8 943.7h17.9v6.4h-17.9zM1211.2 943.7h6.4v6.4h-6.4zM1280.6 943.7h6.4v6.4h-6.4zM1321 943.7h6.4v6.4h-6.4zM1402 943.7h6.4v6.4h-6.4zM933.6 949.5h6.4v6.4h-6.4zM1014.6 949.5h6.4v6.4h-6.4zM1217 949.5h6.4v6.4h-6.4zM1269 949.5h6.4v6.4h-6.4zM1014.6 955.3h6.4v6.4h-6.4zM1222.7 955.3h46.9v6.4h-46.9zM1326.8 955.3h6.4v6.4h-6.4zM1471.4 955.3h6.4v6.4h-6.4zM1494.5 955.3h6.4v6.4h-6.4zM1014.6 961.1h6.4v6.4h-6.4zM1222.7 961.1h41.1v6.4h-41.1zM1326.8 961.1h6.4v6.4h-6.4zM1430.9 961.1h6.4v6.4h-6.4zM1465.6 961.1h6.4v6.4h-6.4zM1500.3 961.1h29.5v6.4h-29.5z"/>
<path fill="#35f394" d="M968.3 758.7h6.4v6.4h-6.4zM1188 758.7h12.2v6.4h-12.2zM1477.2 758.7h17.9v6.4h-17.9zM1188 764.5h12.2v6.4h-12.2zM1483 764.5h12.2v6.4h-12.2zM927.8 770.3h6.4v6.4h-6.4zM974.1 770.3h6.4v6.4h-6.4zM1182.3 770.3h12.2v6.4h-12.2zM927.8 776h6.4v6.4h-6.4zM974.1 776h6.4v6.4h-6.4zM1176.5 776h12.2v6.4h-12.2zM979.9 781.8h6.4v6.4h-6.4zM1170.7 781.8h12.2v6.4h-12.2zM985.7 787.6h6.4v6.4h-6.4zM1170.7 787.6h6.4v6.4h-6.4zM985.7 793.4h12.2v6.4h-12.2zM1164.9 793.4h6.4v6.4h-6.4zM1517.6 793.4h12.2v6.4h-12.2zM939.4 799.2h6.4v6.4h-6.4zM991.4 799.2h12.2v6.4h-12.2zM1164.9 799.2h6.4v6.4h-6.4zM1517.6 799.2h12.2v6.4h-12.2zM939.4 805h6.4v6.4h-6.4zM997.2 805h12.2v6.4h-12.2zM1159.1 805h6.4v6.4h-6.4zM1523.4 805h6.4v6.4h-6.4zM939.4 810.7h6.4v6.4h-6.4zM1003 810.7h12.2v6.4h-12.2zM1153.3 810.7h6.4v6.4h-6.4zM939.4 816.5h6.4v6.4h-6.4zM1008.8 816.5h12.2v6.4h-12.2zM1147.6 816.5h6.4v6.4h-6.4zM1014.6 822.3h12.2v6.4h-12.2zM1147.6 822.3h6.4v6.4h-6.4zM945.2 828.1h6.4v6.4h-6.4zM1020.4 828.1h12.2v6.4h-12.2zM1141.8 828.1h6.4v6.4h-6.4zM1026.1 833.9h6.4v6.4h-6.4zM1141.8 833.9h6.4v6.4h-6.4zM951 839.7h6.4v6.4h-6.4zM1026.1 839.7h12.2v6.4h-12.2zM1147.6 839.7h6.4v6.4h-6.4zM1026.1 845.4h12.2v6.4h-12.2zM1153.3 845.4h6.4v6.4h-6.4zM956.7 851.2h6.4v6.4h-6.4zM1031.9 851.2h6.4v6.4h-6.4zM1031.9 857h12.2v6.4h-12.2zM1159.1 857h6.4v6.4h-6.4zM962.5 862.8h6.4v6.4h-6.4zM1037.7 862.8h12.2v6.4h-12.2zM1361.5 862.8h6.4v6.4h-6.4zM1390.4 862.8h6.4v6.4h-6.4zM962.5 868.6h6.4v6.4h-6.4zM1043.5 868.6h6.4v6.4h-6.4zM1164.9 868.6h6.4v6.4h-6.4zM1338.4 868.6h6.4v6.4h-6.4zM1043.5 874.4h12.2v6.4h-12.2zM968.3 880.1h6.4v6.4h-6.4zM1043.5 880.1h12.2v6.4h-12.2zM1170.7 880.1h6.4v6.4h-6.4zM1517.6 880.1h6.4v6.4h-6.4zM1043.5 885.9h12.2v6.4h-12.2zM1170.7 885.9h6.4v6.4h-6.4zM1425.1 885.9h6.4v6.4h-6.4zM974.1 891.7h6.4v6.4h-6.4zM1043.5 891.7h12.2v6.4h-12.2zM1459.8 891.7h6.4v6.4h-6.4zM974.1 897.5h6.4v6.4h-6.4zM1043.5 897.5h12.2v6.4h-12.2zM1176.5 897.5h6.4v6.4h-6.4zM1332.6 897.5h6.4v6.4h-6.4zM904.7 903.3h12.2v6.4h-12.2zM974.1 903.3h6.4v6.4h-6.4zM1043.5 903.3h12.2v6.4h-12.2zM1332.6 903.3h6.4v6.4h-6.4zM916.3 909h6.4v6.4h-6.4zM974.1 909h6.4v6.4h-6.4zM1043.5 909h12.2v6.4h-12.2zM1182.3 909h6.4v6.4h-6.4zM922 914.8h6.4v6.4h-6.4zM979.9 914.8h6.4v6.4h-6.4zM1043.5 914.8h12.2v6.4h-12.2zM1182.3 914.8h6.4v6.4h-6.4zM1338.4 914.8h6.4v6.4h-6.4zM927.8 920.6h6.4v6.4h-6.4zM979.9 920.6h12.2v6.4h-12.2zM1043.5 920.6h12.2v6.4h-12.2zM1182.3 920.6h6.4v6.4h-6.4zM1344.2 920.6h6.4v6.4h-6.4zM985.7 926.4h6.4v6.4h-6.4zM1043.5 926.4h12.2v6.4h-12.2zM933.6 932.2h6.4v6.4h-6.4zM1043.5 932.2h12.2v6.4h-12.2zM1188 932.2h6.4v6.4h-6.4zM1390.4 932.2h6.4v6.4h-6.4zM991.4 938h6.4v6.4h-6.4zM1043.5 938h6.4v6.4h-6.4zM1193.8 938h6.4v6.4h-6.4zM1303.7 938h12.2v6.4h-12.2zM1396.2 938h6.4v6.4h-6.4zM939.4 943.7h6.4v6.4h-6.4zM991.4 943.7h6.4v6.4h-6.4zM1037.7 943.7h12.2v6.4h-12.2zM1193.8 943.7h12.2v6.4h-12.2zM1292.1 943.7h12.2v6.4h-12.2zM1315.3 943.7h6.4v6.4h-6.4zM939.4 949.5h6.4v6.4h-6.4zM997.2 949.5h6.4v6.4h-6.4zM1031.9 949.5h12.2v6.4h-12.2zM1199.6 949.5h12.2v6.4h-12.2zM1280.6 949.5h12.2v6.4h-12.2zM1477.2 949.5h6.4v6.4h-6.4zM1494.5 949.5h12.2v6.4h-12.2zM945.2 955.3h6.4v6.4h-6.4zM997.2 955.3h12.2v6.4h-12.2zM1026.1 955.3h12.2v6.4h-12.2zM1205.4 955.3h6.4v6.4h-6.4zM1274.8 955.3h6.4v6.4h-6.4zM1321 955.3h6.4v6.4h-6.4zM1436.7 955.3h6.4v6.4h-6.4zM1459.8 955.3h6.4v6.4h-6.4zM945.2 961.1h6.4v6.4h-6.4zM997.2 961.1h12.2v6.4h-12.2zM1026.1 961.1h12.2v6.4h-12.2zM1205.4 961.1h12.2v6.4h-12.2zM1269 961.1h12.2v6.4h-12.2zM1321 961.1h6.4v6.4h-6.4zM1442.5 961.1h17.9v6.4h-17.9z"/>
<path fill="#27eea4" d="M974.1 758.7h6.4v6.4h-6.4zM1182.3 758.7h6.4v6.4h-6.4zM974.1 764.5h6.4v6.4h-6.4zM1182.3 764.5h6.4v6.4h-6.4zM979.9 770.3h6.4v6.4h-6.4zM1176.5 770.3h6.4v6.4h-6.4zM979.9 776h6.4v6.4h-6.4zM1170.7 776h6.4v6.4h-6.4zM927.8 781.8h6.4v6.4h-6.4zM985.7 781.8h6.4v6.4h-6.4zM1164.9 781.8h6.4v6.4h-6.4zM991.4 787.6h6.4v6.4h-6.4zM1164.9 787.6h6.4v6.4h-6.4zM933.6 793.4h6.4v6.4h-6.4zM997.2 793.4h6.4v6.4h-6.4zM1159.1 793.4h6.4v6.4h-6.4zM1003 799.2h6.4v6.4h-6.4zM1159.1 799.2h6.4v6.4h-6.4zM1008.8 805h6.4v6.4h-6.4zM1153.3 805h6.4v6.4h-6.4zM933.6 810.7h6.4v6.4h-6.4zM1014.6 810.7h6.4v6.4h-6.4zM1147.6 810.7h6.4v6.4h-6.4zM933.6 816.5h6.4v6.4h-6.4zM1020.4 816.5h6.4v6.4h-6.4zM939.4 822.3h6.4v6.4h-6.4zM1026.1 822.3h6.4v6.4h-6.4zM1141.8 822.3h6.4v6.4h-6.4zM939.4 828.1h6.4v6.4h-6.4zM1031.9 828.1h6.4v6.4h-6.4zM1031.9 833.9h12.2v6.4h-12.2zM1136 833.9h6.4v6.4h-6.4zM1037.7 839.7h6.4v6.4h-6.4zM1141.8 839.7h6.4v6.4h-6.4zM951 845.4h6.4v6.4h-6.4zM1037.7 845.4h6.4v6.4h-6.4zM1147.6 845.4h6.4v6.4h-6.4zM1037.7 851.2h6.4v6.4h-6.4zM1153.3 851.2h6.4v6.4h-6.4zM956.7 857h6.4v6.4h-6.4zM1043.5 857h6.4v6.4h-6.4zM956.7 862.8h6.4v6.4h-6.4zM1049.3 862.8h6.4v6.4h-6.4zM1367.3 862.8h6.4v6.4h-6.4zM1384.6 862.8h6.4v6.4h-6.4zM1049.3 868.6h12.2v6.4h-12.2zM962.5 874.4h6.4v6.4h-6.4zM1055 874.4h6.4v6.4h-6.4zM1164.9 874.4h6.4v6.4h-6.4zM1402 874.4h6.4v6.4h-6.4zM1055 880.1h6.4v6.4h-6.4zM1407.8 880.1h6.4v6.4h-6.4zM1523.4 880.1h6.4v6.4h-6.4zM968.3 885.9h6.4v6.4h-6.4zM1055 885.9h6.4v6.4h-6.4zM1419.3 885.9h6.4v6.4h-6.4zM1517.6 885.9h6.4v6.4h-6.4zM968.3 891.7h6.4v6.4h-6.4zM1055 891.7h6.4v6.4h-6.4zM1170.7 891.7h6.4v6.4h-6.4zM1454 891.7h6.4v6.4h-6.4zM1511.9 891.7h6.4v6.4h-6.4zM904.7 897.5h6.4v6.4h-6.4zM968.3 897.5h6.4v6.4h-6.4zM1055 897.5h6.4v6.4h-6.4zM968.3 903.3h6.4v6.4h-6.4zM1055 903.3h6.4v6.4h-6.4zM1176.5 903.3h6.4v6.4h-6.4zM968.3 909h6.4v6.4h-6.4zM1055 909h6.4v6.4h-6.4zM1176.5 909h6.4v6.4h-6.4zM974.1 914.8h6.4v6.4h-6.4zM1055 914.8h6.4v6.4h-6.4zM933.6 920.6h6.4v6.4h-6.4zM974.1 920.6h6.4v6.4h-6.4zM1055 920.6h6.4v6.4h-6.4zM1350 920.6h12.2v6.4h-12.2zM933.6 926.4h6.4v6.4h-6.4zM979.9 926.4h6.4v6.4h-6.4zM1055 926.4h6.4v6.4h-6.4zM1182.3 926.4h6.4v6.4h-6.4zM1384.6 926.4h6.4v6.4h-6.4zM939.4 932.2h6.4v6.4h-6.4zM985.7 932.2h6.4v6.4h-6.4zM1055 932.2h6.4v6.4h-6.4zM1182.3 932.2h6.4v6.4h-6.4zM939.4 938h6.4v6.4h-6.4zM985.7 938h6.4v6.4h-6.4zM1049.3 938h12.2v6.4h-12.2zM1188 938h6.4v6.4h-6.4zM1402 938h6.4v6.4h-6.4zM945.2 943.7h6.4v6.4h-6.4zM985.7 943.7h6.4v6.4h-6.4zM1049.3 943.7h6.4v6.4h-6.4zM1188 943.7h6.4v6.4h-6.4zM1303.7 943.7h12.2v6.4h-12.2zM1413.6 943.7h6.4v6.4h-6.4zM945.2 949.5h6.4v6.4h-6.4zM991.4 949.5h6.4v6.4h-6.4zM1043.5 949.5h6.4v6.4h-6.4zM1193.8 949.5h6.4v6.4h-6.4zM1292.1 949.5h6.4v6.4h-6.4zM1315.3 949.5h6.4v6.4h-6.4zM1425.1 949.5h6.4v6.4h-6.4zM1471.4 949.5h6.4v6.4h-6.4zM1506.1 949.5h23.7v6.4h-23.7zM951 955.3h6.4v6.4h-6.4zM991.4 955.3h6.4v6.4h-6.4zM1037.7 955.3h6.4v6.4h-6.4zM1199.6 955.3h6.4v6.4h-6.4zM1280.6 955.3h12.2v6.4h-12.2zM1442.5 955.3h17.9v6.4h-17.9zM951 961.1h6.4v6.4h-6.4zM991.4 961.1h6.4v6.4h-6.4zM1037.7 961.1h6.4v6.4h-6.4zM1199.6 961.1h6.4v6.4h-6.4zM1280.6 961.1h6.4v6.4h-6.4z"/>
<path fill="#1de7b2" d="M979.9 758.7h12.2v6.4h-12.2zM1164.9 758.7h17.9v6.4h-17.9zM979.9 764.5h17.9v6.4h-17.9zM1159.1 764.5h23.7v6.4h-23.7zM985.7 770.3h12.2v6.4h-12.2zM1159.1 770.3h17.9v6.4h-17.9zM985.7 776h12.2v6.4h-12.2zM1159.1 776h12.2v6.4h-12.2zM991.4 781.8h12.2v6.4h-12.2zM1159.1 781.8h6.4v6.4h-6.4zM927.8 787.6h6.4v6.4h-6.4zM997.2 787.6h6.4v6.4h-6.4zM1153.3 787.6h12.2v6.4h-12.2zM1003 793.4h6.4v6.4h-6.4zM1153.3 793.4h6.4v6.4h-6.4zM933.6 799.2h6.4v6.4h-6.4zM1008.8 799.2h6.4v6.4h-6.4zM1153.3 799.2h6.4v6.4h-6.4zM933.6 805h6.4v6.4h-6.4zM1014.6 805h6.4v6.4h-6.4zM1147.6 805h6.4v6.4h-6.4zM1020.4 810.7h6.4v6.4h-6.4zM1026.1 816.5h6.4v6.4h-6.4zM1141.8 816.5h6.4v6.4h-6.4zM927.8 822.3h12.2v6.4h-12.2zM1031.9 822.3h6.4v6.4h-6.4zM927.8 828.1h12.2v6.4h-12.2zM1037.7 828.1h6.4v6.4h-6.4zM1136 828.1h6.4v6.4h-6.4zM939.4 833.9h12.2v6.4h-12.2zM1043.5 833.9h6.4v6.4h-6.4zM1130.2 833.9h6.4v6.4h-6.4zM945.2 839.7h6.4v6.4h-6.4zM1043.5 839.7h6.4v6.4h-6.4zM1136 839.7h6.4v6.4h-6.4zM1043.5 845.4h12.2v6.4h-12.2zM1141.8 845.4h6.4v6.4h-6.4zM951 851.2h6.4v6.4h-6.4zM1043.5 851.2h17.9v6.4h-17.9zM1089.7 851.2h17.9v6.4h-17.9zM1147.6 851.2h6.4v6.4h-6.4zM1049.3 857h23.7v6.4h-23.7zM1084 857h23.7v6.4h-23.7zM1153.3 857h6.4v6.4h-6.4zM1055 862.8h23.7v6.4h-23.7zM1084 862.8h17.9v6.4h-17.9zM1159.1 862.8h6.4v6.4h-6.4zM1373.1 862.8h12.2v6.4h-12.2zM956.7 868.6h6.4v6.4h-6.4zM1060.8 868.6h12.2v6.4h-12.2zM1344.2 868.6h6.4v6.4h-6.4zM1396.2 868.6h6.4v6.4h-6.4zM1060.8 874.4h12.2v6.4h-12.2zM1338.4 874.4h6.4v6.4h-6.4zM962.5 880.1h6.4v6.4h-6.4zM1060.8 880.1h12.2v6.4h-12.2zM1164.9 880.1h6.4v6.4h-6.4zM904.7 885.9h6.4v6.4h-6.4zM962.5 885.9h6.4v6.4h-6.4zM1060.8 885.9h12.2v6.4h-12.2zM1164.9 885.9h6.4v6.4h-6.4zM1413.6 885.9h6.4v6.4h-6.4zM1523.4 885.9h6.4v6.4h-6.4zM904.7 891.7h12.2v6.4h-12.2zM962.5 891.7h6.4v6.4h-6.4zM1060.8 891.7h12.2v6.4h-12.2zM1442.5 891.7h12.2v6.4h-12.2zM910.5 897.5h6.4v6.4h-6.4zM962.5 897.5h6.4v6.4h-6.4zM1060.8 897.5h6.4v6.4h-6.4zM1170.7 897.5h6.4v6.4h-6.4zM1500.3 897.5h6.4v6.4h-6.4zM916.3 903.3h6.4v6.4h-6.4zM962.5 903.3h6.4v6.4h-6.4zM1060.8 903.3h6.4v6.4h-6.4zM922 909h6.4v6.4h-6.4zM962.5 909h6.4v6.4h-6.4zM1060.8 909h6.4v6.4h-6.4zM1338.4 909h6.4v6.4h-6.4zM927.8 914.8h6.4v6.4h-6.4zM962.5 914.8h12.2v6.4h-12.2zM1060.8 914.8h6.4v6.4h-6.4zM1176.5 914.8h6.4v6.4h-6.4zM1344.2 914.8h6.4v6.4h-6.4zM939.4 920.6h6.4v6.4h-6.4zM962.5 920.6h12.2v6.4h-12.2zM1060.8 920.6h6.4v6.4h-6.4zM1176.5 920.6h6.4v6.4h-6.4zM1361.5 920.6h23.7v6.4h-23.7zM939.4 926.4h41.1v6.4h-41.1zM1060.8 926.4h6.4v6.4h-6.4zM1390.4 926.4h6.4v6.4h-6.4zM945.2 932.2h41.1v6.4h-41.1zM1060.8 932.2h6.4v6.4h-6.4zM1396.2 932.2h6.4v6.4h-6.4zM945.2 938h41.1v6.4h-41.1zM1060.8 938h6.4v6.4h-6.4zM1182.3 938h6.4v6.4h-6.4zM951 943.7h35.3v6.4h-35.3zM1055 943.7h12.2v6.4h-12.2zM1483 943.7h12.2v6.4h-12.2zM951 949.5h41.1v6.4h-41.1zM1049.3 949.5h17.9v6.4h-17.9zM1188 949.5h6.4v6.4h-6.4zM1297.9 949.5h17.9v6.4h-17.9zM1430.9 949.5h6.4v6.4h-6.4zM1465.6 949.5h6.4v6.4h-6.4zM956.7 955.3h35.3v6.4h-35.3zM1043.5 955.3h23.7v6.4h-23.7zM1188 955.3h12.2v6.4h-12.2zM1292.1 955.3h6.4v6.4h-6.4zM1315.3 955.3h6.4v6.4h-6.4zM956.7 961.1h35.3v6.4h-35.3zM1043.5 961.1h17.9v6.4h-17.9zM1193.8 961.1h6.4v6.4h-6.4zM1286.3 961.1h12.2v6.4h-12.2zM1315.3 961.1h6.4v6.4h-6.4z"/>
<path fill="#18d9c8" d="M1008.8 758.7h6.4v6.4h-6.4zM1141.8 758.7h6.4v6.4h-6.4zM1008.8 764.5h6.4v6.4h-6.4zM1141.8 764.5h6.4v6.4h-6.4zM1008.8 770.3h6.4v6.4h-6.4zM1141.8 770.3h6.4v6.4h-6.4zM1008.8 776h6.4v6.4h-6.4zM1141.8 776h6.4v6.4h-6.4zM1008.8 781.8h6.4v6.4h-6.4zM1141.8 781.8h6.4v6.4h-6.4zM922 787.6h6.4v6.4h-6.4zM1008.8 787.6h12.2v6.4h-12.2zM1141.8 787.6h6.4v6.4h-6.4zM1014.6 793.4h12.2v6.4h-12.2zM1141.8 793.4h6.4v6.4h-6.4zM1020.4 799.2h12.2v6.4h-12.2zM1141.8 799.2h6.4v6.4h-6.4zM1026.1 805h6.4v6.4h-6.4zM1141.8 805h6.4v6.4h-6.4zM922 810.7h6.4v6.4h-6.4zM1031.9 810.7h6.4v6.4h-6.4zM916.3 816.5h12.2v6.4h-12.2zM1037.7 816.5h6.4v6.4h-6.4zM1136 816.5h6.4v6.4h-6.4zM904.7 822.3h17.9v6.4h-17.9zM1043.5 822.3h6.4v6.4h-6.4zM1049.3 828.1h6.4v6.4h-6.4zM1124.4 828.1h6.4v6.4h-6.4zM1055 833.9h6.4v6.4h-6.4zM1112.9 833.9h12.2v6.4h-12.2zM1060.8 839.7h12.2v6.4h-12.2zM1095.5 839.7h35.3v6.4h-35.3zM916.3 845.4h29.5v6.4h-29.5zM1072.4 845.4h17.9v6.4h-17.9zM1107.1 845.4h6.4v6.4h-6.4zM1136 845.4h6.4v6.4h-6.4zM904.7 851.2h17.9v6.4h-17.9zM939.4 851.2h12.2v6.4h-12.2zM1107.1 851.2h6.4v6.4h-6.4zM1141.8 851.2h6.4v6.4h-6.4zM910.5 857h12.2v6.4h-12.2zM945.2 857h6.4v6.4h-6.4zM1107.1 857h6.4v6.4h-6.4zM1147.6 857h6.4v6.4h-6.4zM1153.3 862.8h6.4v6.4h-6.4zM951 868.6h6.4v6.4h-6.4zM1355.7 868.6h6.4v6.4h-6.4zM1390.4 868.6h6.4v6.4h-6.4zM951 874.4h6.4v6.4h-6.4zM1101.3 874.4h6.4v6.4h-6.4zM1344.2 874.4h6.4v6.4h-6.4zM1089.7 880.1h12.2v6.4h-12.2zM956.7 885.9h6.4v6.4h-6.4zM1084 885.9h12.2v6.4h-12.2zM1159.1 885.9h6.4v6.4h-6.4zM916.3 891.7h6.4v6.4h-6.4zM956.7 891.7h6.4v6.4h-6.4zM1078.2 891.7h12.2v6.4h-12.2zM1425.1 891.7h6.4v6.4h-6.4zM956.7 897.5h6.4v6.4h-6.4zM1078.2 897.5h6.4v6.4h-6.4zM1164.9 897.5h6.4v6.4h-6.4zM1477.2 897.5h12.2v6.4h-12.2zM1511.9 897.5h17.9v6.4h-17.9zM951 903.3h6.4v6.4h-6.4zM1078.2 903.3h6.4v6.4h-6.4zM933.6 909h23.7v6.4h-23.7zM1078.2 909h6.4v6.4h-6.4zM1078.2 914.8h6.4v6.4h-6.4zM1170.7 914.8h6.4v6.4h-6.4zM1355.7 914.8h12.2v6.4h-12.2zM1078.2 920.6h6.4v6.4h-6.4zM1170.7 920.6h6.4v6.4h-6.4zM1390.4 920.6h6.4v6.4h-6.4zM1078.2 926.4h6.4v6.4h-6.4zM1396.2 926.4h6.4v6.4h-6.4zM1078.2 932.2h6.4v6.4h-6.4zM1402 932.2h6.4v6.4h-6.4zM1072.4 938h6.4v6.4h-6.4zM1176.5 938h6.4v6.4h-6.4zM1072.4 943.7h6.4v6.4h-6.4zM1176.5 943.7h6.4v6.4h-6.4zM1471.4 943.7h6.4v6.4h-6.4zM1072.4 949.5h6.4v6.4h-6.4zM1176.5 949.5h6.4v6.4h-6.4zM1442.5 949.5h17.9v6.4h-17.9zM1118.7 955.3h6.4v6.4h-6.4zM1176.5 955.3h6.4v6.4h-6.4zM1118.7 961.1h6.4v6.4h-6.4zM1176.5 961.1h6.4v6.4h-6.4z"/>
<path fill="#1bd0d5" d="M1014.6 758.7h127.8v6.4h-127.8zM1014.6 764.5h12.2v6.4h-12.2zM1130.2 764.5h12.2v6.4h-12.2zM1014.6 770.3h6.4v6.4h-6.4zM1136 770.3h6.4v6.4h-6.4zM1014.6 776h6.4v6.4h-6.4zM1136 776h6.4v6.4h-6.4zM1014.6 781.8h6.4v6.4h-6.4zM1136 781.8h6.4v6.4h-6.4zM1136 787.6h6.4v6.4h-6.4zM922 793.4h6.4v6.4h-6.4zM1136 793.4h6.4v6.4h-6.4zM922 799.2h6.4v6.4h-6.4zM1136 799.2h6.4v6.4h-6.4zM922 805h6.4v6.4h-6.4zM1031.9 805h6.4v6.4h-6.4zM1136 805h6.4v6.4h-6.4zM916.3 810.7h6.4v6.4h-6.4zM1037.7 810.7h6.4v6.4h-6.4zM1136 810.7h6.4v6.4h-6.4zM904.7 816.5h12.2v6.4h-12.2zM1130.2 822.3h6.4v6.4h-6.4zM1055 828.1h6.4v6.4h-6.4zM1118.7 828.1h6.4v6.4h-6.4zM1060.8 833.9h6.4v6.4h-6.4zM1107.1 833.9h6.4v6.4h-6.4zM1072.4 839.7h23.7v6.4h-23.7zM1112.9 845.4h6.4v6.4h-6.4zM1130.2 845.4h6.4v6.4h-6.4zM922 851.2h17.9v6.4h-17.9zM1136 851.2h6.4v6.4h-6.4zM922 857h6.4v6.4h-6.4zM939.4 857h6.4v6.4h-6.4zM916.3 862.8h6.4v6.4h-6.4zM945.2 862.8h6.4v6.4h-6.4zM1107.1 862.8h6.4v6.4h-6.4zM916.3 868.6h6.4v6.4h-6.4zM945.2 868.6h6.4v6.4h-6.4zM1153.3 868.6h6.4v6.4h-6.4zM1361.5 868.6h12.2v6.4h-12.2zM1384.6 868.6h6.4v6.4h-6.4zM916.3 874.4h6.4v6.4h-6.4zM1153.3 874.4h6.4v6.4h-6.4zM1396.2 874.4h6.4v6.4h-6.4zM916.3 880.1h6.4v6.4h-6.4zM951 880.1h6.4v6.4h-6.4zM1101.3 880.1h6.4v6.4h-6.4zM1153.3 880.1h6.4v6.4h-6.4zM1402 880.1h6.4v6.4h-6.4zM916.3 885.9h6.4v6.4h-6.4zM951 885.9h6.4v6.4h-6.4zM1095.5 885.9h6.4v6.4h-6.4zM1407.8 885.9h6.4v6.4h-6.4zM951 891.7h6.4v6.4h-6.4zM1089.7 891.7h6.4v6.4h-6.4zM1159.1 891.7h6.4v6.4h-6.4zM1419.3 891.7h6.4v6.4h-6.4zM922 897.5h6.4v6.4h-6.4zM951 897.5h6.4v6.4h-6.4zM1084 897.5h6.4v6.4h-6.4zM1471.4 897.5h6.4v6.4h-6.4zM927.8 903.3h23.7v6.4h-23.7zM1084 903.3h6.4v6.4h-6.4zM1164.9 903.3h6.4v6.4h-6.4zM1344.2 903.3h6.4v6.4h-6.4zM1523.4 903.3h6.4v6.4h-6.4zM1084 909h6.4v6.4h-6.4zM1164.9 909h6.4v6.4h-6.4zM1350 909h6.4v6.4h-6.4zM1084 914.8h6.4v6.4h-6.4zM1367.3 914.8h17.9v6.4h-17.9zM1084 920.6h6.4v6.4h-6.4zM1084 926.4h6.4v6.4h-6.4zM1170.7 926.4h6.4v6.4h-6.4zM1084 932.2h6.4v6.4h-6.4zM1170.7 932.2h6.4v6.4h-6.4zM1078.2 938h6.4v6.4h-6.4zM1118.7 938h6.4v6.4h-6.4zM1170.7 938h6.4v6.4h-6.4zM1413.6 938h6.4v6.4h-6.4zM1483 938h46.9v6.4h-46.9zM1078.2 943.7h6.4v6.4h-6.4zM1118.7 943.7h6.4v6.4h-6.4zM1425.1 943.7h6.4v6.4h-6.4zM1465.6 943.7h6.4v6.4h-6.4zM1118.7 949.5h6.4v6.4h-6.4zM1072.4 955.3h6.4v6.4h-6.4zM1072.4 961.1h6.4v6.4h-6.4z"/>
<path fill="#8bff4b" d="M1240.1 758.7h6.4v6.4h-6.4zM1430.9 758.7h6.4v6.4h-6.4zM1240.1 764.5h6.4v6.4h-6.4zM1430.9 764.5h6.4v6.4h-6.4zM945.2 770.3h12.2v6.4h-12.2zM1234.3 770.3h6.4v6.4h-6.4zM1436.7 770.3h6.4v6.4h-6.4zM951 776h12.2v6.4h-12.2zM1228.5 776h6.4v6.4h-6.4zM1454 776h6.4v6.4h-6.4zM956.7 781.8h6.4v6.4h-6.4zM1222.7 781.8h6.4v6.4h-6.4zM1459.8 781.8h12.2v6.4h-12.2zM945.2 787.6h6.4v6.4h-6.4zM962.5 787.6h6.4v6.4h-6.4zM1217 787.6h6.4v6.4h-6.4zM1471.4 787.6h6.4v6.4h-6.4zM951 793.4h6.4v6.4h-6.4zM968.3 793.4h6.4v6.4h-6.4zM1211.2 793.4h6.4v6.4h-6.4zM1483 793.4h6.4v6.4h-6.4zM1205.4 799.2h6.4v6.4h-6.4zM1488.7 799.2h6.4v6.4h-6.4zM974.1 805h6.4v6.4h-6.4zM1199.6 805h6.4v6.4h-6.4zM1494.5 805h6.4v6.4h-6.4zM979.9 810.7h6.4v6.4h-6.4zM1188 810.7h6.4v6.4h-6.4zM1500.3 810.7h6.4v6.4h-6.4zM956.7 816.5h6.4v6.4h-6.4zM985.7 816.5h6.4v6.4h-6.4zM1182.3 816.5h6.4v6.4h-6.4zM1506.1 816.5h6.4v6.4h-6.4zM956.7 822.3h6.4v6.4h-6.4zM1176.5 822.3h6.4v6.4h-6.4zM1511.9 822.3h6.4v6.4h-6.4zM956.7 828.1h6.4v6.4h-6.4zM991.4 828.1h6.4v6.4h-6.4zM1170.7 828.1h6.4v6.4h-6.4zM997.2 833.9h6.4v6.4h-6.4zM1164.9 833.9h6.4v6.4h-6.4zM962.5 839.7h6.4v6.4h-6.4zM997.2 839.7h6.4v6.4h-6.4zM1164.9 839.7h6.4v6.4h-6.4zM968.3 845.4h6.4v6.4h-6.4zM1003 845.4h6.4v6.4h-6.4zM1170.7 845.4h6.4v6.4h-6.4zM974.1 857h6.4v6.4h-6.4zM1176.5 857h6.4v6.4h-6.4zM1355.7 857h12.2v6.4h-12.2zM1396.2 857h6.4v6.4h-6.4zM974.1 862.8h6.4v6.4h-6.4zM1008.8 862.8h6.4v6.4h-6.4zM1332.6 862.8h6.4v6.4h-6.4zM1402 862.8h6.4v6.4h-6.4zM1517.6 862.8h6.4v6.4h-6.4zM1014.6 868.6h6.4v6.4h-6.4zM979.9 874.4h6.4v6.4h-6.4zM1014.6 874.4h6.4v6.4h-6.4zM1182.3 874.4h6.4v6.4h-6.4zM1511.9 874.4h6.4v6.4h-6.4zM985.7 880.1h6.4v6.4h-6.4zM1020.4 880.1h6.4v6.4h-6.4zM1182.3 880.1h6.4v6.4h-6.4zM1326.8 880.1h6.4v6.4h-6.4zM1430.9 880.1h17.9v6.4h-17.9zM1020.4 885.9h6.4v6.4h-6.4zM1182.3 885.9h6.4v6.4h-6.4zM1326.8 885.9h6.4v6.4h-6.4zM1454 885.9h6.4v6.4h-6.4zM991.4 891.7h6.4v6.4h-6.4zM1188 891.7h6.4v6.4h-6.4zM997.2 897.5h6.4v6.4h-6.4zM1193.8 897.5h6.4v6.4h-6.4zM997.2 903.3h12.2v6.4h-12.2zM1020.4 903.3h6.4v6.4h-6.4zM1003 909h12.2v6.4h-12.2zM1020.4 909h6.4v6.4h-6.4zM1297.9 909h6.4v6.4h-6.4zM904.7 914.8h6.4v6.4h-6.4zM1008.8 914.8h12.2v6.4h-12.2zM1292.1 914.8h6.4v6.4h-6.4zM1199.6 920.6h6.4v6.4h-6.4zM1292.1 920.6h6.4v6.4h-6.4zM916.3 926.4h6.4v6.4h-6.4zM1205.4 926.4h6.4v6.4h-6.4zM1286.3 926.4h6.4v6.4h-6.4zM916.3 932.2h6.4v6.4h-6.4zM1217 932.2h6.4v6.4h-6.4zM1274.8 932.2h12.2v6.4h-12.2zM1332.6 932.2h23.7v6.4h-23.7zM1373.1 932.2h6.4v6.4h-6.4zM1222.7 938h12.2v6.4h-12.2zM1269 938h6.4v6.4h-6.4zM1332.6 938h6.4v6.4h-6.4zM1384.6 938h6.4v6.4h-6.4zM1234.3 943.7h12.2v6.4h-12.2zM1257.4 943.7h12.2v6.4h-12.2zM1332.6 943.7h6.4v6.4h-6.4zM922 949.5h6.4v6.4h-6.4zM1338.4 949.5h6.4v6.4h-6.4zM1407.8 949.5h6.4v6.4h-6.4zM922 955.3h6.4v6.4h-6.4zM1344.2 955.3h6.4v6.4h-6.4zM1419.3 955.3h6.4v6.4h-6.4zM922 961.1h6.4v6.4h-6.4zM1344.2 961.1h6.4v6.4h-6.4z"/>
<path fill="#9cfe40" d="M1245.9 758.7h12.2v6.4h-12.2zM1419.3 758.7h12.2v6.4h-12.2zM1245.9 764.5h6.4v6.4h-6.4zM1425.1 764.5h6.4v6.4h-6.4zM1240.1 770.3h12.2v6.4h-12.2zM1425.1 770.3h12.2v6.4h-12.2zM945.2 776h6.4v6.4h-6.4zM1234.3 776h12.2v6.4h-12.2zM1430.9 776h23.7v6.4h-23.7zM945.2 781.8h12.2v6.4h-12.2zM1228.5 781.8h6.4v6.4h-6.4zM1454 781.8h6.4v6.4h-6.4zM951 787.6h12.2v6.4h-12.2zM1222.7 787.6h6.4v6.4h-6.4zM1459.8 787.6h12.2v6.4h-12.2zM956.7 793.4h12.2v6.4h-12.2zM1217 793.4h6.4v6.4h-6.4zM1465.6 793.4h17.9v6.4h-17.9zM956.7 799.2h17.9v6.4h-17.9zM1211.2 799.2h6.4v6.4h-6.4zM956.7 805h6.4v6.4h-6.4zM968.3 805h6.4v6.4h-6.4zM1205.4 805h6.4v6.4h-6.4zM1488.7 805h6.4v6.4h-6.4zM956.7 810.7h6.4v6.4h-6.4zM974.1 810.7h6.4v6.4h-6.4zM1193.8 810.7h12.2v6.4h-12.2zM1494.5 810.7h6.4v6.4h-6.4zM985.7 822.3h6.4v6.4h-6.4zM1182.3 822.3h6.4v6.4h-6.4zM1506.1 822.3h6.4v6.4h-6.4zM985.7 828.1h6.4v6.4h-6.4zM1176.5 828.1h6.4v6.4h-6.4zM1511.9 828.1h17.9v6.4h-17.9zM962.5 833.9h6.4v6.4h-6.4zM985.7 833.9h12.2v6.4h-12.2zM1170.7 833.9h6.4v6.4h-6.4zM968.3 839.7h6.4v6.4h-6.4zM991.4 839.7h6.4v6.4h-6.4zM1170.7 839.7h6.4v6.4h-6.4zM974.1 845.4h6.4v6.4h-6.4zM997.2 845.4h6.4v6.4h-6.4zM1176.5 845.4h6.4v6.4h-6.4zM974.1 851.2h6.4v6.4h-6.4zM1003 851.2h6.4v6.4h-6.4zM1176.5 851.2h6.4v6.4h-6.4zM1003 857h6.4v6.4h-6.4zM1182.3 857h6.4v6.4h-6.4zM1350 857h6.4v6.4h-6.4zM1402 857h6.4v6.4h-6.4zM1003 862.8h6.4v6.4h-6.4zM1182.3 862.8h6.4v6.4h-6.4zM1326.8 862.8h6.4v6.4h-6.4zM979.9 868.6h6.4v6.4h-6.4zM1003 868.6h12.2v6.4h-12.2zM1182.3 868.6h6.4v6.4h-6.4zM1321 868.6h6.4v6.4h-6.4zM1511.9 868.6h6.4v6.4h-6.4zM985.7 874.4h6.4v6.4h-6.4zM1008.8 874.4h6.4v6.4h-6.4zM1321 874.4h6.4v6.4h-6.4zM991.4 880.1h6.4v6.4h-6.4zM1014.6 880.1h6.4v6.4h-6.4zM1321 880.1h6.4v6.4h-6.4zM1448.3 880.1h6.4v6.4h-6.4zM991.4 885.9h6.4v6.4h-6.4zM1459.8 885.9h6.4v6.4h-6.4zM1506.1 885.9h6.4v6.4h-6.4zM997.2 891.7h6.4v6.4h-6.4zM1020.4 891.7h6.4v6.4h-6.4zM1309.5 891.7h17.9v6.4h-17.9zM1003 897.5h6.4v6.4h-6.4zM1020.4 897.5h6.4v6.4h-6.4zM1303.7 897.5h6.4v6.4h-6.4zM1008.8 903.3h6.4v6.4h-6.4zM1199.6 903.3h6.4v6.4h-6.4zM1297.9 903.3h6.4v6.4h-6.4zM1014.6 909h6.4v6.4h-6.4zM1199.6 909h6.4v6.4h-6.4zM1292.1 909h6.4v6.4h-6.4zM1199.6 914.8h6.4v6.4h-6.4zM910.5 920.6h6.4v6.4h-6.4zM1286.3 920.6h6.4v6.4h-6.4zM1211.2 926.4h12.2v6.4h-12.2zM1274.8 926.4h12.2v6.4h-12.2zM1222.7 932.2h12.2v6.4h-12.2zM1269 932.2h6.4v6.4h-6.4zM1355.7 932.2h17.9v6.4h-17.9zM916.3 938h6.4v6.4h-6.4zM1234.3 938h6.4v6.4h-6.4zM1263.2 938h6.4v6.4h-6.4zM1338.4 938h6.4v6.4h-6.4zM916.3 943.7h6.4v6.4h-6.4zM1245.9 943.7h12.2v6.4h-12.2zM1338.4 943.7h6.4v6.4h-6.4zM1390.4 943.7h6.4v6.4h-6.4zM916.3 949.5h6.4v6.4h-6.4zM1344.2 949.5h6.4v6.4h-6.4zM916.3 955.3h6.4v6.4h-6.4zM1413.6 955.3h6.4v6.4h-6.4zM916.3 961.1h6.4v6.4h-6.4zM1419.3 961.1h6.4v6.4h-6.4z"/>
<path fill="#a9fb39" d="M1257.4 758.7h12.2v6.4h-12.2zM1402 758.7h17.9v6.4h-17.9zM1251.7 764.5h12.2v6.4h-12.2zM1407.8 764.5h17.9v6.4h-17.9zM1251.7 770.3h6.4v6.4h-6.4zM1407.8 770.3h17.9v6.4h-17.9zM1245.9 776h6.4v6.4h-6.4zM1413.6 776h17.9v6.4h-17.9zM1234.3 781.8h6.4v6.4h-6.4zM1425.1 781.8h29.5v6.4h-29.5zM1228.5 787.6h6.4v6.4h-6.4zM1436.7 787.6h23.7v6.4h-23.7zM1222.7 793.4h6.4v6.4h-6.4zM1448.3 793.4h17.9v6.4h-17.9zM1217 799.2h6.4v6.4h-6.4zM1459.8 799.2h29.5v6.4h-29.5zM962.5 805h6.4v6.4h-6.4zM1211.2 805h6.4v6.4h-6.4zM1471.4 805h17.9v6.4h-17.9zM962.5 810.7h12.2v6.4h-12.2zM1205.4 810.7h6.4v6.4h-6.4zM1483 810.7h12.2v6.4h-12.2zM962.5 816.5h23.7v6.4h-23.7zM1188 816.5h17.9v6.4h-17.9zM1494.5 816.5h12.2v6.4h-12.2zM962.5 822.3h23.7v6.4h-23.7zM1188 822.3h6.4v6.4h-6.4zM1500.3 822.3h6.4v6.4h-6.4zM962.5 828.1h23.7v6.4h-23.7zM1182.3 828.1h6.4v6.4h-6.4zM1506.1 828.1h6.4v6.4h-6.4zM968.3 833.9h17.9v6.4h-17.9zM1176.5 833.9h12.2v6.4h-12.2zM1511.9 833.9h17.9v6.4h-17.9zM974.1 839.7h17.9v6.4h-17.9zM1176.5 839.7h12.2v6.4h-12.2zM979.9 845.4h17.9v6.4h-17.9zM1182.3 845.4h6.4v6.4h-6.4zM979.9 851.2h23.7v6.4h-23.7zM1182.3 851.2h6.4v6.4h-6.4zM1373.1 851.2h29.5v6.4h-29.5zM979.9 857h23.7v6.4h-23.7zM1344.2 857h6.4v6.4h-6.4zM1517.6 857h12.2v6.4h-12.2zM979.9 862.8h23.7v6.4h-23.7zM1188 862.8h6.4v6.4h-6.4zM1511.9 862.8h6.4v6.4h-6.4zM985.7 868.6h17.9v6.4h-17.9zM1188 868.6h6.4v6.4h-6.4zM1315.3 868.6h6.4v6.4h-6.4zM1407.8 868.6h6.4v6.4h-6.4zM991.4 874.4h17.9v6.4h-17.9zM1188 874.4h6.4v6.4h-6.4zM1315.3 874.4h6.4v6.4h-6.4zM1413.6 874.4h6.4v6.4h-6.4zM1442.5 874.4h12.2v6.4h-12.2zM997.2 880.1h17.9v6.4h-17.9zM1188 880.1h6.4v6.4h-6.4zM1315.3 880.1h6.4v6.4h-6.4zM1454 880.1h6.4v6.4h-6.4zM997.2 885.9h23.7v6.4h-23.7zM1188 885.9h6.4v6.4h-6.4zM1315.3 885.9h12.2v6.4h-12.2zM1003 891.7h17.9v6.4h-17.9zM1193.8 891.7h6.4v6.4h-6.4zM1303.7 891.7h6.4v6.4h-6.4zM1008.8 897.5h12.2v6.4h-12.2zM1199.6 897.5h6.4v6.4h-6.4zM1297.9 897.5h6.4v6.4h-6.4zM1014.6 903.3h6.4v6.4h-6.4zM1292.1 903.3h6.4v6.4h-6.4zM1205.4 909h6.4v6.4h-6.4zM1205.4 914.8h6.4v6.4h-6.4zM1286.3 914.8h6.4v6.4h-6.4zM904.7 920.6h6.4v6.4h-6.4zM1205.4 920.6h17.9v6.4h-17.9zM1274.8 920.6h12.2v6.4h-12.2zM904.7 926.4h12.2v6.4h-12.2zM1222.7 926.4h12.2v6.4h-12.2zM1269 926.4h6.4v6.4h-6.4zM904.7 932.2h12.2v6.4h-12.2zM1234.3 932.2h6.4v6.4h-6.4zM1263.2 932.2h6.4v6.4h-6.4zM904.7 938h12.2v6.4h-12.2zM1240.1 938h23.7v6.4h-23.7zM1344.2 938h6.4v6.4h-6.4zM1378.9 938h6.4v6.4h-6.4zM904.7 943.7h12.2v6.4h-12.2zM1344.2 943.7h6.4v6.4h-6.4zM904.7 949.5h12.2v6.4h-12.2zM1402 949.5h6.4v6.4h-6.4zM904.7 955.3h12.2v6.4h-12.2zM1350 955.3h6.4v6.4h-6.4zM904.7 961.1h12.2v6.4h-12.2zM1350 961.1h6.4v6.4h-6.4zM1413.6 961.1h6.4v6.4h-6.4z"/>
<path fill="#b7f735" d="M1269 758.7h133.6v6.4h-133.6zM1263.2 764.5h145.2v6.4h-145.2zM1257.4 770.3h12.2v6.4h-12.2zM1355.7 770.3h52.6v6.4h-52.6zM1251.7 776h6.4v6.4h-6.4zM1384.6 776h29.5v6.4h-29.5zM1240.1 781.8h12.2v6.4h-12.2zM1396.2 781.8h29.5v6.4h-29.5zM1234.3 787.6h6.4v6.4h-6.4zM1419.3 787.6h17.9v6.4h-17.9zM1228.5 793.4h6.4v6.4h-6.4zM1425.1 793.4h23.7v6.4h-23.7zM1222.7 799.2h6.4v6.4h-6.4zM1430.9 799.2h29.5v6.4h-29.5zM1217 805h6.4v6.4h-6.4zM1442.5 805h29.5v6.4h-29.5zM1211.2 810.7h6.4v6.4h-6.4zM1454 810.7h29.5v6.4h-29.5zM1205.4 816.5h6.4v6.4h-6.4zM1465.6 816.5h29.5v6.4h-29.5zM1193.8 822.3h12.2v6.4h-12.2zM1488.7 822.3h12.2v6.4h-12.2zM1188 828.1h12.2v6.4h-12.2zM1494.5 828.1h12.2v6.4h-12.2zM1188 833.9h6.4v6.4h-6.4zM1500.3 833.9h12.2v6.4h-12.2zM1188 839.7h6.4v6.4h-6.4zM1511.9 839.7h17.9v6.4h-17.9zM1188 845.4h6.4v6.4h-6.4zM1378.9 845.4h12.2v6.4h-12.2zM1188 851.2h6.4v6.4h-6.4zM1361.5 851.2h12.2v6.4h-12.2zM1402 851.2h6.4v6.4h-6.4zM1188 857h6.4v6.4h-6.4zM1338.4 857h6.4v6.4h-6.4zM1321 862.8h6.4v6.4h-6.4zM1407.8 862.8h6.4v6.4h-6.4zM1448.3 868.6h6.4v6.4h-6.4zM1419.3 874.4h23.7v6.4h-23.7zM1454 874.4h6.4v6.4h-6.4zM1309.5 880.1h6.4v6.4h-6.4zM1506.1 880.1h6.4v6.4h-6.4zM1193.8 885.9h6.4v6.4h-6.4zM1309.5 885.9h6.4v6.4h-6.4zM1465.6 885.9h12.2v6.4h-12.2zM1205.4 903.3h12.2v6.4h-12.2zM1211.2 909h12.2v6.4h-12.2zM1286.3 909h6.4v6.4h-6.4zM1211.2 914.8h17.9v6.4h-17.9zM1280.6 914.8h6.4v6.4h-6.4zM1222.7 920.6h12.2v6.4h-12.2zM1269 920.6h6.4v6.4h-6.4zM1234.3 926.4h6.4v6.4h-6.4zM1263.2 926.4h6.4v6.4h-6.4zM1240.1 932.2h23.7v6.4h-23.7zM1350 938h6.4v6.4h-6.4zM1373.1 938h6.4v6.4h-6.4zM1350 943.7h6.4v6.4h-6.4zM1384.6 943.7h6.4v6.4h-6.4zM1350 949.5h6.4v6.4h-6.4zM1407.8 955.3h6.4v6.4h-6.4z"/>
<path fill="#22c5e2" d="M1026.1 764.5h104.7v6.4h-104.7zM1020.4 770.3h17.9v6.4h-17.9zM1124.4 770.3h12.2v6.4h-12.2zM916.3 776h6.4v6.4h-6.4zM1020.4 776h6.4v6.4h-6.4zM1130.2 776h6.4v6.4h-6.4zM916.3 781.8h6.4v6.4h-6.4zM1020.4 781.8h6.4v6.4h-6.4zM1020.4 787.6h6.4v6.4h-6.4zM1026.1 793.4h6.4v6.4h-6.4zM1031.9 799.2h6.4v6.4h-6.4zM916.3 805h6.4v6.4h-6.4zM1037.7 805h6.4v6.4h-6.4zM910.5 810.7h6.4v6.4h-6.4zM1043.5 816.5h6.4v6.4h-6.4zM1130.2 816.5h6.4v6.4h-6.4zM1049.3 822.3h6.4v6.4h-6.4zM1124.4 822.3h6.4v6.4h-6.4zM1112.9 828.1h6.4v6.4h-6.4zM1066.6 833.9h12.2v6.4h-12.2zM1095.5 833.9h12.2v6.4h-12.2zM1118.7 845.4h12.2v6.4h-12.2zM1112.9 851.2h6.4v6.4h-6.4zM927.8 857h12.2v6.4h-12.2zM1141.8 857h6.4v6.4h-6.4zM922 862.8h6.4v6.4h-6.4zM939.4 862.8h6.4v6.4h-6.4zM1147.6 862.8h6.4v6.4h-6.4zM939.4 868.6h6.4v6.4h-6.4zM1107.1 868.6h6.4v6.4h-6.4zM1373.1 868.6h12.2v6.4h-12.2zM945.2 874.4h6.4v6.4h-6.4zM1350 874.4h6.4v6.4h-6.4zM945.2 880.1h6.4v6.4h-6.4zM1344.2 880.1h6.4v6.4h-6.4zM1101.3 885.9h6.4v6.4h-6.4zM1153.3 885.9h6.4v6.4h-6.4zM922 891.7h6.4v6.4h-6.4zM945.2 891.7h6.4v6.4h-6.4zM1095.5 891.7h6.4v6.4h-6.4zM1413.6 891.7h6.4v6.4h-6.4zM927.8 897.5h23.7v6.4h-23.7zM1089.7 897.5h6.4v6.4h-6.4zM1159.1 897.5h6.4v6.4h-6.4zM1344.2 897.5h6.4v6.4h-6.4zM1465.6 897.5h6.4v6.4h-6.4zM1089.7 903.3h6.4v6.4h-6.4zM1350 903.3h6.4v6.4h-6.4zM1511.9 903.3h12.2v6.4h-12.2zM1118.7 909h6.4v6.4h-6.4zM1355.7 909h6.4v6.4h-6.4zM1118.7 914.8h6.4v6.4h-6.4zM1164.9 914.8h6.4v6.4h-6.4zM1384.6 914.8h12.2v6.4h-12.2zM1118.7 920.6h6.4v6.4h-6.4zM1164.9 920.6h6.4v6.4h-6.4zM1396.2 920.6h6.4v6.4h-6.4zM1112.9 926.4h12.2v6.4h-12.2zM1402 926.4h6.4v6.4h-6.4zM1112.9 932.2h12.2v6.4h-12.2zM1407.8 932.2h6.4v6.4h-6.4zM1084 938h6.4v6.4h-6.4zM1112.9 938h6.4v6.4h-6.4zM1477.2 938h6.4v6.4h-6.4zM1112.9 943.7h6.4v6.4h-6.4zM1170.7 943.7h6.4v6.4h-6.4zM1078.2 949.5h6.4v6.4h-6.4zM1112.9 949.5h6.4v6.4h-6.4zM1170.7 949.5h6.4v6.4h-6.4zM1112.9 955.3h6.4v6.4h-6.4zM1170.7 955.3h6.4v6.4h-6.4zM1112.9 961.1h6.4v6.4h-6.4zM1170.7 961.1h6.4v6.4h-6.4z"/>
<path fill="#31aff5" d="M1072.4 770.3h29.5v6.4h-29.5zM1031.9 776h29.5v6.4h-29.5zM1112.9 776h12.2v6.4h-12.2zM1031.9 781.8h6.4v6.4h-6.4zM1124.4 781.8h6.4v6.4h-6.4zM910.5 787.6h6.4v6.4h-6.4zM1031.9 787.6h12.2v6.4h-12.2zM1124.4 787.6h6.4v6.4h-6.4zM1037.7 793.4h6.4v6.4h-6.4zM910.5 799.2h6.4v6.4h-6.4zM904.7 805h6.4v6.4h-6.4zM1043.5 805h6.4v6.4h-6.4zM1124.4 816.5h6.4v6.4h-6.4zM1118.7 822.3h6.4v6.4h-6.4zM1066.6 828.1h6.4v6.4h-6.4zM1101.3 828.1h6.4v6.4h-6.4zM1118.7 851.2h12.2v6.4h-12.2zM1130.2 857h6.4v6.4h-6.4zM1112.9 862.8h6.4v6.4h-6.4zM927.8 868.6h12.2v6.4h-12.2zM927.8 874.4h12.2v6.4h-12.2zM1361.5 874.4h6.4v6.4h-6.4zM927.8 880.1h12.2v6.4h-12.2zM1350 880.1h6.4v6.4h-6.4zM1396.2 880.1h6.4v6.4h-6.4zM927.8 885.9h12.2v6.4h-12.2zM1147.6 885.9h6.4v6.4h-6.4zM1402 885.9h6.4v6.4h-6.4zM1112.9 891.7h6.4v6.4h-6.4zM1147.6 891.7h6.4v6.4h-6.4zM1407.8 891.7h6.4v6.4h-6.4zM1101.3 897.5h23.7v6.4h-23.7zM1153.3 897.5h6.4v6.4h-6.4zM1350 897.5h6.4v6.4h-6.4zM1430.9 897.5h23.7v6.4h-23.7zM1095.5 903.3h17.9v6.4h-17.9zM1124.4 903.3h6.4v6.4h-6.4zM1355.7 903.3h6.4v6.4h-6.4zM1494.5 903.3h6.4v6.4h-6.4zM1095.5 909h17.9v6.4h-17.9zM1124.4 909h6.4v6.4h-6.4zM1159.1 909h6.4v6.4h-6.4zM1384.6 909h12.2v6.4h-12.2zM1506.1 909h6.4v6.4h-6.4zM1095.5 914.8h17.9v6.4h-17.9zM1124.4 914.8h6.4v6.4h-6.4zM1159.1 914.8h6.4v6.4h-6.4zM1511.9 914.8h17.9v6.4h-17.9zM1095.5 920.6h17.9v6.4h-17.9zM1124.4 920.6h6.4v6.4h-6.4zM1517.6 920.6h12.2v6.4h-12.2zM1095.5 926.4h17.9v6.4h-17.9zM1124.4 926.4h6.4v6.4h-6.4zM1477.2 926.4h52.6v6.4h-52.6zM1095.5 932.2h12.2v6.4h-12.2zM1471.4 932.2h6.4v6.4h-6.4zM1095.5 938h6.4v6.4h-6.4zM1164.9 938h6.4v6.4h-6.4zM1465.6 938h6.4v6.4h-6.4zM1089.7 943.7h6.4v6.4h-6.4zM1107.1 943.7h6.4v6.4h-6.4zM1164.9 943.7h6.4v6.4h-6.4zM1436.7 943.7h23.7v6.4h-23.7zM1084 949.5h6.4v6.4h-6.4zM1107.1 949.5h6.4v6.4h-6.4zM1164.9 949.5h6.4v6.4h-6.4zM1084 955.3h6.4v6.4h-6.4zM1107.1 955.3h6.4v6.4h-6.4zM1164.9 955.3h6.4v6.4h-6.4zM1107.1 961.1h6.4v6.4h-6.4zM1164.9 961.1h6.4v6.4h-6.4z"/>
<path fill="#c1f334" d="M1269 770.3h87.3v6.4h-87.3zM1257.4 776h12.2v6.4h-12.2zM1355.7 776h29.5v6.4h-29.5zM1251.7 781.8h6.4v6.4h-6.4zM1384.6 781.8h12.2v6.4h-12.2zM1240.1 787.6h12.2v6.4h-12.2zM1407.8 787.6h12.2v6.4h-12.2zM1234.3 793.4h6.4v6.4h-6.4zM1419.3 793.4h6.4v6.4h-6.4zM1228.5 799.2h6.4v6.4h-6.4zM1425.1 799.2h6.4v6.4h-6.4zM1222.7 805h6.4v6.4h-6.4zM1430.9 805h12.2v6.4h-12.2zM1217 810.7h6.4v6.4h-6.4zM1442.5 810.7h12.2v6.4h-12.2zM1211.2 816.5h6.4v6.4h-6.4zM1454 816.5h12.2v6.4h-12.2zM1205.4 822.3h6.4v6.4h-6.4zM1471.4 822.3h17.9v6.4h-17.9zM1199.6 828.1h6.4v6.4h-6.4zM1488.7 828.1h6.4v6.4h-6.4zM1193.8 833.9h6.4v6.4h-6.4zM1494.5 833.9h6.4v6.4h-6.4zM1193.8 839.7h6.4v6.4h-6.4zM1378.9 839.7h12.2v6.4h-12.2zM1500.3 839.7h12.2v6.4h-12.2zM1193.8 845.4h6.4v6.4h-6.4zM1367.3 845.4h12.2v6.4h-12.2zM1390.4 845.4h12.2v6.4h-12.2zM1511.9 845.4h17.9v6.4h-17.9zM1193.8 851.2h6.4v6.4h-6.4zM1355.7 851.2h6.4v6.4h-6.4zM1407.8 851.2h6.4v6.4h-6.4zM1517.6 851.2h12.2v6.4h-12.2zM1193.8 857h6.4v6.4h-6.4zM1332.6 857h6.4v6.4h-6.4zM1407.8 857h6.4v6.4h-6.4zM1511.9 857h6.4v6.4h-6.4zM1193.8 862.8h6.4v6.4h-6.4zM1315.3 862.8h6.4v6.4h-6.4zM1193.8 868.6h6.4v6.4h-6.4zM1309.5 868.6h6.4v6.4h-6.4zM1442.5 868.6h6.4v6.4h-6.4zM1454 868.6h6.4v6.4h-6.4zM1506.1 868.6h6.4v6.4h-6.4zM1193.8 874.4h6.4v6.4h-6.4zM1309.5 874.4h6.4v6.4h-6.4zM1459.8 874.4h6.4v6.4h-6.4zM1506.1 874.4h6.4v6.4h-6.4zM1193.8 880.1h6.4v6.4h-6.4zM1459.8 880.1h6.4v6.4h-6.4zM1303.7 885.9h6.4v6.4h-6.4zM1477.2 885.9h6.4v6.4h-6.4zM1500.3 885.9h6.4v6.4h-6.4zM1199.6 891.7h6.4v6.4h-6.4zM1297.9 891.7h6.4v6.4h-6.4zM1205.4 897.5h6.4v6.4h-6.4zM1292.1 897.5h6.4v6.4h-6.4zM1217 903.3h6.4v6.4h-6.4zM1286.3 903.3h6.4v6.4h-6.4zM1222.7 909h6.4v6.4h-6.4zM1280.6 909h6.4v6.4h-6.4zM1228.5 914.8h12.2v6.4h-12.2zM1269 914.8h12.2v6.4h-12.2zM1234.3 920.6h35.3v6.4h-35.3zM1240.1 926.4h23.7v6.4h-23.7zM1355.7 938h6.4v6.4h-6.4zM1367.3 938h6.4v6.4h-6.4zM1378.9 943.7h6.4v6.4h-6.4zM1355.7 949.5h6.4v6.4h-6.4zM1396.2 949.5h6.4v6.4h-6.4zM1355.7 955.3h6.4v6.4h-6.4zM1355.7 961.1h6.4v6.4h-6.4zM1407.8 961.1h6.4v6.4h-6.4z"/>
<path fill="#3aa3fc" d="M910.5 776h6.4v6.4h-6.4zM1060.8 776h12.2v6.4h-12.2zM1101.3 776h12.2v6.4h-12.2zM904.7 781.8h12.2v6.4h-12.2zM1037.7 781.8h17.9v6.4h-17.9zM1118.7 781.8h6.4v6.4h-6.4zM904.7 787.6h6.4v6.4h-6.4zM1043.5 787.6h6.4v6.4h-6.4zM904.7 793.4h12.2v6.4h-12.2zM1043.5 793.4h6.4v6.4h-6.4zM1124.4 793.4h6.4v6.4h-6.4zM904.7 799.2h6.4v6.4h-6.4zM1043.5 799.2h6.4v6.4h-6.4zM1124.4 799.2h6.4v6.4h-6.4zM1124.4 805h6.4v6.4h-6.4zM1049.3 810.7h6.4v6.4h-6.4zM1124.4 810.7h6.4v6.4h-6.4zM1055 816.5h6.4v6.4h-6.4zM1060.8 822.3h6.4v6.4h-6.4zM1112.9 822.3h6.4v6.4h-6.4zM1072.4 828.1h6.4v6.4h-6.4zM1095.5 828.1h6.4v6.4h-6.4zM1118.7 857h12.2v6.4h-12.2zM1136 862.8h6.4v6.4h-6.4zM1112.9 868.6h6.4v6.4h-6.4zM1141.8 868.6h6.4v6.4h-6.4zM1112.9 874.4h6.4v6.4h-6.4zM1141.8 874.4h6.4v6.4h-6.4zM1367.3 874.4h6.4v6.4h-6.4zM1384.6 874.4h6.4v6.4h-6.4zM1112.9 880.1h6.4v6.4h-6.4zM1141.8 880.1h6.4v6.4h-6.4zM1112.9 885.9h6.4v6.4h-6.4zM1141.8 885.9h6.4v6.4h-6.4zM1118.7 891.7h6.4v6.4h-6.4zM1350 891.7h6.4v6.4h-6.4zM1124.4 897.5h6.4v6.4h-6.4zM1147.6 897.5h6.4v6.4h-6.4zM1419.3 897.5h12.2v6.4h-12.2zM1153.3 903.3h6.4v6.4h-6.4zM1361.5 903.3h23.7v6.4h-23.7zM1483 903.3h12.2v6.4h-12.2zM1153.3 909h6.4v6.4h-6.4zM1396.2 909h6.4v6.4h-6.4zM1494.5 909h12.2v6.4h-12.2zM1402 914.8h6.4v6.4h-6.4zM1494.5 914.8h17.9v6.4h-17.9zM1159.1 920.6h6.4v6.4h-6.4zM1407.8 920.6h6.4v6.4h-6.4zM1471.4 920.6h46.9v6.4h-46.9zM1159.1 926.4h6.4v6.4h-6.4zM1413.6 926.4h6.4v6.4h-6.4zM1465.6 926.4h12.2v6.4h-12.2zM1419.3 932.2h6.4v6.4h-6.4zM1465.6 932.2h6.4v6.4h-6.4zM1101.3 938h6.4v6.4h-6.4zM1425.1 938h6.4v6.4h-6.4zM1095.5 943.7h12.2v6.4h-12.2zM1089.7 949.5h6.4v6.4h-6.4zM1084 961.1h6.4v6.4h-6.4z"/>
<path fill="#cdec34" d="M1269 776h87.3v6.4h-87.3zM1257.4 781.8h12.2v6.4h-12.2zM1355.7 781.8h29.5v6.4h-29.5zM1251.7 787.6h6.4v6.4h-6.4zM1396.2 787.6h12.2v6.4h-12.2zM1240.1 793.4h6.4v6.4h-6.4zM1413.6 793.4h6.4v6.4h-6.4zM1234.3 799.2h6.4v6.4h-6.4zM1419.3 799.2h6.4v6.4h-6.4zM1228.5 805h6.4v6.4h-6.4zM1425.1 805h6.4v6.4h-6.4zM1222.7 810.7h6.4v6.4h-6.4zM1430.9 810.7h12.2v6.4h-12.2zM1217 816.5h6.4v6.4h-6.4zM1442.5 816.5h12.2v6.4h-12.2zM1211.2 822.3h6.4v6.4h-6.4zM1459.8 822.3h12.2v6.4h-12.2zM1205.4 828.1h6.4v6.4h-6.4zM1483 828.1h6.4v6.4h-6.4zM1199.6 833.9h6.4v6.4h-6.4zM1373.1 833.9h17.9v6.4h-17.9zM1488.7 833.9h6.4v6.4h-6.4zM1199.6 839.7h6.4v6.4h-6.4zM1367.3 839.7h12.2v6.4h-12.2zM1390.4 839.7h12.2v6.4h-12.2zM1494.5 839.7h6.4v6.4h-6.4zM1199.6 845.4h6.4v6.4h-6.4zM1361.5 845.4h6.4v6.4h-6.4zM1402 845.4h6.4v6.4h-6.4zM1500.3 845.4h12.2v6.4h-12.2zM1199.6 851.2h6.4v6.4h-6.4zM1344.2 851.2h12.2v6.4h-12.2zM1413.6 851.2h6.4v6.4h-6.4zM1506.1 851.2h12.2v6.4h-12.2zM1199.6 857h6.4v6.4h-6.4zM1413.6 857h6.4v6.4h-6.4zM1506.1 857h6.4v6.4h-6.4zM1199.6 862.8h6.4v6.4h-6.4zM1309.5 862.8h6.4v6.4h-6.4zM1506.1 862.8h6.4v6.4h-6.4zM1199.6 868.6h6.4v6.4h-6.4zM1436.7 868.6h6.4v6.4h-6.4zM1459.8 868.6h6.4v6.4h-6.4zM1199.6 874.4h6.4v6.4h-6.4zM1199.6 880.1h6.4v6.4h-6.4zM1303.7 880.1h6.4v6.4h-6.4zM1465.6 880.1h6.4v6.4h-6.4zM1199.6 885.9h6.4v6.4h-6.4zM1297.9 885.9h6.4v6.4h-6.4zM1483 885.9h17.9v6.4h-17.9zM1205.4 891.7h6.4v6.4h-6.4zM1292.1 891.7h6.4v6.4h-6.4zM1211.2 897.5h12.2v6.4h-12.2zM1286.3 897.5h6.4v6.4h-6.4zM1222.7 903.3h12.2v6.4h-12.2zM1280.6 903.3h6.4v6.4h-6.4zM1228.5 909h12.2v6.4h-12.2zM1269 909h12.2v6.4h-12.2zM1240.1 914.8h29.5v6.4h-29.5zM1361.5 938h6.4v6.4h-6.4zM1355.7 943.7h6.4v6.4h-6.4zM1373.1 943.7h6.4v6.4h-6.4zM1390.4 949.5h6.4v6.4h-6.4zM1402 955.3h6.4v6.4h-6.4z"/>
<path fill="#4680f6" d="M1072.4 781.8h6.4v6.4h-6.4zM1095.5 781.8h6.4v6.4h-6.4zM1060.8 787.6h6.4v6.4h-6.4zM1107.1 787.6h6.4v6.4h-6.4zM1055 793.4h6.4v6.4h-6.4zM1112.9 793.4h6.4v6.4h-6.4zM1055 805h6.4v6.4h-6.4zM1060.8 810.7h6.4v6.4h-6.4zM1112.9 810.7h6.4v6.4h-6.4zM1107.1 816.5h6.4v6.4h-6.4zM1072.4 822.3h6.4v6.4h-6.4zM1095.5 822.3h6.4v6.4h-6.4zM1118.7 868.6h12.2v6.4h-12.2zM1118.7 874.4h17.9v6.4h-17.9zM1124.4 880.1h6.4v6.4h-6.4zM1367.3 880.1h6.4v6.4h-6.4zM1384.6 880.1h6.4v6.4h-6.4zM1355.7 885.9h6.4v6.4h-6.4zM1390.4 885.9h6.4v6.4h-6.4zM1390.4 891.7h6.4v6.4h-6.4zM1378.9 897.5h12.2v6.4h-12.2zM1407.8 903.3h29.5v6.4h-29.5zM1459.8 903.3h6.4v6.4h-6.4zM1413.6 909h6.4v6.4h-6.4zM1465.6 909h6.4v6.4h-6.4zM1136 914.8h12.2v6.4h-12.2zM1413.6 914.8h6.4v6.4h-6.4zM1459.8 914.8h6.4v6.4h-6.4zM1136 920.6h17.9v6.4h-17.9zM1419.3 920.6h6.4v6.4h-6.4zM1454 920.6h6.4v6.4h-6.4zM1136 926.4h6.4v6.4h-6.4zM1147.6 926.4h6.4v6.4h-6.4zM1425.1 926.4h6.4v6.4h-6.4zM1454 926.4h6.4v6.4h-6.4zM1153.3 932.2h6.4v6.4h-6.4zM1430.9 932.2h6.4v6.4h-6.4zM1454 932.2h6.4v6.4h-6.4zM1442.5 938h12.2v6.4h-12.2zM1130.2 955.3h6.4v6.4h-6.4zM1130.2 961.1h6.4v6.4h-6.4z"/>
<path fill="#4773eb" d="M1078.2 781.8h17.9v6.4h-17.9zM1066.6 787.6h6.4v6.4h-6.4zM1101.3 787.6h6.4v6.4h-6.4zM1060.8 793.4h6.4v6.4h-6.4zM1055 799.2h6.4v6.4h-6.4zM1112.9 799.2h6.4v6.4h-6.4zM1112.9 805h6.4v6.4h-6.4zM1107.1 810.7h6.4v6.4h-6.4zM1066.6 816.5h6.4v6.4h-6.4zM1101.3 816.5h6.4v6.4h-6.4zM1078.2 822.3h17.9v6.4h-17.9zM1373.1 880.1h12.2v6.4h-12.2zM1361.5 885.9h6.4v6.4h-6.4zM1361.5 891.7h12.2v6.4h-12.2zM1384.6 891.7h6.4v6.4h-6.4zM1436.7 903.3h23.7v6.4h-23.7zM1419.3 909h12.2v6.4h-12.2zM1454 909h12.2v6.4h-12.2zM1419.3 914.8h6.4v6.4h-6.4zM1454 914.8h6.4v6.4h-6.4zM1425.1 920.6h6.4v6.4h-6.4zM1448.3 920.6h6.4v6.4h-6.4zM1141.8 926.4h6.4v6.4h-6.4zM1430.9 926.4h6.4v6.4h-6.4zM1442.5 926.4h12.2v6.4h-12.2zM1136 932.2h17.9v6.4h-17.9zM1436.7 932.2h17.9v6.4h-17.9zM1136 938h23.7v6.4h-23.7zM1136 943.7h6.4v6.4h-6.4zM1153.3 943.7h6.4v6.4h-6.4zM1153.3 949.5h6.4v6.4h-6.4zM1153.3 955.3h6.4v6.4h-6.4zM1153.3 961.1h6.4v6.4h-6.4z"/>
<path fill="#d9e436" d="M1269 781.8h12.2v6.4h-12.2zM1344.2 781.8h12.2v6.4h-12.2zM1257.4 787.6h6.4v6.4h-6.4zM1378.9 787.6h17.9v6.4h-17.9zM1245.9 793.4h12.2v6.4h-12.2zM1407.8 793.4h6.4v6.4h-6.4zM1240.1 799.2h6.4v6.4h-6.4zM1413.6 799.2h6.4v6.4h-6.4zM1234.3 805h6.4v6.4h-6.4zM1419.3 805h6.4v6.4h-6.4zM1228.5 810.7h6.4v6.4h-6.4zM1222.7 816.5h6.4v6.4h-6.4zM1436.7 816.5h6.4v6.4h-6.4zM1217 822.3h6.4v6.4h-6.4zM1454 822.3h6.4v6.4h-6.4zM1211.2 828.1h6.4v6.4h-6.4zM1471.4 828.1h12.2v6.4h-12.2zM1205.4 833.9h6.4v6.4h-6.4zM1367.3 833.9h6.4v6.4h-6.4zM1390.4 833.9h6.4v6.4h-6.4zM1483 833.9h6.4v6.4h-6.4zM1205.4 839.7h6.4v6.4h-6.4zM1350 839.7h17.9v6.4h-17.9zM1402 839.7h6.4v6.4h-6.4zM1488.7 839.7h6.4v6.4h-6.4zM1205.4 845.4h6.4v6.4h-6.4zM1350 845.4h12.2v6.4h-12.2zM1407.8 845.4h12.2v6.4h-12.2zM1494.5 845.4h6.4v6.4h-6.4zM1205.4 851.2h6.4v6.4h-6.4zM1419.3 851.2h12.2v6.4h-12.2zM1500.3 851.2h6.4v6.4h-6.4zM1205.4 857h6.4v6.4h-6.4zM1309.5 857h23.7v6.4h-23.7zM1419.3 857h12.2v6.4h-12.2zM1205.4 862.8h6.4v6.4h-6.4zM1413.6 862.8h6.4v6.4h-6.4zM1430.9 862.8h29.5v6.4h-29.5zM1205.4 868.6h6.4v6.4h-6.4zM1303.7 868.6h6.4v6.4h-6.4zM1413.6 868.6h23.7v6.4h-23.7zM1205.4 874.4h6.4v6.4h-6.4zM1303.7 874.4h6.4v6.4h-6.4zM1465.6 874.4h6.4v6.4h-6.4zM1205.4 880.1h6.4v6.4h-6.4zM1297.9 880.1h6.4v6.4h-6.4zM1471.4 880.1h6.4v6.4h-6.4zM1500.3 880.1h6.4v6.4h-6.4zM1205.4 885.9h6.4v6.4h-6.4zM1292.1 885.9h6.4v6.4h-6.4zM1211.2 891.7h12.2v6.4h-12.2zM1286.3 891.7h6.4v6.4h-6.4zM1222.7 897.5h6.4v6.4h-6.4zM1280.6 897.5h6.4v6.4h-6.4zM1234.3 903.3h6.4v6.4h-6.4zM1269 903.3h12.2v6.4h-12.2zM1240.1 909h29.5v6.4h-29.5zM1361.5 943.7h12.2v6.4h-12.2zM1361.5 949.5h29.5v6.4h-29.5zM1361.5 955.3h6.4v6.4h-6.4zM1361.5 961.1h6.4v6.4h-6.4zM1402 961.1h6.4v6.4h-6.4z"/>
<path fill="#e3db38" d="M1280.6 781.8h64.2v6.4h-64.2zM1263.2 787.6h12.2v6.4h-12.2zM1350 787.6h29.5v6.4h-29.5zM1257.4 793.4h6.4v6.4h-6.4zM1402 793.4h6.4v6.4h-6.4zM1245.9 799.2h6.4v6.4h-6.4zM1240.1 805h6.4v6.4h-6.4zM1234.3 810.7h6.4v6.4h-6.4zM1425.1 810.7h6.4v6.4h-6.4zM1228.5 816.5h6.4v6.4h-6.4zM1430.9 816.5h6.4v6.4h-6.4zM1222.7 822.3h6.4v6.4h-6.4zM1442.5 822.3h12.2v6.4h-12.2zM1217 828.1h6.4v6.4h-6.4zM1367.3 828.1h29.5v6.4h-29.5zM1465.6 828.1h6.4v6.4h-6.4zM1211.2 833.9h6.4v6.4h-6.4zM1344.2 833.9h23.7v6.4h-23.7zM1396.2 833.9h6.4v6.4h-6.4zM1477.2 833.9h6.4v6.4h-6.4zM1211.2 839.7h6.4v6.4h-6.4zM1338.4 839.7h12.2v6.4h-12.2zM1407.8 839.7h6.4v6.4h-6.4zM1483 839.7h6.4v6.4h-6.4zM1344.2 845.4h6.4v6.4h-6.4zM1419.3 845.4h12.2v6.4h-12.2zM1488.7 845.4h6.4v6.4h-6.4zM1309.5 851.2h6.4v6.4h-6.4zM1338.4 851.2h6.4v6.4h-6.4zM1430.9 851.2h6.4v6.4h-6.4zM1494.5 851.2h6.4v6.4h-6.4zM1303.7 857h6.4v6.4h-6.4zM1430.9 857h17.9v6.4h-17.9zM1500.3 857h6.4v6.4h-6.4zM1303.7 862.8h6.4v6.4h-6.4zM1419.3 862.8h12.2v6.4h-12.2zM1459.8 862.8h6.4v6.4h-6.4zM1500.3 862.8h6.4v6.4h-6.4zM1465.6 868.6h6.4v6.4h-6.4zM1500.3 868.6h6.4v6.4h-6.4zM1297.9 874.4h6.4v6.4h-6.4zM1471.4 874.4h6.4v6.4h-6.4zM1500.3 874.4h6.4v6.4h-6.4zM1211.2 880.1h6.4v6.4h-6.4zM1477.2 880.1h23.7v6.4h-23.7zM1211.2 885.9h6.4v6.4h-6.4zM1286.3 885.9h6.4v6.4h-6.4zM1222.7 891.7h6.4v6.4h-6.4zM1280.6 891.7h6.4v6.4h-6.4zM1228.5 897.5h12.2v6.4h-12.2zM1269 897.5h12.2v6.4h-12.2zM1240.1 903.3h29.5v6.4h-29.5zM1367.3 955.3h12.2v6.4h-12.2zM1396.2 955.3h6.4v6.4h-6.4zM1367.3 961.1h6.4v6.4h-6.4z"/>
<path fill="#4666dd" d="M1072.4 787.6h6.4v6.4h-6.4zM1095.5 787.6h6.4v6.4h-6.4zM1107.1 793.4h6.4v6.4h-6.4zM1060.8 799.2h6.4v6.4h-6.4zM1107.1 799.2h6.4v6.4h-6.4zM1060.8 805h6.4v6.4h-6.4zM1107.1 805h6.4v6.4h-6.4zM1066.6 810.7h6.4v6.4h-6.4zM1072.4 816.5h6.4v6.4h-6.4zM1095.5 816.5h6.4v6.4h-6.4zM1367.3 885.9h6.4v6.4h-6.4zM1384.6 885.9h6.4v6.4h-6.4zM1373.1 891.7h12.2v6.4h-12.2zM1430.9 909h23.7v6.4h-23.7zM1425.1 914.8h29.5v6.4h-29.5zM1430.9 920.6h17.9v6.4h-17.9zM1436.7 926.4h6.4v6.4h-6.4zM1141.8 943.7h12.2v6.4h-12.2zM1136 949.5h6.4v6.4h-6.4zM1147.6 949.5h6.4v6.4h-6.4zM1147.6 955.3h6.4v6.4h-6.4zM1147.6 961.1h6.4v6.4h-6.4z"/>
<path fill="#455ccf" d="M1078.2 787.6h17.9v6.4h-17.9zM1066.6 793.4h6.4v6.4h-6.4zM1101.3 793.4h6.4v6.4h-6.4zM1066.6 805h6.4v6.4h-6.4zM1101.3 810.7h6.4v6.4h-6.4zM1078.2 816.5h6.4v6.4h-6.4zM1089.7 816.5h6.4v6.4h-6.4zM1373.1 885.9h12.2v6.4h-12.2zM1141.8 949.5h6.4v6.4h-6.4zM1136 955.3h12.2v6.4h-12.2zM1136 961.1h6.4v6.4h-6.4z"/>
<path fill="#ebd339" d="M1274.8 787.6h17.9v6.4h-17.9zM1332.6 787.6h17.9v6.4h-17.9zM1263.2 793.4h12.2v6.4h-12.2zM1367.3 793.4h35.3v6.4h-35.3zM1251.7 799.2h12.2v6.4h-12.2zM1407.8 799.2h6.4v6.4h-6.4zM1245.9 805h12.2v6.4h-12.2zM1413.6 805h6.4v6.4h-6.4zM1240.1 810.7h6.4v6.4h-6.4zM1419.3 810.7h6.4v6.4h-6.4zM1234.3 816.5h6.4v6.4h-6.4zM1425.1 816.5h6.4v6.4h-6.4zM1228.5 822.3h6.4v6.4h-6.4zM1430.9 822.3h12.2v6.4h-12.2zM1222.7 828.1h6.4v6.4h-6.4zM1338.4 828.1h29.5v6.4h-29.5zM1396.2 828.1h6.4v6.4h-6.4zM1459.8 828.1h6.4v6.4h-6.4zM1217 833.9h6.4v6.4h-6.4zM1332.6 833.9h12.2v6.4h-12.2zM1402 833.9h6.4v6.4h-6.4zM1465.6 833.9h12.2v6.4h-12.2zM1217 839.7h6.4v6.4h-6.4zM1332.6 839.7h6.4v6.4h-6.4zM1413.6 839.7h6.4v6.4h-6.4zM1471.4 839.7h12.2v6.4h-12.2zM1211.2 845.4h6.4v6.4h-6.4zM1309.5 845.4h6.4v6.4h-6.4zM1338.4 845.4h6.4v6.4h-6.4zM1430.9 845.4h6.4v6.4h-6.4zM1477.2 845.4h12.2v6.4h-12.2zM1211.2 851.2h6.4v6.4h-6.4zM1303.7 851.2h6.4v6.4h-6.4zM1315.3 851.2h12.2v6.4h-12.2zM1332.6 851.2h6.4v6.4h-6.4zM1436.7 851.2h6.4v6.4h-6.4zM1483 851.2h12.2v6.4h-12.2zM1211.2 857h6.4v6.4h-6.4zM1448.3 857h12.2v6.4h-12.2zM1488.7 857h12.2v6.4h-12.2zM1211.2 862.8h6.4v6.4h-6.4zM1465.6 862.8h12.2v6.4h-12.2zM1494.5 862.8h6.4v6.4h-6.4zM1211.2 868.6h6.4v6.4h-6.4zM1297.9 868.6h6.4v6.4h-6.4zM1471.4 868.6h6.4v6.4h-6.4zM1211.2 874.4h6.4v6.4h-6.4zM1477.2 874.4h6.4v6.4h-6.4zM1494.5 874.4h6.4v6.4h-6.4zM1217 880.1h6.4v6.4h-6.4zM1292.1 880.1h6.4v6.4h-6.4zM1217 885.9h12.2v6.4h-12.2zM1280.6 885.9h6.4v6.4h-6.4zM1228.5 891.7h12.2v6.4h-12.2zM1269 891.7h12.2v6.4h-12.2zM1240.1 897.5h29.5v6.4h-29.5zM1378.9 955.3h17.9v6.4h-17.9zM1373.1 961.1h29.5v6.4h-29.5z"/>
<path fill="#f2c93a" d="M1292.1 787.6h41.1v6.4h-41.1zM1274.8 793.4h6.4v6.4h-6.4zM1344.2 793.4h23.7v6.4h-23.7zM1263.2 799.2h6.4v6.4h-6.4zM1402 799.2h6.4v6.4h-6.4zM1257.4 805h6.4v6.4h-6.4zM1407.8 805h6.4v6.4h-6.4zM1245.9 810.7h12.2v6.4h-12.2zM1413.6 810.7h6.4v6.4h-6.4zM1240.1 816.5h12.2v6.4h-12.2zM1419.3 816.5h6.4v6.4h-6.4zM1234.3 822.3h6.4v6.4h-6.4zM1338.4 822.3h64.2v6.4h-64.2zM1425.1 822.3h6.4v6.4h-6.4zM1228.5 828.1h6.4v6.4h-6.4zM1326.8 828.1h12.2v6.4h-12.2zM1402 828.1h6.4v6.4h-6.4zM1430.9 828.1h12.2v6.4h-12.2zM1448.3 828.1h12.2v6.4h-12.2zM1222.7 833.9h6.4v6.4h-6.4zM1321 833.9h12.2v6.4h-12.2zM1407.8 833.9h6.4v6.4h-6.4zM1459.8 833.9h6.4v6.4h-6.4zM1222.7 839.7h6.4v6.4h-6.4zM1309.5 839.7h23.7v6.4h-23.7zM1419.3 839.7h17.9v6.4h-17.9zM1465.6 839.7h6.4v6.4h-6.4zM1217 845.4h6.4v6.4h-6.4zM1303.7 845.4h6.4v6.4h-6.4zM1315.3 845.4h23.7v6.4h-23.7zM1436.7 845.4h6.4v6.4h-6.4zM1471.4 845.4h6.4v6.4h-6.4zM1217 851.2h6.4v6.4h-6.4zM1297.9 851.2h6.4v6.4h-6.4zM1326.8 851.2h6.4v6.4h-6.4zM1442.5 851.2h6.4v6.4h-6.4zM1471.4 851.2h12.2v6.4h-12.2zM1217 857h6.4v6.4h-6.4zM1297.9 857h6.4v6.4h-6.4zM1459.8 857h29.5v6.4h-29.5zM1217 862.8h6.4v6.4h-6.4zM1297.9 862.8h6.4v6.4h-6.4zM1477.2 862.8h17.9v6.4h-17.9zM1217 868.6h6.4v6.4h-6.4zM1477.2 868.6h6.4v6.4h-6.4zM1488.7 868.6h12.2v6.4h-12.2zM1217 874.4h6.4v6.4h-6.4zM1292.1 874.4h6.4v6.4h-6.4zM1483 874.4h12.2v6.4h-12.2zM1222.7 880.1h6.4v6.4h-6.4zM1286.3 880.1h6.4v6.4h-6.4zM1228.5 885.9h6.4v6.4h-6.4zM1269 885.9h12.2v6.4h-12.2zM1240.1 891.7h29.5v6.4h-29.5z"/>
<path fill="#434eba" d="M1072.4 793.4h6.4v6.4h-6.4zM1095.5 793.4h6.4v6.4h-6.4zM1066.6 799.2h6.4v6.4h-6.4zM1101.3 799.2h6.4v6.4h-6.4zM1101.3 805h6.4v6.4h-6.4zM1072.4 810.7h6.4v6.4h-6.4zM1095.5 810.7h6.4v6.4h-6.4zM1084 816.5h6.4v6.4h-6.4zM1141.8 961.1h6.4v6.4h-6.4z"/>
<path fill="#4040a2" d="M1078.2 793.4h6.4v6.4h-6.4zM1089.7 793.4h6.4v6.4h-6.4zM1072.4 799.2h6.4v6.4h-6.4zM1095.5 799.2h6.4v6.4h-6.4zM1072.4 805h6.4v6.4h-6.4zM1095.5 805h6.4v6.4h-6.4zM1078.2 810.7h17.9v6.4h-17.9z"/>
<path fill="#3c3286" d="M1084 793.4h6.4v6.4h-6.4zM1078.2 799.2h6.4v6.4h-6.4zM1089.7 799.2h6.4v6.4h-6.4zM1078.2 805h6.4v6.4h-6.4zM1089.7 805h6.4v6.4h-6.4z"/>
<path fill="#f8be39" d="M1280.6 793.4h17.9v6.4h-17.9zM1326.8 793.4h17.9v6.4h-17.9zM1269 799.2h12.2v6.4h-12.2zM1344.2 799.2h58.4v6.4h-58.4zM1263.2 805h6.4v6.4h-6.4zM1350 805h58.4v6.4h-58.4zM1257.4 810.7h6.4v6.4h-6.4zM1350 810.7h64.2v6.4h-64.2zM1251.7 816.5h6.4v6.4h-6.4zM1332.6 816.5h87.3v6.4h-87.3zM1240.1 822.3h6.4v6.4h-6.4zM1326.8 822.3h12.2v6.4h-12.2zM1402 822.3h23.7v6.4h-23.7zM1234.3 828.1h6.4v6.4h-6.4zM1321 828.1h6.4v6.4h-6.4zM1407.8 828.1h23.7v6.4h-23.7zM1442.5 828.1h6.4v6.4h-6.4zM1228.5 833.9h6.4v6.4h-6.4zM1315.3 833.9h6.4v6.4h-6.4zM1413.6 833.9h29.5v6.4h-29.5zM1454 833.9h6.4v6.4h-6.4zM1436.7 839.7h6.4v6.4h-6.4zM1459.8 839.7h6.4v6.4h-6.4zM1222.7 845.4h6.4v6.4h-6.4zM1442.5 845.4h6.4v6.4h-6.4zM1459.8 845.4h12.2v6.4h-12.2zM1222.7 851.2h6.4v6.4h-6.4zM1448.3 851.2h23.7v6.4h-23.7zM1222.7 857h6.4v6.4h-6.4zM1292.1 857h6.4v6.4h-6.4zM1222.7 862.8h6.4v6.4h-6.4zM1292.1 862.8h6.4v6.4h-6.4zM1222.7 868.6h6.4v6.4h-6.4zM1292.1 868.6h6.4v6.4h-6.4zM1483 868.6h6.4v6.4h-6.4zM1222.7 874.4h6.4v6.4h-6.4zM1286.3 874.4h6.4v6.4h-6.4zM1228.5 880.1h6.4v6.4h-6.4zM1274.8 880.1h12.2v6.4h-12.2zM1234.3 885.9h35.3v6.4h-35.3z"/>
<path fill="#fcb336" d="M1297.9 793.4h12.2v6.4h-12.2zM1315.3 793.4h12.2v6.4h-12.2zM1280.6 799.2h6.4v6.4h-6.4zM1332.6 799.2h12.2v6.4h-12.2zM1269 805h6.4v6.4h-6.4zM1332.6 805h17.9v6.4h-17.9zM1263.2 810.7h6.4v6.4h-6.4zM1326.8 810.7h23.7v6.4h-23.7zM1257.4 816.5h6.4v6.4h-6.4zM1326.8 816.5h6.4v6.4h-6.4zM1245.9 822.3h12.2v6.4h-12.2zM1321 822.3h6.4v6.4h-6.4zM1240.1 828.1h6.4v6.4h-6.4zM1315.3 828.1h6.4v6.4h-6.4zM1234.3 833.9h6.4v6.4h-6.4zM1309.5 833.9h6.4v6.4h-6.4zM1442.5 833.9h12.2v6.4h-12.2zM1228.5 839.7h6.4v6.4h-6.4zM1303.7 839.7h6.4v6.4h-6.4zM1442.5 839.7h17.9v6.4h-17.9zM1228.5 845.4h6.4v6.4h-6.4zM1297.9 845.4h6.4v6.4h-6.4zM1448.3 845.4h12.2v6.4h-12.2zM1292.1 851.2h6.4v6.4h-6.4zM1286.3 868.6h6.4v6.4h-6.4zM1228.5 874.4h6.4v6.4h-6.4zM1280.6 874.4h6.4v6.4h-6.4zM1234.3 880.1h6.4v6.4h-6.4zM1251.7 880.1h23.7v6.4h-23.7z"/>
<path fill="#fea933" d="M1309.5 793.4h6.4v6.4h-6.4zM1286.3 799.2h12.2v6.4h-12.2zM1326.8 799.2h6.4v6.4h-6.4zM1274.8 805h12.2v6.4h-12.2zM1326.8 805h6.4v6.4h-6.4zM1269 810.7h6.4v6.4h-6.4zM1321 810.7h6.4v6.4h-6.4zM1263.2 816.5h6.4v6.4h-6.4zM1321 816.5h6.4v6.4h-6.4zM1257.4 822.3h6.4v6.4h-6.4zM1315.3 822.3h6.4v6.4h-6.4zM1245.9 828.1h12.2v6.4h-12.2zM1309.5 828.1h6.4v6.4h-6.4zM1240.1 833.9h6.4v6.4h-6.4zM1303.7 833.9h6.4v6.4h-6.4zM1234.3 839.7h6.4v6.4h-6.4zM1297.9 839.7h6.4v6.4h-6.4zM1234.3 845.4h6.4v6.4h-6.4zM1292.1 845.4h6.4v6.4h-6.4zM1228.5 851.2h6.4v6.4h-6.4zM1286.3 851.2h6.4v6.4h-6.4zM1228.5 857h6.4v6.4h-6.4zM1286.3 857h6.4v6.4h-6.4zM1228.5 862.8h6.4v6.4h-6.4zM1286.3 862.8h6.4v6.4h-6.4zM1228.5 868.6h6.4v6.4h-6.4zM1234.3 874.4h6.4v6.4h-6.4zM1251.7 874.4h29.5v6.4h-29.5zM1240.1 880.1h12.2v6.4h-12.2z"/>
<path fill="#38276d" d="M1084 799.2h6.4v6.4h-6.4zM1084 805h6.4v6.4h-6.4z"/>
<path fill="#fe9b2d" d="M1297.9 799.2h12.2v6.4h-12.2zM1315.3 799.2h12.2v6.4h-12.2zM1286.3 805h12.2v6.4h-12.2zM1321 805h6.4v6.4h-6.4zM1274.8 810.7h12.2v6.4h-12.2zM1315.3 810.7h6.4v6.4h-6.4zM1269 816.5h6.4v6.4h-6.4zM1315.3 816.5h6.4v6.4h-6.4zM1263.2 822.3h6.4v6.4h-6.4zM1309.5 822.3h6.4v6.4h-6.4zM1257.4 828.1h6.4v6.4h-6.4zM1303.7 828.1h6.4v6.4h-6.4zM1245.9 833.9h6.4v6.4h-6.4zM1297.9 833.9h6.4v6.4h-6.4zM1240.1 839.7h6.4v6.4h-6.4zM1292.1 839.7h6.4v6.4h-6.4zM1286.3 845.4h6.4v6.4h-6.4zM1234.3 851.2h6.4v6.4h-6.4zM1280.6 851.2h6.4v6.4h-6.4zM1234.3 857h6.4v6.4h-6.4zM1280.6 857h6.4v6.4h-6.4zM1234.3 862.8h6.4v6.4h-6.4zM1257.4 862.8h6.4v6.4h-6.4zM1280.6 862.8h6.4v6.4h-6.4zM1234.3 868.6h6.4v6.4h-6.4zM1251.7 868.6h23.7v6.4h-23.7zM1280.6 868.6h6.4v6.4h-6.4zM1240.1 874.4h12.2v6.4h-12.2z"/>
<path fill="#fd8d27" d="M1309.5 799.2h6.4v6.4h-6.4zM1297.9 805h23.7v6.4h-23.7zM1286.3 810.7h29.5v6.4h-29.5zM1274.8 816.5h41.1v6.4h-41.1zM1269 822.3h41.1v6.4h-41.1zM1263.2 828.1h41.1v6.4h-41.1zM1251.7 833.9h46.9v6.4h-46.9zM1245.9 839.7h46.9v6.4h-46.9zM1240.1 845.4h46.9v6.4h-46.9zM1240.1 851.2h41.1v6.4h-41.1zM1240.1 857h41.1v6.4h-41.1zM1240.1 862.8h17.9v6.4h-17.9zM1263.2 862.8h17.9v6.4h-17.9zM1240.1 868.6h12.2v6.4h-12.2zM1274.8 868.6h6.4v6.4h-6.4z"/>
</g></g>
<path class="gl" d="M905 828.4H1532M905 897.8H1532M905 967.2H1532M1113.2 759V976.5M1321.3 759V976.5"/>
<g clip-path="url(#ca2)"><polygon points="1496.4,759 1496.4,759.5 1497.4,763.3 1500.5,766.8 1499.7,771.4 1501.5,775.5 1500.5,780.6 1498.4,783.6 1495.4,784.6 1495.9,787.7 1500.5,790.7 1505.6,792.7 1510.6,794 1515.7,793.8 1520.8,791.7 1523.3,789.7 1526.9,789.2 1528.9,787.2 1531.2,786.6 1540,786.6 1540,754 1496.4,754" fill="#fcfbe5" stroke="#111" stroke-width="1.3"/></g>
<g class="q" clip-path="url(#ca2)">
<path d="M905 759l1.2 14.2"/>
<path d="M922.3 759l-1.4 22.7"/>
<path d="M939.7 759l-7.1 32"/>
<path d="M957 759l-12 30.5"/>
<path d="M974.4 759l-14.2 24.5"/>
<path d="M991.7 759l-17 19"/>
<path d="M1009.1 759l-19.4 13.6"/>
<path d="M1026.4 759l-20.4 8.2"/>
<path d="M1043.8 759l-21.6 3.8"/>
<path d="M1061.1 759l-21.7 -3.2"/>
<path d="M1078.5 759l-18 -12.6"/>
<path d="M1095.8 759l-10.4 -19.3"/>
<path d="M1113.2 759l-3.8 -21.6"/>
<path d="M1130.5 759l-1.5 -21.9"/>
<path d="M1147.9 759l1 -23.7"/>
<path d="M1165.2 759l3.9 -25.2"/>
<path d="M1182.6 759l6.9 -25.9"/>
<path d="M1199.9 759l10.7 -27.6"/>
<path d="M1217.3 759l14.4 -27.6"/>
<path d="M1234.6 759l18.2 -27.2"/>
<path d="M1252 759l23.4 -27.8"/>
<path d="M1269.3 759l27.6 -26.5"/>
<path d="M1286.6 759l30.3 -23.3"/>
<path d="M1304 759l32.7 -19.8"/>
<path d="M1321.3 759l34.7 -16.2"/>
<path d="M1338.7 759l36.5 -11.6"/>
<path d="M1356 759l37.7 -6.6"/>
<path d="M1373.4 759l38.2 -1.6"/>
<path d="M1390.7 759l38.1 3.3"/>
<path d="M1408.1 759l37.5 7.4"/>
<path d="M1425.4 759l34.7 10.9"/>
<path d="M1442.8 759l30 13.2"/>
<path d="M1460.1 759l26.9 15.6"/>
<path d="M1477.5 759l25.3 15.3"/>
<path d="M1494.8 759l24.9 15.9"/>
<path d="M1512.2 759l25.9 17.3"/>
<path d="M1529.5 759l25.5 17.8"/>
<path d="M905 776.3l6.3 14.3"/>
<path d="M922.3 776.3l4.8 22.1"/>
<path d="M939.7 776.3l0.5 33"/>
<path d="M957 776.3l-5.7 34.1"/>
<path d="M974.4 776.3l-9.3 28.3"/>
<path d="M991.7 776.3l-11.6 23.4"/>
<path d="M1009.1 776.3l-14 19.1"/>
<path d="M1026.4 776.3l-15.4 13.9"/>
<path d="M1043.8 776.3l-17 9.6"/>
<path d="M1061.1 776.3l-18.5 3.2"/>
<path d="M1078.5 776.3l-13.7 -10.9"/>
<path d="M1095.8 776.3l-2.4 -17.3"/>
<path d="M1113.2 776.3l3 -18.6"/>
<path d="M1130.5 776.3l4.4 -20.3"/>
<path d="M1147.9 776.3l6 -22.9"/>
<path d="M1165.2 776.3l7.6 -25"/>
<path d="M1182.6 776.3l9 -26.7"/>
<path d="M1199.9 776.3l12.4 -27.7"/>
<path d="M1217.3 776.3l15.7 -27.8"/>
<path d="M1234.6 776.3l19.7 -28.4"/>
<path d="M1252 776.3l24.4 -29.1"/>
<path d="M1269.3 776.3l29 -27.8"/>
<path d="M1286.6 776.3l32.4 -24.8"/>
<path d="M1304 776.3l34.9 -21.1"/>
<path d="M1321.3 776.3l37 -17.2"/>
<path d="M1338.7 776.3l38.9 -12.4"/>
<path d="M1356 776.3l39.6 -7"/>
<path d="M1373.4 776.3l39.5 -1.6"/>
<path d="M1390.7 776.3l38.7 3.4"/>
<path d="M1408.1 776.3l37.5 7.6"/>
<path d="M1425.4 776.3l35.4 11.6"/>
<path d="M1442.8 776.3l32.2 14.9"/>
<path d="M1460.1 776.3l28.8 17.5"/>
<path d="M1477.5 776.3l26.3 16.7"/>
<path d="M1494.8 776.3l25.2 16.9"/>
<path d="M1512.2 776.3l25.5 17.8"/>
<path d="M1529.5 776.3l25.1 18.4"/>
<path d="M905 793.7l13.6 10.4"/>
<path d="M922.3 793.7l12.5 17.5"/>
<path d="M939.7 793.7l9.9 28.6"/>
<path d="M957 793.7l3.4 35.3"/>
<path d="M974.4 793.7l-2.9 32.8"/>
<path d="M991.7 793.7l-4.1 27.9"/>
<path d="M1009.1 793.7l-5.6 24.6"/>
<path d="M1026.4 793.7l-6.7 20.5"/>
<path d="M1043.8 793.7l-7.4 15.9"/>
<path d="M1061.1 793.7l-3.7 12.7"/>
<path d="M1078.5 793.7l8.8 1.4"/>
<path d="M1095.8 793.7l6.4 -6.2"/>
<path d="M1113.2 793.7l8.5 -10.1"/>
<path d="M1130.5 793.7l10.5 -15.6"/>
<path d="M1147.9 793.7l11.6 -20.7"/>
<path d="M1165.2 793.7l11.9 -24.8"/>
<path d="M1182.6 793.7l11.6 -28"/>
<path d="M1199.9 793.7l14.4 -28.5"/>
<path d="M1217.3 793.7l17.9 -29.5"/>
<path d="M1234.6 793.7l22.5 -31.3"/>
<path d="M1252 793.7l27 -32.2"/>
<path d="M1269.3 793.7l32.2 -30.9"/>
<path d="M1286.6 793.7l36.9 -28.3"/>
<path d="M1304 793.7l40.9 -24.8"/>
<path d="M1321.3 793.7l43.3 -20.2"/>
<path d="M1338.7 793.7l44.4 -14.1"/>
<path d="M1356 793.7l44.6 -7.9"/>
<path d="M1373.4 793.7l44.6 -1.8"/>
<path d="M1390.7 793.7l43.8 3.8"/>
<path d="M1408.1 793.7l41.2 8.6"/>
<path d="M1425.4 793.7l37.4 12.7"/>
<path d="M1442.8 793.7l34.5 16.6"/>
<path d="M1460.1 793.7l31.5 20"/>
<path d="M1477.5 793.7l29.5 19.7"/>
<path d="M1494.8 793.7l26.9 18.9"/>
<path d="M1512.2 793.7l24.5 17.9"/>
<path d="M1529.5 793.7l23.5 18"/>
<path d="M905 811l19.3 3"/>
<path d="M922.3 811l19.5 10.3"/>
<path d="M939.7 811l18.1 21.1"/>
<path d="M957 811l12.9 32.2"/>
<path d="M974.4 811l5.2 36.1"/>
<path d="M991.7 811l4.8 31.8"/>
<path d="M1009.1 811l4.5 27.8"/>
<path d="M1026.4 811l4.3 24.9"/>
<path d="M1043.8 811l3.7 20"/>
<path d="M1061.1 811l6.8 11.3"/>
<path d="M1078.5 811l6.3 3.4"/>
<path d="M1095.8 811l7.1 -0.1"/>
<path d="M1113.2 811l11.2 -3.9"/>
<path d="M1130.5 811l15.6 -10"/>
<path d="M1147.9 811l18.1 -18"/>
<path d="M1165.2 811l16.9 -24.4"/>
<path d="M1182.6 811l14.6 -29.5"/>
<path d="M1199.9 811l17.6 -30.8"/>
<path d="M1217.3 811l21.1 -32.3"/>
<path d="M1234.6 811l25.5 -34.3"/>
<path d="M1252 811l29.5 -35.2"/>
<path d="M1269.3 811l35.4 -34"/>
<path d="M1286.6 811l41 -31.4"/>
<path d="M1304 811l45.3 -27.4"/>
<path d="M1321.3 811l46.8 -21.8"/>
<path d="M1338.7 811l46.8 -14.9"/>
<path d="M1356 811l47.7 -8.4"/>
<path d="M1373.4 811l48.4 -2"/>
<path d="M1390.7 811l48.3 4.2"/>
<path d="M1408.1 811l46.1 9.9"/>
<path d="M1425.4 811l40.9 14.4"/>
<path d="M1442.8 811l35.9 18"/>
<path d="M1460.1 811l32.3 21.6"/>
<path d="M1477.5 811l31.3 21.9"/>
<path d="M1494.8 811l29.4 21.6"/>
<path d="M1512.2 811l25.5 19.6"/>
<path d="M1529.5 811l23.1 18.5"/>
<path d="M905 828.4l23.4 -4.1"/>
<path d="M922.3 828.4l24.4 3.1"/>
<path d="M939.7 828.4l23.3 13.5"/>
<path d="M957 828.4l20.1 26.5"/>
<path d="M974.4 828.4l13.1 35.9"/>
<path d="M991.7 828.4l13.6 32.8"/>
<path d="M1009.1 828.4l13.2 28.3"/>
<path d="M1026.4 828.4l13 25"/>
<path d="M1043.8 828.4l12.3 21.4"/>
<path d="M1061.1 828.4l13.7 14.2"/>
<path d="M1078.5 828.4l13.1 7.6"/>
<path d="M1095.8 828.4l14.7 3.6"/>
<path d="M1113.2 828.4l18.4 -0"/>
<path d="M1130.5 828.4l22.2 -5.5"/>
<path d="M1147.9 828.4l24.7 -14.2"/>
<path d="M1165.2 828.4l22.8 -23.7"/>
<path d="M1182.6 828.4l18.2 -31.6"/>
<path d="M1199.9 828.4l21.2 -33.3"/>
<path d="M1217.3 828.4l24.5 -35"/>
<path d="M1234.6 828.4l28.3 -36.9"/>
<path d="M1252 828.4l32 -38.1"/>
<path d="M1269.3 828.4l37.7 -36.2"/>
<path d="M1286.6 828.4l42.5 -32.6"/>
<path d="M1304 828.4l44.7 -27.1"/>
<path d="M1321.3 828.4l44.5 -20.7"/>
<path d="M1338.7 828.4l44.4 -14.1"/>
<path d="M1356 828.4l45.2 -8"/>
<path d="M1373.4 828.4l45.2 -1.9"/>
<path d="M1390.7 828.4l45.1 3.9"/>
<path d="M1408.1 828.4l46.1 10.1"/>
<path d="M1425.4 828.4l44.3 16.1"/>
<path d="M1442.8 828.4l40.7 21.3"/>
<path d="M1460.1 828.4l36 25.2"/>
<path d="M1477.5 828.4l33.4 24.5"/>
<path d="M1494.8 828.4l31.4 24.1"/>
<path d="M1512.2 828.4l28.4 22.8"/>
<path d="M1529.5 828.4l26.6 22.3"/>
<path d="M905 845.7l24.4 -3.2"/>
<path d="M922.3 845.7l23.9 3.7"/>
<path d="M939.7 845.7l21.1 11.8"/>
<path d="M957 845.7l19.1 22.7"/>
<path d="M974.4 845.7l14.7 33.4"/>
<path d="M991.7 845.7l15.9 33.7"/>
<path d="M1009.1 845.7l15.2 30.1"/>
<path d="M1026.4 845.7l14.1 26"/>
<path d="M1043.8 845.7l13.4 23.2"/>
<path d="M1061.1 845.7l16.1 18.6"/>
<path d="M1078.5 845.7l18.5 13.9"/>
<path d="M1095.8 845.7l21.7 9.7"/>
<path d="M1113.2 845.7l22.6 4.8"/>
<path d="M1130.5 845.7l23.1 -1.9"/>
<path d="M1147.9 845.7l24.9 -11.2"/>
<path d="M1165.2 845.7l24.2 -22.4"/>
<path d="M1182.6 845.7l20 -31.5"/>
<path d="M1199.9 845.7l22.1 -34.3"/>
<path d="M1217.3 845.7l24.8 -37.9"/>
<path d="M1234.6 845.7l27.4 -41.5"/>
<path d="M1252 845.7l29.5 -44"/>
<path d="M1269.3 845.7l32.1 -42.8"/>
<path d="M1286.6 845.7l33.7 -39.9"/>
<path d="M1304 845.7l33.6 -34.9"/>
<path d="M1321.3 845.7l34.5 -31.3"/>
<path d="M1338.7 845.7l38.2 -24.3"/>
<path d="M1356 845.7l39.4 -16.6"/>
<path d="M1373.4 845.7l39.6 -9.8"/>
<path d="M1390.7 845.7l40 -4.1"/>
<path d="M1408.1 845.7l42.7 0"/>
<path d="M1425.4 845.7l45 4.9"/>
<path d="M1442.8 845.7l46.6 10.5"/>
<path d="M1460.1 845.7l45.7 16"/>
<path d="M1477.5 845.7l41 20.7"/>
<path d="M1494.8 845.7l35.3 24"/>
<path d="M1512.2 845.7l30.3 26.4"/>
<path d="M1529.5 845.7l26.8 29.1"/>
<path d="M905 863.1l24.5 -2.1"/>
<path d="M922.3 863.1l21.7 3.9"/>
<path d="M939.7 863.1l18.6 10.2"/>
<path d="M957 863.1l17.8 19.2"/>
<path d="M974.4 863.1l15.7 30.1"/>
<path d="M991.7 863.1l18 33.7"/>
<path d="M1009.1 863.1l17.1 31.1"/>
<path d="M1026.4 863.1l15.3 27.2"/>
<path d="M1043.8 863.1l14.1 24.4"/>
<path d="M1061.1 863.1l16.1 20.6"/>
<path d="M1078.5 863.1l18.5 17.5"/>
<path d="M1095.8 863.1l21.6 14.7"/>
<path d="M1113.2 863.1l18.7 8.7"/>
<path d="M1130.5 863.1l16.2 1.8"/>
<path d="M1147.9 863.1l20.6 -6.4"/>
<path d="M1165.2 863.1l22.4 -18.2"/>
<path d="M1182.6 863.1l20.4 -29.1"/>
<path d="M1199.9 863.1l22.3 -34.2"/>
<path d="M1217.3 863.1l23.8 -39.2"/>
<path d="M1234.6 863.1l25 -44.4"/>
<path d="M1252 863.1l24.4 -46.9"/>
<path d="M1269.3 863.1l24 -47.2"/>
<path d="M1286.6 863.1l22.7 -45.7"/>
<path d="M1304 863.1l19.7 -40.8"/>
<path d="M1321.3 863.1l17.3 -37.1"/>
<path d="M1338.7 863.1l22.9 -29.2"/>
<path d="M1356 863.1l25.6 -20.7"/>
<path d="M1373.4 863.1l26.8 -13.8"/>
<path d="M1390.7 863.1l29 -9.1"/>
<path d="M1408.1 863.1l36.6 -8.8"/>
<path d="M1425.4 863.1l42.8 -7"/>
<path d="M1442.8 863.1l43.2 -3.6"/>
<path d="M1460.1 863.1l44.6 -0"/>
<path d="M1477.5 863.1l45 11.8"/>
<path d="M1494.8 863.1l39.8 22.9"/>
<path d="M1512.2 863.1l29.1 27.9"/>
<path d="M1529.5 863.1l20.6 29.5"/>
<path d="M905 880.4l25.5 -1.1"/>
<path d="M922.3 880.4l20.9 4.3"/>
<path d="M939.7 880.4l16.7 8.9"/>
<path d="M957 880.4l16.9 16.7"/>
<path d="M974.4 880.4l15.9 26.3"/>
<path d="M991.7 880.4l18.8 31.3"/>
<path d="M1009.1 880.4l19 32.1"/>
<path d="M1026.4 880.4l17 29.1"/>
<path d="M1043.8 880.4l14.8 25.6"/>
<path d="M1061.1 880.4l15.4 21.9"/>
<path d="M1078.5 880.4l16.3 19"/>
<path d="M1095.8 880.4l17.4 16.7"/>
<path d="M1113.2 880.4l14.4 11.3"/>
<path d="M1130.5 880.4l12.9 4.3"/>
<path d="M1147.9 880.4l17.9 -2.9"/>
<path d="M1165.2 880.4l21.1 -14.8"/>
<path d="M1182.6 880.4l20.6 -26.9"/>
<path d="M1199.9 880.4l22.5 -34"/>
<path d="M1217.3 880.4l22.2 -39.4"/>
<path d="M1234.6 880.4l21 -44.4"/>
<path d="M1252 880.4l18.2 -47"/>
<path d="M1269.3 880.4l14.6 -47.5"/>
<path d="M1286.6 880.4l10.4 -46.7"/>
<path d="M1304 880.4l5.6 -42.3"/>
<path d="M1321.3 880.4l1.4 -37.1"/>
<path d="M1338.7 880.4l8.3 -26.7"/>
<path d="M1356 880.4l10.2 -15.4"/>
<path d="M1373.4 880.4l10.9 -9.6"/>
<path d="M1390.7 880.4l14.5 -8.1"/>
<path d="M1408.1 880.4l24.8 -12.6"/>
<path d="M1425.4 880.4l33.2 -15.1"/>
<path d="M1442.8 880.4l34.1 -13.7"/>
<path d="M1460.1 880.4l37 -13"/>
<path d="M1477.5 880.4l44 0.1"/>
<path d="M1494.8 880.4l41.2 18.8"/>
<path d="M1512.2 880.4l24.9 26.6"/>
<path d="M1529.5 880.4l13 25.1"/>
<path d="M905 897.8l26.8 -0"/>
<path d="M922.3 897.8l22.6 5.2"/>
<path d="M939.7 897.8l17.9 9.3"/>
<path d="M957 897.8l17.2 15.5"/>
<path d="M974.4 897.8l16.2 23.2"/>
<path d="M991.7 897.8l18.7 28"/>
<path d="M1009.1 897.8l20 31.5"/>
<path d="M1026.4 897.8l18 29.6"/>
<path d="M1043.8 897.8l14.8 25.6"/>
<path d="M1061.1 897.8l14.4 22.6"/>
<path d="M1078.5 897.8l13.9 19.8"/>
<path d="M1095.8 897.8l12.9 16.8"/>
<path d="M1113.2 897.8l12.1 14.4"/>
<path d="M1130.5 897.8l13.9 8.3"/>
<path d="M1147.9 897.8l16.9 -0"/>
<path d="M1165.2 897.8l19.9 -11.8"/>
<path d="M1182.6 897.8l19.8 -23.5"/>
<path d="M1199.9 897.8l21 -31.4"/>
<path d="M1217.3 897.8l19.4 -37.3"/>
<path d="M1234.6 897.8l16.1 -41.6"/>
<path d="M1252 897.8l11.9 -44.3"/>
<path d="M1269.3 897.8l6 -44.9"/>
<path d="M1286.6 897.8l-0 -42.7"/>
<path d="M1304 897.8l-5 -37.4"/>
<path d="M1321.3 897.8l-9 -33.5"/>
<path d="M1338.7 897.8l-0.1 -27.1"/>
<path d="M1356 897.8l4.9 -15.6"/>
<path d="M1373.4 897.8l7.3 -10.4"/>
<path d="M1390.7 897.8l10.1 -8.5"/>
<path d="M1408.1 897.8l12.8 -10.3"/>
<path d="M1425.4 897.8l15.9 -12.2"/>
<path d="M1442.8 897.8l17.5 -12.8"/>
<path d="M1460.1 897.8l19.7 -13.8"/>
<path d="M1477.5 897.8l26.5 -7.4"/>
<path d="M1494.8 897.8l28.2 8.9"/>
<path d="M1512.2 897.8l17.1 20.8"/>
<path d="M1529.5 897.8l8.1 22.3"/>
<path d="M905 915.1l32.6 5.8"/>
<path d="M922.3 915.1l27.4 9.8"/>
<path d="M939.7 915.1l21.1 12.2"/>
<path d="M957 915.1l18.7 15.9"/>
<path d="M974.4 915.1l17.7 21.1"/>
<path d="M991.7 915.1l18.7 24.9"/>
<path d="M1009.1 915.1l19.2 28.7"/>
<path d="M1026.4 915.1l17.2 29"/>
<path d="M1043.8 915.1l13.7 26.2"/>
<path d="M1061.1 915.1l13.4 23.2"/>
<path d="M1078.5 915.1l12.7 20"/>
<path d="M1095.8 915.1l11.2 16"/>
<path d="M1113.2 915.1l11.9 15.5"/>
<path d="M1130.5 915.1l14.6 9.5"/>
<path d="M1147.9 915.1l14.3 0.2"/>
<path d="M1165.2 915.1l17.1 -10.6"/>
<path d="M1182.6 915.1l17.5 -21.7"/>
<path d="M1199.9 915.1l19.4 -28.8"/>
<path d="M1217.3 915.1l18.7 -34.1"/>
<path d="M1234.6 915.1l16.3 -37.4"/>
<path d="M1252 915.1l13.4 -39.9"/>
<path d="M1269.3 915.1l7 -40.8"/>
<path d="M1286.6 915.1l0.3 -38.6"/>
<path d="M1304 915.1l-5.1 -33.3"/>
<path d="M1321.3 915.1l-9.6 -30.5"/>
<path d="M1338.7 915.1l-4.7 -28.5"/>
<path d="M1356 915.1l-0.1 -23.1"/>
<path d="M1373.4 915.1l3.6 -21"/>
<path d="M1390.7 915.1l6.7 -18.5"/>
<path d="M1408.1 915.1l6.5 -14.1"/>
<path d="M1425.4 915.1l6.6 -9.7"/>
<path d="M1442.8 915.1l9.5 -4.6"/>
<path d="M1460.1 915.1l9.2 8.4"/>
<path d="M1477.5 915.1l7 13.3"/>
<path d="M1494.8 915.1l5.8 15.3"/>
<path d="M1512.2 915.1l5.4 17.5"/>
<path d="M1529.5 915.1l5 18.8"/>
<path d="M905 932.5l35.9 13.1"/>
<path d="M922.3 932.5l30.4 15"/>
<path d="M939.7 932.5l23.2 14.8"/>
<path d="M957 932.5l19.9 16"/>
<path d="M974.4 932.5l18.5 18.5"/>
<path d="M991.7 932.5l18.6 22.2"/>
<path d="M1009.1 932.5l18.3 26.2"/>
<path d="M1026.4 932.5l16 27.7"/>
<path d="M1043.8 932.5l12.5 26.8"/>
<path d="M1061.1 932.5l12.4 23.8"/>
<path d="M1078.5 932.5l11.9 20.5"/>
<path d="M1095.8 932.5l10.5 16.5"/>
<path d="M1113.2 932.5l11.4 16.3"/>
<path d="M1130.5 932.5l14.1 10"/>
<path d="M1147.9 932.5l12.4 0.3"/>
<path d="M1165.2 932.5l15.1 -9.6"/>
<path d="M1182.6 932.5l16.1 -20.6"/>
<path d="M1199.9 932.5l18 -26.6"/>
<path d="M1217.3 932.5l17.8 -30.8"/>
<path d="M1234.6 932.5l16.6 -34.1"/>
<path d="M1252 932.5l14.8 -36.6"/>
<path d="M1269.3 932.5l7.8 -37.1"/>
<path d="M1286.6 932.5l0.6 -34.5"/>
<path d="M1304 932.5l-5.3 -30.7"/>
<path d="M1321.3 932.5l-10.9 -30.1"/>
<path d="M1338.7 932.5l-10.2 -32.2"/>
<path d="M1356 932.5l-8.7 -32.6"/>
<path d="M1373.4 932.5l-7.2 -32.4"/>
<path d="M1390.7 932.5l-4.9 -28"/>
<path d="M1408.1 932.5l-9.5 -19.4"/>
<path d="M1425.4 932.5l-14.8 -2.6"/>
<path d="M1442.8 932.5l-8.5 8.2"/>
<path d="M1460.1 932.5l-7.2 12.5"/>
<path d="M1477.5 932.5l-6.4 17.2"/>
<path d="M1494.8 932.5l-3.4 19.2"/>
<path d="M1512.2 932.5l0.1 19.5"/>
<path d="M1529.5 932.5l3.4 19.2"/>
<path d="M905 949.8l32.3 20.6"/>
<path d="M922.3 949.8l29.5 19.7"/>
<path d="M939.7 949.8l24.4 17.1"/>
<path d="M957 949.8l21.1 15.5"/>
<path d="M974.4 949.8l20.2 15.5"/>
<path d="M991.7 949.8l19.3 19.6"/>
<path d="M1009.1 949.8l17.9 24.5"/>
<path d="M1026.4 949.8l14.2 26.8"/>
<path d="M1043.8 949.8l9.6 26.5"/>
<path d="M1061.1 949.8l10.2 24.1"/>
<path d="M1078.5 949.8l9.8 20.3"/>
<path d="M1095.8 949.8l8.4 15.4"/>
<path d="M1113.2 949.8l10.5 17.2"/>
<path d="M1130.5 949.8l13.2 10.7"/>
<path d="M1147.9 949.8l10.6 0.4"/>
<path d="M1165.2 949.8l13.9 -9.4"/>
<path d="M1182.6 949.8l14.5 -19.6"/>
<path d="M1199.9 949.8l15.7 -23.4"/>
<path d="M1217.3 949.8l16.2 -26.6"/>
<path d="M1234.6 949.8l16.2 -29.6"/>
<path d="M1252 949.8l15.2 -31.2"/>
<path d="M1269.3 949.8l8 -32"/>
<path d="M1286.6 949.8l0.5 -29.8"/>
<path d="M1304 949.8l-5.7 -26.5"/>
<path d="M1321.3 949.8l-11.9 -26.8"/>
<path d="M1338.7 949.8l-15.1 -31.1"/>
<path d="M1356 949.8l-18.8 -35.2"/>
<path d="M1373.4 949.8l-21.5 -36.9"/>
<path d="M1390.7 949.8l-21.2 -33.3"/>
<path d="M1408.1 949.8l-25.5 -21.7"/>
<path d="M1425.4 949.8l-25.4 -7.1"/>
<path d="M1442.8 949.8l-20.9 4"/>
<path d="M1460.1 949.8l-19 11"/>
<path d="M1477.5 949.8l-18.8 18.2"/>
<path d="M1494.8 949.8l-14 23.5"/>
<path d="M1512.2 949.8l-7.7 25.4"/>
<path d="M1529.5 949.8l-2.3 26.4"/>
<path d="M905 967.2l27 27"/>
<path d="M922.3 967.2l27.3 24"/>
<path d="M939.7 967.2l24.8 19"/>
<path d="M957 967.2l22.3 14.9"/>
<path d="M974.4 967.2l22.1 12.7"/>
<path d="M991.7 967.2l20.3 17.5"/>
<path d="M1009.1 967.2l18 23.5"/>
<path d="M1026.4 967.2l12.9 26.6"/>
<path d="M1043.8 967.2l6.9 25.9"/>
<path d="M1061.1 967.2l8 24.2"/>
<path d="M1078.5 967.2l7.8 19.8"/>
<path d="M1095.8 967.2l6.6 14.2"/>
<path d="M1113.2 967.2l9.3 17.6"/>
<path d="M1130.5 967.2l12 11.1"/>
<path d="M1147.9 967.2l9.4 0.6"/>
<path d="M1165.2 967.2l13.7 -9.8"/>
<path d="M1182.6 967.2l13.6 -19.4"/>
<path d="M1199.9 967.2l14.9 -22.3"/>
<path d="M1217.3 967.2l15.9 -24.9"/>
<path d="M1234.6 967.2l16.1 -26.6"/>
<path d="M1252 967.2l15.6 -26.9"/>
<path d="M1269.3 967.2l8.4 -28.4"/>
<path d="M1286.6 967.2l0.5 -26.8"/>
<path d="M1304 967.2l-6.2 -23.8"/>
<path d="M1321.3 967.2l-12.9 -24.2"/>
<path d="M1338.7 967.2l-18.6 -27"/>
<path d="M1356 967.2l-25.8 -29.1"/>
<path d="M1373.4 967.2l-33.3 -29.7"/>
<path d="M1390.7 967.2l-37.6 -26.3"/>
<path d="M1408.1 967.2l-37.7 -18.7"/>
<path d="M1425.4 967.2l-33.1 -10.4"/>
<path d="M1442.8 967.2l-29.3 -4.4"/>
<path d="M1460.1 967.2l-29.6 -0"/>
<path d="M1477.5 967.2l-31.5 8.9"/>
<path d="M1494.8 967.2l-26.8 18.8"/>
<path d="M1512.2 967.2l-18.2 25.3"/>
<path d="M1529.5 967.2l-10.6 29.2"/>
</g>
<ellipse cx="1086.4" cy="804.3" rx="3" ry="1.3" fill="#fff"/>
<path d="M1172.5 893.3l3 -4l4 2l5 1l-2 4l-6 0z" fill="#111"/>
<circle cx="1229.5" cy="849.7" r="11.3" fill="#000"/>
<rect class="sp" x="905" y="759" width="627" height="217.5"/>
<text class="tm" x="892.2" y="768.8" text-anchor="end">30°S</text>
<text class="tm" x="892.2" y="838.2" text-anchor="end">40°S</text>
<text class="tm" x="892.2" y="907.6" text-anchor="end">50°S</text>
<text class="tm" x="892.2" y="977" text-anchor="end">60°S</text>
<text class="tm" x="905" y="1013.6" text-anchor="middle">30°E</text>
<text class="tm" x="1113" y="1013.6" text-anchor="middle">60°E</text>
<text class="tm" x="1321.5" y="1013.6" text-anchor="middle">90°E</text>
<text class="tm" x="1531.5" y="1013.6" text-anchor="middle">120°E</text>
<g clip-path="url(#cd3)"><g filter="url(#bl)">
<rect x="885" y="1096.5" width="664.5" height="248.2" fill="#3fd6a8"/>
<path fill="#4773eb" d="M904.7 1116.2h6.4v6.4h-6.4zM904.7 1122h6.4v6.4h-6.4zM910.5 1127.8h6.4v6.4h-6.4zM910.5 1133.5h6.4v6.4h-6.4zM1089.7 1139.3h6.4v6.4h-6.4zM1112.9 1139.3h12.2v6.4h-12.2zM1084 1145.1h6.4v6.4h-6.4zM1130.2 1145.1h6.4v6.4h-6.4zM910.5 1150.9h6.4v6.4h-6.4zM1084 1150.9h6.4v6.4h-6.4zM1136 1150.9h6.4v6.4h-6.4zM904.7 1156.7h17.9v6.4h-17.9zM1084 1156.7h6.4v6.4h-6.4zM1136 1156.7h6.4v6.4h-6.4zM1089.7 1162.5h6.4v6.4h-6.4zM1136 1162.5h12.2v6.4h-12.2zM1101.3 1168.2h6.4v6.4h-6.4zM1136 1168.2h12.2v6.4h-12.2zM1118.7 1174h23.7v6.4h-23.7zM945.2 1179.8h12.2v6.4h-12.2zM945.2 1185.6h17.9v6.4h-17.9zM951 1191.4h23.7v6.4h-23.7zM956.7 1197.2h23.7v6.4h-23.7zM962.5 1202.9h23.7v6.4h-23.7zM962.5 1208.7h23.7v6.4h-23.7zM962.5 1214.5h29.5v6.4h-29.5zM962.5 1220.3h35.3v6.4h-35.3zM962.5 1226.1h35.3v6.4h-35.3zM968.3 1231.9h29.5v6.4h-29.5zM974.1 1237.6h17.9v6.4h-17.9zM979.9 1243.4h6.4v6.4h-6.4zM1205.4 1301.2h12.2v6.4h-12.2zM1199.6 1312.8h6.4v6.4h-6.4zM1217 1312.8h6.4v6.4h-6.4zM1199.6 1318.6h6.4v6.4h-6.4zM1217 1318.6h6.4v6.4h-6.4z"/>
<path fill="#4680f6" d="M910.5 1116.2h6.4v6.4h-6.4zM910.5 1122h6.4v6.4h-6.4zM1101.3 1133.5h6.4v6.4h-6.4zM1084 1139.3h6.4v6.4h-6.4zM1124.4 1139.3h12.2v6.4h-12.2zM1078.2 1145.1h6.4v6.4h-6.4zM1136 1145.1h6.4v6.4h-6.4zM916.3 1150.9h6.4v6.4h-6.4zM1078.2 1150.9h6.4v6.4h-6.4zM1141.8 1150.9h6.4v6.4h-6.4zM922 1156.7h6.4v6.4h-6.4zM1078.2 1156.7h6.4v6.4h-6.4zM1141.8 1156.7h12.2v6.4h-12.2zM922 1162.5h12.2v6.4h-12.2zM1084 1162.5h6.4v6.4h-6.4zM1147.6 1162.5h6.4v6.4h-6.4zM1095.5 1168.2h6.4v6.4h-6.4zM1147.6 1168.2h6.4v6.4h-6.4zM933.6 1174h23.7v6.4h-23.7zM1107.1 1174h12.2v6.4h-12.2zM1141.8 1174h12.2v6.4h-12.2zM939.4 1179.8h6.4v6.4h-6.4zM956.7 1179.8h6.4v6.4h-6.4zM1136 1179.8h6.4v6.4h-6.4zM939.4 1185.6h6.4v6.4h-6.4zM962.5 1185.6h6.4v6.4h-6.4zM945.2 1191.4h6.4v6.4h-6.4zM974.1 1191.4h6.4v6.4h-6.4zM945.2 1197.2h12.2v6.4h-12.2zM979.9 1197.2h6.4v6.4h-6.4zM956.7 1202.9h6.4v6.4h-6.4zM956.7 1208.7h6.4v6.4h-6.4zM985.7 1208.7h6.4v6.4h-6.4zM956.7 1214.5h6.4v6.4h-6.4zM991.4 1214.5h6.4v6.4h-6.4zM997.2 1220.3h6.4v6.4h-6.4zM997.2 1226.1h6.4v6.4h-6.4zM1436.7 1226.1h23.7v6.4h-23.7zM962.5 1231.9h6.4v6.4h-6.4zM997.2 1231.9h6.4v6.4h-6.4zM962.5 1237.6h12.2v6.4h-12.2zM991.4 1237.6h12.2v6.4h-12.2zM1188 1237.6h6.4v6.4h-6.4zM968.3 1243.4h12.2v6.4h-12.2zM985.7 1243.4h12.2v6.4h-12.2zM1182.3 1243.4h17.9v6.4h-17.9zM979.9 1249.2h6.4v6.4h-6.4zM1188 1249.2h6.4v6.4h-6.4zM1430.9 1272.3h12.2v6.4h-12.2zM1430.9 1278.1h12.2v6.4h-12.2zM1205.4 1289.7h6.4v6.4h-6.4zM1205.4 1295.5h12.2v6.4h-12.2zM1199.6 1307h6.4v6.4h-6.4zM1217 1307h6.4v6.4h-6.4z"/>
<path fill="#31aff5" d="M916.3 1116.2h6.4v6.4h-6.4zM916.3 1122h6.4v6.4h-6.4zM1078.2 1127.8h23.7v6.4h-23.7zM1107.1 1127.8h29.5v6.4h-29.5zM1066.6 1133.5h6.4v6.4h-6.4zM1147.6 1133.5h12.2v6.4h-12.2zM1060.8 1139.3h6.4v6.4h-6.4zM1159.1 1139.3h6.4v6.4h-6.4zM922 1145.1h6.4v6.4h-6.4zM1060.8 1145.1h6.4v6.4h-6.4zM1164.9 1145.1h6.4v6.4h-6.4zM1060.8 1150.9h6.4v6.4h-6.4zM1170.7 1150.9h6.4v6.4h-6.4zM1060.8 1156.7h6.4v6.4h-6.4zM1176.5 1156.7h6.4v6.4h-6.4zM1066.6 1162.5h6.4v6.4h-6.4zM1176.5 1162.5h6.4v6.4h-6.4zM904.7 1168.2h12.2v6.4h-12.2zM962.5 1168.2h6.4v6.4h-6.4zM1072.4 1168.2h6.4v6.4h-6.4zM1176.5 1168.2h6.4v6.4h-6.4zM916.3 1174h6.4v6.4h-6.4zM968.3 1174h6.4v6.4h-6.4zM1078.2 1174h6.4v6.4h-6.4zM1176.5 1174h6.4v6.4h-6.4zM922 1179.8h6.4v6.4h-6.4zM1089.7 1179.8h12.2v6.4h-12.2zM1176.5 1179.8h6.4v6.4h-6.4zM927.8 1185.6h6.4v6.4h-6.4zM979.9 1185.6h6.4v6.4h-6.4zM1107.1 1185.6h17.9v6.4h-17.9zM1176.5 1185.6h6.4v6.4h-6.4zM1130.2 1191.4h6.4v6.4h-6.4zM1176.5 1191.4h6.4v6.4h-6.4zM933.6 1197.2h6.4v6.4h-6.4zM1147.6 1197.2h17.9v6.4h-17.9zM1176.5 1197.2h6.4v6.4h-6.4zM991.4 1202.9h6.4v6.4h-6.4zM1164.9 1202.9h6.4v6.4h-6.4zM1182.3 1202.9h12.2v6.4h-12.2zM939.4 1208.7h6.4v6.4h-6.4zM1164.9 1208.7h6.4v6.4h-6.4zM945.2 1214.5h6.4v6.4h-6.4zM1003 1214.5h6.4v6.4h-6.4zM1164.9 1214.5h6.4v6.4h-6.4zM1193.8 1214.5h6.4v6.4h-6.4zM945.2 1220.3h6.4v6.4h-6.4zM1164.9 1220.3h6.4v6.4h-6.4zM1425.1 1220.3h12.2v6.4h-12.2zM1454 1220.3h6.4v6.4h-6.4zM1164.9 1226.1h6.4v6.4h-6.4zM1014.6 1231.9h6.4v6.4h-6.4zM1164.9 1231.9h6.4v6.4h-6.4zM1199.6 1231.9h6.4v6.4h-6.4zM951 1237.6h6.4v6.4h-6.4zM1014.6 1237.6h6.4v6.4h-6.4zM1164.9 1237.6h6.4v6.4h-6.4zM1205.4 1237.6h6.4v6.4h-6.4zM1419.3 1237.6h46.9v6.4h-46.9zM1164.9 1243.4h6.4v6.4h-6.4zM956.7 1249.2h6.4v6.4h-6.4zM1014.6 1249.2h6.4v6.4h-6.4zM1170.7 1249.2h6.4v6.4h-6.4zM968.3 1255h6.4v6.4h-6.4zM1008.8 1255h12.2v6.4h-12.2zM1176.5 1255h6.4v6.4h-6.4zM1211.2 1255h6.4v6.4h-6.4zM974.1 1260.8h6.4v6.4h-6.4zM1003 1260.8h12.2v6.4h-12.2zM1211.2 1260.8h6.4v6.4h-6.4zM1425.1 1260.8h6.4v6.4h-6.4zM1436.7 1260.8h6.4v6.4h-6.4zM979.9 1266.5h23.7v6.4h-23.7zM1182.3 1266.5h6.4v6.4h-6.4zM1211.2 1266.5h6.4v6.4h-6.4zM1182.3 1272.3h6.4v6.4h-6.4zM1483 1272.3h17.9v6.4h-17.9zM1217 1278.1h6.4v6.4h-6.4zM1483 1278.1h17.9v6.4h-17.9zM1188 1283.9h6.4v6.4h-6.4zM1217 1283.9h6.4v6.4h-6.4zM1436.7 1283.9h6.4v6.4h-6.4zM1222.7 1289.7h6.4v6.4h-6.4zM1193.8 1295.5h6.4v6.4h-6.4zM1193.8 1301.2h6.4v6.4h-6.4zM1228.5 1301.2h6.4v6.4h-6.4zM1228.5 1307h6.4v6.4h-6.4z"/>
<path fill="#18e0bd" d="M922 1116.2h6.4v6.4h-6.4zM1031.9 1116.2h29.5v6.4h-29.5zM1245.9 1116.2h12.2v6.4h-12.2zM922 1122h6.4v6.4h-6.4zM1031.9 1122h23.7v6.4h-23.7zM1245.9 1122h12.2v6.4h-12.2zM1031.9 1127.8h17.9v6.4h-17.9zM1240.1 1127.8h12.2v6.4h-12.2zM1031.9 1133.5h12.2v6.4h-12.2zM1234.3 1133.5h12.2v6.4h-12.2zM1031.9 1139.3h12.2v6.4h-12.2zM1228.5 1139.3h12.2v6.4h-12.2zM933.6 1145.1h6.4v6.4h-6.4zM1037.7 1145.1h6.4v6.4h-6.4zM1217 1145.1h12.2v6.4h-12.2zM945.2 1150.9h6.4v6.4h-6.4zM1037.7 1150.9h6.4v6.4h-6.4zM1205.4 1150.9h12.2v6.4h-12.2zM956.7 1156.7h12.2v6.4h-12.2zM1037.7 1156.7h6.4v6.4h-6.4zM1205.4 1156.7h6.4v6.4h-6.4zM968.3 1162.5h6.4v6.4h-6.4zM1037.7 1162.5h6.4v6.4h-6.4zM1199.6 1162.5h12.2v6.4h-12.2zM974.1 1168.2h6.4v6.4h-6.4zM1043.5 1168.2h6.4v6.4h-6.4zM1199.6 1168.2h6.4v6.4h-6.4zM1049.3 1174h6.4v6.4h-6.4zM1199.6 1174h6.4v6.4h-6.4zM1055 1179.8h6.4v6.4h-6.4zM1199.6 1179.8h6.4v6.4h-6.4zM904.7 1185.6h6.4v6.4h-6.4zM1060.8 1185.6h12.2v6.4h-12.2zM1199.6 1185.6h6.4v6.4h-6.4zM910.5 1191.4h6.4v6.4h-6.4zM1072.4 1191.4h17.9v6.4h-17.9zM916.3 1197.2h6.4v6.4h-6.4zM1089.7 1197.2h6.4v6.4h-6.4zM1205.4 1197.2h6.4v6.4h-6.4zM922 1202.9h6.4v6.4h-6.4zM1003 1202.9h6.4v6.4h-6.4zM1095.5 1202.9h12.2v6.4h-12.2zM1205.4 1202.9h6.4v6.4h-6.4zM1101.3 1208.7h12.2v6.4h-12.2zM927.8 1214.5h6.4v6.4h-6.4zM1107.1 1214.5h12.2v6.4h-12.2zM1211.2 1214.5h6.4v6.4h-6.4zM1419.3 1214.5h23.7v6.4h-23.7zM1454 1214.5h6.4v6.4h-6.4zM927.8 1220.3h6.4v6.4h-6.4zM1112.9 1220.3h12.2v6.4h-12.2zM1211.2 1220.3h6.4v6.4h-6.4zM1118.7 1226.1h12.2v6.4h-12.2zM1402 1226.1h6.4v6.4h-6.4zM1483 1226.1h6.4v6.4h-6.4zM933.6 1231.9h6.4v6.4h-6.4zM1026.1 1231.9h6.4v6.4h-6.4zM1124.4 1231.9h12.2v6.4h-12.2zM1217 1231.9h6.4v6.4h-6.4zM1402 1231.9h6.4v6.4h-6.4zM1488.7 1231.9h6.4v6.4h-6.4zM1517.6 1231.9h12.2v6.4h-12.2zM1031.9 1237.6h6.4v6.4h-6.4zM1130.2 1237.6h12.2v6.4h-12.2zM1402 1237.6h6.4v6.4h-6.4zM1488.7 1237.6h12.2v6.4h-12.2zM1511.9 1237.6h17.9v6.4h-17.9zM939.4 1243.4h6.4v6.4h-6.4zM1136 1243.4h12.2v6.4h-12.2zM1488.7 1243.4h29.5v6.4h-29.5zM1037.7 1249.2h6.4v6.4h-6.4zM1141.8 1249.2h6.4v6.4h-6.4zM1222.7 1249.2h6.4v6.4h-6.4zM1407.8 1249.2h6.4v6.4h-6.4zM1488.7 1249.2h23.7v6.4h-23.7zM945.2 1255h6.4v6.4h-6.4zM1147.6 1255h6.4v6.4h-6.4zM1407.8 1255h6.4v6.4h-6.4zM1477.2 1255h23.7v6.4h-23.7zM1043.5 1260.8h6.4v6.4h-6.4zM1153.3 1260.8h6.4v6.4h-6.4zM1228.5 1260.8h6.4v6.4h-6.4zM1407.8 1260.8h6.4v6.4h-6.4zM1483 1260.8h6.4v6.4h-6.4zM951 1266.5h6.4v6.4h-6.4zM1037.7 1266.5h12.2v6.4h-12.2zM1159.1 1266.5h6.4v6.4h-6.4zM1228.5 1266.5h6.4v6.4h-6.4zM956.7 1272.3h6.4v6.4h-6.4zM1031.9 1272.3h12.2v6.4h-12.2zM1164.9 1272.3h6.4v6.4h-6.4zM1228.5 1272.3h6.4v6.4h-6.4zM1413.6 1272.3h6.4v6.4h-6.4zM1506.1 1272.3h6.4v6.4h-6.4zM962.5 1278.1h6.4v6.4h-6.4zM1026.1 1278.1h12.2v6.4h-12.2zM1170.7 1278.1h6.4v6.4h-6.4zM1465.6 1278.1h6.4v6.4h-6.4zM968.3 1283.9h6.4v6.4h-6.4zM1014.6 1283.9h12.2v6.4h-12.2zM1170.7 1283.9h6.4v6.4h-6.4zM1234.3 1283.9h6.4v6.4h-6.4zM1477.2 1283.9h6.4v6.4h-6.4zM968.3 1289.7h52.6v6.4h-52.6zM1170.7 1289.7h6.4v6.4h-6.4zM974.1 1295.5h41.1v6.4h-41.1zM1176.5 1295.5h6.4v6.4h-6.4zM1240.1 1295.5h6.4v6.4h-6.4zM985.7 1301.2h12.2v6.4h-12.2zM1176.5 1301.2h6.4v6.4h-6.4zM1176.5 1307h6.4v6.4h-6.4zM1245.9 1307h6.4v6.4h-6.4zM1245.9 1312.8h6.4v6.4h-6.4z"/>
<path fill="#43f787" d="M927.8 1116.2h6.4v6.4h-6.4zM1286.3 1116.2h6.4v6.4h-6.4zM1280.6 1122h12.2v6.4h-12.2zM933.6 1127.8h6.4v6.4h-6.4zM951 1127.8h6.4v6.4h-6.4zM1280.6 1127.8h6.4v6.4h-6.4zM933.6 1133.5h23.7v6.4h-23.7zM985.7 1133.5h17.9v6.4h-17.9zM1274.8 1133.5h6.4v6.4h-6.4zM945.2 1139.3h12.2v6.4h-12.2zM974.1 1139.3h12.2v6.4h-12.2zM1003 1139.3h6.4v6.4h-6.4zM1263.2 1139.3h12.2v6.4h-12.2zM974.1 1145.1h6.4v6.4h-6.4zM1008.8 1145.1h6.4v6.4h-6.4zM1257.4 1145.1h6.4v6.4h-6.4zM974.1 1150.9h6.4v6.4h-6.4zM1014.6 1150.9h6.4v6.4h-6.4zM1245.9 1150.9h6.4v6.4h-6.4zM1234.3 1156.7h6.4v6.4h-6.4zM979.9 1162.5h6.4v6.4h-6.4zM1020.4 1162.5h6.4v6.4h-6.4zM1228.5 1162.5h6.4v6.4h-6.4zM1222.7 1168.2h6.4v6.4h-6.4zM985.7 1174h6.4v6.4h-6.4zM1026.1 1174h6.4v6.4h-6.4zM1031.9 1179.8h6.4v6.4h-6.4zM991.4 1185.6h6.4v6.4h-6.4zM1031.9 1185.6h6.4v6.4h-6.4zM1037.7 1191.4h6.4v6.4h-6.4zM1003 1197.2h6.4v6.4h-6.4zM1043.5 1197.2h6.4v6.4h-6.4zM1049.3 1202.9h17.9v6.4h-17.9zM910.5 1208.7h6.4v6.4h-6.4zM1014.6 1208.7h6.4v6.4h-6.4zM1066.6 1208.7h12.2v6.4h-12.2zM1419.3 1208.7h35.3v6.4h-35.3zM916.3 1214.5h6.4v6.4h-6.4zM1020.4 1214.5h6.4v6.4h-6.4zM1072.4 1214.5h12.2v6.4h-12.2zM1222.7 1214.5h6.4v6.4h-6.4zM1471.4 1214.5h6.4v6.4h-6.4zM916.3 1220.3h6.4v6.4h-6.4zM1026.1 1220.3h6.4v6.4h-6.4zM1078.2 1220.3h12.2v6.4h-12.2zM1488.7 1220.3h12.2v6.4h-12.2zM1506.1 1220.3h12.2v6.4h-12.2zM1031.9 1226.1h6.4v6.4h-6.4zM1089.7 1226.1h6.4v6.4h-6.4zM922 1231.9h6.4v6.4h-6.4zM1089.7 1231.9h12.2v6.4h-12.2zM1228.5 1231.9h6.4v6.4h-6.4zM1095.5 1237.6h12.2v6.4h-12.2zM1228.5 1237.6h6.4v6.4h-6.4zM1107.1 1243.4h6.4v6.4h-6.4zM1055 1249.2h6.4v6.4h-6.4zM1107.1 1249.2h12.2v6.4h-12.2zM1234.3 1249.2h6.4v6.4h-6.4zM1396.2 1249.2h6.4v6.4h-6.4zM933.6 1255h6.4v6.4h-6.4zM1112.9 1255h12.2v6.4h-12.2zM1396.2 1255h6.4v6.4h-6.4zM1060.8 1260.8h6.4v6.4h-6.4zM1124.4 1260.8h6.4v6.4h-6.4zM939.4 1266.5h6.4v6.4h-6.4zM1060.8 1266.5h6.4v6.4h-6.4zM1130.2 1266.5h6.4v6.4h-6.4zM1240.1 1266.5h6.4v6.4h-6.4zM939.4 1272.3h6.4v6.4h-6.4zM1060.8 1272.3h6.4v6.4h-6.4zM1136 1272.3h6.4v6.4h-6.4zM1511.9 1272.3h6.4v6.4h-6.4zM1060.8 1278.1h6.4v6.4h-6.4zM1141.8 1278.1h6.4v6.4h-6.4zM945.2 1283.9h6.4v6.4h-6.4zM1055 1283.9h12.2v6.4h-12.2zM1147.6 1283.9h6.4v6.4h-6.4zM1245.9 1283.9h6.4v6.4h-6.4zM1506.1 1283.9h6.4v6.4h-6.4zM945.2 1289.7h6.4v6.4h-6.4zM1049.3 1289.7h12.2v6.4h-12.2zM1153.3 1289.7h6.4v6.4h-6.4zM1425.1 1289.7h6.4v6.4h-6.4zM1459.8 1289.7h6.4v6.4h-6.4zM1477.2 1289.7h17.9v6.4h-17.9zM1043.5 1295.5h6.4v6.4h-6.4zM1251.7 1295.5h6.4v6.4h-6.4zM951 1301.2h6.4v6.4h-6.4zM1037.7 1301.2h6.4v6.4h-6.4zM1159.1 1301.2h6.4v6.4h-6.4zM1257.4 1301.2h6.4v6.4h-6.4zM1309.5 1301.2h6.4v6.4h-6.4zM1326.8 1301.2h6.4v6.4h-6.4zM951 1307h6.4v6.4h-6.4zM1031.9 1307h6.4v6.4h-6.4zM1159.1 1307h6.4v6.4h-6.4zM1263.2 1307h6.4v6.4h-6.4zM1297.9 1307h6.4v6.4h-6.4zM1338.4 1307h6.4v6.4h-6.4zM951 1312.8h6.4v6.4h-6.4zM1026.1 1312.8h6.4v6.4h-6.4zM1159.1 1312.8h6.4v6.4h-6.4zM1269 1312.8h6.4v6.4h-6.4zM1297.9 1312.8h6.4v6.4h-6.4zM1350 1312.8h6.4v6.4h-6.4zM951 1318.6h6.4v6.4h-6.4zM1026.1 1318.6h6.4v6.4h-6.4zM1159.1 1318.6h6.4v6.4h-6.4zM1269 1318.6h6.4v6.4h-6.4zM1355.7 1318.6h6.4v6.4h-6.4z"/>
<path fill="#55fa76" d="M933.6 1116.2h17.9v6.4h-17.9zM1292.1 1116.2h6.4v6.4h-6.4zM933.6 1122h17.9v6.4h-17.9zM939.4 1127.8h12.2v6.4h-12.2zM985.7 1139.3h17.9v6.4h-17.9zM1274.8 1139.3h6.4v6.4h-6.4zM979.9 1145.1h29.5v6.4h-29.5zM1263.2 1145.1h6.4v6.4h-6.4zM979.9 1150.9h12.2v6.4h-12.2zM1008.8 1150.9h6.4v6.4h-6.4zM1251.7 1150.9h6.4v6.4h-6.4zM979.9 1156.7h6.4v6.4h-6.4zM1014.6 1156.7h6.4v6.4h-6.4zM1240.1 1156.7h6.4v6.4h-6.4zM985.7 1168.2h6.4v6.4h-6.4zM1020.4 1168.2h6.4v6.4h-6.4zM1222.7 1174h6.4v6.4h-6.4zM1026.1 1179.8h6.4v6.4h-6.4zM1222.7 1179.8h6.4v6.4h-6.4zM1222.7 1185.6h6.4v6.4h-6.4zM997.2 1191.4h6.4v6.4h-6.4zM1031.9 1191.4h6.4v6.4h-6.4zM1222.7 1191.4h6.4v6.4h-6.4zM1222.7 1197.2h6.4v6.4h-6.4zM1222.7 1202.9h6.4v6.4h-6.4zM904.7 1208.7h6.4v6.4h-6.4zM1049.3 1208.7h17.9v6.4h-17.9zM1222.7 1208.7h6.4v6.4h-6.4zM1413.6 1208.7h6.4v6.4h-6.4zM1454 1208.7h6.4v6.4h-6.4zM910.5 1214.5h6.4v6.4h-6.4zM1066.6 1214.5h6.4v6.4h-6.4zM1402 1214.5h6.4v6.4h-6.4zM1477.2 1214.5h6.4v6.4h-6.4zM1517.6 1214.5h12.2v6.4h-12.2zM1066.6 1220.3h12.2v6.4h-12.2zM1396.2 1220.3h6.4v6.4h-6.4zM1500.3 1220.3h6.4v6.4h-6.4zM916.3 1226.1h6.4v6.4h-6.4zM1066.6 1226.1h23.7v6.4h-23.7zM1228.5 1226.1h6.4v6.4h-6.4zM1037.7 1231.9h6.4v6.4h-6.4zM1072.4 1231.9h17.9v6.4h-17.9zM1390.4 1231.9h6.4v6.4h-6.4zM922 1237.6h6.4v6.4h-6.4zM1043.5 1237.6h6.4v6.4h-6.4zM1078.2 1237.6h17.9v6.4h-17.9zM1390.4 1237.6h6.4v6.4h-6.4zM927.8 1243.4h6.4v6.4h-6.4zM1049.3 1243.4h6.4v6.4h-6.4zM1084 1243.4h23.7v6.4h-23.7zM1234.3 1243.4h6.4v6.4h-6.4zM1390.4 1243.4h6.4v6.4h-6.4zM1089.7 1249.2h17.9v6.4h-17.9zM1060.8 1255h6.4v6.4h-6.4zM1095.5 1255h17.9v6.4h-17.9zM933.6 1260.8h6.4v6.4h-6.4zM1066.6 1260.8h6.4v6.4h-6.4zM1107.1 1260.8h17.9v6.4h-17.9zM1240.1 1260.8h6.4v6.4h-6.4zM1396.2 1260.8h6.4v6.4h-6.4zM1066.6 1266.5h6.4v6.4h-6.4zM1402 1266.5h6.4v6.4h-6.4zM1066.6 1272.3h6.4v6.4h-6.4zM939.4 1278.1h6.4v6.4h-6.4zM1066.6 1278.1h6.4v6.4h-6.4zM1136 1278.1h6.4v6.4h-6.4zM1245.9 1278.1h6.4v6.4h-6.4zM1407.8 1278.1h6.4v6.4h-6.4zM1066.6 1283.9h6.4v6.4h-6.4zM1141.8 1283.9h6.4v6.4h-6.4zM1413.6 1283.9h6.4v6.4h-6.4zM1060.8 1289.7h12.2v6.4h-12.2zM1147.6 1289.7h6.4v6.4h-6.4zM1251.7 1289.7h6.4v6.4h-6.4zM1465.6 1289.7h12.2v6.4h-12.2zM1494.5 1289.7h12.2v6.4h-12.2zM945.2 1295.5h6.4v6.4h-6.4zM1049.3 1295.5h17.9v6.4h-17.9zM1153.3 1295.5h6.4v6.4h-6.4zM1257.4 1295.5h6.4v6.4h-6.4zM1309.5 1295.5h23.7v6.4h-23.7zM1442.5 1295.5h17.9v6.4h-17.9zM945.2 1301.2h6.4v6.4h-6.4zM1043.5 1301.2h6.4v6.4h-6.4zM1153.3 1301.2h6.4v6.4h-6.4zM1263.2 1301.2h6.4v6.4h-6.4zM1303.7 1301.2h6.4v6.4h-6.4zM1332.6 1301.2h6.4v6.4h-6.4zM945.2 1307h6.4v6.4h-6.4zM1037.7 1307h6.4v6.4h-6.4zM1153.3 1307h6.4v6.4h-6.4zM1269 1307h6.4v6.4h-6.4zM1292.1 1307h6.4v6.4h-6.4zM1344.2 1307h6.4v6.4h-6.4zM945.2 1312.8h6.4v6.4h-6.4zM1031.9 1312.8h6.4v6.4h-6.4zM1153.3 1312.8h6.4v6.4h-6.4zM1274.8 1312.8h23.7v6.4h-23.7zM1355.7 1312.8h6.4v6.4h-6.4zM945.2 1318.6h6.4v6.4h-6.4zM1031.9 1318.6h6.4v6.4h-6.4zM1153.3 1318.6h6.4v6.4h-6.4zM1274.8 1318.6h23.7v6.4h-23.7zM1361.5 1318.6h6.4v6.4h-6.4z"/>
<path fill="#35f394" d="M951 1116.2h6.4v6.4h-6.4zM1274.8 1116.2h12.2v6.4h-12.2zM927.8 1122h6.4v6.4h-6.4zM951 1122h6.4v6.4h-6.4zM1274.8 1122h6.4v6.4h-6.4zM927.8 1127.8h6.4v6.4h-6.4zM991.4 1127.8h17.9v6.4h-17.9zM1269 1127.8h12.2v6.4h-12.2zM956.7 1133.5h6.4v6.4h-6.4zM974.1 1133.5h12.2v6.4h-12.2zM1003 1133.5h12.2v6.4h-12.2zM1263.2 1133.5h12.2v6.4h-12.2zM933.6 1139.3h12.2v6.4h-12.2zM956.7 1139.3h17.9v6.4h-17.9zM1008.8 1139.3h12.2v6.4h-12.2zM1257.4 1139.3h6.4v6.4h-6.4zM951 1145.1h6.4v6.4h-6.4zM968.3 1145.1h6.4v6.4h-6.4zM1014.6 1145.1h6.4v6.4h-6.4zM1245.9 1145.1h12.2v6.4h-12.2zM1020.4 1150.9h6.4v6.4h-6.4zM1234.3 1150.9h12.2v6.4h-12.2zM974.1 1156.7h6.4v6.4h-6.4zM1020.4 1156.7h6.4v6.4h-6.4zM1228.5 1156.7h6.4v6.4h-6.4zM1026.1 1162.5h6.4v6.4h-6.4zM1222.7 1162.5h6.4v6.4h-6.4zM979.9 1168.2h6.4v6.4h-6.4zM1026.1 1168.2h6.4v6.4h-6.4zM1217 1168.2h6.4v6.4h-6.4zM1031.9 1174h6.4v6.4h-6.4zM1217 1174h6.4v6.4h-6.4zM1037.7 1179.8h6.4v6.4h-6.4zM1217 1179.8h6.4v6.4h-6.4zM1037.7 1185.6h12.2v6.4h-12.2zM1217 1185.6h6.4v6.4h-6.4zM1043.5 1191.4h12.2v6.4h-12.2zM1217 1191.4h6.4v6.4h-6.4zM1049.3 1197.2h12.2v6.4h-12.2zM1217 1197.2h6.4v6.4h-6.4zM904.7 1202.9h12.2v6.4h-12.2zM1008.8 1202.9h6.4v6.4h-6.4zM1066.6 1202.9h12.2v6.4h-12.2zM1217 1202.9h6.4v6.4h-6.4zM916.3 1208.7h6.4v6.4h-6.4zM1078.2 1208.7h12.2v6.4h-12.2zM1217 1208.7h6.4v6.4h-6.4zM1084 1214.5h12.2v6.4h-12.2zM1407.8 1214.5h6.4v6.4h-6.4zM1089.7 1220.3h12.2v6.4h-12.2zM1222.7 1220.3h6.4v6.4h-6.4zM1483 1220.3h6.4v6.4h-6.4zM1517.6 1220.3h12.2v6.4h-12.2zM922 1226.1h6.4v6.4h-6.4zM1095.5 1226.1h12.2v6.4h-12.2zM1222.7 1226.1h6.4v6.4h-6.4zM1396.2 1226.1h6.4v6.4h-6.4zM1500.3 1226.1h6.4v6.4h-6.4zM1101.3 1231.9h12.2v6.4h-12.2zM927.8 1237.6h6.4v6.4h-6.4zM1107.1 1237.6h12.2v6.4h-12.2zM1396.2 1237.6h6.4v6.4h-6.4zM1043.5 1243.4h6.4v6.4h-6.4zM1112.9 1243.4h12.2v6.4h-12.2zM1228.5 1243.4h6.4v6.4h-6.4zM1396.2 1243.4h6.4v6.4h-6.4zM933.6 1249.2h6.4v6.4h-6.4zM1049.3 1249.2h6.4v6.4h-6.4zM1118.7 1249.2h12.2v6.4h-12.2zM1055 1255h6.4v6.4h-6.4zM1124.4 1255h12.2v6.4h-12.2zM1234.3 1255h6.4v6.4h-6.4zM939.4 1260.8h6.4v6.4h-6.4zM1130.2 1260.8h12.2v6.4h-12.2zM1234.3 1260.8h6.4v6.4h-6.4zM1402 1260.8h6.4v6.4h-6.4zM1136 1266.5h12.2v6.4h-12.2zM1517.6 1266.5h12.2v6.4h-12.2zM1055 1272.3h6.4v6.4h-6.4zM1141.8 1272.3h12.2v6.4h-12.2zM1240.1 1272.3h6.4v6.4h-6.4zM1407.8 1272.3h6.4v6.4h-6.4zM945.2 1278.1h6.4v6.4h-6.4zM1049.3 1278.1h12.2v6.4h-12.2zM1147.6 1278.1h12.2v6.4h-12.2zM1240.1 1278.1h6.4v6.4h-6.4zM1043.5 1283.9h12.2v6.4h-12.2zM1153.3 1283.9h6.4v6.4h-6.4zM951 1289.7h6.4v6.4h-6.4zM1037.7 1289.7h12.2v6.4h-12.2zM1159.1 1289.7h6.4v6.4h-6.4zM1245.9 1289.7h6.4v6.4h-6.4zM951 1295.5h6.4v6.4h-6.4zM1031.9 1295.5h12.2v6.4h-12.2zM1159.1 1295.5h6.4v6.4h-6.4zM1026.1 1301.2h12.2v6.4h-12.2zM1251.7 1301.2h6.4v6.4h-6.4zM1315.3 1301.2h12.2v6.4h-12.2zM956.7 1307h6.4v6.4h-6.4zM1020.4 1307h12.2v6.4h-12.2zM1164.9 1307h6.4v6.4h-6.4zM1257.4 1307h6.4v6.4h-6.4zM1303.7 1307h6.4v6.4h-6.4zM1332.6 1307h6.4v6.4h-6.4zM956.7 1312.8h6.4v6.4h-6.4zM1020.4 1312.8h6.4v6.4h-6.4zM1164.9 1312.8h6.4v6.4h-6.4zM1257.4 1312.8h12.2v6.4h-12.2zM1344.2 1312.8h6.4v6.4h-6.4zM956.7 1318.6h12.2v6.4h-12.2zM1014.6 1318.6h12.2v6.4h-12.2zM1164.9 1318.6h6.4v6.4h-6.4zM1263.2 1318.6h6.4v6.4h-6.4zM1297.9 1318.6h6.4v6.4h-6.4zM1344.2 1318.6h12.2v6.4h-12.2z"/>
<path fill="#27eea4" d="M956.7 1116.2h6.4v6.4h-6.4zM991.4 1116.2h17.9v6.4h-17.9zM1269 1116.2h6.4v6.4h-6.4zM956.7 1122h6.4v6.4h-6.4zM991.4 1122h17.9v6.4h-17.9zM1269 1122h6.4v6.4h-6.4zM956.7 1127.8h12.2v6.4h-12.2zM974.1 1127.8h17.9v6.4h-17.9zM1008.8 1127.8h6.4v6.4h-6.4zM1263.2 1127.8h6.4v6.4h-6.4zM927.8 1133.5h6.4v6.4h-6.4zM962.5 1133.5h12.2v6.4h-12.2zM1014.6 1133.5h6.4v6.4h-6.4zM1257.4 1133.5h6.4v6.4h-6.4zM1020.4 1139.3h6.4v6.4h-6.4zM1251.7 1139.3h6.4v6.4h-6.4zM945.2 1145.1h6.4v6.4h-6.4zM956.7 1145.1h12.2v6.4h-12.2zM1020.4 1145.1h6.4v6.4h-6.4zM1240.1 1145.1h6.4v6.4h-6.4zM968.3 1150.9h6.4v6.4h-6.4zM1026.1 1150.9h6.4v6.4h-6.4zM1228.5 1150.9h6.4v6.4h-6.4zM968.3 1156.7h6.4v6.4h-6.4zM1026.1 1156.7h6.4v6.4h-6.4zM1217 1156.7h12.2v6.4h-12.2zM974.1 1162.5h6.4v6.4h-6.4zM1217 1162.5h6.4v6.4h-6.4zM1031.9 1168.2h6.4v6.4h-6.4zM1211.2 1168.2h6.4v6.4h-6.4zM979.9 1174h6.4v6.4h-6.4zM1037.7 1174h6.4v6.4h-6.4zM1211.2 1174h6.4v6.4h-6.4zM985.7 1179.8h6.4v6.4h-6.4zM1043.5 1179.8h6.4v6.4h-6.4zM1211.2 1179.8h6.4v6.4h-6.4zM1049.3 1185.6h6.4v6.4h-6.4zM1211.2 1185.6h6.4v6.4h-6.4zM1055 1191.4h6.4v6.4h-6.4zM1211.2 1191.4h6.4v6.4h-6.4zM904.7 1197.2h12.2v6.4h-12.2zM997.2 1197.2h6.4v6.4h-6.4zM1060.8 1197.2h17.9v6.4h-17.9zM1211.2 1197.2h6.4v6.4h-6.4zM916.3 1202.9h6.4v6.4h-6.4zM1078.2 1202.9h12.2v6.4h-12.2zM1089.7 1208.7h6.4v6.4h-6.4zM922 1214.5h6.4v6.4h-6.4zM1014.6 1214.5h6.4v6.4h-6.4zM1095.5 1214.5h6.4v6.4h-6.4zM1217 1214.5h6.4v6.4h-6.4zM1465.6 1214.5h6.4v6.4h-6.4zM922 1220.3h6.4v6.4h-6.4zM1020.4 1220.3h6.4v6.4h-6.4zM1101.3 1220.3h6.4v6.4h-6.4zM1217 1220.3h6.4v6.4h-6.4zM1402 1220.3h6.4v6.4h-6.4zM1026.1 1226.1h6.4v6.4h-6.4zM1107.1 1226.1h6.4v6.4h-6.4zM1494.5 1226.1h6.4v6.4h-6.4zM1506.1 1226.1h12.2v6.4h-12.2zM927.8 1231.9h6.4v6.4h-6.4zM1031.9 1231.9h6.4v6.4h-6.4zM1112.9 1231.9h6.4v6.4h-6.4zM1222.7 1231.9h6.4v6.4h-6.4zM1396.2 1231.9h6.4v6.4h-6.4zM1037.7 1237.6h6.4v6.4h-6.4zM1118.7 1237.6h6.4v6.4h-6.4zM933.6 1243.4h6.4v6.4h-6.4zM1124.4 1243.4h6.4v6.4h-6.4zM1043.5 1249.2h6.4v6.4h-6.4zM1130.2 1249.2h6.4v6.4h-6.4zM1228.5 1249.2h6.4v6.4h-6.4zM939.4 1255h6.4v6.4h-6.4zM1049.3 1255h6.4v6.4h-6.4zM1136 1255h6.4v6.4h-6.4zM1402 1255h6.4v6.4h-6.4zM1055 1260.8h6.4v6.4h-6.4zM1141.8 1260.8h6.4v6.4h-6.4zM945.2 1266.5h6.4v6.4h-6.4zM1055 1266.5h6.4v6.4h-6.4zM1147.6 1266.5h6.4v6.4h-6.4zM1234.3 1266.5h6.4v6.4h-6.4zM1407.8 1266.5h6.4v6.4h-6.4zM945.2 1272.3h6.4v6.4h-6.4zM1049.3 1272.3h6.4v6.4h-6.4zM1153.3 1272.3h6.4v6.4h-6.4zM951 1278.1h6.4v6.4h-6.4zM1043.5 1278.1h6.4v6.4h-6.4zM1159.1 1278.1h6.4v6.4h-6.4zM951 1283.9h6.4v6.4h-6.4zM1037.7 1283.9h6.4v6.4h-6.4zM1159.1 1283.9h6.4v6.4h-6.4zM1240.1 1283.9h6.4v6.4h-6.4zM1419.3 1283.9h6.4v6.4h-6.4zM1465.6 1283.9h6.4v6.4h-6.4zM956.7 1289.7h6.4v6.4h-6.4zM1031.9 1289.7h6.4v6.4h-6.4zM1164.9 1289.7h6.4v6.4h-6.4zM1430.9 1289.7h6.4v6.4h-6.4zM1454 1289.7h6.4v6.4h-6.4zM956.7 1295.5h6.4v6.4h-6.4zM1026.1 1295.5h6.4v6.4h-6.4zM1164.9 1295.5h6.4v6.4h-6.4zM1245.9 1295.5h6.4v6.4h-6.4zM956.7 1301.2h6.4v6.4h-6.4zM1020.4 1301.2h6.4v6.4h-6.4zM1164.9 1301.2h6.4v6.4h-6.4zM962.5 1307h6.4v6.4h-6.4zM1014.6 1307h6.4v6.4h-6.4zM1170.7 1307h6.4v6.4h-6.4zM1251.7 1307h6.4v6.4h-6.4zM1309.5 1307h23.7v6.4h-23.7zM962.5 1312.8h12.2v6.4h-12.2zM1008.8 1312.8h12.2v6.4h-12.2zM1170.7 1312.8h6.4v6.4h-6.4zM1303.7 1312.8h6.4v6.4h-6.4zM1332.6 1312.8h12.2v6.4h-12.2zM968.3 1318.6h6.4v6.4h-6.4zM1008.8 1318.6h6.4v6.4h-6.4zM1170.7 1318.6h6.4v6.4h-6.4zM1257.4 1318.6h6.4v6.4h-6.4zM1303.7 1318.6h6.4v6.4h-6.4zM1338.4 1318.6h6.4v6.4h-6.4z"/>
<path fill="#1de7b2" d="M962.5 1116.2h29.5v6.4h-29.5zM1008.8 1116.2h23.7v6.4h-23.7zM1257.4 1116.2h12.2v6.4h-12.2zM962.5 1122h29.5v6.4h-29.5zM1008.8 1122h23.7v6.4h-23.7zM1257.4 1122h12.2v6.4h-12.2zM968.3 1127.8h6.4v6.4h-6.4zM1014.6 1127.8h17.9v6.4h-17.9zM1251.7 1127.8h12.2v6.4h-12.2zM1020.4 1133.5h12.2v6.4h-12.2zM1245.9 1133.5h12.2v6.4h-12.2zM927.8 1139.3h6.4v6.4h-6.4zM1026.1 1139.3h6.4v6.4h-6.4zM1240.1 1139.3h12.2v6.4h-12.2zM939.4 1145.1h6.4v6.4h-6.4zM1026.1 1145.1h12.2v6.4h-12.2zM1228.5 1145.1h12.2v6.4h-12.2zM951 1150.9h17.9v6.4h-17.9zM1031.9 1150.9h6.4v6.4h-6.4zM1217 1150.9h12.2v6.4h-12.2zM1031.9 1156.7h6.4v6.4h-6.4zM1211.2 1156.7h6.4v6.4h-6.4zM1031.9 1162.5h6.4v6.4h-6.4zM1211.2 1162.5h6.4v6.4h-6.4zM1037.7 1168.2h6.4v6.4h-6.4zM1205.4 1168.2h6.4v6.4h-6.4zM1043.5 1174h6.4v6.4h-6.4zM1205.4 1174h6.4v6.4h-6.4zM1049.3 1179.8h6.4v6.4h-6.4zM1205.4 1179.8h6.4v6.4h-6.4zM1055 1185.6h6.4v6.4h-6.4zM1205.4 1185.6h6.4v6.4h-6.4zM904.7 1191.4h6.4v6.4h-6.4zM991.4 1191.4h6.4v6.4h-6.4zM1060.8 1191.4h12.2v6.4h-12.2zM1205.4 1191.4h6.4v6.4h-6.4zM1078.2 1197.2h12.2v6.4h-12.2zM1089.7 1202.9h6.4v6.4h-6.4zM1211.2 1202.9h6.4v6.4h-6.4zM922 1208.7h6.4v6.4h-6.4zM1008.8 1208.7h6.4v6.4h-6.4zM1095.5 1208.7h6.4v6.4h-6.4zM1211.2 1208.7h6.4v6.4h-6.4zM1101.3 1214.5h6.4v6.4h-6.4zM1413.6 1214.5h6.4v6.4h-6.4zM1459.8 1214.5h6.4v6.4h-6.4zM1107.1 1220.3h6.4v6.4h-6.4zM1477.2 1220.3h6.4v6.4h-6.4zM927.8 1226.1h6.4v6.4h-6.4zM1112.9 1226.1h6.4v6.4h-6.4zM1217 1226.1h6.4v6.4h-6.4zM1488.7 1226.1h6.4v6.4h-6.4zM1517.6 1226.1h12.2v6.4h-12.2zM1118.7 1231.9h6.4v6.4h-6.4zM1494.5 1231.9h23.7v6.4h-23.7zM933.6 1237.6h6.4v6.4h-6.4zM1124.4 1237.6h6.4v6.4h-6.4zM1222.7 1237.6h6.4v6.4h-6.4zM1500.3 1237.6h12.2v6.4h-12.2zM1037.7 1243.4h6.4v6.4h-6.4zM1130.2 1243.4h6.4v6.4h-6.4zM1222.7 1243.4h6.4v6.4h-6.4zM1402 1243.4h6.4v6.4h-6.4zM939.4 1249.2h6.4v6.4h-6.4zM1136 1249.2h6.4v6.4h-6.4zM1402 1249.2h6.4v6.4h-6.4zM1043.5 1255h6.4v6.4h-6.4zM1141.8 1255h6.4v6.4h-6.4zM1228.5 1255h6.4v6.4h-6.4zM945.2 1260.8h6.4v6.4h-6.4zM1049.3 1260.8h6.4v6.4h-6.4zM1147.6 1260.8h6.4v6.4h-6.4zM1049.3 1266.5h6.4v6.4h-6.4zM1153.3 1266.5h6.4v6.4h-6.4zM1511.9 1266.5h6.4v6.4h-6.4zM951 1272.3h6.4v6.4h-6.4zM1043.5 1272.3h6.4v6.4h-6.4zM1159.1 1272.3h6.4v6.4h-6.4zM1234.3 1272.3h6.4v6.4h-6.4zM956.7 1278.1h6.4v6.4h-6.4zM1037.7 1278.1h6.4v6.4h-6.4zM1164.9 1278.1h6.4v6.4h-6.4zM1234.3 1278.1h6.4v6.4h-6.4zM1413.6 1278.1h6.4v6.4h-6.4zM1506.1 1278.1h6.4v6.4h-6.4zM956.7 1283.9h12.2v6.4h-12.2zM1026.1 1283.9h12.2v6.4h-12.2zM1164.9 1283.9h6.4v6.4h-6.4zM1459.8 1283.9h6.4v6.4h-6.4zM1471.4 1283.9h6.4v6.4h-6.4zM1500.3 1283.9h6.4v6.4h-6.4zM962.5 1289.7h6.4v6.4h-6.4zM1020.4 1289.7h12.2v6.4h-12.2zM1240.1 1289.7h6.4v6.4h-6.4zM1436.7 1289.7h17.9v6.4h-17.9zM962.5 1295.5h12.2v6.4h-12.2zM1014.6 1295.5h12.2v6.4h-12.2zM1170.7 1295.5h6.4v6.4h-6.4zM962.5 1301.2h23.7v6.4h-23.7zM997.2 1301.2h23.7v6.4h-23.7zM1170.7 1301.2h6.4v6.4h-6.4zM1245.9 1301.2h6.4v6.4h-6.4zM968.3 1307h46.9v6.4h-46.9zM974.1 1312.8h35.3v6.4h-35.3zM1176.5 1312.8h6.4v6.4h-6.4zM1251.7 1312.8h6.4v6.4h-6.4zM1309.5 1312.8h23.7v6.4h-23.7zM974.1 1318.6h35.3v6.4h-35.3zM1176.5 1318.6h6.4v6.4h-6.4zM1251.7 1318.6h6.4v6.4h-6.4zM1309.5 1318.6h29.5v6.4h-29.5z"/>
<path fill="#18d9c8" d="M1060.8 1116.2h6.4v6.4h-6.4zM1234.3 1116.2h12.2v6.4h-12.2zM1055 1122h6.4v6.4h-6.4zM1234.3 1122h12.2v6.4h-12.2zM922 1127.8h6.4v6.4h-6.4zM1049.3 1127.8h6.4v6.4h-6.4zM1228.5 1127.8h12.2v6.4h-12.2zM1043.5 1133.5h12.2v6.4h-12.2zM1222.7 1133.5h12.2v6.4h-12.2zM1043.5 1139.3h6.4v6.4h-6.4zM1217 1139.3h12.2v6.4h-12.2zM1043.5 1145.1h6.4v6.4h-6.4zM1205.4 1145.1h12.2v6.4h-12.2zM939.4 1150.9h6.4v6.4h-6.4zM1043.5 1150.9h6.4v6.4h-6.4zM1199.6 1150.9h6.4v6.4h-6.4zM951 1156.7h6.4v6.4h-6.4zM1043.5 1156.7h6.4v6.4h-6.4zM1193.8 1156.7h12.2v6.4h-12.2zM1043.5 1162.5h12.2v6.4h-12.2zM1193.8 1162.5h6.4v6.4h-6.4zM1049.3 1168.2h12.2v6.4h-12.2zM1193.8 1168.2h6.4v6.4h-6.4zM974.1 1174h6.4v6.4h-6.4zM1055 1174h12.2v6.4h-12.2zM1193.8 1174h6.4v6.4h-6.4zM904.7 1179.8h6.4v6.4h-6.4zM979.9 1179.8h6.4v6.4h-6.4zM1060.8 1179.8h12.2v6.4h-12.2zM1193.8 1179.8h6.4v6.4h-6.4zM910.5 1185.6h6.4v6.4h-6.4zM985.7 1185.6h6.4v6.4h-6.4zM1072.4 1185.6h12.2v6.4h-12.2zM1193.8 1185.6h6.4v6.4h-6.4zM916.3 1191.4h6.4v6.4h-6.4zM1089.7 1191.4h6.4v6.4h-6.4zM1199.6 1191.4h6.4v6.4h-6.4zM922 1197.2h6.4v6.4h-6.4zM1095.5 1197.2h12.2v6.4h-12.2zM1199.6 1197.2h6.4v6.4h-6.4zM1107.1 1202.9h6.4v6.4h-6.4zM927.8 1208.7h6.4v6.4h-6.4zM1112.9 1208.7h6.4v6.4h-6.4zM1124.4 1208.7h23.7v6.4h-23.7zM1205.4 1208.7h6.4v6.4h-6.4zM1118.7 1214.5h29.5v6.4h-29.5zM1205.4 1214.5h6.4v6.4h-6.4zM1442.5 1214.5h12.2v6.4h-12.2zM1014.6 1220.3h6.4v6.4h-6.4zM1124.4 1220.3h17.9v6.4h-17.9zM1407.8 1220.3h6.4v6.4h-6.4zM1471.4 1220.3h6.4v6.4h-6.4zM933.6 1226.1h6.4v6.4h-6.4zM1020.4 1226.1h6.4v6.4h-6.4zM1130.2 1226.1h6.4v6.4h-6.4zM1211.2 1226.1h6.4v6.4h-6.4zM1136 1231.9h6.4v6.4h-6.4zM1483 1231.9h6.4v6.4h-6.4zM939.4 1237.6h6.4v6.4h-6.4zM1141.8 1237.6h6.4v6.4h-6.4zM1217 1237.6h6.4v6.4h-6.4zM1483 1237.6h6.4v6.4h-6.4zM1031.9 1243.4h6.4v6.4h-6.4zM1147.6 1243.4h6.4v6.4h-6.4zM1407.8 1243.4h6.4v6.4h-6.4zM1477.2 1243.4h12.2v6.4h-12.2zM1517.6 1243.4h12.2v6.4h-12.2zM945.2 1249.2h6.4v6.4h-6.4zM1147.6 1249.2h12.2v6.4h-12.2zM1471.4 1249.2h17.9v6.4h-17.9zM1511.9 1249.2h17.9v6.4h-17.9zM1037.7 1255h6.4v6.4h-6.4zM1153.3 1255h12.2v6.4h-12.2zM1222.7 1255h6.4v6.4h-6.4zM1465.6 1255h12.2v6.4h-12.2zM1500.3 1255h17.9v6.4h-17.9zM951 1260.8h6.4v6.4h-6.4zM1037.7 1260.8h6.4v6.4h-6.4zM1159.1 1260.8h12.2v6.4h-12.2zM1465.6 1260.8h17.9v6.4h-17.9zM1488.7 1260.8h41.1v6.4h-41.1zM956.7 1266.5h12.2v6.4h-12.2zM1031.9 1266.5h6.4v6.4h-6.4zM1164.9 1266.5h6.4v6.4h-6.4zM1413.6 1266.5h6.4v6.4h-6.4zM1465.6 1266.5h12.2v6.4h-12.2zM1506.1 1266.5h6.4v6.4h-6.4zM962.5 1272.3h12.2v6.4h-12.2zM1020.4 1272.3h12.2v6.4h-12.2zM1170.7 1272.3h6.4v6.4h-6.4zM1465.6 1272.3h6.4v6.4h-6.4zM968.3 1278.1h12.2v6.4h-12.2zM1008.8 1278.1h17.9v6.4h-17.9zM1228.5 1278.1h6.4v6.4h-6.4zM1471.4 1278.1h6.4v6.4h-6.4zM974.1 1283.9h41.1v6.4h-41.1zM1176.5 1283.9h6.4v6.4h-6.4zM1483 1283.9h17.9v6.4h-17.9zM1176.5 1289.7h6.4v6.4h-6.4zM1234.3 1289.7h6.4v6.4h-6.4zM1182.3 1301.2h6.4v6.4h-6.4zM1240.1 1301.2h6.4v6.4h-6.4zM1182.3 1307h6.4v6.4h-6.4zM1240.1 1307h6.4v6.4h-6.4zM1182.3 1312.8h6.4v6.4h-6.4zM1182.3 1318.6h6.4v6.4h-6.4zM1245.9 1318.6h6.4v6.4h-6.4z"/>
<path fill="#1bd0d5" d="M1066.6 1116.2h168.3v6.4h-168.3zM1060.8 1122h12.2v6.4h-12.2zM1164.9 1122h70v6.4h-70zM1055 1127.8h6.4v6.4h-6.4zM1170.7 1127.8h58.4v6.4h-58.4zM922 1133.5h6.4v6.4h-6.4zM1176.5 1133.5h46.9v6.4h-46.9zM1049.3 1139.3h6.4v6.4h-6.4zM1182.3 1139.3h35.3v6.4h-35.3zM927.8 1145.1h6.4v6.4h-6.4zM1049.3 1145.1h6.4v6.4h-6.4zM1188 1145.1h17.9v6.4h-17.9zM1049.3 1150.9h6.4v6.4h-6.4zM1188 1150.9h12.2v6.4h-12.2zM945.2 1156.7h6.4v6.4h-6.4zM1049.3 1156.7h6.4v6.4h-6.4zM1188 1156.7h6.4v6.4h-6.4zM962.5 1162.5h6.4v6.4h-6.4zM1188 1162.5h6.4v6.4h-6.4zM968.3 1168.2h6.4v6.4h-6.4zM1188 1168.2h6.4v6.4h-6.4zM1066.6 1174h6.4v6.4h-6.4zM1188 1174h6.4v6.4h-6.4zM910.5 1179.8h6.4v6.4h-6.4zM1072.4 1179.8h6.4v6.4h-6.4zM1188 1179.8h6.4v6.4h-6.4zM916.3 1185.6h6.4v6.4h-6.4zM1084 1185.6h6.4v6.4h-6.4zM1188 1185.6h6.4v6.4h-6.4zM1095.5 1191.4h12.2v6.4h-12.2zM1193.8 1191.4h6.4v6.4h-6.4zM991.4 1197.2h6.4v6.4h-6.4zM1107.1 1197.2h17.9v6.4h-17.9zM1193.8 1197.2h6.4v6.4h-6.4zM927.8 1202.9h6.4v6.4h-6.4zM1112.9 1202.9h35.3v6.4h-35.3zM1199.6 1202.9h6.4v6.4h-6.4zM1118.7 1208.7h6.4v6.4h-6.4zM1147.6 1208.7h6.4v6.4h-6.4zM933.6 1214.5h6.4v6.4h-6.4zM1008.8 1214.5h6.4v6.4h-6.4zM1147.6 1214.5h12.2v6.4h-12.2zM933.6 1220.3h6.4v6.4h-6.4zM1141.8 1220.3h12.2v6.4h-12.2zM1205.4 1220.3h6.4v6.4h-6.4zM1136 1226.1h17.9v6.4h-17.9zM1477.2 1226.1h6.4v6.4h-6.4zM939.4 1231.9h6.4v6.4h-6.4zM1020.4 1231.9h6.4v6.4h-6.4zM1141.8 1231.9h12.2v6.4h-12.2zM1211.2 1231.9h6.4v6.4h-6.4zM1026.1 1237.6h6.4v6.4h-6.4zM1147.6 1237.6h12.2v6.4h-12.2zM1407.8 1237.6h6.4v6.4h-6.4zM1477.2 1237.6h6.4v6.4h-6.4zM945.2 1243.4h6.4v6.4h-6.4zM1153.3 1243.4h6.4v6.4h-6.4zM1217 1243.4h6.4v6.4h-6.4zM1413.6 1243.4h6.4v6.4h-6.4zM1471.4 1243.4h6.4v6.4h-6.4zM1031.9 1249.2h6.4v6.4h-6.4zM1217 1249.2h6.4v6.4h-6.4zM1413.6 1249.2h6.4v6.4h-6.4zM1448.3 1249.2h23.7v6.4h-23.7zM951 1255h6.4v6.4h-6.4zM1031.9 1255h6.4v6.4h-6.4zM1413.6 1255h6.4v6.4h-6.4zM1448.3 1255h17.9v6.4h-17.9zM1517.6 1255h12.2v6.4h-12.2zM956.7 1260.8h6.4v6.4h-6.4zM1031.9 1260.8h6.4v6.4h-6.4zM1222.7 1260.8h6.4v6.4h-6.4zM1413.6 1260.8h6.4v6.4h-6.4zM1454 1260.8h12.2v6.4h-12.2zM1020.4 1266.5h12.2v6.4h-12.2zM1170.7 1266.5h6.4v6.4h-6.4zM1222.7 1266.5h6.4v6.4h-6.4zM1459.8 1266.5h6.4v6.4h-6.4zM1477.2 1266.5h12.2v6.4h-12.2zM1500.3 1266.5h6.4v6.4h-6.4zM1014.6 1272.3h6.4v6.4h-6.4zM1222.7 1272.3h6.4v6.4h-6.4zM1459.8 1272.3h6.4v6.4h-6.4zM1471.4 1272.3h6.4v6.4h-6.4zM979.9 1278.1h29.5v6.4h-29.5zM1176.5 1278.1h6.4v6.4h-6.4zM1419.3 1278.1h6.4v6.4h-6.4zM1459.8 1278.1h6.4v6.4h-6.4zM1228.5 1283.9h6.4v6.4h-6.4zM1425.1 1283.9h6.4v6.4h-6.4zM1454 1283.9h6.4v6.4h-6.4zM1182.3 1289.7h6.4v6.4h-6.4zM1182.3 1295.5h6.4v6.4h-6.4zM1234.3 1295.5h6.4v6.4h-6.4zM1240.1 1312.8h6.4v6.4h-6.4zM1240.1 1318.6h6.4v6.4h-6.4z"/>
<path fill="#7dff56" d="M1297.9 1116.2h6.4v6.4h-6.4zM1297.9 1122h6.4v6.4h-6.4zM1292.1 1127.8h6.4v6.4h-6.4zM1286.3 1133.5h6.4v6.4h-6.4zM1280.6 1139.3h6.4v6.4h-6.4zM1274.8 1145.1h6.4v6.4h-6.4zM1263.2 1150.9h6.4v6.4h-6.4zM991.4 1156.7h17.9v6.4h-17.9zM1251.7 1156.7h12.2v6.4h-12.2zM991.4 1162.5h6.4v6.4h-6.4zM1008.8 1162.5h6.4v6.4h-6.4zM1240.1 1162.5h12.2v6.4h-12.2zM991.4 1168.2h6.4v6.4h-6.4zM1234.3 1168.2h6.4v6.4h-6.4zM991.4 1174h6.4v6.4h-6.4zM1014.6 1174h6.4v6.4h-6.4zM1020.4 1179.8h6.4v6.4h-6.4zM1228.5 1179.8h6.4v6.4h-6.4zM997.2 1185.6h6.4v6.4h-6.4zM1228.5 1185.6h6.4v6.4h-6.4zM1003 1191.4h6.4v6.4h-6.4zM1026.1 1191.4h6.4v6.4h-6.4zM1228.5 1191.4h6.4v6.4h-6.4zM1026.1 1197.2h12.2v6.4h-12.2zM1228.5 1197.2h6.4v6.4h-6.4zM1020.4 1202.9h6.4v6.4h-6.4zM1037.7 1202.9h6.4v6.4h-6.4zM1228.5 1202.9h6.4v6.4h-6.4zM1419.3 1202.9h41.1v6.4h-41.1zM1043.5 1208.7h6.4v6.4h-6.4zM1228.5 1208.7h6.4v6.4h-6.4zM1471.4 1208.7h6.4v6.4h-6.4zM1517.6 1208.7h12.2v6.4h-12.2zM1043.5 1214.5h12.2v6.4h-12.2zM1488.7 1214.5h23.7v6.4h-23.7zM904.7 1220.3h6.4v6.4h-6.4zM1037.7 1220.3h6.4v6.4h-6.4zM1055 1220.3h6.4v6.4h-6.4zM1390.4 1220.3h6.4v6.4h-6.4zM904.7 1226.1h12.2v6.4h-12.2zM1060.8 1226.1h6.4v6.4h-6.4zM1043.5 1231.9h6.4v6.4h-6.4zM1060.8 1231.9h6.4v6.4h-6.4zM1234.3 1231.9h6.4v6.4h-6.4zM916.3 1237.6h6.4v6.4h-6.4zM1055 1237.6h12.2v6.4h-12.2zM922 1243.4h6.4v6.4h-6.4zM1066.6 1243.4h6.4v6.4h-6.4zM1240.1 1243.4h6.4v6.4h-6.4zM1390.4 1255h6.4v6.4h-6.4zM927.8 1260.8h6.4v6.4h-6.4zM1078.2 1260.8h17.9v6.4h-17.9zM1245.9 1260.8h6.4v6.4h-6.4zM1078.2 1266.5h41.1v6.4h-41.1zM1396.2 1266.5h6.4v6.4h-6.4zM933.6 1272.3h6.4v6.4h-6.4zM1078.2 1272.3h12.2v6.4h-12.2zM1124.4 1272.3h6.4v6.4h-6.4zM1078.2 1278.1h12.2v6.4h-12.2zM1130.2 1278.1h6.4v6.4h-6.4zM1251.7 1278.1h6.4v6.4h-6.4zM1511.9 1278.1h6.4v6.4h-6.4zM1078.2 1283.9h6.4v6.4h-6.4zM1130.2 1283.9h6.4v6.4h-6.4zM1309.5 1283.9h12.2v6.4h-12.2zM1078.2 1289.7h6.4v6.4h-6.4zM1136 1289.7h6.4v6.4h-6.4zM1263.2 1289.7h6.4v6.4h-6.4zM1303.7 1289.7h6.4v6.4h-6.4zM1326.8 1289.7h6.4v6.4h-6.4zM1419.3 1289.7h6.4v6.4h-6.4zM1506.1 1289.7h6.4v6.4h-6.4zM939.4 1295.5h6.4v6.4h-6.4zM1078.2 1295.5h6.4v6.4h-6.4zM1141.8 1295.5h6.4v6.4h-6.4zM1269 1295.5h12.2v6.4h-12.2zM1292.1 1295.5h12.2v6.4h-12.2zM1332.6 1295.5h6.4v6.4h-6.4zM1430.9 1295.5h6.4v6.4h-6.4zM1465.6 1295.5h6.4v6.4h-6.4zM939.4 1301.2h6.4v6.4h-6.4zM1066.6 1301.2h12.2v6.4h-12.2zM1141.8 1301.2h6.4v6.4h-6.4zM1280.6 1301.2h12.2v6.4h-12.2zM939.4 1307h6.4v6.4h-6.4zM1049.3 1307h12.2v6.4h-12.2zM1355.7 1307h6.4v6.4h-6.4zM939.4 1312.8h6.4v6.4h-6.4zM1049.3 1312.8h6.4v6.4h-6.4zM1147.6 1312.8h6.4v6.4h-6.4zM1367.3 1312.8h6.4v6.4h-6.4zM939.4 1318.6h6.4v6.4h-6.4zM1043.5 1318.6h6.4v6.4h-6.4zM1147.6 1318.6h6.4v6.4h-6.4zM1367.3 1318.6h6.4v6.4h-6.4z"/>
<path fill="#9cfe40" d="M1303.7 1116.2h6.4v6.4h-6.4zM1303.7 1122h6.4v6.4h-6.4zM1292.1 1133.5h6.4v6.4h-6.4zM1286.3 1139.3h6.4v6.4h-6.4zM1274.8 1150.9h6.4v6.4h-6.4zM1269 1156.7h6.4v6.4h-6.4zM1257.4 1162.5h6.4v6.4h-6.4zM997.2 1168.2h6.4v6.4h-6.4zM1245.9 1168.2h12.2v6.4h-12.2zM997.2 1174h12.2v6.4h-12.2zM1003 1179.8h12.2v6.4h-12.2zM1234.3 1179.8h6.4v6.4h-6.4zM1003 1185.6h17.9v6.4h-17.9zM1234.3 1185.6h6.4v6.4h-6.4zM1008.8 1191.4h12.2v6.4h-12.2zM1234.3 1191.4h6.4v6.4h-6.4zM1234.3 1197.2h6.4v6.4h-6.4zM1425.1 1197.2h41.1v6.4h-41.1zM1523.4 1197.2h6.4v6.4h-6.4zM1234.3 1202.9h6.4v6.4h-6.4zM1407.8 1202.9h6.4v6.4h-6.4zM1471.4 1202.9h6.4v6.4h-6.4zM1511.9 1202.9h12.2v6.4h-12.2zM1031.9 1208.7h6.4v6.4h-6.4zM1234.3 1208.7h6.4v6.4h-6.4zM1483 1208.7h6.4v6.4h-6.4zM1506.1 1208.7h6.4v6.4h-6.4zM1049.3 1226.1h6.4v6.4h-6.4zM1240.1 1231.9h6.4v6.4h-6.4zM904.7 1237.6h12.2v6.4h-12.2zM1245.9 1243.4h6.4v6.4h-6.4zM916.3 1249.2h6.4v6.4h-6.4zM1384.6 1249.2h6.4v6.4h-6.4zM1251.7 1255h6.4v6.4h-6.4zM922 1260.8h6.4v6.4h-6.4zM1251.7 1260.8h6.4v6.4h-6.4zM927.8 1272.3h6.4v6.4h-6.4zM1101.3 1272.3h17.9v6.4h-17.9zM1303.7 1272.3h12.2v6.4h-12.2zM1523.4 1272.3h6.4v6.4h-6.4zM1095.5 1278.1h6.4v6.4h-6.4zM1257.4 1278.1h6.4v6.4h-6.4zM1297.9 1278.1h6.4v6.4h-6.4zM1315.3 1278.1h12.2v6.4h-12.2zM1402 1278.1h6.4v6.4h-6.4zM1095.5 1283.9h6.4v6.4h-6.4zM1124.4 1283.9h6.4v6.4h-6.4zM1263.2 1283.9h41.1v6.4h-41.1zM1326.8 1283.9h6.4v6.4h-6.4zM1089.7 1289.7h12.2v6.4h-12.2zM1124.4 1289.7h6.4v6.4h-6.4zM1511.9 1289.7h6.4v6.4h-6.4zM933.6 1295.5h6.4v6.4h-6.4zM1089.7 1295.5h12.2v6.4h-12.2zM1124.4 1295.5h12.2v6.4h-12.2zM1425.1 1295.5h6.4v6.4h-6.4zM1483 1295.5h23.7v6.4h-23.7zM933.6 1301.2h6.4v6.4h-6.4zM1089.7 1301.2h17.9v6.4h-17.9zM1130.2 1301.2h6.4v6.4h-6.4zM1350 1301.2h6.4v6.4h-6.4zM1436.7 1301.2h6.4v6.4h-6.4zM1465.6 1301.2h12.2v6.4h-12.2zM933.6 1307h6.4v6.4h-6.4zM1066.6 1307h46.9v6.4h-46.9zM1136 1307h6.4v6.4h-6.4zM1511.9 1307h17.9v6.4h-17.9zM933.6 1312.8h6.4v6.4h-6.4zM1060.8 1312.8h6.4v6.4h-6.4zM1089.7 1312.8h12.2v6.4h-12.2zM1107.1 1312.8h6.4v6.4h-6.4zM1373.1 1312.8h6.4v6.4h-6.4zM1511.9 1312.8h6.4v6.4h-6.4zM933.6 1318.6h6.4v6.4h-6.4zM1060.8 1318.6h6.4v6.4h-6.4zM1089.7 1318.6h12.2v6.4h-12.2zM1107.1 1318.6h12.2v6.4h-12.2zM1141.8 1318.6h6.4v6.4h-6.4zM1373.1 1318.6h6.4v6.4h-6.4zM1506.1 1318.6h12.2v6.4h-12.2z"/>
<path fill="#a9fb39" d="M1309.5 1116.2h12.2v6.4h-12.2zM1309.5 1122h6.4v6.4h-6.4zM1303.7 1127.8h6.4v6.4h-6.4zM1297.9 1133.5h6.4v6.4h-6.4zM1292.1 1139.3h6.4v6.4h-6.4zM1286.3 1145.1h6.4v6.4h-6.4zM1280.6 1150.9h6.4v6.4h-6.4zM1274.8 1156.7h6.4v6.4h-6.4zM1263.2 1162.5h6.4v6.4h-6.4zM1257.4 1168.2h6.4v6.4h-6.4zM1240.1 1174h17.9v6.4h-17.9zM1240.1 1179.8h6.4v6.4h-6.4zM1240.1 1185.6h6.4v6.4h-6.4zM1240.1 1191.4h6.4v6.4h-6.4zM1517.6 1191.4h12.2v6.4h-12.2zM1240.1 1197.2h6.4v6.4h-6.4zM1413.6 1197.2h12.2v6.4h-12.2zM1465.6 1197.2h23.7v6.4h-23.7zM1500.3 1197.2h23.7v6.4h-23.7zM1240.1 1202.9h6.4v6.4h-6.4zM1402 1202.9h6.4v6.4h-6.4zM1477.2 1202.9h35.3v6.4h-35.3zM1240.1 1208.7h6.4v6.4h-6.4zM1396.2 1208.7h6.4v6.4h-6.4zM1488.7 1208.7h17.9v6.4h-17.9zM1240.1 1214.5h6.4v6.4h-6.4zM1390.4 1214.5h6.4v6.4h-6.4zM1240.1 1220.3h6.4v6.4h-6.4zM1384.6 1220.3h6.4v6.4h-6.4zM1240.1 1226.1h6.4v6.4h-6.4zM1378.9 1231.9h6.4v6.4h-6.4zM1245.9 1237.6h6.4v6.4h-6.4zM1378.9 1237.6h6.4v6.4h-6.4zM904.7 1243.4h12.2v6.4h-12.2zM1378.9 1243.4h6.4v6.4h-6.4zM1251.7 1249.2h6.4v6.4h-6.4zM916.3 1255h6.4v6.4h-6.4zM1384.6 1255h6.4v6.4h-6.4zM1257.4 1260.8h6.4v6.4h-6.4zM922 1266.5h6.4v6.4h-6.4zM1257.4 1266.5h6.4v6.4h-6.4zM1297.9 1266.5h17.9v6.4h-17.9zM1390.4 1266.5h6.4v6.4h-6.4zM1257.4 1272.3h6.4v6.4h-6.4zM1292.1 1272.3h12.2v6.4h-12.2zM1315.3 1272.3h6.4v6.4h-6.4zM1396.2 1272.3h6.4v6.4h-6.4zM927.8 1278.1h6.4v6.4h-6.4zM1101.3 1278.1h23.7v6.4h-23.7zM1263.2 1278.1h35.3v6.4h-35.3zM1326.8 1278.1h6.4v6.4h-6.4zM927.8 1283.9h6.4v6.4h-6.4zM1101.3 1283.9h23.7v6.4h-23.7zM1332.6 1283.9h6.4v6.4h-6.4zM927.8 1289.7h6.4v6.4h-6.4zM1101.3 1289.7h23.7v6.4h-23.7zM1338.4 1289.7h6.4v6.4h-6.4zM1413.6 1289.7h6.4v6.4h-6.4zM927.8 1295.5h6.4v6.4h-6.4zM1101.3 1295.5h23.7v6.4h-23.7zM1344.2 1295.5h6.4v6.4h-6.4zM1506.1 1295.5h17.9v6.4h-17.9zM927.8 1301.2h6.4v6.4h-6.4zM1107.1 1301.2h23.7v6.4h-23.7zM1355.7 1301.2h6.4v6.4h-6.4zM1430.9 1301.2h6.4v6.4h-6.4zM1477.2 1301.2h52.6v6.4h-52.6zM927.8 1307h6.4v6.4h-6.4zM1112.9 1307h23.7v6.4h-23.7zM1367.3 1307h6.4v6.4h-6.4zM1448.3 1307h64.2v6.4h-64.2zM927.8 1312.8h6.4v6.4h-6.4zM1066.6 1312.8h23.7v6.4h-23.7zM1112.9 1312.8h29.5v6.4h-29.5zM1465.6 1312.8h46.9v6.4h-46.9zM927.8 1318.6h6.4v6.4h-6.4zM1066.6 1318.6h23.7v6.4h-23.7zM1118.7 1318.6h23.7v6.4h-23.7zM1378.9 1318.6h6.4v6.4h-6.4zM1471.4 1318.6h35.3v6.4h-35.3z"/>
<path fill="#b7f735" d="M1321 1116.2h35.3v6.4h-35.3zM1442.5 1116.2h87.3v6.4h-87.3zM1315.3 1122h35.3v6.4h-35.3zM1448.3 1122h81.6v6.4h-81.6zM1309.5 1127.8h12.2v6.4h-12.2zM1477.2 1127.8h52.6v6.4h-52.6zM1303.7 1133.5h6.4v6.4h-6.4zM1488.7 1133.5h41.1v6.4h-41.1zM1297.9 1139.3h6.4v6.4h-6.4zM1500.3 1139.3h29.5v6.4h-29.5zM1269 1162.5h6.4v6.4h-6.4zM1263.2 1168.2h6.4v6.4h-6.4zM1257.4 1174h6.4v6.4h-6.4zM1245.9 1179.8h12.2v6.4h-12.2zM1245.9 1185.6h6.4v6.4h-6.4zM1511.9 1185.6h17.9v6.4h-17.9zM1425.1 1191.4h93.1v6.4h-93.1zM1407.8 1197.2h6.4v6.4h-6.4zM1488.7 1197.2h12.2v6.4h-12.2zM1384.6 1214.5h6.4v6.4h-6.4zM1378.9 1226.1h6.4v6.4h-6.4zM1245.9 1231.9h6.4v6.4h-6.4zM1251.7 1243.4h6.4v6.4h-6.4zM904.7 1249.2h12.2v6.4h-12.2zM1378.9 1249.2h6.4v6.4h-6.4zM910.5 1255h6.4v6.4h-6.4zM1257.4 1255h6.4v6.4h-6.4zM916.3 1260.8h6.4v6.4h-6.4zM1263.2 1260.8h6.4v6.4h-6.4zM1286.3 1260.8h29.5v6.4h-29.5zM1384.6 1260.8h6.4v6.4h-6.4zM1263.2 1266.5h12.2v6.4h-12.2zM1280.6 1266.5h17.9v6.4h-17.9zM1315.3 1266.5h6.4v6.4h-6.4zM922 1272.3h6.4v6.4h-6.4zM1263.2 1272.3h29.5v6.4h-29.5zM1321 1272.3h6.4v6.4h-6.4zM1517.6 1278.1h6.4v6.4h-6.4zM1402 1283.9h6.4v6.4h-6.4zM1517.6 1289.7h6.4v6.4h-6.4zM1350 1295.5h6.4v6.4h-6.4zM1419.3 1295.5h6.4v6.4h-6.4zM1523.4 1295.5h6.4v6.4h-6.4zM1361.5 1301.2h6.4v6.4h-6.4zM1425.1 1301.2h6.4v6.4h-6.4zM922 1307h6.4v6.4h-6.4zM1373.1 1307h6.4v6.4h-6.4zM1436.7 1307h12.2v6.4h-12.2zM922 1312.8h6.4v6.4h-6.4zM1378.9 1312.8h6.4v6.4h-6.4zM1454 1312.8h12.2v6.4h-12.2zM922 1318.6h6.4v6.4h-6.4zM1459.8 1318.6h12.2v6.4h-12.2z"/>
<path fill="#c1f334" d="M1355.7 1116.2h6.4v6.4h-6.4zM1436.7 1116.2h6.4v6.4h-6.4zM1350 1122h12.2v6.4h-12.2zM1436.7 1122h12.2v6.4h-12.2zM1321 1127.8h17.9v6.4h-17.9zM1448.3 1127.8h29.5v6.4h-29.5zM1309.5 1133.5h12.2v6.4h-12.2zM1477.2 1133.5h12.2v6.4h-12.2zM1303.7 1139.3h6.4v6.4h-6.4zM1488.7 1139.3h12.2v6.4h-12.2zM1292.1 1145.1h12.2v6.4h-12.2zM1506.1 1145.1h23.7v6.4h-23.7zM1286.3 1150.9h6.4v6.4h-6.4zM1280.6 1156.7h6.4v6.4h-6.4zM1274.8 1162.5h6.4v6.4h-6.4zM1269 1168.2h6.4v6.4h-6.4zM1263.2 1174h6.4v6.4h-6.4zM1257.4 1179.8h6.4v6.4h-6.4zM1511.9 1179.8h17.9v6.4h-17.9zM1251.7 1185.6h6.4v6.4h-6.4zM1454 1185.6h58.4v6.4h-58.4zM1245.9 1191.4h6.4v6.4h-6.4zM1413.6 1191.4h12.2v6.4h-12.2zM1245.9 1197.2h6.4v6.4h-6.4zM1402 1197.2h6.4v6.4h-6.4zM1245.9 1202.9h6.4v6.4h-6.4zM1396.2 1202.9h6.4v6.4h-6.4zM1245.9 1208.7h6.4v6.4h-6.4zM1390.4 1208.7h6.4v6.4h-6.4zM1245.9 1214.5h6.4v6.4h-6.4zM1245.9 1220.3h6.4v6.4h-6.4zM1378.9 1220.3h6.4v6.4h-6.4zM1245.9 1226.1h6.4v6.4h-6.4zM1373.1 1226.1h6.4v6.4h-6.4zM1251.7 1231.9h6.4v6.4h-6.4zM1373.1 1231.9h6.4v6.4h-6.4zM1251.7 1237.6h6.4v6.4h-6.4zM1373.1 1237.6h6.4v6.4h-6.4zM1257.4 1243.4h6.4v6.4h-6.4zM1373.1 1243.4h6.4v6.4h-6.4zM1257.4 1249.2h12.2v6.4h-12.2zM904.7 1255h6.4v6.4h-6.4zM1263.2 1255h12.2v6.4h-12.2zM1286.3 1255h29.5v6.4h-29.5zM904.7 1260.8h12.2v6.4h-12.2zM1269 1260.8h17.9v6.4h-17.9zM1315.3 1260.8h6.4v6.4h-6.4zM916.3 1266.5h6.4v6.4h-6.4zM1274.8 1266.5h6.4v6.4h-6.4zM1321 1266.5h6.4v6.4h-6.4zM916.3 1272.3h6.4v6.4h-6.4zM1326.8 1272.3h6.4v6.4h-6.4zM1390.4 1272.3h6.4v6.4h-6.4zM922 1278.1h6.4v6.4h-6.4zM1332.6 1278.1h6.4v6.4h-6.4zM1396.2 1278.1h6.4v6.4h-6.4zM922 1283.9h6.4v6.4h-6.4zM1338.4 1283.9h6.4v6.4h-6.4zM1517.6 1283.9h6.4v6.4h-6.4zM922 1289.7h6.4v6.4h-6.4zM1344.2 1289.7h6.4v6.4h-6.4zM1407.8 1289.7h6.4v6.4h-6.4zM1523.4 1289.7h6.4v6.4h-6.4zM922 1295.5h6.4v6.4h-6.4zM922 1301.2h6.4v6.4h-6.4zM1367.3 1301.2h6.4v6.4h-6.4zM916.3 1307h6.4v6.4h-6.4zM1378.9 1307h6.4v6.4h-6.4zM1430.9 1307h6.4v6.4h-6.4zM910.5 1312.8h12.2v6.4h-12.2zM1384.6 1312.8h6.4v6.4h-6.4zM1448.3 1312.8h6.4v6.4h-6.4zM904.7 1318.6h17.9v6.4h-17.9zM1384.6 1318.6h6.4v6.4h-6.4zM1448.3 1318.6h12.2v6.4h-12.2z"/>
<path fill="#cdec34" d="M1361.5 1116.2h12.2v6.4h-12.2zM1425.1 1116.2h12.2v6.4h-12.2zM1361.5 1122h6.4v6.4h-6.4zM1430.9 1122h6.4v6.4h-6.4zM1338.4 1127.8h12.2v6.4h-12.2zM1442.5 1127.8h6.4v6.4h-6.4zM1321 1133.5h12.2v6.4h-12.2zM1448.3 1133.5h29.5v6.4h-29.5zM1309.5 1139.3h12.2v6.4h-12.2zM1477.2 1139.3h12.2v6.4h-12.2zM1303.7 1145.1h6.4v6.4h-6.4zM1488.7 1145.1h17.9v6.4h-17.9zM1292.1 1150.9h6.4v6.4h-6.4zM1517.6 1150.9h12.2v6.4h-12.2zM1286.3 1156.7h6.4v6.4h-6.4zM1280.6 1162.5h6.4v6.4h-6.4zM1274.8 1168.2h6.4v6.4h-6.4zM1517.6 1168.2h12.2v6.4h-12.2zM1269 1174h6.4v6.4h-6.4zM1511.9 1174h17.9v6.4h-17.9zM1263.2 1179.8h6.4v6.4h-6.4zM1465.6 1179.8h46.9v6.4h-46.9zM1257.4 1185.6h6.4v6.4h-6.4zM1430.9 1185.6h23.7v6.4h-23.7zM1251.7 1191.4h6.4v6.4h-6.4zM1407.8 1191.4h6.4v6.4h-6.4zM1251.7 1197.2h6.4v6.4h-6.4zM1396.2 1197.2h6.4v6.4h-6.4zM1251.7 1202.9h6.4v6.4h-6.4zM1390.4 1202.9h6.4v6.4h-6.4zM1251.7 1208.7h6.4v6.4h-6.4zM1384.6 1208.7h6.4v6.4h-6.4zM1251.7 1214.5h6.4v6.4h-6.4zM1378.9 1214.5h6.4v6.4h-6.4zM1251.7 1220.3h6.4v6.4h-6.4zM1373.1 1220.3h6.4v6.4h-6.4zM1251.7 1226.1h6.4v6.4h-6.4zM1367.3 1226.1h6.4v6.4h-6.4zM1367.3 1231.9h6.4v6.4h-6.4zM1257.4 1237.6h6.4v6.4h-6.4zM1367.3 1237.6h6.4v6.4h-6.4zM1263.2 1243.4h6.4v6.4h-6.4zM1367.3 1243.4h6.4v6.4h-6.4zM1269 1249.2h6.4v6.4h-6.4zM1286.3 1249.2h29.5v6.4h-29.5zM1373.1 1249.2h6.4v6.4h-6.4zM1274.8 1255h12.2v6.4h-12.2zM1315.3 1255h6.4v6.4h-6.4zM1378.9 1255h6.4v6.4h-6.4zM1321 1260.8h6.4v6.4h-6.4zM904.7 1266.5h12.2v6.4h-12.2zM1326.8 1266.5h6.4v6.4h-6.4zM1384.6 1266.5h6.4v6.4h-6.4zM910.5 1272.3h6.4v6.4h-6.4zM1332.6 1272.3h6.4v6.4h-6.4zM916.3 1278.1h6.4v6.4h-6.4zM1338.4 1278.1h6.4v6.4h-6.4zM1523.4 1278.1h6.4v6.4h-6.4zM916.3 1283.9h6.4v6.4h-6.4zM1344.2 1283.9h6.4v6.4h-6.4zM1523.4 1283.9h6.4v6.4h-6.4zM916.3 1289.7h6.4v6.4h-6.4zM1350 1289.7h6.4v6.4h-6.4zM916.3 1295.5h6.4v6.4h-6.4zM1355.7 1295.5h6.4v6.4h-6.4zM1413.6 1295.5h6.4v6.4h-6.4zM916.3 1301.2h6.4v6.4h-6.4zM1373.1 1301.2h6.4v6.4h-6.4zM1419.3 1301.2h6.4v6.4h-6.4zM904.7 1307h12.2v6.4h-12.2zM1425.1 1307h6.4v6.4h-6.4zM904.7 1312.8h6.4v6.4h-6.4zM1436.7 1312.8h12.2v6.4h-12.2zM1390.4 1318.6h6.4v6.4h-6.4zM1442.5 1318.6h6.4v6.4h-6.4z"/>
<path fill="#d9e436" d="M1373.1 1116.2h12.2v6.4h-12.2zM1413.6 1116.2h12.2v6.4h-12.2zM1367.3 1122h12.2v6.4h-12.2zM1419.3 1122h12.2v6.4h-12.2zM1350 1127.8h12.2v6.4h-12.2zM1430.9 1127.8h12.2v6.4h-12.2zM1332.6 1133.5h6.4v6.4h-6.4zM1442.5 1133.5h6.4v6.4h-6.4zM1321 1139.3h6.4v6.4h-6.4zM1459.8 1139.3h17.9v6.4h-17.9zM1309.5 1145.1h6.4v6.4h-6.4zM1483 1145.1h6.4v6.4h-6.4zM1297.9 1150.9h12.2v6.4h-12.2zM1500.3 1150.9h17.9v6.4h-17.9zM1292.1 1156.7h6.4v6.4h-6.4zM1517.6 1156.7h12.2v6.4h-12.2zM1286.3 1162.5h12.2v6.4h-12.2zM1511.9 1162.5h17.9v6.4h-17.9zM1280.6 1168.2h12.2v6.4h-12.2zM1506.1 1168.2h12.2v6.4h-12.2zM1274.8 1174h12.2v6.4h-12.2zM1471.4 1174h41.1v6.4h-41.1zM1269 1179.8h6.4v6.4h-6.4zM1448.3 1179.8h17.9v6.4h-17.9zM1263.2 1185.6h6.4v6.4h-6.4zM1419.3 1185.6h12.2v6.4h-12.2zM1257.4 1191.4h6.4v6.4h-6.4zM1402 1191.4h6.4v6.4h-6.4zM1257.4 1197.2h6.4v6.4h-6.4zM1390.4 1197.2h6.4v6.4h-6.4zM1257.4 1202.9h6.4v6.4h-6.4zM1384.6 1202.9h6.4v6.4h-6.4zM1257.4 1208.7h6.4v6.4h-6.4zM1378.9 1208.7h6.4v6.4h-6.4zM1257.4 1214.5h6.4v6.4h-6.4zM1373.1 1214.5h6.4v6.4h-6.4zM1257.4 1220.3h6.4v6.4h-6.4zM1367.3 1220.3h6.4v6.4h-6.4zM1257.4 1226.1h6.4v6.4h-6.4zM1257.4 1231.9h12.2v6.4h-12.2zM1361.5 1231.9h6.4v6.4h-6.4zM1263.2 1237.6h12.2v6.4h-12.2zM1361.5 1237.6h6.4v6.4h-6.4zM1269 1243.4h41.1v6.4h-41.1zM1274.8 1249.2h12.2v6.4h-12.2zM1315.3 1249.2h6.4v6.4h-6.4zM1367.3 1249.2h6.4v6.4h-6.4zM1321 1255h6.4v6.4h-6.4zM1373.1 1255h6.4v6.4h-6.4zM1326.8 1260.8h6.4v6.4h-6.4zM1378.9 1260.8h6.4v6.4h-6.4zM1332.6 1266.5h6.4v6.4h-6.4zM904.7 1272.3h6.4v6.4h-6.4zM1338.4 1272.3h6.4v6.4h-6.4zM1384.6 1272.3h6.4v6.4h-6.4zM904.7 1278.1h12.2v6.4h-12.2zM1344.2 1278.1h6.4v6.4h-6.4zM1390.4 1278.1h6.4v6.4h-6.4zM904.7 1283.9h12.2v6.4h-12.2zM1350 1283.9h6.4v6.4h-6.4zM1396.2 1283.9h6.4v6.4h-6.4zM904.7 1289.7h12.2v6.4h-12.2zM1355.7 1289.7h6.4v6.4h-6.4zM1402 1289.7h6.4v6.4h-6.4zM904.7 1295.5h12.2v6.4h-12.2zM1361.5 1295.5h6.4v6.4h-6.4zM904.7 1301.2h12.2v6.4h-12.2zM1378.9 1301.2h6.4v6.4h-6.4zM1413.6 1301.2h6.4v6.4h-6.4zM1384.6 1307h6.4v6.4h-6.4zM1413.6 1307h12.2v6.4h-12.2zM1390.4 1312.8h12.2v6.4h-12.2zM1413.6 1312.8h23.7v6.4h-23.7zM1396.2 1318.6h12.2v6.4h-12.2zM1413.6 1318.6h29.5v6.4h-29.5z"/>
<path fill="#e3db38" d="M1384.6 1116.2h29.5v6.4h-29.5zM1378.9 1122h41.1v6.4h-41.1zM1361.5 1127.8h12.2v6.4h-12.2zM1419.3 1127.8h12.2v6.4h-12.2zM1338.4 1133.5h6.4v6.4h-6.4zM1436.7 1133.5h6.4v6.4h-6.4zM1326.8 1139.3h6.4v6.4h-6.4zM1448.3 1139.3h12.2v6.4h-12.2zM1315.3 1145.1h12.2v6.4h-12.2zM1471.4 1145.1h12.2v6.4h-12.2zM1309.5 1150.9h6.4v6.4h-6.4zM1483 1150.9h17.9v6.4h-17.9zM1297.9 1156.7h6.4v6.4h-6.4zM1506.1 1156.7h12.2v6.4h-12.2zM1297.9 1162.5h6.4v6.4h-6.4zM1506.1 1162.5h6.4v6.4h-6.4zM1292.1 1168.2h6.4v6.4h-6.4zM1477.2 1168.2h29.5v6.4h-29.5zM1286.3 1174h12.2v6.4h-12.2zM1459.8 1174h12.2v6.4h-12.2zM1274.8 1179.8h12.2v6.4h-12.2zM1436.7 1179.8h12.2v6.4h-12.2zM1269 1185.6h6.4v6.4h-6.4zM1407.8 1185.6h12.2v6.4h-12.2zM1263.2 1191.4h6.4v6.4h-6.4zM1390.4 1191.4h12.2v6.4h-12.2zM1263.2 1197.2h6.4v6.4h-6.4zM1384.6 1197.2h6.4v6.4h-6.4zM1263.2 1202.9h6.4v6.4h-6.4zM1378.9 1202.9h6.4v6.4h-6.4zM1263.2 1208.7h6.4v6.4h-6.4zM1373.1 1208.7h6.4v6.4h-6.4zM1263.2 1214.5h6.4v6.4h-6.4zM1367.3 1214.5h6.4v6.4h-6.4zM1263.2 1220.3h6.4v6.4h-6.4zM1361.5 1220.3h6.4v6.4h-6.4zM1263.2 1226.1h6.4v6.4h-6.4zM1355.7 1226.1h12.2v6.4h-12.2zM1269 1231.9h6.4v6.4h-6.4zM1355.7 1231.9h6.4v6.4h-6.4zM1274.8 1237.6h29.5v6.4h-29.5zM1309.5 1243.4h12.2v6.4h-12.2zM1361.5 1243.4h6.4v6.4h-6.4zM1321 1249.2h6.4v6.4h-6.4zM1361.5 1249.2h6.4v6.4h-6.4zM1326.8 1255h6.4v6.4h-6.4zM1367.3 1255h6.4v6.4h-6.4zM1373.1 1260.8h6.4v6.4h-6.4zM1378.9 1266.5h6.4v6.4h-6.4zM1378.9 1272.3h6.4v6.4h-6.4zM1350 1278.1h6.4v6.4h-6.4zM1384.6 1278.1h6.4v6.4h-6.4zM1355.7 1283.9h6.4v6.4h-6.4zM1390.4 1283.9h6.4v6.4h-6.4zM1361.5 1289.7h6.4v6.4h-6.4zM1367.3 1295.5h12.2v6.4h-12.2zM1407.8 1295.5h6.4v6.4h-6.4zM1384.6 1301.2h6.4v6.4h-6.4zM1407.8 1301.2h6.4v6.4h-6.4zM1390.4 1307h23.7v6.4h-23.7zM1402 1312.8h12.2v6.4h-12.2zM1407.8 1318.6h6.4v6.4h-6.4z"/>
<path fill="#22c5e2" d="M1072.4 1122h93.1v6.4h-93.1zM1060.8 1127.8h12.2v6.4h-12.2zM1159.1 1127.8h12.2v6.4h-12.2zM1055 1133.5h6.4v6.4h-6.4zM1164.9 1133.5h12.2v6.4h-12.2zM922 1139.3h6.4v6.4h-6.4zM1055 1139.3h6.4v6.4h-6.4zM1170.7 1139.3h12.2v6.4h-12.2zM1176.5 1145.1h12.2v6.4h-12.2zM1182.3 1150.9h6.4v6.4h-6.4zM1055 1156.7h6.4v6.4h-6.4zM1182.3 1156.7h6.4v6.4h-6.4zM956.7 1162.5h6.4v6.4h-6.4zM1055 1162.5h6.4v6.4h-6.4zM1060.8 1168.2h6.4v6.4h-6.4zM904.7 1174h12.2v6.4h-12.2zM916.3 1179.8h6.4v6.4h-6.4zM1078.2 1179.8h6.4v6.4h-6.4zM1089.7 1185.6h12.2v6.4h-12.2zM922 1191.4h6.4v6.4h-6.4zM1107.1 1191.4h17.9v6.4h-17.9zM1188 1191.4h6.4v6.4h-6.4zM927.8 1197.2h6.4v6.4h-6.4zM1124.4 1197.2h12.2v6.4h-12.2zM1188 1197.2h6.4v6.4h-6.4zM997.2 1202.9h6.4v6.4h-6.4zM1147.6 1202.9h6.4v6.4h-6.4zM1193.8 1202.9h6.4v6.4h-6.4zM933.6 1208.7h6.4v6.4h-6.4zM1003 1208.7h6.4v6.4h-6.4zM1153.3 1208.7h6.4v6.4h-6.4zM1199.6 1208.7h6.4v6.4h-6.4zM1199.6 1214.5h6.4v6.4h-6.4zM939.4 1220.3h6.4v6.4h-6.4zM1153.3 1220.3h6.4v6.4h-6.4zM1413.6 1220.3h6.4v6.4h-6.4zM1465.6 1220.3h6.4v6.4h-6.4zM939.4 1226.1h6.4v6.4h-6.4zM1014.6 1226.1h6.4v6.4h-6.4zM1153.3 1226.1h6.4v6.4h-6.4zM1205.4 1226.1h6.4v6.4h-6.4zM1407.8 1226.1h6.4v6.4h-6.4zM1153.3 1231.9h6.4v6.4h-6.4zM1407.8 1231.9h6.4v6.4h-6.4zM1477.2 1231.9h6.4v6.4h-6.4zM945.2 1237.6h6.4v6.4h-6.4zM1211.2 1237.6h6.4v6.4h-6.4zM1471.4 1237.6h6.4v6.4h-6.4zM1026.1 1243.4h6.4v6.4h-6.4zM1159.1 1243.4h6.4v6.4h-6.4zM1419.3 1243.4h52.6v6.4h-52.6zM951 1249.2h6.4v6.4h-6.4zM1026.1 1249.2h6.4v6.4h-6.4zM1159.1 1249.2h6.4v6.4h-6.4zM1419.3 1249.2h29.5v6.4h-29.5zM956.7 1255h6.4v6.4h-6.4zM1026.1 1255h6.4v6.4h-6.4zM1164.9 1255h6.4v6.4h-6.4zM1217 1255h6.4v6.4h-6.4zM1419.3 1255h6.4v6.4h-6.4zM1442.5 1255h6.4v6.4h-6.4zM962.5 1260.8h6.4v6.4h-6.4zM1020.4 1260.8h12.2v6.4h-12.2zM1170.7 1260.8h6.4v6.4h-6.4zM1217 1260.8h6.4v6.4h-6.4zM1419.3 1260.8h6.4v6.4h-6.4zM1448.3 1260.8h6.4v6.4h-6.4zM968.3 1266.5h6.4v6.4h-6.4zM1014.6 1266.5h6.4v6.4h-6.4zM1176.5 1266.5h6.4v6.4h-6.4zM1454 1266.5h6.4v6.4h-6.4zM1488.7 1266.5h12.2v6.4h-12.2zM974.1 1272.3h12.2v6.4h-12.2zM997.2 1272.3h17.9v6.4h-17.9zM1176.5 1272.3h6.4v6.4h-6.4zM1477.2 1272.3h6.4v6.4h-6.4zM1500.3 1272.3h6.4v6.4h-6.4zM1222.7 1278.1h6.4v6.4h-6.4zM1500.3 1278.1h6.4v6.4h-6.4zM1182.3 1283.9h6.4v6.4h-6.4zM1448.3 1283.9h6.4v6.4h-6.4zM1228.5 1289.7h6.4v6.4h-6.4zM1188 1295.5h6.4v6.4h-6.4zM1188 1301.2h6.4v6.4h-6.4zM1234.3 1301.2h6.4v6.4h-6.4zM1188 1307h6.4v6.4h-6.4zM1234.3 1307h6.4v6.4h-6.4zM1188 1312.8h6.4v6.4h-6.4zM1188 1318.6h6.4v6.4h-6.4z"/>
<path fill="#69fd66" d="M1292.1 1122h6.4v6.4h-6.4zM1286.3 1127.8h6.4v6.4h-6.4zM1280.6 1133.5h6.4v6.4h-6.4zM1269 1145.1h6.4v6.4h-6.4zM991.4 1150.9h17.9v6.4h-17.9zM1257.4 1150.9h6.4v6.4h-6.4zM985.7 1156.7h6.4v6.4h-6.4zM1008.8 1156.7h6.4v6.4h-6.4zM1245.9 1156.7h6.4v6.4h-6.4zM985.7 1162.5h6.4v6.4h-6.4zM1014.6 1162.5h6.4v6.4h-6.4zM1234.3 1162.5h6.4v6.4h-6.4zM1014.6 1168.2h6.4v6.4h-6.4zM1228.5 1168.2h6.4v6.4h-6.4zM1020.4 1174h6.4v6.4h-6.4zM1228.5 1174h6.4v6.4h-6.4zM991.4 1179.8h6.4v6.4h-6.4zM1026.1 1185.6h6.4v6.4h-6.4zM1008.8 1197.2h6.4v6.4h-6.4zM1037.7 1197.2h6.4v6.4h-6.4zM1014.6 1202.9h6.4v6.4h-6.4zM1043.5 1202.9h6.4v6.4h-6.4zM1020.4 1208.7h6.4v6.4h-6.4zM1407.8 1208.7h6.4v6.4h-6.4zM1459.8 1208.7h12.2v6.4h-12.2zM904.7 1214.5h6.4v6.4h-6.4zM1026.1 1214.5h6.4v6.4h-6.4zM1055 1214.5h12.2v6.4h-12.2zM1228.5 1214.5h6.4v6.4h-6.4zM1483 1214.5h6.4v6.4h-6.4zM1511.9 1214.5h6.4v6.4h-6.4zM910.5 1220.3h6.4v6.4h-6.4zM1031.9 1220.3h6.4v6.4h-6.4zM1060.8 1220.3h6.4v6.4h-6.4zM1228.5 1220.3h6.4v6.4h-6.4zM1037.7 1226.1h6.4v6.4h-6.4zM1390.4 1226.1h6.4v6.4h-6.4zM916.3 1231.9h6.4v6.4h-6.4zM1066.6 1231.9h6.4v6.4h-6.4zM1049.3 1237.6h6.4v6.4h-6.4zM1066.6 1237.6h12.2v6.4h-12.2zM1234.3 1237.6h6.4v6.4h-6.4zM1055 1243.4h12.2v6.4h-12.2zM1072.4 1243.4h12.2v6.4h-12.2zM927.8 1249.2h6.4v6.4h-6.4zM1060.8 1249.2h29.5v6.4h-29.5zM1240.1 1249.2h6.4v6.4h-6.4zM1390.4 1249.2h6.4v6.4h-6.4zM927.8 1255h6.4v6.4h-6.4zM1066.6 1255h29.5v6.4h-29.5zM1240.1 1255h6.4v6.4h-6.4zM1072.4 1260.8h6.4v6.4h-6.4zM1095.5 1260.8h12.2v6.4h-12.2zM933.6 1266.5h6.4v6.4h-6.4zM1072.4 1266.5h6.4v6.4h-6.4zM1118.7 1266.5h12.2v6.4h-12.2zM1245.9 1266.5h6.4v6.4h-6.4zM1072.4 1272.3h6.4v6.4h-6.4zM1130.2 1272.3h6.4v6.4h-6.4zM1245.9 1272.3h6.4v6.4h-6.4zM1402 1272.3h6.4v6.4h-6.4zM1072.4 1278.1h6.4v6.4h-6.4zM939.4 1283.9h6.4v6.4h-6.4zM1072.4 1283.9h6.4v6.4h-6.4zM1136 1283.9h6.4v6.4h-6.4zM1251.7 1283.9h6.4v6.4h-6.4zM939.4 1289.7h6.4v6.4h-6.4zM1072.4 1289.7h6.4v6.4h-6.4zM1141.8 1289.7h6.4v6.4h-6.4zM1257.4 1289.7h6.4v6.4h-6.4zM1309.5 1289.7h17.9v6.4h-17.9zM1066.6 1295.5h12.2v6.4h-12.2zM1147.6 1295.5h6.4v6.4h-6.4zM1263.2 1295.5h6.4v6.4h-6.4zM1303.7 1295.5h6.4v6.4h-6.4zM1436.7 1295.5h6.4v6.4h-6.4zM1459.8 1295.5h6.4v6.4h-6.4zM1049.3 1301.2h17.9v6.4h-17.9zM1147.6 1301.2h6.4v6.4h-6.4zM1269 1301.2h12.2v6.4h-12.2zM1292.1 1301.2h12.2v6.4h-12.2zM1338.4 1301.2h6.4v6.4h-6.4zM1043.5 1307h6.4v6.4h-6.4zM1147.6 1307h6.4v6.4h-6.4zM1274.8 1307h17.9v6.4h-17.9zM1350 1307h6.4v6.4h-6.4zM1037.7 1312.8h12.2v6.4h-12.2zM1361.5 1312.8h6.4v6.4h-6.4zM1037.7 1318.6h6.4v6.4h-6.4z"/>
<path fill="#4666dd" d="M904.7 1127.8h6.4v6.4h-6.4zM904.7 1133.5h6.4v6.4h-6.4zM910.5 1139.3h6.4v6.4h-6.4zM1095.5 1139.3h17.9v6.4h-17.9zM904.7 1145.1h12.2v6.4h-12.2zM1089.7 1145.1h6.4v6.4h-6.4zM1118.7 1145.1h12.2v6.4h-12.2zM904.7 1150.9h6.4v6.4h-6.4zM1089.7 1150.9h6.4v6.4h-6.4zM1130.2 1150.9h6.4v6.4h-6.4zM1089.7 1156.7h6.4v6.4h-6.4zM1130.2 1156.7h6.4v6.4h-6.4zM1095.5 1162.5h6.4v6.4h-6.4zM1130.2 1162.5h6.4v6.4h-6.4zM1107.1 1168.2h29.5v6.4h-29.5zM1205.4 1307h12.2v6.4h-12.2z"/>
<path fill="#3aa3fc" d="M916.3 1127.8h6.4v6.4h-6.4zM1101.3 1127.8h6.4v6.4h-6.4zM916.3 1133.5h6.4v6.4h-6.4zM1072.4 1133.5h6.4v6.4h-6.4zM1136 1133.5h12.2v6.4h-12.2zM1066.6 1139.3h6.4v6.4h-6.4zM1153.3 1139.3h6.4v6.4h-6.4zM1066.6 1145.1h6.4v6.4h-6.4zM1159.1 1145.1h6.4v6.4h-6.4zM927.8 1150.9h6.4v6.4h-6.4zM1066.6 1150.9h6.4v6.4h-6.4zM1164.9 1150.9h6.4v6.4h-6.4zM933.6 1156.7h6.4v6.4h-6.4zM1066.6 1156.7h6.4v6.4h-6.4zM1170.7 1156.7h6.4v6.4h-6.4zM939.4 1162.5h6.4v6.4h-6.4zM1072.4 1162.5h6.4v6.4h-6.4zM1170.7 1162.5h6.4v6.4h-6.4zM916.3 1168.2h6.4v6.4h-6.4zM956.7 1168.2h6.4v6.4h-6.4zM1078.2 1168.2h6.4v6.4h-6.4zM1170.7 1168.2h6.4v6.4h-6.4zM922 1174h6.4v6.4h-6.4zM1084 1174h6.4v6.4h-6.4zM1170.7 1174h6.4v6.4h-6.4zM1101.3 1179.8h6.4v6.4h-6.4zM1170.7 1179.8h6.4v6.4h-6.4zM1124.4 1185.6h6.4v6.4h-6.4zM1164.9 1185.6h12.2v6.4h-12.2zM933.6 1191.4h6.4v6.4h-6.4zM1136 1191.4h41.1v6.4h-41.1zM985.7 1197.2h6.4v6.4h-6.4zM1164.9 1197.2h12.2v6.4h-12.2zM939.4 1202.9h6.4v6.4h-6.4zM1170.7 1202.9h12.2v6.4h-12.2zM945.2 1208.7h6.4v6.4h-6.4zM997.2 1208.7h6.4v6.4h-6.4zM1170.7 1208.7h23.7v6.4h-23.7zM1170.7 1214.5h12.2v6.4h-12.2zM1188 1214.5h6.4v6.4h-6.4zM1170.7 1220.3h6.4v6.4h-6.4zM1193.8 1220.3h6.4v6.4h-6.4zM1436.7 1220.3h17.9v6.4h-17.9zM951 1226.1h6.4v6.4h-6.4zM1008.8 1226.1h6.4v6.4h-6.4zM1170.7 1226.1h6.4v6.4h-6.4zM1193.8 1226.1h6.4v6.4h-6.4zM1413.6 1226.1h6.4v6.4h-6.4zM1465.6 1226.1h6.4v6.4h-6.4zM951 1231.9h6.4v6.4h-6.4zM1008.8 1231.9h6.4v6.4h-6.4zM1170.7 1231.9h6.4v6.4h-6.4zM1413.6 1231.9h6.4v6.4h-6.4zM1465.6 1231.9h6.4v6.4h-6.4zM1170.7 1237.6h6.4v6.4h-6.4zM1199.6 1237.6h6.4v6.4h-6.4zM956.7 1243.4h6.4v6.4h-6.4zM1014.6 1243.4h6.4v6.4h-6.4zM1170.7 1243.4h6.4v6.4h-6.4zM1205.4 1243.4h6.4v6.4h-6.4zM962.5 1249.2h6.4v6.4h-6.4zM1008.8 1249.2h6.4v6.4h-6.4zM1176.5 1249.2h6.4v6.4h-6.4zM1205.4 1249.2h6.4v6.4h-6.4zM974.1 1255h6.4v6.4h-6.4zM1003 1255h6.4v6.4h-6.4zM1205.4 1255h6.4v6.4h-6.4zM979.9 1260.8h23.7v6.4h-23.7zM1182.3 1260.8h6.4v6.4h-6.4zM1205.4 1260.8h6.4v6.4h-6.4zM1430.9 1260.8h6.4v6.4h-6.4zM1425.1 1266.5h6.4v6.4h-6.4zM1442.5 1266.5h6.4v6.4h-6.4zM1188 1272.3h6.4v6.4h-6.4zM1211.2 1272.3h6.4v6.4h-6.4zM1448.3 1272.3h6.4v6.4h-6.4zM1188 1278.1h6.4v6.4h-6.4zM1211.2 1278.1h6.4v6.4h-6.4zM1425.1 1278.1h6.4v6.4h-6.4zM1448.3 1278.1h6.4v6.4h-6.4zM1193.8 1283.9h6.4v6.4h-6.4zM1193.8 1289.7h6.4v6.4h-6.4zM1217 1289.7h6.4v6.4h-6.4zM1222.7 1295.5h6.4v6.4h-6.4zM1193.8 1307h6.4v6.4h-6.4zM1193.8 1312.8h6.4v6.4h-6.4zM1228.5 1312.8h6.4v6.4h-6.4zM1193.8 1318.6h6.4v6.4h-6.4zM1228.5 1318.6h6.4v6.4h-6.4z"/>
<path fill="#28bceb" d="M1072.4 1127.8h6.4v6.4h-6.4zM1136 1127.8h23.7v6.4h-23.7zM1060.8 1133.5h6.4v6.4h-6.4zM1159.1 1133.5h6.4v6.4h-6.4zM1164.9 1139.3h6.4v6.4h-6.4zM1055 1145.1h6.4v6.4h-6.4zM1170.7 1145.1h6.4v6.4h-6.4zM933.6 1150.9h6.4v6.4h-6.4zM1055 1150.9h6.4v6.4h-6.4zM1176.5 1150.9h6.4v6.4h-6.4zM939.4 1156.7h6.4v6.4h-6.4zM945.2 1162.5h12.2v6.4h-12.2zM1060.8 1162.5h6.4v6.4h-6.4zM1182.3 1162.5h6.4v6.4h-6.4zM1066.6 1168.2h6.4v6.4h-6.4zM1182.3 1168.2h6.4v6.4h-6.4zM1072.4 1174h6.4v6.4h-6.4zM1182.3 1174h6.4v6.4h-6.4zM974.1 1179.8h6.4v6.4h-6.4zM1084 1179.8h6.4v6.4h-6.4zM1182.3 1179.8h6.4v6.4h-6.4zM922 1185.6h6.4v6.4h-6.4zM1101.3 1185.6h6.4v6.4h-6.4zM1182.3 1185.6h6.4v6.4h-6.4zM927.8 1191.4h6.4v6.4h-6.4zM985.7 1191.4h6.4v6.4h-6.4zM1124.4 1191.4h6.4v6.4h-6.4zM1182.3 1191.4h6.4v6.4h-6.4zM1136 1197.2h12.2v6.4h-12.2zM1182.3 1197.2h6.4v6.4h-6.4zM933.6 1202.9h6.4v6.4h-6.4zM1153.3 1202.9h12.2v6.4h-12.2zM1159.1 1208.7h6.4v6.4h-6.4zM1193.8 1208.7h6.4v6.4h-6.4zM939.4 1214.5h6.4v6.4h-6.4zM1159.1 1214.5h6.4v6.4h-6.4zM1008.8 1220.3h6.4v6.4h-6.4zM1159.1 1220.3h6.4v6.4h-6.4zM1199.6 1220.3h6.4v6.4h-6.4zM1419.3 1220.3h6.4v6.4h-6.4zM1459.8 1220.3h6.4v6.4h-6.4zM945.2 1226.1h6.4v6.4h-6.4zM1159.1 1226.1h6.4v6.4h-6.4zM1199.6 1226.1h6.4v6.4h-6.4zM1471.4 1226.1h6.4v6.4h-6.4zM945.2 1231.9h6.4v6.4h-6.4zM1159.1 1231.9h6.4v6.4h-6.4zM1205.4 1231.9h6.4v6.4h-6.4zM1471.4 1231.9h6.4v6.4h-6.4zM1020.4 1237.6h6.4v6.4h-6.4zM1159.1 1237.6h6.4v6.4h-6.4zM1413.6 1237.6h6.4v6.4h-6.4zM1465.6 1237.6h6.4v6.4h-6.4zM951 1243.4h6.4v6.4h-6.4zM1020.4 1243.4h6.4v6.4h-6.4zM1211.2 1243.4h6.4v6.4h-6.4zM1020.4 1249.2h6.4v6.4h-6.4zM1164.9 1249.2h6.4v6.4h-6.4zM1211.2 1249.2h6.4v6.4h-6.4zM962.5 1255h6.4v6.4h-6.4zM1020.4 1255h6.4v6.4h-6.4zM1170.7 1255h6.4v6.4h-6.4zM1425.1 1255h17.9v6.4h-17.9zM968.3 1260.8h6.4v6.4h-6.4zM1014.6 1260.8h6.4v6.4h-6.4zM1176.5 1260.8h6.4v6.4h-6.4zM1442.5 1260.8h6.4v6.4h-6.4zM974.1 1266.5h6.4v6.4h-6.4zM1003 1266.5h12.2v6.4h-12.2zM1217 1266.5h6.4v6.4h-6.4zM1419.3 1266.5h6.4v6.4h-6.4zM1448.3 1266.5h6.4v6.4h-6.4zM985.7 1272.3h12.2v6.4h-12.2zM1217 1272.3h6.4v6.4h-6.4zM1419.3 1272.3h6.4v6.4h-6.4zM1454 1272.3h6.4v6.4h-6.4zM1182.3 1278.1h6.4v6.4h-6.4zM1454 1278.1h6.4v6.4h-6.4zM1477.2 1278.1h6.4v6.4h-6.4zM1222.7 1283.9h6.4v6.4h-6.4zM1430.9 1283.9h6.4v6.4h-6.4zM1442.5 1283.9h6.4v6.4h-6.4zM1188 1289.7h6.4v6.4h-6.4zM1228.5 1295.5h6.4v6.4h-6.4zM1234.3 1312.8h6.4v6.4h-6.4zM1234.3 1318.6h6.4v6.4h-6.4z"/>
<path fill="#8bff4b" d="M1297.9 1127.8h6.4v6.4h-6.4zM1280.6 1145.1h6.4v6.4h-6.4zM1269 1150.9h6.4v6.4h-6.4zM1263.2 1156.7h6.4v6.4h-6.4zM997.2 1162.5h12.2v6.4h-12.2zM1251.7 1162.5h6.4v6.4h-6.4zM1003 1168.2h12.2v6.4h-12.2zM1240.1 1168.2h6.4v6.4h-6.4zM1008.8 1174h6.4v6.4h-6.4zM1234.3 1174h6.4v6.4h-6.4zM997.2 1179.8h6.4v6.4h-6.4zM1014.6 1179.8h6.4v6.4h-6.4zM1020.4 1185.6h6.4v6.4h-6.4zM1020.4 1191.4h6.4v6.4h-6.4zM1014.6 1197.2h12.2v6.4h-12.2zM1026.1 1202.9h12.2v6.4h-12.2zM1413.6 1202.9h6.4v6.4h-6.4zM1459.8 1202.9h12.2v6.4h-12.2zM1523.4 1202.9h6.4v6.4h-6.4zM1026.1 1208.7h6.4v6.4h-6.4zM1037.7 1208.7h6.4v6.4h-6.4zM1402 1208.7h6.4v6.4h-6.4zM1477.2 1208.7h6.4v6.4h-6.4zM1511.9 1208.7h6.4v6.4h-6.4zM1031.9 1214.5h12.2v6.4h-12.2zM1234.3 1214.5h6.4v6.4h-6.4zM1396.2 1214.5h6.4v6.4h-6.4zM1043.5 1220.3h12.2v6.4h-12.2zM1234.3 1220.3h6.4v6.4h-6.4zM1043.5 1226.1h6.4v6.4h-6.4zM1055 1226.1h6.4v6.4h-6.4zM1234.3 1226.1h6.4v6.4h-6.4zM1384.6 1226.1h6.4v6.4h-6.4zM904.7 1231.9h12.2v6.4h-12.2zM1049.3 1231.9h12.2v6.4h-12.2zM1384.6 1231.9h6.4v6.4h-6.4zM1240.1 1237.6h6.4v6.4h-6.4zM1384.6 1237.6h6.4v6.4h-6.4zM916.3 1243.4h6.4v6.4h-6.4zM1384.6 1243.4h6.4v6.4h-6.4zM922 1249.2h6.4v6.4h-6.4zM1245.9 1249.2h6.4v6.4h-6.4zM922 1255h6.4v6.4h-6.4zM1245.9 1255h6.4v6.4h-6.4zM1390.4 1260.8h6.4v6.4h-6.4zM927.8 1266.5h6.4v6.4h-6.4zM1251.7 1266.5h6.4v6.4h-6.4zM1089.7 1272.3h12.2v6.4h-12.2zM1118.7 1272.3h6.4v6.4h-6.4zM1251.7 1272.3h6.4v6.4h-6.4zM1517.6 1272.3h6.4v6.4h-6.4zM933.6 1278.1h6.4v6.4h-6.4zM1089.7 1278.1h6.4v6.4h-6.4zM1124.4 1278.1h6.4v6.4h-6.4zM1303.7 1278.1h12.2v6.4h-12.2zM933.6 1283.9h6.4v6.4h-6.4zM1084 1283.9h12.2v6.4h-12.2zM1257.4 1283.9h6.4v6.4h-6.4zM1303.7 1283.9h6.4v6.4h-6.4zM1321 1283.9h6.4v6.4h-6.4zM1407.8 1283.9h6.4v6.4h-6.4zM1511.9 1283.9h6.4v6.4h-6.4zM933.6 1289.7h6.4v6.4h-6.4zM1084 1289.7h6.4v6.4h-6.4zM1130.2 1289.7h6.4v6.4h-6.4zM1269 1289.7h35.3v6.4h-35.3zM1332.6 1289.7h6.4v6.4h-6.4zM1084 1295.5h6.4v6.4h-6.4zM1136 1295.5h6.4v6.4h-6.4zM1280.6 1295.5h12.2v6.4h-12.2zM1338.4 1295.5h6.4v6.4h-6.4zM1471.4 1295.5h12.2v6.4h-12.2zM1078.2 1301.2h12.2v6.4h-12.2zM1136 1301.2h6.4v6.4h-6.4zM1344.2 1301.2h6.4v6.4h-6.4zM1442.5 1301.2h23.7v6.4h-23.7zM1060.8 1307h6.4v6.4h-6.4zM1141.8 1307h6.4v6.4h-6.4zM1361.5 1307h6.4v6.4h-6.4zM1055 1312.8h6.4v6.4h-6.4zM1101.3 1312.8h6.4v6.4h-6.4zM1141.8 1312.8h6.4v6.4h-6.4zM1517.6 1312.8h12.2v6.4h-12.2zM1049.3 1318.6h12.2v6.4h-12.2zM1101.3 1318.6h6.4v6.4h-6.4zM1517.6 1318.6h12.2v6.4h-12.2z"/>
<path fill="#ebd339" d="M1373.1 1127.8h12.2v6.4h-12.2zM1396.2 1127.8h23.7v6.4h-23.7zM1344.2 1133.5h17.9v6.4h-17.9zM1430.9 1133.5h6.4v6.4h-6.4zM1332.6 1139.3h6.4v6.4h-6.4zM1442.5 1139.3h6.4v6.4h-6.4zM1326.8 1145.1h6.4v6.4h-6.4zM1448.3 1145.1h23.7v6.4h-23.7zM1315.3 1150.9h12.2v6.4h-12.2zM1471.4 1150.9h12.2v6.4h-12.2zM1303.7 1156.7h12.2v6.4h-12.2zM1483 1156.7h23.7v6.4h-23.7zM1303.7 1162.5h6.4v6.4h-6.4zM1477.2 1162.5h29.5v6.4h-29.5zM1297.9 1168.2h6.4v6.4h-6.4zM1459.8 1168.2h17.9v6.4h-17.9zM1297.9 1174h6.4v6.4h-6.4zM1448.3 1174h12.2v6.4h-12.2zM1286.3 1179.8h12.2v6.4h-12.2zM1419.3 1179.8h17.9v6.4h-17.9zM1274.8 1185.6h12.2v6.4h-12.2zM1402 1185.6h6.4v6.4h-6.4zM1269 1191.4h12.2v6.4h-12.2zM1384.6 1191.4h6.4v6.4h-6.4zM1269 1197.2h12.2v6.4h-12.2zM1378.9 1197.2h6.4v6.4h-6.4zM1269 1202.9h12.2v6.4h-12.2zM1367.3 1202.9h12.2v6.4h-12.2zM1269 1208.7h12.2v6.4h-12.2zM1361.5 1208.7h12.2v6.4h-12.2zM1269 1214.5h12.2v6.4h-12.2zM1355.7 1214.5h12.2v6.4h-12.2zM1269 1220.3h12.2v6.4h-12.2zM1355.7 1220.3h6.4v6.4h-6.4zM1269 1226.1h23.7v6.4h-23.7zM1350 1226.1h6.4v6.4h-6.4zM1274.8 1231.9h29.5v6.4h-29.5zM1350 1231.9h6.4v6.4h-6.4zM1303.7 1237.6h17.9v6.4h-17.9zM1355.7 1237.6h6.4v6.4h-6.4zM1321 1243.4h12.2v6.4h-12.2zM1355.7 1243.4h6.4v6.4h-6.4zM1326.8 1249.2h6.4v6.4h-6.4zM1355.7 1249.2h6.4v6.4h-6.4zM1332.6 1255h6.4v6.4h-6.4zM1361.5 1255h6.4v6.4h-6.4zM1332.6 1260.8h6.4v6.4h-6.4zM1361.5 1260.8h12.2v6.4h-12.2zM1338.4 1266.5h6.4v6.4h-6.4zM1361.5 1266.5h17.9v6.4h-17.9zM1344.2 1272.3h35.3v6.4h-35.3zM1355.7 1278.1h29.5v6.4h-29.5zM1361.5 1283.9h29.5v6.4h-29.5zM1367.3 1289.7h35.3v6.4h-35.3zM1378.9 1295.5h6.4v6.4h-6.4zM1402 1295.5h6.4v6.4h-6.4zM1390.4 1301.2h6.4v6.4h-6.4zM1402 1301.2h6.4v6.4h-6.4z"/>
<path fill="#f2c93a" d="M1384.6 1127.8h12.2v6.4h-12.2zM1361.5 1133.5h12.2v6.4h-12.2zM1413.6 1133.5h17.9v6.4h-17.9zM1338.4 1139.3h6.4v6.4h-6.4zM1436.7 1139.3h6.4v6.4h-6.4zM1332.6 1145.1h6.4v6.4h-6.4zM1442.5 1145.1h6.4v6.4h-6.4zM1326.8 1150.9h6.4v6.4h-6.4zM1448.3 1150.9h23.7v6.4h-23.7zM1315.3 1156.7h6.4v6.4h-6.4zM1471.4 1156.7h12.2v6.4h-12.2zM1309.5 1162.5h6.4v6.4h-6.4zM1459.8 1162.5h17.9v6.4h-17.9zM1303.7 1168.2h6.4v6.4h-6.4zM1448.3 1168.2h12.2v6.4h-12.2zM1303.7 1174h6.4v6.4h-6.4zM1436.7 1174h12.2v6.4h-12.2zM1297.9 1179.8h12.2v6.4h-12.2zM1407.8 1179.8h12.2v6.4h-12.2zM1286.3 1185.6h29.5v6.4h-29.5zM1390.4 1185.6h12.2v6.4h-12.2zM1280.6 1191.4h6.4v6.4h-6.4zM1303.7 1191.4h17.9v6.4h-17.9zM1373.1 1191.4h12.2v6.4h-12.2zM1280.6 1197.2h6.4v6.4h-6.4zM1303.7 1197.2h17.9v6.4h-17.9zM1367.3 1197.2h12.2v6.4h-12.2zM1280.6 1202.9h6.4v6.4h-6.4zM1303.7 1202.9h17.9v6.4h-17.9zM1361.5 1202.9h6.4v6.4h-6.4zM1280.6 1208.7h6.4v6.4h-6.4zM1303.7 1208.7h17.9v6.4h-17.9zM1355.7 1208.7h6.4v6.4h-6.4zM1280.6 1214.5h12.2v6.4h-12.2zM1303.7 1214.5h12.2v6.4h-12.2zM1350 1214.5h6.4v6.4h-6.4zM1280.6 1220.3h23.7v6.4h-23.7zM1344.2 1220.3h12.2v6.4h-12.2zM1292.1 1226.1h17.9v6.4h-17.9zM1338.4 1226.1h12.2v6.4h-12.2zM1303.7 1231.9h17.9v6.4h-17.9zM1338.4 1231.9h12.2v6.4h-12.2zM1321 1237.6h17.9v6.4h-17.9zM1344.2 1237.6h12.2v6.4h-12.2zM1332.6 1243.4h6.4v6.4h-6.4zM1350 1243.4h6.4v6.4h-6.4zM1332.6 1249.2h6.4v6.4h-6.4zM1350 1249.2h6.4v6.4h-6.4zM1338.4 1255h6.4v6.4h-6.4zM1355.7 1255h6.4v6.4h-6.4zM1338.4 1260.8h6.4v6.4h-6.4zM1355.7 1260.8h6.4v6.4h-6.4zM1344.2 1266.5h17.9v6.4h-17.9zM1384.6 1295.5h17.9v6.4h-17.9zM1396.2 1301.2h6.4v6.4h-6.4z"/>
<path fill="#4196ff" d="M1078.2 1133.5h12.2v6.4h-12.2zM1124.4 1133.5h12.2v6.4h-12.2zM916.3 1139.3h6.4v6.4h-6.4zM1072.4 1139.3h6.4v6.4h-6.4zM1141.8 1139.3h12.2v6.4h-12.2zM1072.4 1145.1h6.4v6.4h-6.4zM1153.3 1145.1h6.4v6.4h-6.4zM1072.4 1150.9h6.4v6.4h-6.4zM1153.3 1150.9h12.2v6.4h-12.2zM1072.4 1156.7h6.4v6.4h-6.4zM1159.1 1156.7h12.2v6.4h-12.2zM1164.9 1162.5h6.4v6.4h-6.4zM945.2 1168.2h12.2v6.4h-12.2zM1084 1168.2h6.4v6.4h-6.4zM1164.9 1168.2h6.4v6.4h-6.4zM962.5 1174h6.4v6.4h-6.4zM1089.7 1174h12.2v6.4h-12.2zM1159.1 1174h12.2v6.4h-12.2zM927.8 1179.8h6.4v6.4h-6.4zM968.3 1179.8h6.4v6.4h-6.4zM1107.1 1179.8h12.2v6.4h-12.2zM1159.1 1179.8h12.2v6.4h-12.2zM933.6 1185.6h6.4v6.4h-6.4zM974.1 1185.6h6.4v6.4h-6.4zM1130.2 1185.6h35.3v6.4h-35.3zM939.4 1197.2h6.4v6.4h-6.4zM945.2 1202.9h6.4v6.4h-6.4zM951 1214.5h6.4v6.4h-6.4zM1182.3 1214.5h6.4v6.4h-6.4zM951 1220.3h6.4v6.4h-6.4zM1003 1220.3h6.4v6.4h-6.4zM1176.5 1220.3h17.9v6.4h-17.9zM1176.5 1226.1h6.4v6.4h-6.4zM1419.3 1226.1h6.4v6.4h-6.4zM1176.5 1231.9h6.4v6.4h-6.4zM1193.8 1231.9h6.4v6.4h-6.4zM1419.3 1231.9h12.2v6.4h-12.2zM1459.8 1231.9h6.4v6.4h-6.4zM956.7 1237.6h6.4v6.4h-6.4zM1008.8 1237.6h6.4v6.4h-6.4zM1176.5 1237.6h6.4v6.4h-6.4zM1003 1243.4h12.2v6.4h-12.2zM1176.5 1243.4h6.4v6.4h-6.4zM1199.6 1243.4h6.4v6.4h-6.4zM968.3 1249.2h6.4v6.4h-6.4zM997.2 1249.2h12.2v6.4h-12.2zM1199.6 1249.2h6.4v6.4h-6.4zM979.9 1255h23.7v6.4h-23.7zM1182.3 1255h6.4v6.4h-6.4zM1199.6 1255h6.4v6.4h-6.4zM1199.6 1260.8h6.4v6.4h-6.4zM1188 1266.5h23.7v6.4h-23.7zM1430.9 1266.5h12.2v6.4h-12.2zM1193.8 1272.3h17.9v6.4h-17.9zM1425.1 1272.3h6.4v6.4h-6.4zM1442.5 1272.3h6.4v6.4h-6.4zM1193.8 1278.1h12.2v6.4h-12.2zM1211.2 1283.9h6.4v6.4h-6.4zM1217 1295.5h6.4v6.4h-6.4zM1222.7 1301.2h6.4v6.4h-6.4zM1222.7 1307h6.4v6.4h-6.4z"/>
<path fill="#458cfd" d="M1089.7 1133.5h12.2v6.4h-12.2zM1107.1 1133.5h17.9v6.4h-17.9zM1078.2 1139.3h6.4v6.4h-6.4zM1136 1139.3h6.4v6.4h-6.4zM916.3 1145.1h6.4v6.4h-6.4zM1141.8 1145.1h12.2v6.4h-12.2zM922 1150.9h6.4v6.4h-6.4zM1147.6 1150.9h6.4v6.4h-6.4zM927.8 1156.7h6.4v6.4h-6.4zM1153.3 1156.7h6.4v6.4h-6.4zM904.7 1162.5h17.9v6.4h-17.9zM933.6 1162.5h6.4v6.4h-6.4zM1078.2 1162.5h6.4v6.4h-6.4zM1153.3 1162.5h12.2v6.4h-12.2zM922 1168.2h23.7v6.4h-23.7zM1089.7 1168.2h6.4v6.4h-6.4zM1153.3 1168.2h12.2v6.4h-12.2zM927.8 1174h6.4v6.4h-6.4zM956.7 1174h6.4v6.4h-6.4zM1101.3 1174h6.4v6.4h-6.4zM1153.3 1174h6.4v6.4h-6.4zM933.6 1179.8h6.4v6.4h-6.4zM962.5 1179.8h6.4v6.4h-6.4zM1118.7 1179.8h17.9v6.4h-17.9zM1141.8 1179.8h17.9v6.4h-17.9zM968.3 1185.6h6.4v6.4h-6.4zM939.4 1191.4h6.4v6.4h-6.4zM979.9 1191.4h6.4v6.4h-6.4zM951 1202.9h6.4v6.4h-6.4zM985.7 1202.9h6.4v6.4h-6.4zM951 1208.7h6.4v6.4h-6.4zM991.4 1208.7h6.4v6.4h-6.4zM997.2 1214.5h6.4v6.4h-6.4zM956.7 1220.3h6.4v6.4h-6.4zM956.7 1226.1h6.4v6.4h-6.4zM1003 1226.1h6.4v6.4h-6.4zM1182.3 1226.1h12.2v6.4h-12.2zM1425.1 1226.1h12.2v6.4h-12.2zM1459.8 1226.1h6.4v6.4h-6.4zM956.7 1231.9h6.4v6.4h-6.4zM1003 1231.9h6.4v6.4h-6.4zM1182.3 1231.9h12.2v6.4h-12.2zM1430.9 1231.9h29.5v6.4h-29.5zM1003 1237.6h6.4v6.4h-6.4zM1182.3 1237.6h6.4v6.4h-6.4zM1193.8 1237.6h6.4v6.4h-6.4zM962.5 1243.4h6.4v6.4h-6.4zM997.2 1243.4h6.4v6.4h-6.4zM974.1 1249.2h6.4v6.4h-6.4zM985.7 1249.2h12.2v6.4h-12.2zM1182.3 1249.2h6.4v6.4h-6.4zM1193.8 1249.2h6.4v6.4h-6.4zM1188 1255h12.2v6.4h-12.2zM1188 1260.8h12.2v6.4h-12.2zM1205.4 1278.1h6.4v6.4h-6.4zM1442.5 1278.1h6.4v6.4h-6.4zM1199.6 1283.9h12.2v6.4h-12.2zM1199.6 1289.7h6.4v6.4h-6.4zM1211.2 1289.7h6.4v6.4h-6.4zM1199.6 1295.5h6.4v6.4h-6.4zM1199.6 1301.2h6.4v6.4h-6.4zM1217 1301.2h6.4v6.4h-6.4zM1222.7 1312.8h6.4v6.4h-6.4zM1222.7 1318.6h6.4v6.4h-6.4z"/>
<path fill="#f8be39" d="M1373.1 1133.5h41.1v6.4h-41.1zM1344.2 1139.3h23.7v6.4h-23.7zM1419.3 1139.3h17.9v6.4h-17.9zM1338.4 1145.1h6.4v6.4h-6.4zM1436.7 1145.1h6.4v6.4h-6.4zM1332.6 1150.9h6.4v6.4h-6.4zM1442.5 1150.9h6.4v6.4h-6.4zM1321 1156.7h12.2v6.4h-12.2zM1448.3 1156.7h23.7v6.4h-23.7zM1315.3 1162.5h12.2v6.4h-12.2zM1442.5 1162.5h17.9v6.4h-17.9zM1309.5 1168.2h17.9v6.4h-17.9zM1436.7 1168.2h12.2v6.4h-12.2zM1309.5 1174h17.9v6.4h-17.9zM1413.6 1174h23.7v6.4h-23.7zM1309.5 1179.8h17.9v6.4h-17.9zM1396.2 1179.8h12.2v6.4h-12.2zM1315.3 1185.6h17.9v6.4h-17.9zM1378.9 1185.6h12.2v6.4h-12.2zM1286.3 1191.4h17.9v6.4h-17.9zM1321 1191.4h12.2v6.4h-12.2zM1367.3 1191.4h6.4v6.4h-6.4zM1286.3 1197.2h17.9v6.4h-17.9zM1321 1197.2h17.9v6.4h-17.9zM1344.2 1197.2h23.7v6.4h-23.7zM1286.3 1202.9h17.9v6.4h-17.9zM1321 1202.9h41.1v6.4h-41.1zM1286.3 1208.7h17.9v6.4h-17.9zM1321 1208.7h35.3v6.4h-35.3zM1292.1 1214.5h12.2v6.4h-12.2zM1315.3 1214.5h35.3v6.4h-35.3zM1303.7 1220.3h41.1v6.4h-41.1zM1309.5 1226.1h29.5v6.4h-29.5zM1321 1231.9h17.9v6.4h-17.9zM1338.4 1237.6h6.4v6.4h-6.4zM1338.4 1243.4h12.2v6.4h-12.2zM1338.4 1249.2h12.2v6.4h-12.2zM1344.2 1255h12.2v6.4h-12.2zM1344.2 1260.8h12.2v6.4h-12.2z"/>
<path fill="#455ccf" d="M904.7 1139.3h6.4v6.4h-6.4zM1095.5 1145.1h23.7v6.4h-23.7zM1095.5 1150.9h6.4v6.4h-6.4zM1118.7 1150.9h12.2v6.4h-12.2zM1095.5 1156.7h6.4v6.4h-6.4zM1124.4 1156.7h6.4v6.4h-6.4zM1101.3 1162.5h29.5v6.4h-29.5zM1205.4 1312.8h12.2v6.4h-12.2zM1205.4 1318.6h12.2v6.4h-12.2z"/>
<path fill="#fcb336" d="M1367.3 1139.3h6.4v6.4h-6.4zM1407.8 1139.3h12.2v6.4h-12.2zM1344.2 1145.1h6.4v6.4h-6.4zM1425.1 1145.1h12.2v6.4h-12.2zM1436.7 1150.9h6.4v6.4h-6.4zM1332.6 1156.7h6.4v6.4h-6.4zM1436.7 1156.7h12.2v6.4h-12.2zM1326.8 1162.5h6.4v6.4h-6.4zM1436.7 1162.5h6.4v6.4h-6.4zM1326.8 1168.2h12.2v6.4h-12.2zM1425.1 1168.2h12.2v6.4h-12.2zM1326.8 1174h12.2v6.4h-12.2zM1407.8 1174h6.4v6.4h-6.4zM1326.8 1179.8h17.9v6.4h-17.9zM1390.4 1179.8h6.4v6.4h-6.4zM1332.6 1185.6h23.7v6.4h-23.7zM1367.3 1185.6h12.2v6.4h-12.2zM1332.6 1191.4h35.3v6.4h-35.3zM1338.4 1197.2h6.4v6.4h-6.4z"/>
<path fill="#fea933" d="M1373.1 1139.3h35.3v6.4h-35.3zM1350 1145.1h23.7v6.4h-23.7zM1407.8 1145.1h17.9v6.4h-17.9zM1338.4 1150.9h6.4v6.4h-6.4zM1425.1 1150.9h12.2v6.4h-12.2zM1430.9 1156.7h6.4v6.4h-6.4zM1332.6 1162.5h6.4v6.4h-6.4zM1425.1 1162.5h12.2v6.4h-12.2zM1338.4 1168.2h6.4v6.4h-6.4zM1407.8 1168.2h17.9v6.4h-17.9zM1338.4 1174h12.2v6.4h-12.2zM1396.2 1174h12.2v6.4h-12.2zM1344.2 1179.8h12.2v6.4h-12.2zM1378.9 1179.8h12.2v6.4h-12.2zM1355.7 1185.6h12.2v6.4h-12.2z"/>
<path fill="#fe9b2d" d="M1373.1 1145.1h35.3v6.4h-35.3zM1344.2 1150.9h29.5v6.4h-29.5zM1407.8 1150.9h17.9v6.4h-17.9zM1338.4 1156.7h6.4v6.4h-6.4zM1419.3 1156.7h12.2v6.4h-12.2zM1338.4 1162.5h6.4v6.4h-6.4zM1407.8 1162.5h17.9v6.4h-17.9zM1344.2 1168.2h6.4v6.4h-6.4zM1396.2 1168.2h12.2v6.4h-12.2zM1350 1174h6.4v6.4h-6.4zM1384.6 1174h12.2v6.4h-12.2zM1355.7 1179.8h23.7v6.4h-23.7z"/>
<path fill="#434eba" d="M1101.3 1150.9h17.9v6.4h-17.9zM1101.3 1156.7h23.7v6.4h-23.7z"/>
<path fill="#fd8d27" d="M1373.1 1150.9h35.3v6.4h-35.3zM1344.2 1156.7h75.8v6.4h-75.8zM1344.2 1162.5h64.2v6.4h-64.2zM1350 1168.2h46.9v6.4h-46.9zM1355.7 1174h29.5v6.4h-29.5z"/>
</g></g>
<path class="gl" d="M905 1185.9H1532M905 1255.3H1532M905 1324.7H1532M1113.2 1116.5V1334M1321.3 1116.5V1334"/>
<g clip-path="url(#ca3)"><polygon points="1496.4,1116.5 1496.4,1117 1497.4,1120.8 1500.5,1124.3 1499.7,1128.9 1501.5,1133 1500.5,1138.1 1498.4,1141.1 1495.4,1142.1 1495.9,1145.2 1500.5,1148.2 1505.6,1150.2 1510.6,1151.5 1515.7,1151.3 1520.8,1149.2 1523.3,1147.2 1526.9,1146.7 1528.9,1144.7 1531.2,1144.1 1540,1144.1 1540,1111.5 1496.4,1111.5" fill="#fcfbe5" stroke="#111" stroke-width="1.3"/></g>
<g class="q" clip-path="url(#ca3)">
<path d="M905 1116.5l0.4 11.7"/>
<path d="M922.3 1116.5l-1.7 21.3"/>
<path d="M939.7 1116.5l-6.2 30.5"/>
<path d="M957 1116.5l-8.9 26.9"/>
<path d="M974.4 1116.5l-10.8 23.1"/>
<path d="M991.7 1116.5l-14.3 22.6"/>
<path d="M1009.1 1116.5l-17.2 20.5"/>
<path d="M1026.4 1116.5l-18.8 17.2"/>
<path d="M1043.8 1116.5l-20.9 14.6"/>
<path d="M1061.1 1116.5l-21.6 9.7"/>
<path d="M1078.5 1116.5l-21.4 4.7"/>
<path d="M1095.8 1116.5l-21.9 0.3"/>
<path d="M1113.2 1116.5l-21.6 -3.8"/>
<path d="M1130.5 1116.5l-19.8 -9.5"/>
<path d="M1147.9 1116.5l-15.5 -15.5"/>
<path d="M1165.2 1116.5l-9.5 -19.8"/>
<path d="M1182.6 1116.5l-3.8 -21.6"/>
<path d="M1199.9 1116.5l-1.9 -21.8"/>
<path d="M1217.3 1116.5l0 -21.9"/>
<path d="M1234.6 1116.5l2 -22.7"/>
<path d="M1252 1116.5l4.3 -24.2"/>
<path d="M1269.3 1116.5l8.5 -25.4"/>
<path d="M1286.6 1116.5l13.7 -26.2"/>
<path d="M1304 1116.5l20.6 -27.9"/>
<path d="M1321.3 1116.5l27 -27"/>
<path d="M1338.7 1116.5l30.9 -22.5"/>
<path d="M1356 1116.5l35.4 -17.6"/>
<path d="M1373.4 1116.5l40.2 -12.3"/>
<path d="M1390.7 1116.5l42.9 -6"/>
<path d="M1408.1 1116.5l43.3 -2.7"/>
<path d="M1425.4 1116.5l42.1 0.7"/>
<path d="M1442.8 1116.5l39.3 3.8"/>
<path d="M1460.1 1116.5l37.7 6.6"/>
<path d="M1477.5 1116.5l37.7 6.6"/>
<path d="M1494.8 1116.5l37.7 6.6"/>
<path d="M1512.2 1116.5l37.7 6.6"/>
<path d="M1529.5 1116.5l37.7 6.6"/>
<path d="M905 1133.8l1.6 10.5"/>
<path d="M922.3 1133.8l1 20.1"/>
<path d="M939.7 1133.8l-1.8 30.3"/>
<path d="M957 1133.8l-4.9 28.5"/>
<path d="M974.4 1133.8l-7.6 26.5"/>
<path d="M991.7 1133.8l-10.5 27"/>
<path d="M1009.1 1133.8l-12.8 25.1"/>
<path d="M1026.4 1133.8l-14.3 21.9"/>
<path d="M1043.8 1133.8l-15.6 19"/>
<path d="M1061.1 1133.8l-15.9 14.7"/>
<path d="M1078.5 1133.8l-15.4 9.6"/>
<path d="M1095.8 1133.8l-15.5 4.8"/>
<path d="M1113.2 1133.8l-16.3 -0.2"/>
<path d="M1130.5 1133.8l-15 -9"/>
<path d="M1147.9 1133.8l-8.5 -16.8"/>
<path d="M1165.2 1133.8l-2.3 -20.6"/>
<path d="M1182.6 1133.8l1.8 -21.9"/>
<path d="M1199.9 1133.8l2.9 -21.7"/>
<path d="M1217.3 1133.8l4 -22"/>
<path d="M1234.6 1133.8l5.2 -23.1"/>
<path d="M1252 1133.8l6.6 -24.8"/>
<path d="M1269.3 1133.8l10.3 -26.2"/>
<path d="M1286.6 1133.8l15.2 -28.3"/>
<path d="M1304 1133.8l21.2 -30.5"/>
<path d="M1321.3 1133.8l26.5 -30.2"/>
<path d="M1338.7 1133.8l32.7 -26.4"/>
<path d="M1356 1133.8l38.6 -21"/>
<path d="M1373.4 1133.8l43.6 -14.3"/>
<path d="M1390.7 1133.8l46.7 -7"/>
<path d="M1408.1 1133.8l46.4 -2.9"/>
<path d="M1425.4 1133.8l45.2 1.1"/>
<path d="M1442.8 1133.8l42.5 4.7"/>
<path d="M1460.1 1133.8l40 8"/>
<path d="M1477.5 1133.8l39.4 7.8"/>
<path d="M1494.8 1133.8l38.1 7.6"/>
<path d="M1512.2 1133.8l37.5 7.5"/>
<path d="M1529.5 1133.8l37.5 7.5"/>
<path d="M905 1151.2l2.9 10.2"/>
<path d="M922.3 1151.2l2.8 15"/>
<path d="M939.7 1151.2l2 23.6"/>
<path d="M957 1151.2l-0.4 27.1"/>
<path d="M974.4 1151.2l-3.3 28.8"/>
<path d="M991.7 1151.2l-5.3 31.5"/>
<path d="M1009.1 1151.2l-6.9 30.4"/>
<path d="M1026.4 1151.2l-7.7 26.4"/>
<path d="M1043.8 1151.2l-8.1 22.3"/>
<path d="M1061.1 1151.2l-6.7 18.3"/>
<path d="M1078.5 1151.2l-4.9 13.5"/>
<path d="M1095.8 1151.2l-3.4 9.4"/>
<path d="M1113.2 1151.2l-3 8.3"/>
<path d="M1130.5 1151.2l5 -10"/>
<path d="M1147.9 1151.2l5.6 -13.2"/>
<path d="M1165.2 1151.2l6.8 -16.2"/>
<path d="M1182.6 1151.2l7.9 -19.1"/>
<path d="M1199.9 1151.2l8.5 -21.2"/>
<path d="M1217.3 1151.2l8.9 -23.1"/>
<path d="M1234.6 1151.2l9.5 -25.4"/>
<path d="M1252 1151.2l10.2 -28"/>
<path d="M1269.3 1151.2l13.6 -30"/>
<path d="M1286.6 1151.2l18.2 -33.1"/>
<path d="M1304 1151.2l23 -35.2"/>
<path d="M1321.3 1151.2l27.2 -35.4"/>
<path d="M1338.7 1151.2l36 -32.4"/>
<path d="M1356 1151.2l43.9 -26"/>
<path d="M1373.4 1151.2l48.7 -17.2"/>
<path d="M1390.7 1151.2l51.6 -8.2"/>
<path d="M1408.1 1151.2l51.5 -3.3"/>
<path d="M1425.4 1151.2l50.3 1.5"/>
<path d="M1442.8 1151.2l47.4 6"/>
<path d="M1460.1 1151.2l44.8 9.9"/>
<path d="M1477.5 1151.2l43.6 9.7"/>
<path d="M1494.8 1151.2l41.7 9.2"/>
<path d="M1512.2 1151.2l40.5 9"/>
<path d="M1529.5 1151.2l39.8 8.8"/>
<path d="M905 1168.5l6.6 15.5"/>
<path d="M922.3 1168.5l4.7 14.2"/>
<path d="M939.7 1168.5l3.5 15"/>
<path d="M957 1168.5l2.6 18.6"/>
<path d="M974.4 1168.5l1.3 24.7"/>
<path d="M991.7 1168.5l1.2 32.9"/>
<path d="M1009.1 1168.5l0.7 34.5"/>
<path d="M1026.4 1168.5l0.2 29.8"/>
<path d="M1043.8 1168.5l-0.3 25.2"/>
<path d="M1061.1 1168.5l2.7 21.4"/>
<path d="M1078.5 1168.5l5.3 16.1"/>
<path d="M1095.8 1168.5l6.8 10.6"/>
<path d="M1113.2 1168.5l7.8 6.4"/>
<path d="M1130.5 1168.5l10.4 1.9"/>
<path d="M1147.9 1168.5l12.3 -4.3"/>
<path d="M1165.2 1168.5l12.2 -9.8"/>
<path d="M1182.6 1168.5l12.6 -14.9"/>
<path d="M1199.9 1168.5l14 -19.2"/>
<path d="M1217.3 1168.5l14.7 -23.3"/>
<path d="M1234.6 1168.5l15.3 -28.2"/>
<path d="M1252 1168.5l15 -32.2"/>
<path d="M1269.3 1168.5l17.6 -34.3"/>
<path d="M1286.6 1168.5l20.7 -36.7"/>
<path d="M1304 1168.5l23.7 -38.6"/>
<path d="M1321.3 1168.5l26.6 -39.8"/>
<path d="M1338.7 1168.5l35.6 -35.6"/>
<path d="M1356 1168.5l44.5 -28.7"/>
<path d="M1373.4 1168.5l50.1 -18.9"/>
<path d="M1390.7 1168.5l52.2 -8.7"/>
<path d="M1408.1 1168.5l51.5 -3.4"/>
<path d="M1425.4 1168.5l50.3 1.9"/>
<path d="M1442.8 1168.5l48 6.7"/>
<path d="M1460.1 1168.5l45.2 11.1"/>
<path d="M1477.5 1168.5l44 10.8"/>
<path d="M1494.8 1168.5l43.3 10.6"/>
<path d="M1512.2 1168.5l42.1 10.3"/>
<path d="M1529.5 1168.5l40.9 10"/>
<path d="M905 1185.9l11.9 20.5"/>
<path d="M922.3 1185.9l8.8 18.4"/>
<path d="M939.7 1185.9l5.1 13.4"/>
<path d="M957 1185.9l3.5 11.9"/>
<path d="M974.4 1185.9l3.4 16.1"/>
<path d="M991.7 1185.9l6.2 27.4"/>
<path d="M1009.1 1185.9l8.5 35.3"/>
<path d="M1026.4 1185.9l8.1 31.9"/>
<path d="M1043.8 1185.9l7.3 27.2"/>
<path d="M1061.1 1185.9l11 22.7"/>
<path d="M1078.5 1185.9l13.7 17.9"/>
<path d="M1095.8 1185.9l14.9 12.9"/>
<path d="M1113.2 1185.9l15.1 8.7"/>
<path d="M1130.5 1185.9l15.1 4.1"/>
<path d="M1147.9 1185.9l15 -0.7"/>
<path d="M1165.2 1185.9l15.4 -5.6"/>
<path d="M1182.6 1185.9l16 -11.2"/>
<path d="M1199.9 1185.9l17.9 -15.6"/>
<path d="M1217.3 1185.9l19.1 -20.9"/>
<path d="M1234.6 1185.9l20.5 -28"/>
<path d="M1252 1185.9l19.8 -34.2"/>
<path d="M1269.3 1185.9l21.4 -37"/>
<path d="M1286.6 1185.9l22.6 -39.2"/>
<path d="M1304 1185.9l23.3 -40.3"/>
<path d="M1321.3 1185.9l23.9 -41.4"/>
<path d="M1338.7 1185.9l32.8 -36.6"/>
<path d="M1356 1185.9l41.3 -28.9"/>
<path d="M1373.4 1185.9l46.7 -18.8"/>
<path d="M1390.7 1185.9l47.7 -8.4"/>
<path d="M1408.1 1185.9l45.8 -3.1"/>
<path d="M1425.4 1185.9l43.9 1.9"/>
<path d="M1442.8 1185.9l42.2 6.6"/>
<path d="M1460.1 1185.9l40 10.7"/>
<path d="M1477.5 1185.9l39.4 10.6"/>
<path d="M1494.8 1185.9l39.4 10.6"/>
<path d="M1512.2 1185.9l38.8 10.4"/>
<path d="M1529.5 1185.9l38.2 10.2"/>
<path d="M905 1203.2l11.4 25.9"/>
<path d="M922.3 1203.2l10.1 22.9"/>
<path d="M939.7 1203.2l7.2 16.5"/>
<path d="M957 1203.2l5.2 12"/>
<path d="M974.4 1203.2l4.7 10.8"/>
<path d="M991.7 1203.2l7.1 16.6"/>
<path d="M1009.1 1203.2l11.5 27.2"/>
<path d="M1026.4 1203.2l13.3 32"/>
<path d="M1043.8 1203.2l12.2 29.7"/>
<path d="M1061.1 1203.2l14.8 24.9"/>
<path d="M1078.5 1203.2l17.5 21.3"/>
<path d="M1095.8 1203.2l18.8 16.9"/>
<path d="M1113.2 1203.2l19 12.7"/>
<path d="M1130.5 1203.2l19.7 8.8"/>
<path d="M1147.9 1203.2l19.9 4.3"/>
<path d="M1165.2 1203.2l18.3 -0.5"/>
<path d="M1182.6 1203.2l17.6 -5.1"/>
<path d="M1199.9 1203.2l19.4 -10.6"/>
<path d="M1217.3 1203.2l21.2 -18"/>
<path d="M1234.6 1203.2l22.1 -26.7"/>
<path d="M1252 1203.2l21.2 -34.9"/>
<path d="M1269.3 1203.2l21.7 -39"/>
<path d="M1286.6 1203.2l21.4 -42"/>
<path d="M1304 1203.2l19.8 -42.8"/>
<path d="M1321.3 1203.2l18.2 -43.5"/>
<path d="M1338.7 1203.2l25.1 -41.4"/>
<path d="M1356 1203.2l31.4 -36.1"/>
<path d="M1373.4 1203.2l36.1 -28.4"/>
<path d="M1390.7 1203.2l38 -19.5"/>
<path d="M1408.1 1203.2l36.8 -10.9"/>
<path d="M1425.4 1203.2l35.1 -3.8"/>
<path d="M1442.8 1203.2l34.6 1.9"/>
<path d="M1460.1 1203.2l34.8 6.9"/>
<path d="M1477.5 1203.2l36.4 8.1"/>
<path d="M1494.8 1203.2l37.2 9.1"/>
<path d="M1512.2 1203.2l36 9.7"/>
<path d="M1529.5 1203.2l34.9 10.2"/>
<path d="M905 1220.6l9.9 31.3"/>
<path d="M922.3 1220.6l10.7 26.6"/>
<path d="M939.7 1220.6l9.6 19.2"/>
<path d="M957 1220.6l7.8 12.9"/>
<path d="M974.4 1220.6l6.9 9.5"/>
<path d="M991.7 1220.6l7 10.2"/>
<path d="M1009.1 1220.6l10.4 16.1"/>
<path d="M1026.4 1220.6l15.7 25.6"/>
<path d="M1043.8 1220.6l17.3 30"/>
<path d="M1061.1 1220.6l19.2 26.7"/>
<path d="M1078.5 1220.6l20.1 22.8"/>
<path d="M1095.8 1220.6l20.6 19.2"/>
<path d="M1113.2 1220.6l20 15.4"/>
<path d="M1130.5 1220.6l19.9 12.9"/>
<path d="M1147.9 1220.6l20.3 10.5"/>
<path d="M1165.2 1220.6l18.3 6.9"/>
<path d="M1182.6 1220.6l16 3.5"/>
<path d="M1199.9 1220.6l19 -3.1"/>
<path d="M1217.3 1220.6l22.6 -13.2"/>
<path d="M1234.6 1220.6l23.4 -24.5"/>
<path d="M1252 1220.6l21.9 -34.4"/>
<path d="M1269.3 1220.6l21.1 -39.3"/>
<path d="M1286.6 1220.6l18.9 -42.5"/>
<path d="M1304 1220.6l15.7 -44.5"/>
<path d="M1321.3 1220.6l12.4 -46.2"/>
<path d="M1338.7 1220.6l16.5 -44.9"/>
<path d="M1356 1220.6l20.1 -41.2"/>
<path d="M1373.4 1220.6l23.1 -36"/>
<path d="M1390.7 1220.6l23.8 -28.3"/>
<path d="M1408.1 1220.6l23.3 -15.4"/>
<path d="M1425.4 1220.6l21.1 -6.5"/>
<path d="M1442.8 1220.6l20.8 -1.2"/>
<path d="M1460.1 1220.6l22.1 2.9"/>
<path d="M1477.5 1220.6l27.2 4.8"/>
<path d="M1494.8 1220.6l31.3 7"/>
<path d="M1512.2 1220.6l30.5 8.2"/>
<path d="M1529.5 1220.6l28.6 9"/>
<path d="M905 1237.9l7 35.6"/>
<path d="M922.3 1237.9l11 30.4"/>
<path d="M939.7 1237.9l12 21.4"/>
<path d="M957 1237.9l10.7 13.1"/>
<path d="M974.4 1237.9l9.3 8.2"/>
<path d="M991.7 1237.9l8.9 8.6"/>
<path d="M1009.1 1237.9l10.7 11.5"/>
<path d="M1026.4 1237.9l14.5 17.1"/>
<path d="M1043.8 1237.9l18.7 24.2"/>
<path d="M1061.1 1237.9l21.9 25.7"/>
<path d="M1078.5 1237.9l21.9 23.3"/>
<path d="M1095.8 1237.9l21.8 21.1"/>
<path d="M1113.2 1237.9l21.2 18.6"/>
<path d="M1130.5 1237.9l19 16.6"/>
<path d="M1147.9 1237.9l17.2 15"/>
<path d="M1165.2 1237.9l14.7 12.8"/>
<path d="M1182.6 1237.9l11.3 9.9"/>
<path d="M1199.9 1237.9l15.6 4.7"/>
<path d="M1217.3 1237.9l22.2 -6.4"/>
<path d="M1234.6 1237.9l23.6 -20.9"/>
<path d="M1252 1237.9l21.8 -32.6"/>
<path d="M1269.3 1237.9l19.9 -38.5"/>
<path d="M1286.6 1237.9l15.8 -41.7"/>
<path d="M1304 1237.9l11 -43.9"/>
<path d="M1321.3 1237.9l6 -46.2"/>
<path d="M1338.7 1237.9l7.8 -46.5"/>
<path d="M1356 1237.9l9.3 -44.3"/>
<path d="M1373.4 1237.9l10.2 -39.5"/>
<path d="M1390.7 1237.9l9.8 -31.7"/>
<path d="M1408.1 1237.9l13.8 -18.5"/>
<path d="M1425.4 1237.9l15.1 -8.9"/>
<path d="M1442.8 1237.9l16 -3"/>
<path d="M1460.1 1237.9l16.9 1.1"/>
<path d="M1477.5 1237.9l20.7 2.7"/>
<path d="M1494.8 1237.9l24.8 4.9"/>
<path d="M1512.2 1237.9l24.8 6.7"/>
<path d="M1529.5 1237.9l23.3 7.9"/>
<path d="M905 1255.3l3.4 39.4"/>
<path d="M922.3 1255.3l11.1 34.4"/>
<path d="M939.7 1255.3l15.2 23.8"/>
<path d="M957 1255.3l15.3 14.2"/>
<path d="M974.4 1255.3l14.1 8.1"/>
<path d="M991.7 1255.3l12.5 8.4"/>
<path d="M1009.1 1255.3l13.5 10.4"/>
<path d="M1026.4 1255.3l15.1 13.3"/>
<path d="M1043.8 1255.3l17.8 17.8"/>
<path d="M1061.1 1255.3l21.6 21.6"/>
<path d="M1078.5 1255.3l23.2 23.2"/>
<path d="M1095.8 1255.3l22.6 22.6"/>
<path d="M1113.2 1255.3l21.5 21.5"/>
<path d="M1130.5 1255.3l18.6 21.2"/>
<path d="M1147.9 1255.3l15.4 20"/>
<path d="M1165.2 1255.3l12 18"/>
<path d="M1182.6 1255.3l8.1 14.1"/>
<path d="M1199.9 1255.3l11.4 9.8"/>
<path d="M1217.3 1255.3l20.4 0.9"/>
<path d="M1234.6 1255.3l23 -16.5"/>
<path d="M1252 1255.3l20.7 -29.6"/>
<path d="M1269.3 1255.3l18.2 -36.5"/>
<path d="M1286.6 1255.3l12.5 -39.5"/>
<path d="M1304 1255.3l6.1 -40.3"/>
<path d="M1321.3 1255.3l0 -42.7"/>
<path d="M1338.7 1255.3l0 -46.5"/>
<path d="M1356 1255.3l0 -46.5"/>
<path d="M1373.4 1255.3l0 -42.7"/>
<path d="M1390.7 1255.3l0 -35.2"/>
<path d="M1408.1 1255.3l8.1 -24.4"/>
<path d="M1425.4 1255.3l14.7 -14.7"/>
<path d="M1442.8 1255.3l19.7 -6.6"/>
<path d="M1460.1 1255.3l22.4 -0"/>
<path d="M1477.5 1255.3l23.6 2.1"/>
<path d="M1494.8 1255.3l24.2 4.3"/>
<path d="M1512.2 1255.3l22.9 6.2"/>
<path d="M1529.5 1255.3l21.4 7.8"/>
<path d="M905 1272.6l3.7 41.9"/>
<path d="M922.3 1272.6l11 37.6"/>
<path d="M939.7 1272.6l15.1 27.7"/>
<path d="M957 1272.6l16.6 19"/>
<path d="M974.4 1272.6l17.1 13.2"/>
<path d="M991.7 1272.6l15.5 11.9"/>
<path d="M1009.1 1272.6l16.3 12.5"/>
<path d="M1026.4 1272.6l18 13.8"/>
<path d="M1043.8 1272.6l20 15.4"/>
<path d="M1061.1 1272.6l22.6 18.1"/>
<path d="M1078.5 1272.6l25.1 21.1"/>
<path d="M1095.8 1272.6l26 22.8"/>
<path d="M1113.2 1272.6l25.6 23.4"/>
<path d="M1130.5 1272.6l21.5 23.9"/>
<path d="M1147.9 1272.6l16.7 22.7"/>
<path d="M1165.2 1272.6l12.8 21.7"/>
<path d="M1182.6 1272.6l8.3 17.9"/>
<path d="M1199.9 1272.6l11 11.2"/>
<path d="M1217.3 1272.6l18.7 2"/>
<path d="M1234.6 1272.6l21.5 -14.1"/>
<path d="M1252 1272.6l20.6 -26.9"/>
<path d="M1269.3 1272.6l18.1 -34.4"/>
<path d="M1286.6 1272.6l11.7 -37.1"/>
<path d="M1304 1272.6l4.7 -37"/>
<path d="M1321.3 1272.6l-1.7 -38.5"/>
<path d="M1338.7 1272.6l-3.3 -43.2"/>
<path d="M1356 1272.6l-5 -45.6"/>
<path d="M1373.4 1272.6l-6.4 -44.8"/>
<path d="M1390.7 1272.6l-7 -39.7"/>
<path d="M1408.1 1272.6l-4.2 -29.5"/>
<path d="M1425.4 1272.6l-0.7 -18.5"/>
<path d="M1442.8 1272.6l14.9 5"/>
<path d="M1460.1 1272.6l8.2 19.7"/>
<path d="M1477.5 1272.6l11.1 19.3"/>
<path d="M1494.8 1272.6l11.5 16.6"/>
<path d="M1512.2 1272.6l16.2 21"/>
<path d="M1529.5 1272.6l21 25"/>
<path d="M905 1290l3.8 43.2"/>
<path d="M922.3 1290l10.3 39.5"/>
<path d="M939.7 1290l14.3 30.7"/>
<path d="M957 1290l15.9 22.5"/>
<path d="M974.4 1290l17.4 17.4"/>
<path d="M991.7 1290l17.8 15.6"/>
<path d="M1009.1 1290l19.2 14.7"/>
<path d="M1026.4 1290l21.4 14.3"/>
<path d="M1043.8 1290l24.4 14.1"/>
<path d="M1061.1 1290l25.6 16.3"/>
<path d="M1078.5 1290l26.8 18.8"/>
<path d="M1095.8 1290l28.8 22.1"/>
<path d="M1113.2 1290l29.3 24.6"/>
<path d="M1130.5 1290l24 26.1"/>
<path d="M1147.9 1290l17.9 25.5"/>
<path d="M1165.2 1290l12.7 24.5"/>
<path d="M1182.6 1290l7.7 21.1"/>
<path d="M1199.9 1290l10.3 12.6"/>
<path d="M1217.3 1290l16 2.8"/>
<path d="M1234.6 1290l19.9 -11.9"/>
<path d="M1252 1290l19.8 -23.5"/>
<path d="M1269.3 1290l17.3 -31"/>
<path d="M1286.6 1290l10.9 -34.7"/>
<path d="M1304 1290l3.5 -34.4"/>
<path d="M1321.3 1290l-2.9 -33.6"/>
<path d="M1338.7 1290l-5.7 -37.3"/>
<path d="M1356 1290l-9.2 -41.7"/>
<path d="M1373.4 1290l-12.7 -43.5"/>
<path d="M1390.7 1290l-15.5 -42.5"/>
<path d="M1408.1 1290l-25.1 -30.6"/>
<path d="M1425.4 1290l-27.5 -6.1"/>
<path d="M1442.8 1290l-20.1 9.7"/>
<path d="M1460.1 1290l-18.6 18.6"/>
<path d="M1477.5 1290l-14.9 23.8"/>
<path d="M1494.8 1290l-8.1 25.7"/>
<path d="M1512.2 1290l-1.7 34.2"/>
<path d="M1529.5 1290l7.1 40.2"/>
<path d="M905 1307.3l5.5 41.7"/>
<path d="M922.3 1307.3l10.3 38.8"/>
<path d="M939.7 1307.3l13.2 32.1"/>
<path d="M957 1307.3l14.5 25"/>
<path d="M974.4 1307.3l15.9 20.7"/>
<path d="M991.7 1307.3l18.1 18"/>
<path d="M1009.1 1307.3l20.9 15.6"/>
<path d="M1026.4 1307.3l24.7 13.6"/>
<path d="M1043.8 1307.3l29.1 11.2"/>
<path d="M1061.1 1307.3l30.7 14"/>
<path d="M1078.5 1307.3l31.3 16.7"/>
<path d="M1095.8 1307.3l31 19"/>
<path d="M1113.2 1307.3l30.5 21.4"/>
<path d="M1130.5 1307.3l26.5 26.2"/>
<path d="M1147.9 1307.3l19.3 27.6"/>
<path d="M1165.2 1307.3l12.1 26.3"/>
<path d="M1182.6 1307.3l6.3 23.5"/>
<path d="M1199.9 1307.3l8.8 13"/>
<path d="M1217.3 1307.3l12.2 3"/>
<path d="M1234.6 1307.3l17.3 -9.4"/>
<path d="M1252 1307.3l18 -19.6"/>
<path d="M1269.3 1307.3l15.6 -27"/>
<path d="M1286.6 1307.3l9.2 -31.5"/>
<path d="M1304 1307.3l1.3 -30.5"/>
<path d="M1321.3 1307.3l-4.9 -27.9"/>
<path d="M1338.7 1307.3l-7.6 -29.8"/>
<path d="M1356 1307.3l-11.3 -33.3"/>
<path d="M1373.4 1307.3l-15.6 -36.5"/>
<path d="M1390.7 1307.3l-20.3 -39"/>
<path d="M1408.1 1307.3l-30.5 -32.6"/>
<path d="M1425.4 1307.3l-37.2 -17.5"/>
<path d="M1442.8 1307.3l-37.4 -1"/>
<path d="M1460.1 1307.3l-34.5 10.9"/>
<path d="M1477.5 1307.3l-32.9 17.6"/>
<path d="M1494.8 1307.3l-29.2 24.7"/>
<path d="M1512.2 1307.3l-22.5 29.8"/>
<path d="M1529.5 1307.3l-15.4 32.9"/>
<path d="M905 1324.7l7.1 40.2"/>
<path d="M922.3 1324.7l10.2 38.2"/>
<path d="M939.7 1324.7l11.9 32.6"/>
<path d="M957 1324.7l12.5 26.8"/>
<path d="M974.4 1324.7l13.4 23.2"/>
<path d="M991.7 1324.7l16.9 19.1"/>
<path d="M1009.1 1324.7l21.7 15.7"/>
<path d="M1026.4 1324.7l27.1 11.8"/>
<path d="M1043.8 1324.7l32.1 6.8"/>
<path d="M1061.1 1324.7l34.8 10.3"/>
<path d="M1078.5 1324.7l35.7 13.7"/>
<path d="M1095.8 1324.7l32.8 15.7"/>
<path d="M1113.2 1324.7l31.5 18.2"/>
<path d="M1130.5 1324.7l28.5 25.5"/>
<path d="M1147.9 1324.7l19.9 28.4"/>
<path d="M1165.2 1324.7l11 27.5"/>
<path d="M1182.6 1324.7l4.3 24.6"/>
<path d="M1199.9 1324.7l7 12.8"/>
<path d="M1217.3 1324.7l10.2 3.2"/>
<path d="M1234.6 1324.7l16.2 -8"/>
<path d="M1252 1324.7l17.7 -17.7"/>
<path d="M1269.3 1324.7l15.3 -25.3"/>
<path d="M1286.6 1324.7l8.1 -30"/>
<path d="M1304 1324.7l-0.5 -28.3"/>
<path d="M1321.3 1324.7l-6.6 -24.6"/>
<path d="M1338.7 1324.7l-9.1 -25.2"/>
<path d="M1356 1324.7l-12.5 -26.8"/>
<path d="M1373.4 1324.7l-17.4 -30"/>
<path d="M1390.7 1324.7l-23.4 -33.4"/>
<path d="M1408.1 1324.7l-31.1 -30.2"/>
<path d="M1425.4 1324.7l-36.6 -23.3"/>
<path d="M1442.8 1324.7l-39.3 -14.9"/>
<path d="M1460.1 1324.7l-38.9 -6.9"/>
<path d="M1477.5 1324.7l-38.2 -0.2"/>
<path d="M1494.8 1324.7l-37.7 6.6"/>
<path d="M1512.2 1324.7l-34.1 12.6"/>
<path d="M1529.5 1324.7l-29.8 17.2"/>
</g>
<ellipse cx="1122" cy="1162" rx="1.2" ry="1.2" fill="#fff"/>
<ellipse cx="1434" cy="1279" rx="1.3" ry="1.3" fill="#fff"/>
<ellipse cx="906" cy="1125" rx="1.2" ry="2.5" fill="#fff"/>
<path d="M1172.5 1250.8l3 -4l4 2l5 1l-2 4l-6 0z" fill="#111"/>
<circle cx="1229.5" cy="1207.2" r="11.3" fill="#000"/>
<rect class="sp" x="905" y="1116.5" width="627" height="217.5"/>
<text class="tm" x="892.2" y="1126.3" text-anchor="end">30°S</text>
<text class="tm" x="892.2" y="1195.7" text-anchor="end">40°S</text>
<text class="tm" x="892.2" y="1265.1" text-anchor="end">50°S</text>
<text class="tm" x="892.2" y="1334.5" text-anchor="end">60°S</text>
<text class="tm" x="905" y="1371.1" text-anchor="middle">30°E</text>
<text class="tm" x="1113" y="1371.1" text-anchor="middle">60°E</text>
<text class="tm" x="1321.5" y="1371.1" text-anchor="middle">90°E</text>
<text class="tm" x="1531.5" y="1371.1" text-anchor="middle">120°E</text>
<rect x="1603.5" y="146.3" width="35.7" height="20.2" fill="#810602"/>
<rect x="1603.5" y="166.1" width="35.7" height="20.2" fill="#920b01"/>
<rect x="1603.5" y="185.8" width="35.7" height="20.2" fill="#9e1001"/>
<rect x="1603.5" y="205.6" width="35.7" height="20.2" fill="#ac1701"/>
<rect x="1603.5" y="225.4" width="35.7" height="20.2" fill="#b91e02"/>
<rect x="1603.5" y="245.1" width="35.7" height="20.2" fill="#c52603"/>
<rect x="1603.5" y="264.9" width="35.7" height="20.2" fill="#ce2d04"/>
<rect x="1603.5" y="284.7" width="35.7" height="20.2" fill="#d83706"/>
<rect x="1603.5" y="304.4" width="35.7" height="20.2" fill="#e14109"/>
<rect x="1603.5" y="324.2" width="35.7" height="20.2" fill="#e84b0c"/>
<rect x="1603.5" y="344" width="35.7" height="20.2" fill="#ed5510"/>
<rect x="1603.5" y="363.8" width="35.7" height="20.2" fill="#f36315"/>
<rect x="1603.5" y="383.5" width="35.7" height="20.2" fill="#f8721c"/>
<rect x="1603.5" y="403.3" width="35.7" height="20.2" fill="#fb7e21"/>
<rect x="1603.5" y="423.1" width="35.7" height="20.2" fill="#fd8d27"/>
<rect x="1603.5" y="442.8" width="35.7" height="20.2" fill="#fe9b2d"/>
<rect x="1603.5" y="462.6" width="35.7" height="20.2" fill="#fea933"/>
<rect x="1603.5" y="482.4" width="35.7" height="20.2" fill="#fcb336"/>
<rect x="1603.5" y="502.1" width="35.7" height="20.2" fill="#f8be39"/>
<rect x="1603.5" y="521.9" width="35.7" height="20.2" fill="#f2c93a"/>
<rect x="1603.5" y="541.7" width="35.7" height="20.2" fill="#ebd339"/>
<rect x="1603.5" y="561.4" width="35.7" height="20.2" fill="#e3db38"/>
<rect x="1603.5" y="581.2" width="35.7" height="20.2" fill="#d9e436"/>
<rect x="1603.5" y="601" width="35.7" height="20.2" fill="#cdec34"/>
<rect x="1603.5" y="620.7" width="35.7" height="20.2" fill="#c1f334"/>
<rect x="1603.5" y="640.5" width="35.7" height="20.2" fill="#b7f735"/>
<rect x="1603.5" y="660.3" width="35.7" height="20.2" fill="#a9fb39"/>
<rect x="1603.5" y="680" width="35.7" height="20.2" fill="#9cfe40"/>
<rect x="1603.5" y="699.8" width="35.7" height="20.2" fill="#8bff4b"/>
<rect x="1603.5" y="719.6" width="35.7" height="20.2" fill="#7dff56"/>
<rect x="1603.5" y="739.4" width="35.7" height="20.2" fill="#69fd66"/>
<rect x="1603.5" y="759.1" width="35.7" height="20.2" fill="#55fa76"/>
<rect x="1603.5" y="778.9" width="35.7" height="20.2" fill="#43f787"/>
<rect x="1603.5" y="798.7" width="35.7" height="20.2" fill="#35f394"/>
<rect x="1603.5" y="818.4" width="35.7" height="20.2" fill="#27eea4"/>
<rect x="1603.5" y="838.2" width="35.7" height="20.2" fill="#1de7b2"/>
<rect x="1603.5" y="858" width="35.7" height="20.2" fill="#18e0bd"/>
<rect x="1603.5" y="877.7" width="35.7" height="20.2" fill="#18d9c8"/>
<rect x="1603.5" y="897.5" width="35.7" height="20.2" fill="#1bd0d5"/>
<rect x="1603.5" y="917.3" width="35.7" height="20.2" fill="#22c5e2"/>
<rect x="1603.5" y="937" width="35.7" height="20.2" fill="#28bceb"/>
<rect x="1603.5" y="956.8" width="35.7" height="20.2" fill="#31aff5"/>
<rect x="1603.5" y="976.6" width="35.7" height="20.2" fill="#3aa3fc"/>
<rect x="1603.5" y="996.3" width="35.7" height="20.2" fill="#4196ff"/>
<rect x="1603.5" y="1016.1" width="35.7" height="20.2" fill="#458cfd"/>
<rect x="1603.5" y="1035.9" width="35.7" height="20.2" fill="#4680f6"/>
<rect x="1603.5" y="1055.7" width="35.7" height="20.2" fill="#4773eb"/>
<rect x="1603.5" y="1075.4" width="35.7" height="20.2" fill="#4666dd"/>
<rect x="1603.5" y="1095.2" width="35.7" height="20.2" fill="#455ccf"/>
<rect x="1603.5" y="1115" width="35.7" height="20.2" fill="#434eba"/>
<rect x="1603.5" y="1134.7" width="35.7" height="20.2" fill="#4040a2"/>
<rect x="1603.5" y="1154.5" width="35.7" height="20.2" fill="#3c3286"/>
<rect x="1603.5" y="1174.3" width="35.7" height="20.2" fill="#38276d"/>
<rect x="1603.5" y="1194" width="35.7" height="20.2" fill="#33184a"/>
<rect x="1603.5" y="146.5" width="35.7" height="1067.5" fill="none" stroke="#000" stroke-width="1.6"/>
<text class="t40" x="1653.4" y="160.3">28.0</text>
<text class="t40" x="1653.4" y="338.2">23.5</text>
<text class="t40" x="1653.4" y="516.1">19.0</text>
<text class="t40" x="1653.4" y="694">14.5</text>
<text class="t40" x="1653.4" y="872">10.0</text>
<text class="t40" x="1653.4" y="1049.9">5.5</text>
<text class="t40" x="1653.4" y="1227.8">1.0</text>
<path class="tk" d="M1639.2 146.5h7.2M1639.2 324.4h7.2M1639.2 502.3h7.2M1639.2 680.2h7.2M1639.2 858.2h7.2M1639.2 1036.1h7.2M1639.2 1214h7.2"/>
<text class="t40" style="font-size:40.7px" transform="translate(1761.5 680) rotate(-90)" text-anchor="middle">Wind Speed (m/s)</text>
</svg></body></html>
